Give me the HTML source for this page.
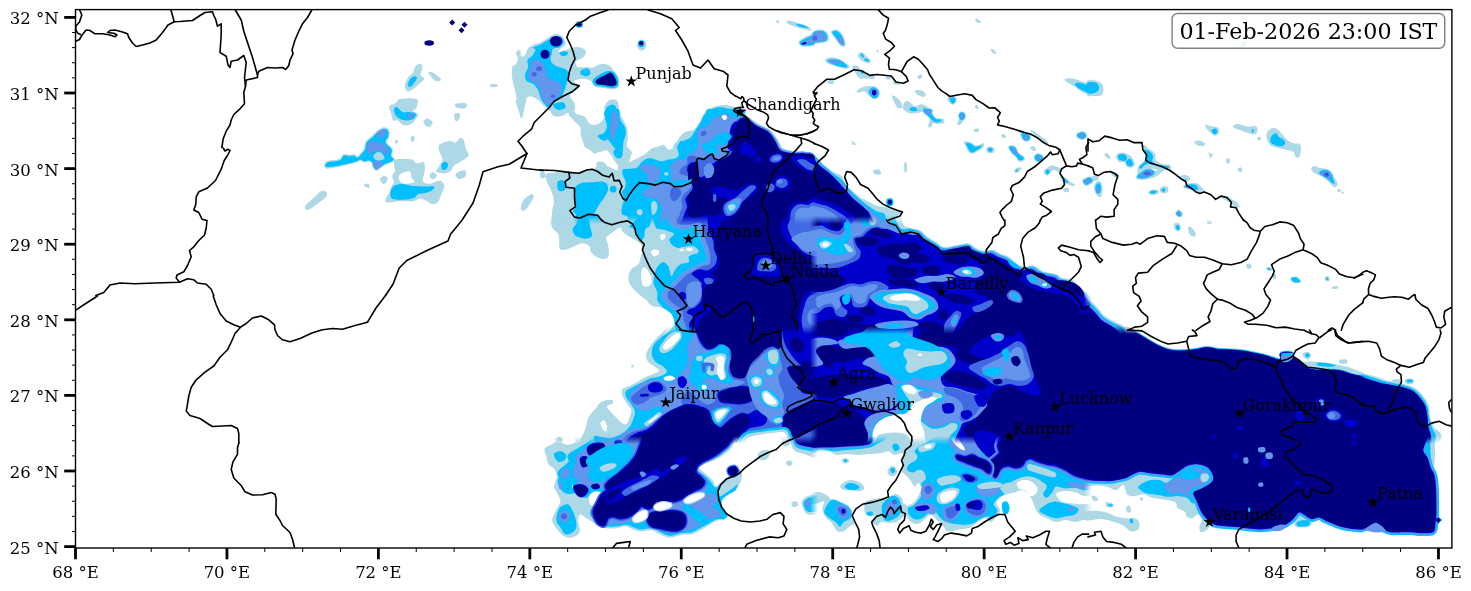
<!DOCTYPE html>
<html><head><meta charset="utf-8"><title>Rain map</title>
<style>
html,body{margin:0;padding:0;background:#fff;}
body{width:1471px;height:591px;overflow:hidden;}
svg{display:block;will-change:transform;}
text{font-family:"DejaVu Serif","Liberation Serif",serif;fill:#000;}
.tk{font-size:16.5px;}
.city{font-size:16px;}
.ts{font-size:22.2px;}
.bd{fill:none;stroke:#000;stroke-width:1.6;stroke-linejoin:round;stroke-linecap:round;}
</style></head><body>
<svg width="1471" height="591" viewBox="0 0 1471 591">
<defs><clipPath id="ax"><rect x="75.5" y="9.6" width="1376.4" height="538.4"/></clipPath><linearGradient id="gl" x1="0" y1="0" x2="1" y2="0"><stop offset="0" stop-color="#000" stop-opacity="1"/><stop offset="1" stop-color="#000" stop-opacity="0"/></linearGradient><linearGradient id="gt" x1="0" y1="0" x2="0" y2="1"><stop offset="0" stop-color="#000" stop-opacity="1"/><stop offset="1" stop-color="#000" stop-opacity="0"/></linearGradient><mask id="m0" maskUnits="userSpaceOnUse" x="539.0" y="216.0" width="279.0" height="118.0"><rect x="539.0" y="216.0" width="279.0" height="118.0" fill="#fff"/><rect x="539.0" y="216.0" width="279.0" height="8.0" fill="url(#gt)"/></mask><mask id="m1" maskUnits="userSpaceOnUse" x="810.0" y="216.0" width="282.0" height="118.0"><rect x="810.0" y="216.0" width="282.0" height="118.0" fill="#fff"/><rect x="810.0" y="216.0" width="8.0" height="118.0" fill="url(#gl)"/><rect x="810.0" y="216.0" width="282.0" height="8.0" fill="url(#gt)"/></mask><mask id="m2" maskUnits="userSpaceOnUse" x="1084.0" y="216.0" width="282.0" height="118.0"><rect x="1084.0" y="216.0" width="282.0" height="118.0" fill="#fff"/><rect x="1084.0" y="216.0" width="8.0" height="118.0" fill="url(#gl)"/><rect x="1084.0" y="216.0" width="282.0" height="8.0" fill="url(#gt)"/></mask><mask id="m3" maskUnits="userSpaceOnUse" x="539.0" y="326.0" width="279.0" height="118.0"><rect x="539.0" y="326.0" width="279.0" height="118.0" fill="#fff"/><rect x="539.0" y="326.0" width="279.0" height="8.0" fill="url(#gt)"/></mask><mask id="m4" maskUnits="userSpaceOnUse" x="810.0" y="326.0" width="282.0" height="118.0"><rect x="810.0" y="326.0" width="282.0" height="118.0" fill="#fff"/><rect x="810.0" y="326.0" width="8.0" height="118.0" fill="url(#gl)"/><rect x="810.0" y="326.0" width="282.0" height="8.0" fill="url(#gt)"/></mask><mask id="m5" maskUnits="userSpaceOnUse" x="1084.0" y="326.0" width="282.0" height="118.0"><rect x="1084.0" y="326.0" width="282.0" height="118.0" fill="#fff"/><rect x="1084.0" y="326.0" width="8.0" height="118.0" fill="url(#gl)"/><rect x="1084.0" y="326.0" width="282.0" height="8.0" fill="url(#gt)"/></mask><mask id="m6" maskUnits="userSpaceOnUse" x="1358.0" y="326.0" width="117.0" height="118.0"><rect x="1358.0" y="326.0" width="117.0" height="118.0" fill="#fff"/><rect x="1358.0" y="326.0" width="8.0" height="118.0" fill="url(#gl)"/><rect x="1358.0" y="326.0" width="117.0" height="8.0" fill="url(#gt)"/></mask><mask id="m7" maskUnits="userSpaceOnUse" x="539.0" y="436.0" width="279.0" height="118.0"><rect x="539.0" y="436.0" width="279.0" height="118.0" fill="#fff"/><rect x="539.0" y="436.0" width="279.0" height="8.0" fill="url(#gt)"/></mask><mask id="m8" maskUnits="userSpaceOnUse" x="810.0" y="436.0" width="282.0" height="118.0"><rect x="810.0" y="436.0" width="282.0" height="118.0" fill="#fff"/><rect x="810.0" y="436.0" width="8.0" height="118.0" fill="url(#gl)"/><rect x="810.0" y="436.0" width="282.0" height="8.0" fill="url(#gt)"/></mask><mask id="m9" maskUnits="userSpaceOnUse" x="1084.0" y="436.0" width="282.0" height="118.0"><rect x="1084.0" y="436.0" width="282.0" height="118.0" fill="#fff"/><rect x="1084.0" y="436.0" width="8.0" height="118.0" fill="url(#gl)"/><rect x="1084.0" y="436.0" width="282.0" height="8.0" fill="url(#gt)"/></mask><mask id="m10" maskUnits="userSpaceOnUse" x="1358.0" y="436.0" width="117.0" height="118.0"><rect x="1358.0" y="436.0" width="117.0" height="118.0" fill="#fff"/><rect x="1358.0" y="436.0" width="8.0" height="118.0" fill="url(#gl)"/><rect x="1358.0" y="436.0" width="117.0" height="8.0" fill="url(#gt)"/></mask></defs>
<rect x="0" y="0" width="1471" height="591" fill="#fff"/>
<g clip-path="url(#ax)">

<ellipse cx="641.8" cy="45.0" rx="4.5" ry="5.5" fill="#add8e6"/>
<path d="M405.0,85.0C405.2,82.7 406.7,79.6 408.0,77.5C409.3,75.4 411.8,74.4 413.0,72.5C414.2,70.6 414.2,67.7 415.5,66.2C416.8,64.8 419.3,63.5 420.5,63.8C421.7,64.0 422.5,65.6 422.5,67.5C422.5,69.4 420.2,73.1 420.5,75.0C420.8,76.9 424.7,77.1 424.2,78.8C423.8,80.4 420.1,83.1 418.0,85.0C415.9,86.9 413.6,89.0 411.8,90.0C409.9,91.0 407.9,92.1 406.8,91.2C405.6,90.4 404.8,87.3 405.0,85.0Z" fill="#add8e6"/>
<path d="M428.5,72.5C428.5,71.6 430.2,71.4 431.8,72.0C433.3,72.6 436.5,74.9 438.0,76.2C439.5,77.6 441.2,79.2 441.0,80.0C440.8,80.8 438.3,81.7 436.8,81.2C435.2,80.8 433.1,79.0 431.8,77.5C430.4,76.0 428.5,73.4 428.5,72.5Z" fill="#add8e6"/>
<path d="M490.5,84.2C491.5,83.8 495.7,83.8 496.8,84.2C497.8,84.7 497.8,86.3 496.8,86.8C495.7,87.2 491.5,87.2 490.5,86.8C489.5,86.3 489.5,84.7 490.5,84.2Z" fill="#add8e6"/>
<path d="M512.5,66.2C513.1,64.7 514.6,65.8 515.5,64.5C516.4,63.2 517.9,60.5 518.0,58.8C518.1,57.0 516.1,55.1 516.0,53.8C515.9,52.4 516.5,51.2 517.2,50.8C518.0,50.2 519.9,49.8 520.5,50.8C521.1,51.7 520.3,55.5 521.0,56.2C521.7,57.0 523.6,56.8 524.8,55.5C525.9,54.2 526.6,50.5 528.0,48.8C529.4,47.0 530.9,46.0 533.0,45.0C535.1,44.0 538.0,43.8 540.5,42.5C543.0,41.2 545.7,38.9 548.0,37.5C550.3,36.1 552.2,34.7 554.2,34.2C556.3,33.8 558.8,34.0 560.5,35.0C562.2,36.0 563.4,38.4 564.2,40.0C565.1,41.6 566.1,43.0 565.5,44.5C564.9,46.0 561.7,47.3 560.5,48.8C559.3,50.2 557.7,52.8 558.5,53.0C559.3,53.2 563.1,50.9 565.5,50.0C567.9,49.1 570.5,47.9 573.0,47.5C575.5,47.1 578.3,46.9 580.5,47.5C582.7,48.1 585.5,49.7 586.0,51.2C586.5,52.8 585.2,55.3 583.5,57.0C581.8,58.7 577.0,59.6 576.0,61.2C575.0,62.9 575.9,66.0 577.5,67.0C579.1,68.0 582.9,66.9 585.5,67.0C588.1,67.1 590.3,68.0 593.0,67.5C595.7,67.0 599.0,64.1 601.8,63.8C604.5,63.4 607.2,64.2 609.2,65.5C611.3,66.8 612.7,69.2 614.2,71.2C615.8,73.2 618.0,75.0 618.8,77.5C619.5,80.0 619.7,84.2 618.8,86.2C617.8,88.2 615.4,89.2 613.0,89.5C610.6,89.8 607.2,88.4 604.2,88.0C601.3,87.6 597.7,88.1 595.5,87.0C593.3,85.9 593.2,82.6 591.2,81.2C589.2,79.9 586.3,78.8 583.5,78.8C580.7,78.8 575.0,80.0 574.2,81.2C573.5,82.5 579.4,84.5 579.2,86.2C579.1,88.0 575.0,90.3 573.5,92.0C572.0,93.7 569.9,94.5 570.0,96.2C570.1,98.0 573.2,100.0 574.2,102.5C575.2,105.0 574.8,109.2 576.0,111.2C577.2,113.3 580.0,113.1 581.8,115.0C583.5,116.9 584.9,121.0 586.8,122.5C588.6,124.0 590.7,124.0 593.0,123.8C595.3,123.5 598.8,123.3 600.5,121.2C602.2,119.2 602.5,114.4 603.5,111.2C604.5,108.1 605.4,104.5 606.8,102.5C608.1,100.5 610.0,99.7 611.8,99.5C613.5,99.3 616.2,99.5 617.5,101.2C618.8,103.0 618.4,107.1 619.2,110.0C620.1,112.9 621.2,115.8 622.5,118.8C623.8,121.7 626.2,124.6 626.8,127.5C627.2,130.4 625.9,132.7 625.5,136.2C625.1,139.8 630.2,146.8 624.2,148.8C618.3,150.7 593.1,149.8 588.0,148.8C582.9,147.7 583.8,142.7 582.5,140.0C581.2,137.3 580.6,134.8 580.5,132.5C580.4,130.2 582.4,128.4 581.8,126.2C581.1,124.1 578.8,121.8 576.8,119.5C574.7,117.2 571.5,113.2 569.2,112.5C567.0,111.8 565.5,114.9 563.0,115.5C560.5,116.1 556.4,117.0 554.2,116.2C552.1,115.5 551.9,113.1 550.0,111.2C548.1,109.4 545.0,106.9 543.0,105.0C541.0,103.1 540.1,101.5 538.0,100.0C535.9,98.5 532.6,96.2 530.5,96.2C528.4,96.2 526.5,97.7 525.5,100.0C524.5,102.3 525.0,107.1 524.2,110.0C523.5,112.9 521.8,117.5 521.0,117.5C520.2,117.5 519.8,112.5 519.2,110.0C518.7,107.5 518.1,105.4 517.5,102.5C516.9,99.6 516.2,95.8 515.5,92.5C514.8,89.2 513.6,85.6 513.0,82.5C512.4,79.4 511.8,76.5 511.8,73.8C511.7,71.0 511.9,67.8 512.5,66.2Z" fill="#add8e6"/>
<path d="M674.2,148.8C669.5,148.0 676.3,142.7 678.0,140.0C679.7,137.3 681.8,134.2 684.2,132.5C686.8,130.8 690.7,131.2 693.0,130.0C695.3,128.8 696.5,127.1 698.0,125.0C699.5,122.9 700.5,119.8 701.8,117.5C703.0,115.2 703.6,112.9 705.5,111.2C707.4,109.6 710.1,108.5 713.0,107.5C715.9,106.5 719.9,105.2 723.0,105.0C726.1,104.8 729.5,105.6 731.8,106.2C734.0,106.9 736.4,106.0 736.8,108.8C737.1,111.5 747.2,142.1 736.8,148.8C726.3,155.4 679.0,149.5 674.2,148.8Z" fill="#add8e6"/>
<path d="M389.4,106.5C390.2,104.7 394.2,104.0 395.9,102.8C397.6,101.6 397.0,99.5 399.6,99.1C402.2,98.6 413.5,97.7 416.4,99.1C419.2,100.5 417.4,105.4 416.7,107.4C416.1,109.5 412.4,110.1 412.7,111.2C412.9,112.2 417.8,112.6 418.2,114.0C418.7,115.3 416.7,117.8 415.4,119.5C414.2,121.2 412.8,123.3 410.8,124.2C408.8,125.1 405.5,125.7 403.3,125.1C401.2,124.5 399.5,121.2 397.8,120.5C396.1,119.7 394.2,121.6 393.1,120.5C392.0,119.4 391.9,116.3 391.3,114.0C390.6,111.6 388.6,108.4 389.4,106.5Z" fill="#add8e6"/>
<path d="M423.4,122.0C423.3,120.5 426.0,118.5 427.5,118.6C429.1,118.7 432.6,121.2 432.7,122.7C432.9,124.2 430.0,127.5 428.5,127.3C426.9,127.2 423.6,123.4 423.4,122.0Z" fill="#add8e6"/>
<path d="M454.5,114.0C455.3,113.1 458.7,112.6 459.5,113.4C460.4,114.2 460.1,117.3 459.5,118.6C459.0,119.9 457.2,121.4 456.4,121.4C455.5,121.4 454.8,119.8 454.5,118.6C454.2,117.4 453.7,114.8 454.5,114.0Z" fill="#add8e6"/>
<path d="M455.8,103.7C457.4,103.0 464.0,102.7 465.7,103.2C467.4,103.6 466.9,105.6 466.6,106.5C466.3,107.4 465.5,108.2 463.8,108.4C462.1,108.5 457.7,108.2 456.4,107.4C455.0,106.7 454.3,104.4 455.8,103.7Z" fill="#add8e6"/>
<path d="M516.5,99.1C518.0,98.0 524.8,97.7 526.1,99.1C527.4,100.5 525.0,104.2 524.3,107.4C523.6,110.7 522.8,117.7 522.0,118.6C521.3,119.5 520.5,115.2 519.6,113.0C518.8,110.9 517.4,107.9 516.8,105.6C516.3,103.3 514.9,100.2 516.5,99.1Z" fill="#add8e6"/>
<path d="M439.3,144.7C441.0,142.8 447.2,141.2 449.9,140.9C452.6,140.6 453.7,143.3 455.4,142.8C457.1,142.3 458.7,138.6 460.1,138.1C461.5,137.7 462.9,138.3 463.8,140.0C464.7,141.7 464.9,145.7 465.7,148.4C466.4,151.0 469.2,153.6 468.5,155.8C467.7,158.0 463.3,159.8 461.0,161.4C458.7,162.9 456.2,163.6 454.5,165.1C452.8,166.7 452.5,169.3 450.8,170.7C449.1,172.1 446.8,173.3 444.3,173.5C441.8,173.6 436.8,172.7 435.9,171.6C435.0,170.5 437.6,169.0 438.7,167.0C439.8,165.0 442.3,162.0 442.4,159.5C442.6,157.1 440.2,154.6 439.6,152.1C439.1,149.6 437.6,146.5 439.3,144.7Z" fill="#add8e6"/>
<path d="M456.4,172.9C457.8,171.9 463.2,169.8 464.7,170.3C466.3,170.9 466.6,174.8 465.7,176.3C464.7,177.7 460.7,179.0 459.2,179.1C457.6,179.1 456.8,177.7 456.4,176.7C455.9,175.6 455.0,174.0 456.4,172.9Z" fill="#add8e6"/>
<path d="M429.8,174.4C430.2,173.5 431.9,172.0 433.1,172.2C434.3,172.3 436.7,174.2 436.8,175.3C437.0,176.5 435.1,178.7 434.0,179.1C433.0,179.5 431.0,178.5 430.3,177.8C429.6,177.0 429.3,175.3 429.8,174.4Z" fill="#add8e6"/>
<path d="M410.8,137.2C411.2,136.3 413.5,135.7 414.1,136.3C414.8,136.8 414.9,139.6 414.5,140.6C414.1,141.5 412.3,142.4 411.7,141.9C411.1,141.3 410.4,138.1 410.8,137.2Z" fill="#add8e6"/>
<path d="M395.5,140.6C395.8,140.0 397.0,139.6 397.4,140.0C397.8,140.4 398.0,142.3 397.8,142.8C397.5,143.3 396.3,143.5 395.9,143.2C395.5,142.8 395.3,141.1 395.5,140.6Z" fill="#add8e6"/>
<path d="M380.7,179.1C381.2,178.1 383.6,175.9 384.7,175.9C385.9,175.9 387.5,177.8 387.5,179.1C387.5,180.4 385.8,183.3 384.7,183.7C383.7,184.2 382.1,182.6 381.4,181.9C380.7,181.1 380.1,180.1 380.7,179.1Z" fill="#add8e6"/>
<path d="M394.0,164.2C394.2,162.3 393.5,160.2 395.9,159.5C398.3,158.9 408.8,159.0 411.7,159.5C414.7,160.1 414.4,162.8 416.4,163.3C418.4,163.7 422.4,161.1 423.8,162.3C425.2,163.6 424.9,167.6 424.7,170.7C424.6,173.8 422.1,178.8 422.9,180.9C423.7,183.1 426.9,183.7 429.4,183.7C431.9,183.7 435.6,181.2 437.8,180.9C439.9,180.6 441.3,180.9 442.4,181.9C443.5,182.8 444.4,184.5 444.3,186.5C444.1,188.5 442.6,191.3 441.5,194.0C440.4,196.6 439.3,200.6 437.8,202.3C436.2,204.0 433.9,204.3 432.2,204.2C430.5,204.0 429.6,202.3 427.5,201.4C425.5,200.5 422.6,198.6 420.1,198.6C417.6,198.6 416.4,200.9 412.7,201.4C408.9,201.9 402.1,201.2 397.8,201.4C393.4,201.6 388.5,202.8 386.6,202.3C384.7,201.9 385.2,200.2 385.7,198.6C386.1,197.1 388.5,195.0 389.4,193.0C390.3,191.0 390.5,188.4 391.3,186.5C392.0,184.7 393.9,183.6 394.0,181.9C394.2,180.2 392.0,178.1 392.2,176.3C392.3,174.4 394.7,172.7 395.0,170.7C395.3,168.7 393.9,166.0 394.0,164.2Z" fill="#add8e6"/>
<path d="M540.1,172.6C540.7,171.5 543.6,170.9 544.4,171.6C545.1,172.4 545.3,176.1 544.7,177.2C544.2,178.3 541.8,178.9 541.0,178.1C540.2,177.4 539.5,173.6 540.1,172.6Z" fill="#add8e6"/>
<path d="M545.7,174.4C546.9,173.6 551.9,171.9 553.1,173.5C554.4,175.0 553.9,182.3 553.1,183.7C552.3,185.1 549.7,182.8 548.5,181.9C547.2,180.9 546.1,179.4 545.7,178.1C545.2,176.9 544.4,175.2 545.7,174.4Z" fill="#add8e6"/>
<path d="M520.9,207.0C521.6,205.5 524.3,201.7 526.1,199.5C527.9,197.4 530.5,194.4 531.7,194.0C533.0,193.5 533.9,195.2 533.6,196.7C533.3,198.3 531.3,201.0 529.9,203.3C528.5,205.5 526.6,209.0 525.2,210.1C523.8,211.3 522.2,210.7 521.5,210.1C520.8,209.6 520.3,208.4 520.9,207.0Z" fill="#add8e6"/>
<path d="M324.3,164.2C324.7,162.9 325.8,161.7 328.2,160.8C330.7,160.0 336.9,160.1 339.4,159.0C341.9,157.9 341.9,155.0 343.5,154.3C345.1,153.6 347.3,154.7 349.1,154.7C350.9,154.7 352.9,154.0 354.3,154.3C355.7,154.6 356.5,156.4 357.4,156.4C358.3,156.3 358.6,155.2 359.7,154.0C360.7,152.7 362.9,150.9 364.0,148.7C365.0,146.6 364.4,143.5 365.8,141.3C367.2,139.1 370.4,137.3 372.5,135.3C374.6,133.4 376.5,131.1 378.5,129.8C380.4,128.4 382.6,127.1 384.4,127.2C386.2,127.2 388.4,128.6 389.3,130.1C390.1,131.7 389.7,134.7 389.3,136.7C388.8,138.6 386.5,140.3 386.7,141.9C386.8,143.4 388.9,144.6 390.0,146.0C391.1,147.3 392.6,148.3 393.0,149.9C393.3,151.4 391.7,153.8 392.0,155.4C392.4,157.1 395.4,158.2 395.2,159.5C395.0,160.8 392.5,162.3 390.7,163.3C389.0,164.2 386.4,164.5 384.8,165.3C383.2,166.1 382.5,167.1 381.1,168.1C379.6,169.1 377.5,171.3 376.0,171.1C374.6,170.8 373.1,167.9 372.3,166.6C371.6,165.3 372.0,164.1 371.4,163.3C370.8,162.4 369.8,161.7 368.6,161.6C367.4,161.5 365.3,162.6 364.0,162.5C362.6,162.4 361.5,160.8 360.2,160.8C359.0,160.8 358.4,161.9 356.5,162.5C354.7,163.1 351.6,163.8 349.1,164.4C346.6,165.0 344.1,165.7 341.6,166.2C339.1,166.8 336.8,167.3 334.2,167.7C331.6,168.1 327.6,169.1 326.0,168.5C324.4,167.9 324.0,165.5 324.3,164.2Z" fill="#add8e6"/>
<path d="M380.3,178.1C380.9,177.1 383.2,175.8 384.4,175.9C385.7,176.1 387.8,177.8 387.8,179.1C387.8,180.4 385.5,183.3 384.4,183.7C383.3,184.2 381.8,182.8 381.1,181.9C380.4,180.9 379.8,179.1 380.3,178.1Z" fill="#add8e6"/>
<path d="M364.3,184.1C364.9,183.6 367.7,183.5 368.6,184.1C369.5,184.7 370.1,186.9 369.5,187.4C369.0,187.9 366.3,187.6 365.4,187.1C364.6,186.5 363.8,184.6 364.3,184.1Z" fill="#add8e6"/>
<path d="M395.2,140.0C395.5,139.7 397.4,141.2 397.4,141.9C397.5,142.5 396.0,144.0 395.6,143.7C395.2,143.4 394.9,140.3 395.2,140.0Z" fill="#add8e6"/>
<path d="M305.3,206.0C306.3,204.4 309.2,202.0 311.9,199.5C314.5,197.1 318.8,192.4 321.2,191.2C323.5,190.0 325.5,191.2 326.4,192.1C327.2,193.0 327.6,195.0 326.4,196.7C325.2,198.4 321.7,200.5 319.3,202.3C316.9,204.2 314.0,206.7 311.9,207.9C309.7,209.1 307.4,210.1 306.3,209.8C305.2,209.5 304.4,207.7 305.3,206.0Z" fill="#add8e6"/>
<path d="M776.5,20.5C776.9,20.1 778.4,20.1 778.8,20.5C779.2,20.9 779.2,22.4 778.8,22.7C778.4,23.1 776.9,23.1 776.5,22.7C776.2,22.4 776.2,20.9 776.5,20.5Z" fill="#add8e6"/>
<path d="M786.2,21.4C786.4,20.7 789.0,20.5 791.4,20.9C793.9,21.3 797.8,22.8 800.8,23.8C803.7,24.9 807.4,25.9 809.1,27.0C810.8,28.2 811.5,30.3 811.0,30.7C810.5,31.2 808.4,30.3 806.3,29.8C804.3,29.3 801.5,28.7 798.9,27.9C796.3,27.2 792.6,26.2 790.5,25.1C788.4,24.1 786.1,22.1 786.2,21.4Z" fill="#add8e6"/>
<path d="M798.5,41.9C798.7,40.6 801.0,39.3 802.6,38.2C804.2,37.1 806.2,36.2 808.2,35.4C810.2,34.6 813.6,32.0 814.7,33.5C815.8,35.1 815.8,42.5 814.7,44.7C813.6,46.9 810.4,46.3 808.2,46.6C806.0,46.8 803.3,47.0 801.7,46.2C800.1,45.4 798.4,43.2 798.5,41.9Z" fill="#add8e6"/>
<path d="M708.6,110.8C705.8,110.2 711.4,107.9 713.2,107.1C715.1,106.3 717.6,105.8 719.7,105.8C721.9,105.8 724.5,106.3 726.3,107.1C728.0,107.9 732.6,110.3 730.0,110.8C727.4,111.4 711.4,111.4 708.6,110.8Z" fill="#add8e6"/>
<path d="M604.3,107.1C604.7,105.5 606.6,102.8 608.0,101.5C609.4,100.3 611.1,99.5 612.6,99.6C614.2,99.8 616.4,100.6 617.3,102.4C618.2,104.3 620.2,109.4 618.2,110.8C616.2,112.2 607.0,111.3 605.2,110.8C603.3,110.3 603.8,108.6 604.3,107.1Z" fill="#add8e6"/>
<path d="M813.1,31.7C814.5,29.4 819.1,29.3 821.5,29.4C823.8,29.6 825.8,31.0 827.0,32.6C828.3,34.2 829.2,37.5 828.9,39.1C828.6,40.8 827.6,41.9 825.2,42.5C822.7,43.0 815.1,44.6 813.1,42.8C811.1,41.0 811.7,33.9 813.1,31.7Z" fill="#add8e6"/>
<path d="M830.8,31.7C831.2,30.5 834.6,29.3 836.4,29.4C838.1,29.6 839.6,31.0 841.0,32.6C842.4,34.2 844.0,36.9 844.7,39.1C845.5,41.3 846.1,44.4 845.7,45.6C845.2,46.9 843.3,47.2 841.9,46.6C840.5,45.9 838.7,43.6 837.3,41.9C835.9,40.2 834.6,38.0 833.6,36.3C832.5,34.6 830.3,32.8 830.8,31.7Z" fill="#add8e6"/>
<path d="M857.8,54.9C858.1,53.9 860.1,52.0 861.5,52.2C862.9,52.3 864.6,54.5 866.2,55.9C867.7,57.3 870.3,59.3 870.8,60.5C871.3,61.8 870.2,63.2 868.9,63.3C867.7,63.5 864.9,62.2 863.4,61.5C861.8,60.7 860.6,59.8 859.6,58.7C858.7,57.6 857.5,56.0 857.8,54.9Z" fill="#add8e6"/>
<path d="M876.4,50.3C876.8,50.1 878.4,50.4 878.8,50.7C879.2,51.0 879.2,52.0 878.8,52.2C878.4,52.3 877.0,52.1 876.6,51.8C876.2,51.5 876.0,50.5 876.4,50.3Z" fill="#add8e6"/>
<path d="M825.2,59.6C825.6,58.6 827.7,57.5 829.8,57.4C832.0,57.2 835.7,57.8 838.2,58.7C840.7,59.5 842.9,61.2 844.7,62.4C846.6,63.6 849.1,65.0 849.4,66.1C849.7,67.2 848.1,68.7 846.6,68.9C845.0,69.1 842.4,68.0 840.1,67.4C837.7,66.8 834.8,65.9 832.6,65.2C830.5,64.5 828.3,64.3 827.0,63.3C825.8,62.4 824.7,60.6 825.2,59.6Z" fill="#add8e6"/>
<path d="M852.2,67.1C852.5,65.8 856.2,65.5 857.8,66.1C859.3,66.7 859.5,69.2 861.5,70.8C863.5,72.3 867.7,74.5 869.9,75.4C872.0,76.4 873.9,75.7 874.5,76.4C875.2,77.0 875.0,78.8 873.6,79.2C872.2,79.5 868.5,78.8 866.2,78.6C863.8,78.4 861.3,79.1 859.6,78.2C857.9,77.4 857.1,75.4 855.9,73.6C854.7,71.7 851.9,68.3 852.2,67.1Z" fill="#add8e6"/>
<path d="M828.0,80.5C828.8,79.8 832.6,79.6 833.6,80.1C834.5,80.6 834.4,82.8 833.6,83.4C832.7,84.1 829.5,84.3 828.5,83.8C827.6,83.3 827.1,81.1 828.0,80.5Z" fill="#add8e6"/>
<path d="M885.7,76.7C886.4,76.3 889.6,76.3 890.4,76.7C891.1,77.1 891.0,78.8 890.4,79.2C889.7,79.6 887.0,79.6 886.3,79.2C885.5,78.8 885.0,77.1 885.7,76.7Z" fill="#add8e6"/>
<path d="M893.2,81.4C894.1,81.0 898.7,81.4 899.7,82.0C900.7,82.5 900.2,84.4 899.3,84.7C898.4,85.1 895.1,84.7 894.1,84.2C893.1,83.6 892.2,81.8 893.2,81.4Z" fill="#add8e6"/>
<path d="M856.5,91.3C856.9,90.4 859.4,88.4 861.5,87.5C863.6,86.7 866.6,86.2 868.9,86.0C871.3,85.9 873.7,85.7 875.5,86.6C877.2,87.5 879.0,89.6 879.6,91.3C880.1,93.0 879.7,95.5 878.8,96.9C878.0,98.2 876.2,99.2 874.5,99.1C872.9,98.9 870.7,97.2 868.9,95.9C867.2,94.6 866.0,91.8 864.3,91.3C862.6,90.7 860.0,92.8 858.7,92.8C857.4,92.8 856.0,92.1 856.5,91.3Z" fill="#add8e6"/>
<path d="M891.9,95.9C892.1,95.0 894.5,95.9 896.0,96.9C897.4,97.8 899.5,99.8 900.6,101.5C901.7,103.2 902.9,106.0 902.5,107.1C902.0,108.2 899.1,108.8 897.8,108.0C896.5,107.3 895.5,104.5 894.5,102.4C893.5,100.4 891.6,96.9 891.9,95.9Z" fill="#add8e6"/>
<path d="M914.6,90.9C915.0,90.1 919.2,89.8 921.1,90.3C923.0,90.9 925.3,93.0 925.8,94.1C926.2,95.1 925.1,96.7 923.9,96.9C922.6,97.0 919.9,96.0 918.3,95.0C916.8,94.0 914.1,91.7 914.6,90.9Z" fill="#add8e6"/>
<path d="M917.4,76.7C917.7,75.9 920.3,73.8 921.1,73.9C921.9,74.0 922.3,76.4 922.0,77.3C921.7,78.2 920.0,79.3 919.2,79.2C918.5,79.1 917.1,77.6 917.4,76.7Z" fill="#add8e6"/>
<path d="M904.3,102.4C905.0,100.9 907.3,100.9 909.0,101.5C910.7,102.1 912.6,105.7 914.6,106.2C916.6,106.6 919.1,104.3 921.1,104.3C923.1,104.3 925.0,105.1 926.7,106.2C928.4,107.3 934.6,110.1 931.3,110.8C928.1,111.5 909.3,112.1 905.3,110.8C901.2,109.6 903.7,104.0 904.3,102.4Z" fill="#add8e6"/>
<path d="M947.2,97.8C947.5,96.5 949.5,95.1 950.9,95.0C952.3,94.8 954.6,95.8 955.6,96.9C956.5,97.9 957.0,100.2 956.5,101.5C956.0,102.8 954.0,104.5 952.8,104.7C951.5,104.8 950.0,103.6 949.0,102.4C948.1,101.3 946.9,99.0 947.2,97.8Z" fill="#add8e6"/>
<path d="M975.1,105.6C975.4,105.0 977.1,104.7 977.5,105.2C978.0,105.8 978.2,108.4 977.9,109.0C977.6,109.5 976.1,109.1 975.7,108.6C975.2,108.0 974.8,106.2 975.1,105.6Z" fill="#add8e6"/>
<path d="M975.1,19.0C975.4,18.5 977.9,18.7 978.8,19.4C979.8,20.0 981.0,22.2 980.7,22.7C980.4,23.2 977.9,23.0 977.0,22.4C976.0,21.7 974.8,19.5 975.1,19.0Z" fill="#add8e6"/>
<path d="M990.6,49.4C990.6,48.6 992.8,48.7 993.7,49.4C994.7,50.0 996.2,52.4 996.2,53.1C996.2,53.8 994.7,54.3 993.7,53.6C992.8,53.0 990.6,50.1 990.6,49.4Z" fill="#add8e6"/>
<path d="M1064.5,79.2C1065.0,78.4 1068.7,78.1 1071.0,78.2C1073.4,78.4 1075.5,79.0 1078.5,80.1C1081.4,81.2 1087.0,82.6 1088.7,84.7C1090.4,86.9 1089.8,91.9 1088.7,93.1C1087.6,94.4 1084.5,93.3 1082.2,92.2C1079.9,91.1 1077.1,88.2 1074.8,86.6C1072.4,85.1 1069.9,84.1 1068.2,82.9C1066.5,81.6 1064.0,79.9 1064.5,79.2Z" fill="#add8e6"/>
<path d="M1087.1,81.0C1088.8,78.7 1094.7,80.2 1097.3,81.0C1100.0,81.8 1102.1,83.3 1102.9,85.7C1103.7,88.0 1103.8,93.3 1102.0,95.0C1100.1,96.7 1094.1,95.9 1091.7,95.9C1089.4,95.9 1087.8,97.3 1087.1,95.0C1086.4,92.7 1085.4,83.3 1087.1,81.0Z" fill="#add8e6"/>
<path d="M1239.8,46.6C1239.6,45.6 1241.3,43.1 1242.6,41.9C1243.8,40.7 1246.6,38.5 1247.2,39.1C1247.9,39.7 1246.9,44.2 1246.3,45.6C1245.7,47.0 1244.6,47.3 1243.5,47.5C1242.4,47.7 1240.0,47.5 1239.8,46.6Z" fill="#add8e6"/>
<path d="M567.9,109.1L618.2,109.1L622.0,119.3L627.2,127.7L627.9,137.9L626.6,146.3L632.2,151.9L630.3,157.5L629.0,162.2L635.0,159.4L644.3,154.7L651.8,148.2L659.2,146.3L663.9,144.5L668.5,150.0L674.1,148.2L677.8,143.5L678.8,137.9L685.3,133.3L694.6,132.4L697.4,124.9L702.0,119.3L705.8,113.7L708.6,109.1L744.9,109.1L745.8,114.7L757.0,123.0L770.0,129.6L777.5,138.9L782.1,148.2L793.3,151.0L804.5,151.0L814.7,155.6L814.7,230.1L551.2,230.1L552.1,210.6L554.0,203.1L553.0,195.7L550.2,188.2L546.5,181.7L547.5,175.2L554.0,172.4L560.5,170.5L567.9,171.5L577.3,172.4L586.6,169.6L594.0,169.6L596.8,165.9L595.9,163.1L599.6,161.2L604.3,162.2L607.1,165.9L614.5,169.6L617.9,170.5L618.2,165.9L613.6,159.4L610.8,154.7L607.1,150.0L599.6,151.9L594.0,153.8L588.8,149.1L585.6,141.7L581.9,134.2L580.0,126.8L574.5,121.2L568.9,115.6Z" fill="#add8e6"/>
<path d="M540.9,173.7C541.4,173.1 543.5,172.8 544.1,173.3C544.7,173.8 545.1,176.1 544.7,176.7C544.2,177.3 542.1,177.5 541.5,177.1C540.9,176.6 540.5,174.3 540.9,173.7Z" fill="#add8e6"/>
<path d="M813.1,156.6C814.0,150.3 820.1,161.5 823.3,164.0C826.6,166.5 829.5,169.4 832.6,171.5C835.7,173.5 839.8,173.9 841.9,176.1C844.1,178.3 844.1,182.2 845.7,184.5C847.2,186.8 848.8,187.9 851.3,190.1C853.7,192.3 857.8,195.7 860.6,197.5C863.4,199.4 865.2,199.9 868.0,201.3C870.8,202.7 874.5,205.0 877.3,205.9C880.1,206.9 882.3,206.2 884.8,206.9C887.3,207.5 889.6,208.7 892.2,209.6C894.9,210.6 900.0,211.0 900.6,212.4C901.2,213.8 897.3,215.1 896.0,218.0C894.6,221.0 898.5,229.2 892.2,230.1C886.0,231.0 826.3,242.4 813.1,230.1C799.9,217.9 812.1,162.8 813.1,156.6Z" fill="#add8e6"/>
<path d="M906.2,110.9C906.8,110.3 911.9,109.7 914.6,109.4C917.2,109.2 921.1,109.0 922.0,109.4C923.0,109.9 921.7,111.7 920.2,112.2C918.6,112.8 913.2,113.6 910.9,113.4C908.5,113.1 905.6,111.6 906.2,110.9Z" fill="#add8e6"/>
<path d="M922.0,109.4C923.4,108.7 930.4,108.6 932.3,109.4C934.1,110.3 932.4,113.2 933.2,114.7C934.0,116.1 935.2,117.7 936.9,118.4C938.6,119.1 942.3,118.2 943.4,118.9C944.6,119.7 944.8,122.2 943.8,123.0C942.9,123.9 939.6,124.0 937.9,124.0C936.1,124.0 934.3,122.5 933.2,123.0C932.1,123.6 932.2,126.6 931.3,127.1C930.5,127.7 928.3,127.4 928.0,126.4C927.7,125.4 929.4,122.8 929.5,121.2C929.6,119.5 929.5,117.8 928.5,116.5C927.6,115.3 925.0,114.9 923.9,113.7C922.8,112.5 920.6,110.2 922.0,109.4Z" fill="#add8e6"/>
<path d="M958.3,114.7C958.7,113.4 960.1,111.8 961.1,111.5C962.2,111.2 964.1,111.8 964.9,112.8C965.6,113.8 966.1,116.1 965.8,117.5C965.5,118.8 963.9,119.9 963.0,121.2C962.1,122.4 961.2,124.4 960.2,124.9C959.2,125.4 957.3,124.9 957.0,124.0C956.8,123.0 958.7,120.9 958.9,119.3C959.1,117.8 958.0,116.0 958.3,114.7Z" fill="#add8e6"/>
<path d="M974.2,129.2C974.8,128.6 977.5,128.3 978.3,128.6C979.1,129.0 979.5,130.9 978.8,131.4C978.2,132.0 975.3,132.4 974.6,132.0C973.8,131.6 973.6,129.7 974.2,129.2Z" fill="#add8e6"/>
<path d="M1001.2,135.1C1001.4,134.5 1003.6,133.9 1004.4,134.2C1005.1,134.5 1006.1,136.3 1005.8,137.0C1005.6,137.7 1003.8,138.6 1003.0,138.3C1002.3,138.0 1001.0,135.8 1001.2,135.1Z" fill="#add8e6"/>
<path d="M963.9,141.7C964.7,140.9 968.4,141.4 970.5,142.0C972.5,142.7 973.8,145.2 976.0,145.4C978.3,145.6 982.8,142.7 983.9,143.2C985.0,143.6 983.6,146.9 982.6,148.2C981.6,149.5 979.6,150.0 977.9,151.0C976.2,151.9 973.9,153.6 972.3,153.8C970.8,153.9 969.7,153.1 968.6,151.9C967.5,150.7 966.6,148.0 965.8,146.3C965.0,144.6 963.2,142.4 963.9,141.7Z" fill="#add8e6"/>
<path d="M986.3,148.2C986.8,147.3 988.7,146.2 990.0,146.3C991.3,146.4 993.7,147.7 994.3,148.7C994.9,149.8 994.6,151.7 993.7,152.5C992.9,153.2 990.3,153.4 989.1,153.2C987.9,153.0 987.1,152.2 986.7,151.3C986.2,150.5 985.7,149.0 986.3,148.2Z" fill="#add8e6"/>
<path d="M1008.1,147.3C1008.1,145.9 1010.1,145.0 1011.4,145.0C1012.8,145.0 1014.8,145.9 1016.1,147.3C1017.3,148.6 1017.5,151.3 1018.9,152.8C1020.2,154.4 1023.2,155.3 1024.1,156.6C1025.0,157.8 1025.3,159.4 1024.5,160.3C1023.6,161.2 1020.3,162.2 1018.9,161.8C1017.5,161.3 1017.3,158.9 1016.1,157.5C1014.8,156.1 1012.8,154.9 1011.4,153.2C1010.1,151.5 1008.1,148.6 1008.1,147.3Z" fill="#add8e6"/>
<path d="M1018.9,129.6C1019.7,128.9 1023.5,130.6 1025.4,131.4C1027.3,132.2 1029.1,133.0 1030.1,134.2C1031.0,135.5 1031.5,137.6 1031.0,138.9C1030.5,140.1 1028.7,141.5 1027.3,141.7C1025.8,141.8 1023.4,140.9 1022.2,139.8C1021.1,138.7 1020.9,136.9 1020.4,135.1C1019.8,133.4 1018.0,130.2 1018.9,129.6Z" fill="#add8e6"/>
<path d="M1030.1,130.1C1030.1,129.5 1033.0,130.4 1034.7,131.4C1036.4,132.4 1038.4,134.7 1040.3,136.1C1042.2,137.5 1044.5,138.4 1045.9,139.8C1047.3,141.2 1048.8,143.7 1048.7,144.5C1048.5,145.2 1046.4,145.2 1045.0,144.5C1043.6,143.7 1042.0,141.4 1040.3,139.8C1038.6,138.2 1036.4,136.8 1034.7,135.1C1033.0,133.5 1030.1,130.7 1030.1,130.1Z" fill="#add8e6"/>
<path d="M1030.1,147.3C1030.2,146.5 1032.8,145.9 1033.8,146.3C1034.8,146.7 1036.2,148.7 1036.0,149.5C1035.9,150.3 1033.8,151.3 1032.8,151.0C1031.9,150.6 1029.9,148.0 1030.1,147.3Z" fill="#add8e6"/>
<path d="M1033.8,156.6C1034.1,155.2 1036.1,153.5 1037.5,153.2C1038.9,152.9 1041.1,153.8 1042.2,154.7C1043.2,155.6 1044.3,157.5 1044.0,158.8C1043.7,160.1 1041.7,162.1 1040.3,162.5C1038.9,162.9 1036.7,162.2 1035.6,161.2C1034.6,160.2 1033.5,157.9 1033.8,156.6Z" fill="#add8e6"/>
<path d="M1014.2,170.5C1014.6,169.6 1016.7,167.8 1017.9,167.4C1019.2,167.0 1021.5,167.4 1021.7,168.1C1021.8,168.9 1019.9,171.0 1018.9,171.8C1017.9,172.6 1016.3,173.2 1015.5,173.0C1014.8,172.7 1013.8,171.5 1014.2,170.5Z" fill="#add8e6"/>
<path d="M1044.0,170.5C1044.6,169.4 1046.5,168.6 1047.7,167.7C1049.0,166.9 1049.9,165.7 1051.5,165.5C1053.0,165.3 1055.4,166.2 1057.1,166.8C1058.7,167.4 1060.9,168.3 1061.3,169.2C1061.7,170.2 1060.7,172.3 1059.5,172.4C1058.3,172.5 1055.8,170.0 1054.3,170.0C1052.8,170.0 1051.6,171.5 1050.5,172.4C1049.5,173.3 1048.7,175.3 1047.7,175.6C1046.8,175.9 1045.2,175.1 1044.6,174.3C1044.0,173.4 1043.5,171.6 1044.0,170.5Z" fill="#add8e6"/>
<path d="M1059.5,176.7C1059.8,175.9 1062.7,176.2 1064.5,177.1C1066.3,177.9 1068.4,180.5 1070.1,181.7C1071.8,182.9 1074.3,183.7 1074.8,184.5C1075.2,185.3 1074.1,186.4 1072.9,186.4C1071.7,186.3 1069.0,184.9 1067.3,184.1C1065.6,183.4 1064.0,182.9 1062.6,181.7C1061.3,180.5 1059.2,177.5 1059.5,176.7Z" fill="#add8e6"/>
<path d="M1063.6,188.6C1064.2,188.0 1067.4,187.7 1068.2,188.2C1069.1,188.7 1069.4,191.0 1068.8,191.6C1068.2,192.2 1065.4,192.4 1064.5,192.0C1063.6,191.5 1063.0,189.2 1063.6,188.6Z" fill="#add8e6"/>
<path d="M1076.2,134.2C1076.7,133.1 1078.8,131.7 1080.3,131.4C1081.9,131.1 1084.5,131.4 1085.6,132.4C1086.6,133.3 1087.3,135.8 1086.9,137.0C1086.5,138.2 1084.7,139.6 1083.1,139.8C1081.6,140.0 1078.7,139.2 1077.6,138.3C1076.4,137.4 1075.8,135.4 1076.2,134.2Z" fill="#add8e6"/>
<path d="M1082.2,180.8C1082.2,179.5 1083.9,178.4 1085.0,178.0C1086.1,177.6 1088.1,177.5 1088.7,178.5C1089.3,179.6 1089.3,183.4 1088.7,184.5C1088.1,185.7 1086.1,186.1 1085.0,185.4C1083.9,184.8 1082.2,182.0 1082.2,180.8Z" fill="#add8e6"/>
<path d="M851.3,140.2L856.5,144.5L852.7,145.0Z" fill="#add8e6"/>
<path d="M873.2,170.5C873.8,169.8 877.0,168.9 878.3,169.2C879.6,169.5 880.9,171.5 881.1,172.4C881.2,173.3 880.3,174.6 879.2,174.8C878.1,175.0 875.5,174.4 874.5,173.7C873.5,173.0 872.6,171.3 873.2,170.5Z" fill="#add8e6"/>
<path d="M904.3,163.1C904.6,161.9 906.4,161.9 906.8,163.1C907.1,164.2 907.0,170.8 906.8,171.8C906.5,172.9 904.8,172.9 904.5,171.8C904.2,170.8 904.0,164.3 904.3,163.1Z" fill="#add8e6"/>
<path d="M1104.4,154.3C1104.6,153.8 1105.9,152.7 1107.0,153.2C1108.1,153.7 1110.5,156.6 1110.7,157.5C1111.0,158.4 1109.3,159.0 1108.5,158.8C1107.6,158.6 1106.4,157.3 1105.7,156.6C1105.0,155.8 1104.2,154.9 1104.4,154.3Z" fill="#add8e6"/>
<path d="M1115.9,156.6C1115.9,155.1 1117.3,153.8 1118.7,153.2C1120.1,152.6 1122.5,152.4 1124.3,152.8C1126.2,153.2 1128.4,154.5 1129.9,155.6C1131.5,156.8 1132.9,158.4 1133.6,159.9C1134.4,161.5 1135.0,163.6 1134.6,164.9C1134.1,166.2 1132.2,167.6 1130.8,167.7C1129.4,167.9 1127.3,166.8 1126.2,165.9C1125.1,164.9 1125.6,162.8 1124.3,162.2C1123.1,161.5 1120.1,162.7 1118.7,161.8C1117.3,160.8 1115.9,158.0 1115.9,156.6Z" fill="#add8e6"/>
<path d="M1142.9,144.5C1144.0,144.3 1147.4,147.6 1149.5,149.1C1151.5,150.7 1154.0,151.9 1155.1,153.8C1156.1,155.6 1154.7,158.6 1156.0,160.3C1157.2,162.0 1160.2,163.2 1162.5,164.0C1164.8,164.8 1168.6,164.1 1170.0,164.9C1171.3,165.8 1171.5,168.5 1170.9,169.2C1170.3,170.0 1167.8,169.1 1166.2,169.6C1164.7,170.1 1163.4,171.2 1161.6,172.4C1159.7,173.6 1157.4,175.9 1155.1,177.1C1152.7,178.2 1150.1,178.8 1147.6,179.3C1145.1,179.8 1142.1,180.0 1140.2,179.8C1138.2,179.7 1136.5,179.6 1136.1,178.5C1135.6,177.5 1137.0,175.3 1137.4,173.3C1137.7,171.4 1137.2,168.8 1138.3,166.8C1139.4,164.8 1142.6,162.9 1143.9,161.2C1145.1,159.5 1145.9,158.4 1145.7,156.6C1145.6,154.7 1143.4,152.1 1142.9,150.0C1142.5,148.0 1141.9,144.6 1142.9,144.5Z" fill="#add8e6"/>
<path d="M1148.5,192.0C1149.0,191.2 1150.7,190.0 1152.3,189.7C1153.8,189.4 1156.8,189.6 1157.8,190.1C1158.9,190.6 1159.4,192.1 1158.8,192.9C1158.2,193.7 1155.7,194.5 1154.1,194.7C1152.6,195.0 1150.4,194.7 1149.5,194.2C1148.5,193.7 1148.1,192.7 1148.5,192.0Z" fill="#add8e6"/>
<path d="M1159.7,189.2C1160.2,188.2 1162.1,186.3 1163.4,186.0C1164.8,185.7 1166.9,186.4 1167.7,187.3C1168.5,188.2 1168.6,190.6 1168.1,191.6C1167.5,192.6 1165.6,193.4 1164.4,193.4C1163.1,193.5 1161.4,192.7 1160.6,192.0C1159.9,191.2 1159.2,190.2 1159.7,189.2Z" fill="#add8e6"/>
<path d="M1087.1,177.1C1088.0,175.9 1091.6,176.6 1092.7,177.4C1093.7,178.2 1094.1,180.5 1093.6,181.7C1093.1,182.9 1090.9,184.0 1089.9,184.5C1088.8,185.0 1087.5,185.7 1087.1,184.5C1086.6,183.3 1086.1,178.2 1087.1,177.1Z" fill="#add8e6"/>
<path d="M1094.5,184.5C1095.1,182.8 1097.0,180.9 1098.2,180.8C1099.5,180.6 1101.3,182.0 1102.0,183.6C1102.7,185.1 1102.7,187.9 1102.5,190.1C1102.4,192.3 1101.9,195.7 1101.0,196.6C1100.2,197.5 1098.4,196.6 1097.3,195.7C1096.2,194.7 1095.0,192.9 1094.5,191.0C1094.1,189.2 1093.9,186.2 1094.5,184.5Z" fill="#add8e6"/>
<path d="M1091.7,176.7C1092.5,175.9 1096.2,175.6 1097.3,176.1C1098.4,176.6 1099.0,179.1 1098.2,179.8C1097.5,180.6 1093.7,181.3 1092.7,180.8C1091.6,180.2 1090.9,177.5 1091.7,176.7Z" fill="#add8e6"/>
<path d="M1110.4,171.5C1111.0,171.0 1114.5,171.7 1115.9,172.4C1117.3,173.1 1118.7,174.7 1118.7,175.6C1118.7,176.4 1117.0,177.5 1115.9,177.4C1114.9,177.4 1113.1,176.2 1112.2,175.2C1111.3,174.2 1109.7,171.9 1110.4,171.5Z" fill="#add8e6"/>
<path d="M1180.2,176.1C1181.1,175.5 1185.1,174.7 1186.7,175.2C1188.4,175.7 1190.2,178.2 1190.1,179.3C1189.9,180.4 1187.3,181.8 1185.8,181.7C1184.3,181.6 1182.1,179.8 1181.1,178.9C1180.2,178.0 1179.3,176.7 1180.2,176.1Z" fill="#add8e6"/>
<path d="M1183.0,186.4C1183.0,185.4 1186.2,184.0 1188.6,183.6C1190.9,183.1 1194.6,182.8 1197.0,183.6C1199.3,184.3 1201.1,186.9 1202.5,188.2C1203.9,189.6 1205.8,190.8 1205.3,191.6C1204.9,192.4 1201.6,193.0 1199.8,192.9C1197.9,192.8 1196.0,191.6 1194.2,191.0C1192.3,190.4 1190.4,189.9 1188.6,189.2C1186.7,188.4 1183.0,187.3 1183.0,186.4Z" fill="#add8e6"/>
<path d="M1220.6,197.2C1220.8,196.5 1224.8,195.7 1226.8,196.0C1228.7,196.4 1230.6,198.4 1232.3,199.4C1234.1,200.4 1235.8,201.0 1237.0,202.2C1238.2,203.4 1240.1,206.1 1239.8,206.9C1239.5,207.6 1236.7,207.5 1235.1,206.9C1233.6,206.2 1232.0,204.2 1230.5,203.1C1228.9,202.0 1227.5,201.3 1225.8,200.3C1224.2,199.3 1220.5,197.9 1220.6,197.2Z" fill="#add8e6"/>
<path d="M1175.2,213.4C1175.2,212.1 1177.2,209.9 1178.3,209.6C1179.5,209.4 1181.3,211.0 1182.1,212.1C1182.8,213.2 1183.2,215.3 1182.6,216.2C1182.0,217.0 1179.6,217.6 1178.3,217.1C1177.1,216.6 1175.2,214.6 1175.2,213.4Z" fill="#add8e6"/>
<path d="M1205.0,124.5C1205.3,123.9 1207.5,125.5 1209.1,125.8C1210.7,126.2 1213.0,126.3 1214.7,126.8C1216.3,127.2 1218.1,127.4 1218.8,128.6C1219.4,129.8 1219.1,132.7 1218.4,133.8C1217.7,135.0 1215.9,135.8 1214.7,135.7C1213.4,135.6 1212.2,134.3 1210.9,133.3C1209.7,132.3 1208.2,131.0 1207.2,129.6C1206.2,128.1 1204.7,125.1 1205.0,124.5Z" fill="#add8e6"/>
<path d="M1194.2,141.7C1194.5,140.9 1198.0,140.4 1199.8,140.7C1201.6,141.0 1204.3,142.7 1205.0,143.5C1205.6,144.4 1204.7,145.5 1203.5,145.8C1202.3,146.1 1199.4,146.1 1197.9,145.4C1196.3,144.7 1193.9,142.4 1194.2,141.7Z" fill="#add8e6"/>
<path d="M1208.7,152.5C1209.0,152.2 1210.1,153.5 1210.9,153.8C1211.8,154.1 1213.8,153.9 1213.9,154.3C1214.1,154.7 1212.5,155.5 1211.9,156.2C1211.2,156.9 1210.5,158.5 1210.0,158.4C1209.5,158.3 1209.3,156.6 1209.1,155.6C1208.8,154.6 1208.4,152.8 1208.7,152.5Z" fill="#add8e6"/>
<path d="M1225.8,159.4C1226.1,158.6 1228.5,158.3 1229.2,158.8C1229.9,159.3 1230.2,161.3 1229.9,162.2C1229.6,163.0 1228.0,164.1 1227.3,163.6C1226.6,163.2 1225.5,160.2 1225.8,159.4Z" fill="#add8e6"/>
<path d="M1237.9,168.1C1238.4,167.4 1240.9,167.2 1241.7,167.7C1242.4,168.3 1242.7,170.8 1242.2,171.5C1241.8,172.1 1239.6,172.4 1238.9,171.8C1238.2,171.3 1237.5,168.8 1237.9,168.1Z" fill="#add8e6"/>
<path d="M1232.9,125.8C1233.2,125.1 1235.4,124.1 1237.0,124.0C1238.6,123.8 1240.7,124.4 1242.6,124.9C1244.5,125.4 1246.2,126.6 1248.2,126.8C1250.2,126.9 1253.1,125.5 1254.7,125.8C1256.2,126.1 1257.2,127.4 1257.5,128.6C1257.8,129.9 1257.3,132.4 1256.6,133.3C1255.8,134.2 1254.5,134.4 1252.8,134.2C1251.1,134.1 1248.5,133.0 1246.3,132.4C1244.1,131.7 1241.7,130.7 1239.8,130.1C1237.9,129.5 1236.3,129.3 1235.1,128.6C1234.0,127.9 1232.6,126.6 1232.9,125.8Z" fill="#add8e6"/>
<path d="M1257.1,137.6C1257.5,137.0 1259.7,136.6 1260.3,137.0C1260.9,137.4 1261.2,139.3 1260.8,139.8C1260.4,140.3 1258.5,140.5 1257.9,140.2C1257.2,139.8 1256.7,138.1 1257.1,137.6Z" fill="#add8e6"/>
<path d="M1266.4,134.2C1266.7,132.2 1268.3,130.6 1269.6,129.6C1270.9,128.5 1272.7,127.9 1274.3,128.1C1275.8,128.2 1277.5,129.3 1278.9,130.5C1280.3,131.7 1281.1,133.4 1282.6,135.1C1284.2,136.9 1286.2,139.3 1288.2,140.7C1290.2,142.1 1292.7,142.9 1294.7,143.5C1296.8,144.1 1299.3,142.9 1300.3,144.5C1301.3,146.0 1301.0,150.7 1300.7,152.8C1300.4,155.0 1299.4,156.9 1298.5,157.5C1297.5,158.1 1295.9,157.5 1295.1,156.6C1294.3,155.6 1295.1,153.0 1293.8,151.9C1292.5,150.8 1289.6,150.7 1287.3,150.0C1285.0,149.4 1282.3,148.8 1279.8,148.2C1277.4,147.6 1274.4,147.4 1272.4,146.3C1270.4,145.2 1268.7,143.7 1267.7,141.7C1266.7,139.6 1266.1,136.2 1266.4,134.2Z" fill="#add8e6"/>
<path d="M1311.1,168.7C1311.1,167.5 1312.7,166.0 1314.3,165.9C1315.9,165.8 1318.6,167.6 1320.8,168.1C1323.0,168.7 1325.5,168.5 1327.3,169.2C1329.2,169.9 1330.8,170.9 1332.0,172.4C1333.2,173.9 1333.9,176.1 1334.8,178.0C1335.7,179.8 1337.4,182.0 1337.6,183.6C1337.7,185.1 1336.6,187.0 1335.7,187.3C1334.8,187.6 1333.4,186.5 1332.0,185.4C1330.6,184.3 1329.2,182.3 1327.3,180.8C1325.5,179.2 1323.0,177.4 1320.8,176.1C1318.6,174.8 1315.9,174.2 1314.3,173.0C1312.7,171.7 1311.1,169.8 1311.1,168.7Z" fill="#add8e6"/>
<path d="M1337.2,189.5C1337.7,189.1 1339.9,188.8 1340.6,189.2C1341.2,189.5 1341.4,191.0 1340.9,191.4C1340.4,191.8 1338.2,191.9 1337.6,191.6C1337.0,191.3 1336.7,189.9 1337.2,189.5Z" fill="#add8e6"/>
<path d="M1341.3,192.0C1341.6,191.6 1343.0,191.4 1343.4,191.6C1343.7,191.8 1343.8,192.9 1343.5,193.3C1343.3,193.6 1342.1,193.7 1341.7,193.4C1341.3,193.2 1341.0,192.3 1341.3,192.0Z" fill="#add8e6"/>
<path d="M521.0,206.8C521.2,204.9 522.5,201.3 524.2,199.2C526.0,197.2 530.3,194.5 531.8,194.2C533.2,194.0 533.6,196.1 533.0,198.0C532.4,199.9 529.7,204.7 528.0,206.8C526.3,208.8 524.2,210.5 523.0,210.5C521.8,210.5 520.8,208.6 521.0,206.8Z" fill="#add8e6"/>
<path d="M540.5,172.5C541.0,171.7 543.1,171.0 543.8,171.8C544.4,172.5 544.7,175.9 544.2,176.8C543.8,177.6 541.6,177.5 541.0,176.8C540.4,176.0 540.0,173.3 540.5,172.5Z" fill="#add8e6"/>
<path d="M721.8,116.2C722.7,116.1 725.3,117.7 725.5,118.8C725.7,119.8 723.9,122.4 723.0,122.5C722.1,122.6 720.2,120.5 720.0,119.5C719.8,118.5 720.8,116.4 721.8,116.2Z" fill="#ffffff"/>
<path d="M398.7,176.3C399.2,174.7 401.5,173.3 403.3,172.6C405.2,171.8 408.5,170.7 409.9,171.6C411.3,172.6 410.9,176.4 411.7,178.1C412.5,179.8 415.6,180.9 414.5,181.9C413.4,182.8 407.5,183.7 405.2,183.7C402.9,183.7 401.6,183.1 400.6,181.9C399.5,180.6 398.2,177.8 398.7,176.3Z" fill="#ffffff"/>
<path d="M575.4,109.1C573.0,109.4 574.8,112.5 576.3,113.7C577.9,115.0 582.6,115.0 584.7,116.5C586.8,118.1 587.1,121.6 588.8,123.0C590.5,124.4 592.8,125.1 594.9,124.9C597.1,124.7 599.8,123.1 601.5,121.5C603.2,120.0 604.4,117.7 605.2,115.6C606.0,113.5 609.3,109.8 606.1,109.1C602.9,108.4 577.7,108.7 575.4,109.1Z" fill="#ffffff"/>
<ellipse cx="579.2" cy="24.5" rx="3.8" ry="3.2" fill="#00bfff"/>
<ellipse cx="641.2" cy="43.8" rx="3.2" ry="3.5" fill="#00bfff"/>
<path d="M408.0,83.8C408.3,82.2 409.8,79.2 411.0,78.0C412.2,76.8 414.5,76.1 415.5,76.2C416.5,76.4 417.2,77.4 416.8,78.8C416.3,80.1 414.2,83.1 413.0,84.5C411.8,85.9 410.1,87.1 409.2,87.0C408.4,86.9 407.7,85.2 408.0,83.8Z" fill="#00bfff"/>
<path d="M525.0,75.0C525.2,72.7 527.6,70.0 528.0,67.5C528.4,65.0 526.9,61.9 527.5,60.0C528.1,58.1 530.4,57.9 531.8,56.2C533.1,54.6 535.3,51.5 535.5,50.0C535.7,48.5 532.2,48.4 533.0,47.5C533.8,46.6 538.0,45.8 540.5,44.5C543.0,43.2 545.7,41.4 548.0,40.0C550.3,38.6 552.0,36.7 554.2,36.2C556.5,35.8 560.2,36.5 561.8,37.5C563.3,38.5 563.9,40.8 563.5,42.5C563.1,44.2 561.0,46.5 559.2,47.5C557.5,48.5 554.2,47.7 553.0,48.8C551.8,49.8 552.2,51.9 551.8,53.8C551.3,55.6 550.1,58.1 550.5,60.0C550.9,61.9 552.6,63.8 554.2,65.0C555.9,66.2 558.4,66.7 560.5,67.5C562.6,68.3 565.5,68.8 566.8,70.0C568.0,71.2 568.0,72.9 568.0,75.0C568.0,77.1 567.2,80.4 566.8,82.5C566.3,84.6 566.3,85.2 565.5,87.5C564.7,89.8 563.0,94.4 561.8,96.2C560.5,98.1 559.2,97.9 558.0,98.8C556.8,99.6 555.7,99.8 554.2,101.2C552.8,102.7 550.9,107.1 549.2,107.5C547.6,107.9 545.7,105.4 544.2,103.8C542.8,102.1 541.5,99.8 540.5,97.5C539.5,95.2 539.2,92.3 538.0,90.0C536.8,87.7 534.9,85.2 533.0,83.8C531.1,82.3 528.1,82.7 526.8,81.2C525.4,79.8 524.8,77.3 525.0,75.0Z" fill="#00bfff"/>
<path d="M559.2,52.5C559.7,51.7 564.0,51.0 565.5,51.2C567.0,51.5 568.4,52.9 568.0,53.8C567.6,54.6 564.5,56.5 563.0,56.2C561.5,56.0 558.8,53.3 559.2,52.5Z" fill="#00bfff"/>
<path d="M581.8,70.0C583.0,69.2 586.5,68.1 588.0,68.8C589.5,69.4 590.9,72.5 590.5,73.8C590.1,75.0 587.2,76.2 585.5,76.2C583.8,76.2 581.1,74.8 580.5,73.8C579.9,72.7 580.5,70.8 581.8,70.0Z" fill="#00bfff"/>
<path d="M554.2,103.8C555.7,102.9 561.1,101.9 563.0,102.5C564.9,103.1 566.1,106.2 565.5,107.5C564.9,108.8 561.1,110.0 559.2,110.0C557.4,110.0 555.1,108.5 554.2,107.5C553.4,106.5 552.8,104.6 554.2,103.8Z" fill="#00bfff"/>
<path d="M592.5,81.2C592.7,79.7 594.4,77.9 596.8,76.2C599.1,74.6 603.8,71.9 606.8,71.2C609.7,70.6 612.4,71.0 614.2,72.5C616.1,74.0 617.5,77.7 618.0,80.0C618.5,82.3 618.5,84.9 617.5,86.2C616.5,87.6 614.2,87.9 611.8,88.0C609.3,88.1 605.7,87.2 603.0,86.8C600.3,86.3 597.2,86.4 595.5,85.5C593.8,84.6 592.3,82.8 592.5,81.2Z" fill="#00bfff"/>
<path d="M604.2,112.5C604.7,110.2 606.3,107.5 608.0,106.2C609.7,105.0 612.7,104.2 614.2,105.0C615.8,105.8 616.7,108.8 617.5,111.2C618.3,113.8 618.1,117.3 619.2,120.0C620.4,122.7 623.6,124.2 624.2,127.5C624.9,130.8 623.4,136.5 623.0,140.0C622.6,143.5 623.0,147.3 621.8,148.8C620.5,150.2 617.8,150.2 615.5,148.8C613.2,147.3 610.9,142.1 608.0,140.0C605.1,137.9 598.8,137.3 598.0,136.2C597.2,135.2 601.5,135.2 603.0,133.8C604.5,132.3 606.3,129.8 606.8,127.5C607.2,125.2 605.9,122.5 605.5,120.0C605.1,117.5 603.8,114.8 604.2,112.5Z" fill="#00bfff"/>
<path d="M678.0,148.8C674.7,148.4 678.4,144.4 680.5,142.5C682.6,140.6 688.0,139.6 690.5,137.5C693.0,135.4 693.8,132.5 695.5,130.0C697.2,127.5 699.0,125.0 700.5,122.5C702.0,120.0 702.4,117.1 704.2,115.0C706.1,112.9 708.8,111.2 711.8,110.0C714.7,108.8 718.6,107.5 721.8,107.5C724.9,107.5 728.0,109.2 730.5,110.0C733.0,110.8 736.2,109.2 736.8,112.5C737.3,115.8 746.5,142.7 736.8,148.8C727.0,154.8 681.3,149.1 678.0,148.8Z" fill="#00bfff"/>
<path d="M394.0,109.3C394.2,107.8 395.4,106.6 396.8,107.1C398.2,107.5 400.6,111.3 402.4,112.1C404.3,112.9 405.8,111.9 408.0,112.1C410.2,112.3 414.4,112.5 415.4,113.4C416.5,114.3 415.8,116.5 414.5,117.7C413.3,118.9 410.2,120.2 408.0,120.5C405.8,120.8 403.5,120.3 401.5,119.5C399.5,118.8 397.1,117.5 395.9,115.8C394.7,114.1 393.9,110.8 394.0,109.3Z" fill="#00bfff"/>
<path d="M441.5,164.2C442.0,162.9 444.1,161.8 445.2,161.8C446.3,161.8 447.8,163.0 448.0,164.2C448.2,165.4 447.4,167.9 446.5,168.8C445.6,169.8 443.3,170.5 442.4,169.8C441.6,169.0 441.0,165.5 441.5,164.2Z" fill="#00bfff"/>
<path d="M390.3,193.0C390.6,191.2 391.3,188.0 393.1,186.5C395.0,185.0 398.2,184.2 401.5,184.1C404.7,184.0 408.9,185.6 412.7,186.0C416.4,186.4 420.2,186.4 423.8,186.5C427.4,186.6 432.7,185.9 434.0,186.5C435.4,187.1 433.6,189.1 432.2,190.2C430.8,191.3 428.0,192.4 425.7,193.0C423.3,193.6 420.1,193.2 418.2,194.0C416.4,194.7 416.4,196.7 414.5,197.7C412.7,198.6 410.2,199.2 407.1,199.5C404.0,199.8 398.4,199.8 395.9,199.5C393.4,199.2 392.2,198.8 391.3,197.7C390.3,196.6 390.0,194.9 390.3,193.0Z" fill="#00bfff"/>
<path d="M325.6,164.6C325.9,163.8 326.8,162.7 328.6,162.1C330.4,161.6 337.2,161.3 339.8,160.3C342.3,159.2 342.3,156.5 343.9,155.8C345.4,155.1 347.3,156.2 349.1,156.2C350.8,156.2 352.9,155.6 354.3,155.8C355.7,156.1 356.4,157.8 357.4,157.7C358.4,157.6 359.0,156.6 360.2,155.3C361.5,153.9 363.8,151.8 364.9,149.7C366.0,147.5 365.3,144.4 366.7,142.2C368.1,140.1 371.2,138.5 373.3,136.7C375.3,134.8 377.0,132.4 378.8,131.1C380.7,129.7 382.9,128.7 384.4,128.7C386.0,128.7 387.5,129.7 388.1,131.1C388.8,132.4 388.6,134.9 388.1,136.7C387.7,138.4 385.2,140.2 385.3,141.9C385.5,143.5 388.0,145.1 389.1,146.5C390.2,147.9 391.6,148.7 391.9,150.2C392.2,151.8 390.6,154.3 390.9,155.8C391.2,157.4 393.9,158.5 393.7,159.5C393.6,160.6 391.6,161.2 390.0,162.0C388.4,162.7 386.0,163.3 384.4,164.2C382.9,165.0 382.1,166.1 380.7,167.0C379.3,167.8 377.3,169.6 376.0,169.4C374.8,169.2 373.9,167.2 373.3,166.0C372.6,164.9 373.1,163.3 372.3,162.3C371.6,161.4 370.0,160.6 368.6,160.5C367.2,160.3 365.3,161.6 364.0,161.4C362.6,161.2 361.5,159.5 360.2,159.5C359.0,159.5 358.4,160.8 356.5,161.4C354.7,162.0 351.6,162.6 349.1,163.3C346.6,163.9 344.1,164.6 341.6,165.1C339.1,165.7 336.7,166.3 334.2,166.6C331.7,166.9 328.0,167.3 326.7,167.0C325.4,166.7 325.3,165.4 325.6,164.6Z" fill="#00bfff"/>
<path d="M796.1,24.2C796.4,23.9 800.6,24.5 802.6,25.1C804.6,25.8 808.5,27.6 808.2,27.9C807.9,28.2 802.8,27.6 800.8,27.0C798.7,26.4 795.8,24.5 796.1,24.2Z" fill="#00bfff"/>
<path d="M799.8,42.5C800.4,41.5 802.0,40.3 804.5,39.1C807.0,37.9 813.0,34.6 814.7,35.4C816.4,36.2 816.1,42.1 814.7,43.8C813.3,45.5 808.7,45.5 806.3,45.6C804.0,45.8 801.8,45.2 800.8,44.7C799.7,44.2 799.2,43.4 799.8,42.5Z" fill="#00bfff"/>
<path d="M711.4,110.8C709.5,110.3 714.0,108.2 716.0,107.7C718.0,107.1 721.6,107.1 723.5,107.7C725.3,108.2 729.2,110.3 727.2,110.8C725.2,111.3 713.2,111.3 711.4,110.8Z" fill="#00bfff"/>
<path d="M609.8,107.1C610.3,106.3 612.8,105.5 613.6,106.2C614.3,106.8 615.0,110.0 614.5,110.8C614.0,111.6 611.6,111.4 610.8,110.8C610.0,110.2 609.4,107.9 609.8,107.1Z" fill="#00bfff"/>
<path d="M813.1,32.6C814.5,30.7 819.3,30.6 821.5,30.7C823.6,30.9 825.1,32.1 826.1,33.5C827.1,34.9 827.7,37.8 827.4,39.1C827.1,40.4 826.1,41.0 824.2,41.3C822.3,41.7 814.9,43.4 813.1,41.9C811.2,40.4 811.7,34.5 813.1,32.6Z" fill="#00bfff"/>
<path d="M832.3,32.0C832.6,31.1 835.0,30.7 836.4,30.9C837.7,31.2 838.9,32.1 840.1,33.5C841.3,35.0 842.7,37.6 843.4,39.5C844.1,41.3 844.4,43.8 844.2,44.7C843.9,45.6 842.9,45.7 841.9,45.1C841.0,44.5 839.5,42.4 838.2,41.0C837.0,39.5 835.5,37.8 834.5,36.3C833.5,34.8 831.9,32.9 832.3,32.0Z" fill="#00bfff"/>
<path d="M860.6,53.6C860.8,53.2 862.2,53.4 862.8,54.0C863.4,54.6 864.1,56.9 863.9,57.4C863.7,57.8 862.1,57.4 861.5,56.8C860.9,56.2 860.3,54.1 860.6,53.6Z" fill="#00bfff"/>
<path d="M864.3,58.7C864.8,58.4 867.2,58.8 868.0,59.2C868.8,59.7 869.4,61.2 868.9,61.5C868.5,61.8 866.0,61.6 865.2,61.1C864.4,60.6 863.8,59.0 864.3,58.7Z" fill="#00bfff"/>
<path d="M827.4,60.0C828.3,59.2 835.3,59.0 838.2,59.6C841.1,60.2 843.2,62.1 844.7,63.3C846.3,64.5 848.0,66.1 847.5,66.7C847.1,67.3 844.4,67.5 841.9,67.1C839.5,66.6 835.0,65.4 832.6,64.3C830.2,63.1 826.5,60.7 827.4,60.0Z" fill="#00bfff"/>
<path d="M860.6,71.7C860.7,71.4 863.0,71.9 863.4,72.3C863.7,72.7 862.9,74.2 862.4,74.1C862.0,74.0 860.4,72.0 860.6,71.7Z" fill="#00bfff"/>
<path d="M868.9,90.3C869.5,89.0 871.7,87.2 873.2,87.2C874.8,87.2 877.4,88.9 878.3,90.3C879.1,91.8 879.0,94.6 878.3,95.9C877.5,97.3 875.4,98.5 874.0,98.3C872.6,98.2 870.7,96.3 869.9,95.0C869.0,93.7 868.4,91.6 868.9,90.3Z" fill="#00bfff"/>
<path d="M909.9,108.0C910.5,107.4 913.3,106.6 914.6,107.1C915.8,107.6 918.0,110.2 917.4,110.8C916.8,111.4 912.1,111.3 910.9,110.8C909.6,110.4 909.3,108.6 909.9,108.0Z" fill="#00bfff"/>
<path d="M923.9,107.7C924.5,107.7 928.4,110.3 928.5,110.8C928.7,111.3 925.6,111.3 924.8,110.8C924.0,110.3 923.3,107.7 923.9,107.7Z" fill="#00bfff"/>
<path d="M949.6,98.3C950.0,97.4 953.7,97.3 954.6,97.8C955.6,98.3 955.6,100.6 955.2,101.5C954.8,102.4 953.1,103.9 952.2,103.4C951.3,102.8 949.2,99.3 949.6,98.3Z" fill="#00bfff"/>
<path d="M1074.8,83.8C1075.2,83.0 1078.0,82.4 1080.3,82.9C1082.7,83.3 1087.3,85.1 1088.7,86.6C1090.1,88.2 1089.8,91.6 1088.7,92.2C1087.6,92.8 1084.1,91.1 1082.2,90.3C1080.3,89.6 1078.8,88.6 1077.6,87.5C1076.3,86.5 1074.3,84.6 1074.8,83.8Z" fill="#00bfff"/>
<path d="M1087.1,82.9C1088.6,81.2 1094.4,82.1 1096.4,82.9C1098.4,83.7 1099.2,86.0 1099.2,87.5C1099.2,89.1 1098.4,91.3 1096.4,92.2C1094.4,93.1 1088.6,94.7 1087.1,93.1C1085.5,91.6 1085.5,84.6 1087.1,82.9Z" fill="#00bfff"/>
<path d="M606.1,109.1C608.0,107.7 615.9,107.4 618.2,109.1C620.6,110.8 619.0,116.4 620.1,119.3C621.2,122.3 623.8,124.3 624.7,126.8C625.7,129.2 625.9,131.7 625.7,134.2C625.5,136.7 623.9,139.0 623.4,141.7C623.0,144.3 623.1,147.6 622.9,150.0C622.6,152.5 622.7,155.1 622.0,156.6C621.2,158.0 619.5,159.0 618.2,158.8C617.0,158.6 615.3,156.9 614.5,155.6C613.7,154.3 613.3,152.4 613.6,151.0C613.9,149.6 616.7,148.8 616.4,147.3C616.1,145.7 613.1,143.2 611.7,141.7C610.3,140.1 609.1,138.1 608.0,137.9C606.9,137.8 606.3,140.4 605.2,140.7C604.1,141.0 602.7,140.6 601.5,139.8C600.2,139.0 597.7,136.9 597.7,136.1C597.7,135.2 600.1,134.6 601.5,134.6C602.9,134.6 604.9,136.4 606.1,136.1C607.4,135.7 608.6,134.2 608.9,132.4C609.2,130.5 608.3,127.4 608.0,124.9C607.7,122.4 607.4,120.1 607.1,117.5C606.7,114.8 604.3,110.5 606.1,109.1Z" fill="#00bfff"/>
<path d="M557.7,181.7C558.7,180.2 562.9,179.7 564.2,180.8C565.5,181.9 566.0,186.5 565.7,188.2C565.4,189.9 563.6,190.7 562.4,191.0C561.1,191.3 559.0,191.6 558.3,190.1C557.5,188.5 556.7,183.3 557.7,181.7Z" fill="#00bfff"/>
<path d="M575.0,188.2C575.5,186.1 576.6,185.4 578.2,184.5C579.8,183.6 582.1,183.0 584.7,182.6C587.3,182.3 590.9,182.4 594.0,182.3C597.1,182.1 601.2,181.3 603.3,181.7C605.5,182.1 606.3,183.1 607.1,184.5C607.8,185.9 608.4,187.9 608.0,190.1C607.5,192.3 605.7,195.2 604.3,197.5C602.9,199.9 601.0,201.9 599.6,204.1C598.2,206.2 596.7,208.9 595.9,210.6C595.0,212.3 594.1,213.4 594.4,214.3C594.7,215.2 597.0,214.1 597.7,215.8C598.5,217.5 605.0,227.7 601.5,230.1C597.9,232.5 580.6,232.8 576.3,230.1C572.0,227.5 576.2,216.4 575.8,214.3C575.3,212.2 572.6,212.8 572.6,211.5C572.6,210.3 575.4,209.2 575.8,206.9C576.2,204.5 575.1,200.6 575.0,197.5C574.9,194.4 574.5,190.4 575.0,188.2Z" fill="#00bfff"/>
<ellipse cx="613.2" cy="189.2" rx="3.4" ry="3.4" fill="#00bfff"/>
<path d="M622.9,169.6C624.0,168.5 627.1,169.0 629.4,168.7C631.7,168.4 635.0,168.7 636.9,167.7C638.7,166.8 639.2,164.5 640.6,163.1C642.0,161.7 643.4,160.1 645.2,159.4C647.1,158.6 649.1,158.1 651.8,158.4C654.4,158.7 658.3,161.1 661.1,161.2C663.9,161.4 666.3,159.8 668.5,159.4C670.7,159.0 672.4,159.4 674.1,158.8C675.8,158.2 678.1,157.1 678.8,155.6C679.4,154.2 677.8,152.1 677.8,150.0C677.8,148.0 678.1,145.1 678.8,143.5C679.4,142.0 680.2,140.7 681.6,140.7C683.0,140.7 685.4,142.1 687.1,143.5C688.8,144.9 690.6,148.5 691.8,149.1C693.0,149.7 694.2,148.9 694.6,147.3C695.0,145.6 694.0,141.0 694.6,137.9C695.2,134.8 696.6,131.4 698.3,128.6C700.0,125.8 703.6,123.3 704.8,121.2C706.1,119.0 705.1,117.6 705.8,115.6C706.4,113.6 705.1,109.7 708.6,109.1C712.1,108.5 741.7,108.5 744.9,109.1C748.1,109.6 743.0,113.1 744.9,115.6C746.7,118.1 752.0,121.5 756.1,124.0C760.1,126.5 765.7,127.8 769.1,130.5C772.5,133.1 774.4,136.7 776.5,139.8C778.7,142.9 779.3,147.1 782.1,149.1C784.9,151.1 789.6,151.4 793.3,151.9C797.0,152.4 800.9,151.1 804.5,151.9C808.1,152.7 814.0,151.0 814.7,156.6C815.5,162.1 845.0,217.9 814.7,230.1C784.5,242.4 640.2,230.6 633.1,230.1C626.1,229.6 629.3,219.6 627.5,217.1C625.7,214.5 622.9,216.0 622.0,214.3C621.0,212.6 621.6,209.3 622.0,206.9C622.3,204.4 623.8,201.9 623.8,199.4C623.8,196.9 621.8,193.8 622.0,192.0C622.1,190.1 624.1,189.9 624.7,188.2C625.4,186.5 626.0,183.9 625.7,181.7C625.4,179.5 623.3,177.2 622.9,175.2C622.4,173.2 621.8,170.7 622.9,169.6Z" fill="#00bfff"/>
<path d="M813.1,158.1C814.0,151.9 820.1,162.8 823.3,165.3C826.6,167.8 829.5,170.5 832.6,173.0C835.7,175.4 839.5,177.5 841.9,179.8C844.4,182.2 845.4,184.8 847.5,187.3C849.7,189.8 852.5,192.4 855.0,194.7C857.5,197.1 859.9,199.2 862.4,201.3C864.9,203.3 867.4,205.1 869.9,206.9C872.4,208.6 875.0,210.4 877.3,211.5C879.7,212.6 882.4,212.3 883.8,213.4C885.2,214.5 885.8,215.5 885.7,218.0C885.6,220.5 889.0,229.1 882.9,230.1C876.8,231.2 824.7,242.1 813.1,230.1C801.4,218.1 812.1,164.3 813.1,158.1Z" fill="#00bfff"/>
<ellipse cx="889.8" cy="202.2" rx="3.7" ry="4.1" fill="#00bfff"/>
<path d="M923.0,109.4C923.9,108.7 929.9,108.7 931.3,109.4C932.8,110.2 930.9,112.5 931.7,114.1C932.5,115.7 934.5,118.1 936.0,118.9C937.5,119.8 939.9,118.9 940.7,119.3C941.4,119.7 941.6,121.1 940.7,121.5C939.7,122.0 936.8,122.6 935.1,122.1C933.4,121.6 932.0,119.7 930.4,118.4C928.9,117.0 927.0,115.6 925.8,114.1C924.5,112.6 922.0,110.2 923.0,109.4Z" fill="#00bfff"/>
<path d="M958.9,114.7C959.2,113.6 960.6,112.4 961.5,112.2C962.4,112.1 963.9,112.9 964.5,113.7C965.1,114.6 965.3,116.4 964.9,117.5C964.5,118.5 962.9,120.1 962.1,120.2C961.2,120.4 960.2,119.3 959.7,118.4C959.1,117.5 958.6,115.7 958.9,114.7Z" fill="#00bfff"/>
<path d="M965.8,143.2C966.4,142.7 968.8,142.9 970.5,143.5C972.1,144.1 973.8,146.6 975.7,146.9C977.5,147.2 981.1,145.0 981.6,145.4C982.2,145.8 980.4,147.9 978.8,149.1C977.3,150.3 974.0,152.3 972.3,152.5C970.7,152.6 969.8,151.1 969.0,150.0C968.1,149.0 967.6,147.5 967.1,146.3C966.6,145.2 965.2,143.6 965.8,143.2Z" fill="#00bfff"/>
<path d="M988.1,148.7C988.6,148.2 990.2,147.6 990.9,147.8C991.7,148.0 992.9,149.4 992.8,150.0C992.7,150.7 991.3,151.8 990.6,151.9C989.8,152.1 988.7,151.5 988.3,151.0C987.9,150.4 987.7,149.3 988.1,148.7Z" fill="#00bfff"/>
<path d="M1009.2,147.6C1009.2,146.6 1010.7,146.2 1011.8,146.3C1012.9,146.4 1014.4,146.9 1015.5,148.2C1016.6,149.4 1017.2,152.2 1018.5,153.8C1019.8,155.3 1022.9,156.5 1023.5,157.5C1024.2,158.5 1023.4,159.5 1022.6,159.9C1021.8,160.3 1020.0,160.5 1018.9,159.9C1017.8,159.3 1017.3,157.4 1016.1,156.2C1014.9,154.9 1013.0,153.9 1011.8,152.5C1010.7,151.0 1009.2,148.6 1009.2,147.6Z" fill="#00bfff"/>
<path d="M1021.7,133.8C1022.3,133.1 1025.0,132.9 1026.3,133.3C1027.7,133.7 1029.2,135.1 1029.7,136.1C1030.1,137.1 1029.8,138.7 1029.1,139.4C1028.4,140.2 1026.5,141.0 1025.4,140.7C1024.3,140.5 1023.2,139.1 1022.6,137.9C1022.0,136.8 1021.1,134.6 1021.7,133.8Z" fill="#00bfff"/>
<path d="M1034.7,156.9C1035.0,155.9 1036.7,154.5 1037.9,154.3C1039.0,154.1 1040.8,154.9 1041.6,155.6C1042.4,156.4 1043.0,157.8 1042.7,158.8C1042.4,159.8 1040.9,161.2 1039.7,161.4C1038.6,161.7 1036.9,161.0 1036.0,160.3C1035.2,159.5 1034.4,157.9 1034.7,156.9Z" fill="#00bfff"/>
<path d="M1015.5,170.5C1015.7,170.1 1017.7,169.0 1017.9,169.2C1018.2,169.4 1017.4,171.6 1017.0,171.8C1016.6,172.1 1015.4,171.0 1015.5,170.5Z" fill="#00bfff"/>
<path d="M1045.3,171.1C1045.6,170.3 1047.6,169.0 1048.3,169.2C1049.0,169.4 1049.9,171.6 1049.6,172.4C1049.4,173.2 1047.5,174.5 1046.8,174.3C1046.1,174.0 1045.1,171.9 1045.3,171.1Z" fill="#00bfff"/>
<path d="M1062.6,178.0C1063.0,177.7 1065.4,179.0 1066.4,179.8C1067.3,180.7 1068.5,182.7 1068.2,183.0C1067.9,183.3 1065.4,182.5 1064.5,181.7C1063.6,180.9 1062.3,178.3 1062.6,178.0Z" fill="#00bfff"/>
<path d="M1077.2,134.6C1077.6,133.7 1079.4,132.6 1080.7,132.4C1082.0,132.1 1084.1,132.5 1085.0,133.3C1085.9,134.0 1086.3,135.9 1085.9,136.8C1085.6,137.8 1084.1,138.7 1082.8,138.9C1081.5,139.0 1079.0,138.3 1078.1,137.6C1077.2,136.9 1076.7,135.5 1077.2,134.6Z" fill="#00bfff"/>
<path d="M1083.1,181.1C1083.2,180.2 1084.6,179.2 1085.6,178.9C1086.5,178.6 1088.2,178.4 1088.7,179.3C1089.3,180.1 1089.3,183.1 1088.7,183.9C1088.1,184.8 1085.9,185.0 1085.0,184.5C1084.1,184.0 1083.0,182.1 1083.1,181.1Z" fill="#00bfff"/>
<path d="M1117.8,156.6C1117.7,155.6 1118.6,154.7 1119.7,154.3C1120.7,154.0 1123.1,153.8 1124.3,154.3C1125.6,154.9 1127.0,156.4 1127.1,157.5C1127.3,158.6 1126.4,160.2 1125.3,160.7C1124.1,161.1 1121.3,161.0 1120.0,160.3C1118.8,159.6 1117.9,157.6 1117.8,156.6Z" fill="#00bfff"/>
<path d="M1126.2,161.2C1126.7,160.3 1128.8,158.6 1129.9,158.8C1131.0,159.0 1132.2,161.0 1132.7,162.2C1133.2,163.3 1133.3,164.8 1132.7,165.5C1132.1,166.2 1130.3,166.4 1129.3,166.2C1128.4,166.1 1127.3,165.2 1126.7,164.4C1126.2,163.5 1125.7,162.2 1126.2,161.2Z" fill="#00bfff"/>
<path d="M1143.9,150.0C1144.5,149.0 1148.8,150.8 1150.4,151.9C1151.9,153.0 1152.9,155.0 1153.2,156.6C1153.5,158.1 1151.5,159.8 1152.3,161.2C1153.0,162.6 1155.2,164.2 1157.8,164.9C1160.5,165.7 1166.9,165.5 1168.1,165.9C1169.3,166.2 1169.8,167.7 1169.0,168.1C1168.2,168.5 1165.5,168.5 1163.4,168.1C1161.4,167.7 1159.2,166.6 1156.9,165.9C1154.6,165.2 1151.5,164.2 1149.5,164.0C1147.4,163.9 1146.2,164.2 1144.8,164.9C1143.4,165.7 1142.0,168.4 1141.1,168.7C1140.2,169.0 1138.8,167.9 1139.2,166.8C1139.7,165.7 1142.6,163.5 1143.9,162.2C1145.1,160.8 1146.7,160.4 1146.7,158.4C1146.7,156.4 1143.3,151.1 1143.9,150.0Z" fill="#00bfff"/>
<path d="M1136.8,176.7C1136.8,175.7 1139.4,173.6 1141.1,172.4C1142.7,171.2 1144.7,169.5 1146.7,169.2C1148.7,168.9 1151.9,169.7 1153.2,170.5C1154.4,171.4 1155.1,173.1 1154.1,174.3C1153.2,175.4 1149.8,176.7 1147.6,177.4C1145.4,178.1 1142.9,178.7 1141.1,178.5C1139.3,178.4 1136.8,177.7 1136.8,176.7Z" fill="#00bfff"/>
<path d="M1150.0,192.0C1150.4,191.5 1152.1,190.7 1153.2,190.6C1154.3,190.6 1156.3,191.1 1156.5,191.6C1156.8,192.0 1155.6,193.1 1154.7,193.4C1153.7,193.8 1151.7,193.7 1151.0,193.4C1150.2,193.2 1149.7,192.4 1150.0,192.0Z" fill="#00bfff"/>
<path d="M1161.6,189.2C1161.9,188.6 1163.7,187.9 1164.4,188.2C1165.0,188.5 1165.6,190.5 1165.3,191.0C1165.0,191.6 1163.1,191.9 1162.5,191.6C1161.9,191.3 1161.3,189.7 1161.6,189.2Z" fill="#00bfff"/>
<path d="M1087.1,178.0C1087.8,177.1 1090.9,177.9 1091.7,178.5C1092.6,179.2 1092.6,180.9 1092.1,181.7C1091.6,182.5 1089.8,183.3 1088.9,183.6C1088.1,183.9 1087.4,184.5 1087.1,183.6C1086.8,182.7 1086.3,178.8 1087.1,178.0Z" fill="#00bfff"/>
<path d="M1095.5,186.4C1095.9,185.0 1097.4,183.2 1098.2,183.0C1099.1,182.9 1100.3,184.1 1100.7,185.4C1101.1,186.8 1101.1,189.6 1100.7,191.0C1100.3,192.4 1099.1,193.8 1098.2,193.8C1097.4,193.8 1096.3,192.3 1095.8,191.0C1095.4,189.8 1095.0,187.7 1095.5,186.4Z" fill="#00bfff"/>
<path d="M1115.0,174.3C1115.4,174.0 1117.4,174.4 1117.8,174.8C1118.2,175.2 1117.8,176.4 1117.4,176.7C1117.0,176.9 1115.8,176.7 1115.4,176.3C1115.0,175.9 1114.6,174.5 1115.0,174.3Z" fill="#00bfff"/>
<path d="M1183.0,179.3C1183.3,179.1 1186.4,179.5 1186.7,179.8C1187.0,180.2 1185.5,181.2 1184.9,181.1C1184.2,181.1 1182.7,179.5 1183.0,179.3Z" fill="#00bfff"/>
<path d="M1183.9,186.7C1184.1,186.1 1187.5,184.8 1189.5,184.5C1191.5,184.2 1194.6,184.1 1196.0,184.9C1197.4,185.7 1198.4,188.3 1197.9,189.2C1197.4,190.0 1194.8,190.2 1193.2,190.1C1191.7,189.9 1190.1,188.8 1188.6,188.2C1187.0,187.7 1183.8,187.4 1183.9,186.7Z" fill="#00bfff"/>
<path d="M1175.9,213.4C1176.0,212.5 1177.8,211.0 1178.7,210.9C1179.6,210.9 1180.7,212.0 1181.1,212.8C1181.5,213.6 1181.6,215.2 1181.1,215.8C1180.7,216.4 1179.2,216.6 1178.3,216.2C1177.5,215.8 1175.9,214.2 1175.9,213.4Z" fill="#00bfff"/>
<path d="M1211.9,130.1C1212.4,129.4 1214.7,128.4 1215.6,128.6C1216.5,128.8 1217.5,130.5 1217.4,131.4C1217.4,132.4 1215.9,134.0 1215.0,134.2C1214.2,134.4 1212.9,133.4 1212.4,132.7C1211.9,132.0 1211.3,130.8 1211.9,130.1Z" fill="#00bfff"/>
<path d="M1251.9,129.6C1252.2,129.1 1253.1,129.1 1253.4,129.6C1253.6,130.0 1253.6,131.9 1253.4,132.4C1253.1,132.8 1252.2,132.8 1251.9,132.4C1251.7,131.9 1251.7,130.0 1251.9,129.6Z" fill="#00bfff"/>
<path d="M1270.2,139.8C1270.3,138.5 1271.4,136.2 1272.4,135.1C1273.4,134.1 1275.0,133.0 1276.1,133.3C1277.2,133.6 1277.7,135.9 1278.9,137.0C1280.2,138.1 1282.5,138.7 1283.6,139.8C1284.6,140.9 1285.4,142.4 1285.1,143.5C1284.7,144.6 1283.2,146.0 1281.7,146.3C1280.2,146.6 1277.8,145.9 1276.1,145.4C1274.4,144.9 1272.5,144.1 1271.5,143.2C1270.5,142.2 1270.0,141.1 1270.2,139.8Z" fill="#00bfff"/>
<path d="M1319.0,172.4C1319.2,171.5 1321.5,170.3 1323.1,170.0C1324.6,169.7 1326.8,169.8 1328.3,170.5C1329.7,171.2 1330.8,172.7 1331.6,174.3C1332.5,175.8 1333.0,178.3 1333.5,179.8C1334.0,181.4 1335.0,183.0 1334.8,183.6C1334.5,184.1 1333.1,183.7 1332.0,183.0C1330.8,182.3 1329.6,180.5 1327.9,179.3C1326.2,178.0 1323.2,176.7 1321.7,175.6C1320.3,174.4 1318.7,173.3 1319.0,172.4Z" fill="#00bfff"/>
<path d="M528.0,76.2C527.8,74.0 529.9,70.0 530.5,67.5C531.1,65.0 530.5,62.5 531.8,61.2C533.0,60.0 536.1,59.6 538.0,60.0C539.9,60.4 541.8,62.3 543.0,63.8C544.2,65.2 544.9,66.9 545.5,68.8C546.1,70.6 545.7,73.1 546.8,75.0C547.8,76.9 549.7,78.8 551.8,80.0C553.8,81.2 557.6,81.2 559.2,82.5C560.9,83.8 561.5,85.6 561.8,87.5C562.0,89.4 561.5,91.9 560.5,93.8C559.5,95.6 557.0,97.3 555.5,98.8C554.0,100.2 553.2,101.5 551.8,102.5C550.3,103.5 548.2,105.4 546.8,105.0C545.3,104.6 544.0,102.1 543.0,100.0C542.0,97.9 541.3,95.0 540.5,92.5C539.7,90.0 539.5,86.9 538.0,85.0C536.5,83.1 533.4,82.7 531.8,81.2C530.1,79.8 528.2,78.5 528.0,76.2Z" fill="#6495ed"/>
<path d="M611.8,113.8C612.5,111.9 614.5,110.2 615.5,111.2C616.5,112.3 617.8,117.3 618.0,120.0C618.2,122.7 617.4,125.0 616.8,127.5C616.1,130.0 615.1,132.9 614.2,135.0C613.4,137.1 612.5,140.8 611.8,140.0C611.0,139.2 610.1,132.9 610.0,130.0C609.9,127.1 610.7,125.2 611.0,122.5C611.3,119.8 611.0,115.6 611.8,113.8Z" fill="#6495ed"/>
<path d="M697.5,136.2C697.7,134.5 699.0,130.4 700.5,128.8C702.0,127.1 704.9,127.7 706.8,126.2C708.6,124.8 709.9,121.7 711.8,120.0C713.6,118.3 715.7,117.3 718.0,116.2C720.3,115.2 723.2,113.5 725.5,113.8C727.8,114.0 729.9,116.7 731.8,117.5C733.6,118.3 736.3,116.2 736.8,118.8C737.2,121.3 739.9,143.8 736.8,148.8C733.6,153.8 722.0,150.2 718.0,148.8C714.0,147.3 715.1,141.5 713.0,140.0C710.9,138.5 707.8,140.1 705.5,140.0C703.2,139.9 700.6,140.1 699.2,139.5C697.9,138.9 697.3,138.0 697.5,136.2Z" fill="#6495ed"/>
<path d="M408.0,114.0C408.9,113.2 413.0,112.8 413.6,113.4C414.2,114.0 412.7,117.0 411.7,117.7C410.8,118.4 408.6,118.3 408.0,117.7C407.4,117.1 407.1,114.7 408.0,114.0Z" fill="#6495ed"/>
<path d="M377.0,132.6C377.6,131.3 380.1,130.1 381.6,129.8C383.1,129.5 385.3,129.8 385.9,130.7C386.5,131.6 386.1,134.3 385.3,135.3C384.6,136.4 382.9,136.9 381.6,137.2C380.4,137.5 378.7,138.0 377.9,137.2C377.1,136.4 376.4,133.8 377.0,132.6Z" fill="#6495ed"/>
<path d="M367.3,144.7C368.0,143.0 369.5,141.8 371.4,141.3C373.3,140.8 376.8,141.5 378.8,141.9C380.9,142.3 382.1,142.6 383.5,143.7C384.9,144.8 386.4,146.8 387.2,148.4C388.0,149.9 388.6,152.1 388.1,153.0C387.7,154.0 385.7,154.3 384.4,154.0C383.2,153.6 382.2,151.6 380.7,151.2C379.1,150.7 376.8,150.7 375.1,151.2C373.4,151.6 371.8,154.0 370.5,154.0C369.2,154.0 367.8,152.7 367.3,151.2C366.8,149.6 366.6,146.3 367.3,144.7Z" fill="#6495ed"/>
<path d="M801.7,42.8C802.4,42.1 806.0,40.4 808.2,39.5C810.4,38.6 813.6,36.8 814.7,37.3C815.8,37.7 816.0,40.7 814.7,41.9C813.5,43.1 809.3,43.9 807.3,44.3C805.3,44.8 803.6,44.9 802.6,44.7C801.7,44.5 800.9,43.5 801.7,42.8Z" fill="#6495ed"/>
<path d="M813.1,33.5C814.3,32.0 818.5,31.7 820.5,32.0C822.5,32.3 824.4,34.1 825.2,35.4C826.0,36.7 827.2,39.1 825.2,40.0C823.2,41.0 815.1,42.1 813.1,41.0C811.1,39.9 811.8,35.0 813.1,33.5Z" fill="#6495ed"/>
<path d="M837.3,38.2C837.6,37.3 840.0,36.6 841.0,37.3C842.0,37.9 843.3,40.7 843.4,41.9C843.6,43.1 842.7,44.5 841.9,44.7C841.2,44.9 839.9,43.9 839.1,42.8C838.4,41.8 837.0,39.1 837.3,38.2Z" fill="#6495ed"/>
<path d="M828.9,60.5C830.0,60.1 836.8,60.1 838.2,60.5C839.6,60.9 840.2,62.9 839.1,63.3C838.1,63.8 833.4,63.8 831.7,63.3C830.0,62.9 827.8,61.0 828.9,60.5Z" fill="#6495ed"/>
<ellipse cx="874.2" cy="92.6" rx="3.9" ry="4.1" fill="#6495ed"/>
<path d="M1088.9,84.7C1089.4,84.4 1093.3,85.2 1093.6,85.7C1093.9,86.1 1091.6,87.7 1090.8,87.5C1090.0,87.4 1088.5,85.1 1088.9,84.7Z" fill="#6495ed"/>
<path d="M613.6,115.6C613.8,114.6 615.1,113.9 615.4,114.7C615.7,115.4 615.0,118.8 615.4,120.2C615.9,121.6 617.9,121.8 618.2,123.0C618.5,124.3 617.9,127.2 617.3,127.7C616.7,128.2 615.0,126.9 614.5,125.8C614.0,124.7 614.3,122.9 614.1,121.2C614.0,119.5 613.4,116.6 613.6,115.6Z" fill="#6495ed"/>
<path d="M612.6,136.1C612.9,135.3 614.2,134.5 614.5,135.1C614.8,135.8 614.8,139.0 614.5,139.8C614.2,140.6 612.9,140.4 612.6,139.8C612.3,139.2 612.3,136.9 612.6,136.1Z" fill="#6495ed"/>
<path d="M640.6,166.8C640.9,165.6 642.4,164.3 644.3,164.0C646.2,163.7 649.6,164.5 651.8,164.9C653.9,165.4 655.9,165.7 657.3,166.8C658.7,167.9 659.8,169.4 660.1,171.5C660.4,173.5 660.0,177.2 659.2,178.9C658.4,180.6 656.7,180.9 655.5,181.7C654.2,182.5 653.0,183.7 651.8,183.6C650.5,183.4 648.8,182.3 648.0,180.8C647.3,179.2 648.0,175.8 647.1,174.3C646.2,172.7 643.5,172.7 642.4,171.5C641.4,170.2 640.3,168.0 640.6,166.8Z" fill="#6495ed"/>
<path d="M670.4,165.9C670.8,163.7 672.7,163.2 674.1,162.2C675.5,161.1 677.2,159.7 678.8,159.4C680.3,159.0 682.0,160.9 683.4,160.3C684.8,159.7 685.9,156.9 687.1,155.6C688.4,154.4 689.5,153.8 690.9,152.8C692.3,151.9 694.3,151.6 695.5,150.0C696.8,148.5 698.0,145.9 698.3,143.5C698.6,141.2 697.4,138.2 697.4,136.1C697.4,133.9 697.4,131.9 698.3,130.5C699.2,129.1 701.3,128.0 703.0,127.7C704.7,127.4 707.0,127.7 708.6,128.6C710.1,129.6 710.9,132.8 712.3,133.3C713.7,133.7 715.7,132.7 716.9,131.4C718.2,130.2 718.2,127.2 719.7,125.8C721.3,124.4 724.2,123.2 726.3,123.0C728.3,122.9 730.4,125.4 731.8,124.9C733.2,124.4 732.5,121.8 734.6,120.2C736.8,118.7 741.3,115.0 744.9,115.6C748.4,116.2 752.0,121.5 756.1,124.0C760.1,126.5 765.7,127.8 769.1,130.5C772.5,133.1 774.4,136.7 776.5,139.8C778.7,142.9 779.3,147.1 782.1,149.1C784.9,151.1 789.6,151.4 793.3,151.9C797.0,152.4 800.9,151.1 804.5,151.9C808.1,152.7 814.0,151.0 814.7,156.6C815.5,162.1 840.3,217.9 814.7,230.1C789.1,242.4 668.9,230.9 661.1,230.1C653.2,229.3 660.6,217.2 660.7,214.3C660.8,211.4 662.2,210.6 662.0,208.7C661.7,206.9 660.3,204.8 659.2,203.1C658.1,201.4 657.2,199.4 655.5,198.5C653.8,197.5 651.0,197.9 649.0,197.5C646.9,197.1 644.4,196.7 643.4,196.0C642.3,195.4 642.0,194.9 642.4,193.8C642.9,192.7 644.6,190.4 646.2,189.2C647.7,187.9 649.6,187.1 651.8,186.4C653.9,185.6 657.0,185.1 659.2,184.5C661.4,183.9 662.9,183.5 664.8,183.0C666.7,182.5 669.3,183.0 670.4,181.7C671.5,180.4 671.3,177.8 671.3,175.2C671.3,172.6 669.9,168.0 670.4,165.9Z" fill="#6495ed"/>
<path d="M813.1,159.9C814.1,153.8 820.1,164.3 823.3,166.8C826.6,169.3 829.7,172.3 832.6,174.8C835.6,177.3 838.5,179.3 841.0,181.7C843.5,184.1 845.4,186.7 847.5,189.2C849.7,191.6 851.9,194.4 854.0,196.6C856.2,198.8 858.4,200.3 860.6,202.2C862.7,204.1 864.9,205.9 867.1,207.8C869.3,209.6 871.7,211.8 873.6,213.4C875.5,214.9 877.3,214.3 878.3,217.1C879.2,219.9 885.6,228.9 879.2,230.1C872.8,231.4 824.1,241.8 813.1,230.1C802.0,218.4 812.1,166.0 813.1,159.9Z" fill="#6495ed"/>
<path d="M924.3,110.6C924.9,110.0 929.4,110.0 930.4,110.6C931.4,111.1 931.0,113.1 930.4,113.7C929.8,114.3 927.7,114.6 926.7,114.1C925.7,113.6 923.6,111.1 924.3,110.6Z" fill="#6495ed"/>
<path d="M960.2,114.7C960.5,113.9 962.4,113.3 963.0,113.7C963.6,114.1 963.9,116.3 963.6,117.1C963.3,117.9 961.7,118.8 961.1,118.4C960.6,118.0 959.9,115.4 960.2,114.7Z" fill="#6495ed"/>
<path d="M1011.4,149.5C1011.4,148.6 1013.3,148.3 1014.2,148.7C1015.2,149.1 1016.5,150.9 1017.0,151.9C1017.5,152.9 1017.9,154.3 1017.4,154.7C1016.9,155.1 1015.2,155.2 1014.2,154.3C1013.2,153.5 1011.4,150.4 1011.4,149.5Z" fill="#6495ed"/>
<path d="M1024.1,136.1C1024.5,135.5 1026.6,135.2 1027.3,135.7C1027.9,136.2 1028.2,138.2 1027.8,138.9C1027.4,139.5 1025.5,139.9 1024.8,139.4C1024.2,139.0 1023.7,136.7 1024.1,136.1Z" fill="#6495ed"/>
<path d="M1036.6,156.9C1036.6,156.2 1038.6,155.4 1039.4,155.6C1040.1,155.8 1041.3,157.3 1041.2,158.1C1041.2,158.8 1039.8,160.5 1039.0,160.3C1038.2,160.1 1036.5,157.7 1036.6,156.9Z" fill="#6495ed"/>
<path d="M1078.5,134.2C1078.9,133.4 1082.1,132.9 1083.1,133.3C1084.1,133.7 1084.8,135.7 1084.4,136.4C1084.0,137.2 1081.7,138.3 1080.7,137.9C1079.7,137.6 1078.1,135.0 1078.5,134.2Z" fill="#6495ed"/>
<path d="M1084.4,181.1C1085.0,180.6 1088.0,179.7 1088.7,180.0C1089.4,180.4 1089.3,182.6 1088.7,183.2C1088.2,183.8 1086.3,183.9 1085.6,183.6C1084.8,183.2 1083.9,181.7 1084.4,181.1Z" fill="#6495ed"/>
<path d="M1127.5,164.0C1127.5,163.7 1129.5,163.4 1129.9,163.6C1130.3,163.9 1130.3,165.4 1129.9,165.5C1129.5,165.6 1127.5,164.3 1127.5,164.0Z" fill="#6495ed"/>
<path d="M1139.2,176.1C1139.5,175.4 1141.5,174.3 1142.9,173.3C1144.3,172.4 1146.0,170.8 1147.6,170.5C1149.2,170.2 1151.5,170.7 1152.3,171.5C1153.0,172.2 1153.2,173.9 1152.3,174.8C1151.3,175.7 1148.5,176.2 1146.7,176.7C1144.8,177.1 1142.2,177.5 1141.1,177.4C1139.9,177.3 1138.9,176.8 1139.2,176.1Z" fill="#6495ed"/>
<path d="M1087.1,178.9C1087.6,178.4 1089.8,178.7 1090.2,179.3C1090.7,179.8 1090.4,181.7 1089.9,182.3C1089.3,182.8 1087.5,183.2 1087.1,182.6C1086.6,182.1 1086.5,179.5 1087.1,178.9Z" fill="#6495ed"/>
<path d="M1095.8,189.2C1096.0,188.1 1097.7,186.1 1098.2,186.4C1098.8,186.7 1099.3,189.9 1099.2,191.0C1099.0,192.1 1097.9,193.2 1097.3,192.9C1096.8,192.6 1095.7,190.2 1095.8,189.2Z" fill="#6495ed"/>
<path d="M1184.9,186.4C1185.3,186.0 1188.6,185.7 1189.5,186.0C1190.4,186.3 1190.9,187.9 1190.4,188.2C1190.0,188.6 1187.6,188.5 1186.7,188.2C1185.8,187.9 1184.4,186.7 1184.9,186.4Z" fill="#6495ed"/>
<path d="M1177.0,213.4C1177.1,212.8 1178.4,211.9 1178.9,212.1C1179.4,212.2 1180.3,213.7 1180.2,214.3C1180.1,214.9 1178.9,215.6 1178.3,215.4C1177.8,215.3 1176.9,213.9 1177.0,213.4Z" fill="#6495ed"/>
<path d="M1320.8,173.0C1321.0,172.2 1322.9,171.3 1324.2,171.1C1325.4,170.9 1327.2,171.2 1328.3,171.8C1329.3,172.5 1330.0,174.1 1330.5,175.2C1331.0,176.3 1331.6,178.1 1331.1,178.5C1330.5,179.0 1328.7,178.5 1327.3,178.0C1326.0,177.5 1324.1,176.4 1323.1,175.6C1322.0,174.7 1320.6,173.7 1320.8,173.0Z" fill="#6495ed"/>
<ellipse cx="539.2" cy="68.8" rx="3.0" ry="2.5" fill="#4169e1"/>
<ellipse cx="534.2" cy="74.2" rx="2.5" ry="2.2" fill="#4169e1"/>
<ellipse cx="553.0" cy="96.2" rx="2.2" ry="1.8" fill="#4169e1"/>
<path d="M813.1,36.3C813.7,35.7 816.2,35.7 816.8,36.3C817.4,36.9 817.4,39.4 816.8,40.0C816.2,40.7 813.7,40.7 813.1,40.0C812.4,39.4 812.4,36.9 813.1,36.3Z" fill="#4169e1"/>
<path d="M679.7,173.3C678.8,171.9 680.3,169.3 681.6,167.7C682.8,166.2 686.2,165.6 687.1,164.0C688.1,162.5 686.5,159.8 687.1,158.4C687.8,157.0 689.3,155.9 690.9,155.6C692.4,155.3 695.2,156.1 696.5,156.6C697.7,157.0 697.1,158.0 698.3,158.4C699.5,158.9 702.2,159.8 703.9,159.4C705.6,158.9 707.2,156.6 708.6,155.6C710.0,154.7 711.4,153.3 712.3,153.8C713.2,154.2 713.4,157.3 714.1,158.4C714.9,159.5 715.7,160.3 716.9,160.3C718.2,160.3 720.0,159.2 721.6,158.4C723.2,157.7 724.9,157.0 726.3,155.6C727.7,154.2 728.9,153.0 730.0,150.0C731.1,147.1 732.2,141.5 732.8,137.9C733.4,134.4 733.2,131.4 733.7,128.6C734.2,125.8 733.7,123.2 735.6,121.2C737.4,119.2 741.5,115.9 744.9,116.5C748.3,117.1 752.1,122.4 756.1,124.9C760.0,127.4 765.5,128.8 768.7,131.4C772.0,134.1 773.5,137.6 775.6,140.7C777.7,143.8 778.3,148.0 781.2,150.0C784.1,152.1 789.4,152.4 793.3,152.8C797.2,153.3 800.9,152.1 804.5,152.8C808.1,153.6 814.0,151.9 814.7,157.5C815.5,163.1 837.4,218.0 814.7,230.1C792.1,242.2 686.6,231.1 678.8,230.1C670.9,229.2 679.1,218.2 679.7,214.3C680.3,210.4 682.2,209.3 682.5,206.9C682.8,204.4 681.2,201.6 681.6,199.4C681.9,197.2 683.1,195.4 684.3,193.8C685.6,192.3 687.8,191.6 689.0,190.1C690.2,188.5 691.3,186.4 691.8,184.5C692.3,182.6 692.6,180.3 691.8,178.9C691.0,177.5 689.2,177.1 687.1,176.1C685.1,175.2 680.6,174.7 679.7,173.3Z" fill="#4169e1"/>
<path d="M670.4,190.1C671.0,188.4 672.7,187.6 674.1,187.3C675.5,187.0 677.5,187.3 678.8,188.2C680.0,189.2 681.6,191.3 681.6,192.9C681.6,194.4 680.0,196.1 678.8,197.5C677.5,198.9 675.5,201.3 674.1,201.3C672.7,201.3 671.0,199.4 670.4,197.5C669.8,195.7 669.8,191.8 670.4,190.1Z" fill="#4169e1"/>
<path d="M701.1,132.4C701.7,131.6 703.9,130.3 704.8,130.5C705.8,130.6 706.9,132.4 706.7,133.3C706.5,134.2 704.8,135.8 703.9,136.1C703.0,136.4 701.6,135.8 701.1,135.1C700.6,134.5 700.5,133.1 701.1,132.4Z" fill="#4169e1"/>
<path d="M1143.9,172.4C1144.6,171.8 1147.3,171.2 1148.5,171.5C1149.8,171.7 1151.5,173.0 1151.3,173.7C1151.2,174.4 1148.8,175.4 1147.6,175.6C1146.4,175.7 1144.9,175.3 1144.2,174.8C1143.6,174.3 1143.2,173.0 1143.9,172.4Z" fill="#4169e1"/>
<path d="M1323.6,173.3C1324.1,172.8 1326.4,172.1 1327.3,172.4C1328.3,172.7 1329.4,174.4 1329.2,175.2C1329.0,176.0 1327.2,177.0 1326.4,177.1C1325.6,177.1 1324.6,176.2 1324.2,175.6C1323.7,174.9 1323.1,173.9 1323.6,173.3Z" fill="#4169e1"/>
<ellipse cx="556.0" cy="41.2" rx="6.2" ry="5.2" fill="#0000cd"/>
<ellipse cx="545.0" cy="54.2" rx="4.5" ry="4.5" fill="#0000cd"/>
<path d="M728.0,148.8C726.8,146.5 728.6,139.0 729.2,135.0C729.9,131.0 730.5,127.1 731.8,125.0C733.0,122.9 736.2,119.8 736.8,122.5C737.3,125.2 738.1,144.6 736.8,148.8C735.4,152.9 729.2,151.0 728.0,148.8Z" fill="#0000cd"/>
<path d="M801.7,43.2C802.2,42.7 804.6,41.8 805.4,41.9C806.2,42.0 806.8,43.3 806.3,43.8C805.9,44.2 803.4,44.8 802.6,44.7C801.8,44.6 801.2,43.7 801.7,43.2Z" fill="#0000cd"/>
<ellipse cx="874.2" cy="92.6" rx="2.2" ry="2.8" fill="#0000cd"/>
<path d="M687.1,169.6C687.1,167.7 687.8,165.3 689.0,164.0C690.2,162.8 693.2,161.8 694.6,162.2C696.0,162.5 696.8,163.7 697.4,165.9C698.0,168.0 697.5,173.3 698.3,175.2C699.1,177.1 700.8,177.4 702.0,177.1C703.3,176.7 704.8,175.2 705.8,173.3C706.7,171.5 706.5,167.4 707.6,165.9C708.7,164.3 710.9,164.8 712.3,164.0C713.7,163.2 714.5,162.0 716.0,161.2C717.6,160.4 719.7,160.1 721.6,159.4C723.5,158.6 725.5,157.8 727.2,156.6C728.9,155.3 730.8,154.7 731.8,151.9C732.9,149.1 733.2,143.7 733.7,139.8C734.2,135.9 734.2,131.6 734.6,128.6C735.1,125.7 734.8,124.0 736.5,122.1C738.2,120.2 741.6,116.9 744.9,117.5C748.1,118.0 752.1,123.0 756.1,125.5C760.0,127.9 765.2,129.3 768.3,132.0C771.5,134.6 773.2,138.2 775.2,141.3C777.3,144.4 777.6,148.4 780.6,150.4C783.7,152.4 789.3,152.9 793.3,153.4C797.3,153.9 800.9,152.6 804.5,153.4C808.1,154.2 814.0,152.5 814.7,158.1C815.5,163.6 836.6,218.1 814.7,230.1C792.8,242.1 691.3,231.1 683.4,230.1C675.5,229.2 683.7,218.2 684.3,214.3C685.0,210.4 687.0,209.3 687.1,206.9C687.3,204.4 685.0,201.6 685.3,199.4C685.6,197.2 687.8,195.7 689.0,193.8C690.2,192.0 692.3,190.1 692.7,188.2C693.2,186.4 691.8,184.3 691.8,182.6C691.8,180.9 693.2,179.2 692.7,178.0C692.3,176.7 689.9,176.6 689.0,175.2C688.1,173.8 687.1,171.5 687.1,169.6Z" fill="#0000cd"/>
<path d="M813.1,163.1C813.8,157.9 819.4,165.9 822.4,167.7C825.3,169.6 828.1,171.9 830.8,174.3C833.4,176.6 835.7,179.1 838.2,181.7C840.7,184.3 843.3,187.5 845.7,190.1C848.0,192.7 850.0,195.4 852.2,197.5C854.4,199.7 856.5,201.3 858.7,203.1C860.9,205.0 863.4,206.9 865.2,208.7C867.1,210.6 868.8,210.8 869.9,214.3C870.9,217.8 879.4,228.0 871.7,230.1C864.1,232.3 822.8,241.3 813.1,230.1C803.3,219.0 812.3,168.2 813.1,163.1Z" fill="#0000cd"/>
<path d="M449.2,22.5L452.2,19.5L455.2,22.5L452.2,25.5Z" fill="#000080"/>
<path d="M461.5,24.8L464.5,21.8L467.5,24.8L464.5,27.8Z" fill="#000080"/>
<path d="M458.5,30.2L461.5,27.2L464.5,30.2L461.5,33.2Z" fill="#000080"/>
<ellipse cx="429.2" cy="43.0" rx="4.8" ry="2.8" fill="#000080"/>
<ellipse cx="579.2" cy="24.5" rx="2.5" ry="2.2" fill="#000080"/>
<ellipse cx="641.2" cy="43.2" rx="2.2" ry="2.2" fill="#000080"/>
<ellipse cx="556.0" cy="41.2" rx="5.5" ry="4.5" fill="#000080"/>
<ellipse cx="545.0" cy="54.2" rx="3.8" ry="3.8" fill="#000080"/>
<path d="M595.5,81.2C595.7,80.2 597.6,79.0 599.2,78.0C600.9,77.0 603.6,75.9 605.5,75.0C607.4,74.1 609.0,72.3 610.5,72.5C612.0,72.7 613.2,74.4 614.2,76.2C615.3,78.1 617.2,82.1 616.8,83.8C616.3,85.4 613.8,86.0 611.8,86.2C609.7,86.5 606.5,85.3 604.2,85.0C602.0,84.7 599.5,85.1 598.0,84.5C596.5,83.9 595.3,82.3 595.5,81.2Z" fill="#000080"/>
<path d="M732.5,148.8C732.1,146.7 732.6,132.2 733.0,130.0C733.4,127.8 736.3,125.3 736.8,127.5C737.2,129.7 737.2,146.7 736.8,148.8C736.3,150.8 732.9,150.8 732.5,148.8Z" fill="#000080"/>
<ellipse cx="874.5" cy="92.6" rx="0.9" ry="1.5" fill="#000080"/>
<path d="M691.8,183.6C692.0,182.3 693.3,181.5 694.6,180.4C695.8,179.3 698.0,177.3 699.2,177.1C700.5,176.8 700.8,178.4 702.0,178.9C703.3,179.4 704.8,180.8 706.7,179.8C708.6,178.9 711.8,175.7 713.2,173.3C714.6,171.0 714.1,167.7 715.1,165.9C716.0,164.0 716.9,163.5 718.8,162.2C720.7,160.8 724.1,158.9 726.3,157.5C728.4,156.1 730.4,155.5 731.8,153.8C733.2,152.1 734.3,149.9 734.6,147.3C734.9,144.6 733.5,141.0 733.7,137.9C733.9,134.8 734.9,131.1 735.6,128.6C736.2,126.1 735.9,124.7 737.4,123.0C739.0,121.3 741.8,117.9 744.9,118.4C748.0,118.8 752.2,123.5 756.1,125.8C759.9,128.2 765.0,129.7 768.2,132.4C771.3,135.0 773.0,138.6 775.1,141.7C777.1,144.7 777.2,148.6 780.3,150.6C783.3,152.6 789.3,153.2 793.3,153.8C797.3,154.3 800.9,153.0 804.5,153.8C808.1,154.5 814.0,152.8 814.7,158.4C815.5,164.0 828.2,218.2 814.7,230.1C801.2,242.1 740.0,231.0 733.7,230.1C727.4,229.2 731.5,220.2 730.0,218.0C728.4,215.9 726.3,217.7 724.4,217.1C722.5,216.5 720.7,214.3 718.8,214.3C716.9,214.3 715.1,217.1 713.2,217.1C711.4,217.1 709.5,214.5 707.6,214.3C705.8,214.1 703.6,215.6 702.0,216.2C700.5,216.7 699.9,217.3 698.3,217.7C696.8,218.0 694.4,218.8 692.7,218.4C691.0,218.0 689.0,216.5 688.1,215.2C687.1,213.9 687.0,212.6 687.1,210.6C687.3,208.6 689.0,205.3 689.0,203.1C689.0,201.0 686.8,199.4 687.1,197.5C687.5,195.7 689.8,193.5 690.9,192.0C692.0,190.4 693.5,189.6 693.7,188.2C693.8,186.8 691.6,184.9 691.8,183.6Z" fill="#000080"/>
<path d="M689.0,182.6C687.9,181.0 687.9,176.1 688.1,173.3C688.2,170.5 688.8,167.7 689.9,165.9C691.0,164.0 693.3,162.6 694.6,162.2C695.9,161.7 697.6,161.4 697.9,163.1C698.3,164.8 698.3,177.6 697.9,179.8C697.6,182.1 696.1,182.5 694.6,183.0C693.1,183.5 690.1,184.3 689.0,182.6Z" fill="#000080"/>
<path d="M813.1,164.9C813.7,160.4 818.8,167.1 821.5,168.7C824.1,170.2 826.4,172.1 828.9,174.3C831.4,176.4 833.9,179.1 836.4,181.7C838.8,184.3 841.5,187.5 843.8,190.1C846.1,192.7 848.0,195.3 850.3,197.5C852.6,199.8 855.5,201.7 857.8,203.7C860.0,205.6 862.2,207.5 863.9,209.3C865.6,211.0 867.2,211.2 868.0,214.3C868.9,217.4 877.1,227.9 869.5,230.1C861.9,232.3 822.5,241.0 813.1,230.1C803.7,219.3 812.4,169.5 813.1,164.9Z" fill="#000080"/>
<ellipse cx="889.8" cy="202.2" rx="2.2" ry="2.6" fill="#000080"/>
<ellipse cx="1327.0" cy="174.3" rx="0.7" ry="0.7" fill="#000080"/>
<path d="M740.2,147.3C740.7,145.1 742.6,142.3 743.9,141.7C745.3,141.0 746.9,142.3 748.6,143.5C750.3,144.8 753.0,147.3 754.2,149.1C755.4,151.0 756.7,153.5 756.1,154.7C755.4,155.9 752.3,156.7 750.5,156.6C748.6,156.4 746.4,154.1 744.9,153.8C743.3,153.5 741.9,155.8 741.2,154.7C740.4,153.6 739.8,149.4 740.2,147.3Z" fill="#0000cd"/>
<path d="M754.2,157.5C754.5,156.5 757.6,156.1 758.8,156.6C760.1,157.0 762.0,159.3 761.6,160.3C761.3,161.3 758.2,163.0 757.0,162.5C755.7,162.1 753.9,158.5 754.2,157.5Z" fill="#0000cd"/>
<path d="M711.4,190.1C712.1,188.7 714.5,186.7 716.9,186.4C719.4,186.1 722.8,187.6 726.3,188.2C729.7,188.8 734.3,190.6 737.4,190.1C740.5,189.6 742.4,186.5 744.9,185.4C747.4,184.3 750.2,183.4 752.3,183.6C754.5,183.7 757.3,185.0 757.9,186.4C758.5,187.8 757.6,190.1 756.1,192.0C754.5,193.8 750.8,195.7 748.6,197.5C746.4,199.4 744.4,201.3 743.0,203.1C741.6,205.0 741.5,206.9 740.2,208.7C739.0,210.6 737.6,212.8 735.6,214.3C733.5,215.9 730.1,217.7 728.1,218.0C726.1,218.3 724.5,217.4 723.5,216.2C722.4,214.9 721.6,212.4 721.6,210.6C721.6,208.7 722.4,206.9 723.5,205.0C724.5,203.1 728.3,200.6 728.1,199.4C728.0,198.2 724.5,197.9 722.5,197.5C720.5,197.2 717.7,198.0 716.0,197.5C714.3,197.1 713.1,196.0 712.3,194.7C711.5,193.5 710.6,191.5 711.4,190.1Z" fill="#0000cd"/>
<path d="M768.2,160.3C767.5,158.7 769.2,156.0 771.0,154.7C772.7,153.4 776.2,152.3 778.4,152.5C780.6,152.6 783.4,154.2 784.0,155.6C784.6,157.1 783.7,159.8 782.1,161.2C780.6,162.6 777.0,164.2 774.7,164.0C772.4,163.9 768.8,161.8 768.2,160.3Z" fill="#0000cd"/>
<path d="M791.4,156.6C792.4,155.3 798.0,155.5 800.8,155.6C803.6,155.8 805.9,156.7 808.2,157.5C810.5,158.3 813.6,157.7 814.7,160.3C815.8,162.9 815.8,171.3 814.7,173.3C813.6,175.3 810.5,173.3 808.2,172.4C805.9,171.5 802.9,169.3 800.8,167.7C798.6,166.2 796.7,164.9 795.2,163.1C793.6,161.2 790.5,157.8 791.4,156.6Z" fill="#0000cd"/>
<path d="M771.9,184.5C772.2,182.6 773.9,179.4 775.6,178.0C777.3,176.6 779.8,176.0 782.1,176.1C784.5,176.3 788.2,177.2 789.6,178.9C791.0,180.6 791.1,184.5 790.5,186.4C789.9,188.2 787.9,189.6 785.9,190.1C783.8,190.6 780.4,189.3 778.4,189.2C776.4,189.0 774.8,189.9 773.7,189.2C772.7,188.4 771.6,186.4 771.9,184.5Z" fill="#0000cd"/>
<path d="M787.7,214.3C788.2,210.1 789.6,207.2 791.4,205.0C793.3,202.8 796.4,201.7 798.9,201.3C801.4,200.8 803.7,202.5 806.3,202.2C809.0,201.9 813.5,195.2 814.7,199.4C816.0,203.6 819.1,225.0 814.7,230.1C810.4,235.3 793.2,232.8 788.6,230.1C784.1,227.5 787.3,218.5 787.7,214.3Z" fill="#0000cd"/>
<path d="M809.3,199.4C812.0,194.6 820.7,200.3 825.2,201.3C829.7,202.2 832.9,203.4 836.4,205.0C839.8,206.5 842.7,208.6 845.7,210.6C848.6,212.6 852.0,213.8 854.0,217.1C856.1,220.4 864.3,228.2 857.8,230.1C851.3,232.0 817.4,235.3 809.3,230.1C801.3,225.0 806.7,204.2 809.3,199.4Z" fill="#0000cd"/>
<path d="M374.2,162.3C374.8,161.5 378.1,161.2 378.8,161.8C379.6,162.3 379.5,164.7 378.8,165.5C378.2,166.3 375.9,167.1 375.1,166.6C374.3,166.1 373.6,163.1 374.2,162.3Z" fill="#4169e1"/>
<path d="M723.5,205.9C724.1,203.9 726.1,202.7 728.1,201.3C730.1,199.9 732.9,199.4 735.6,197.5C738.2,195.7 741.5,192.1 743.9,190.1C746.4,188.1 748.4,185.9 750.5,185.4C752.5,185.0 756.4,185.6 756.1,187.3C755.7,189.0 750.9,193.2 748.6,195.7C746.3,198.2 743.6,200.2 742.1,202.2C740.5,204.2 740.5,205.9 739.3,207.8C738.1,209.6 736.5,212.0 734.6,213.4C732.8,214.8 729.8,216.2 728.1,216.2C726.4,216.2 725.2,215.1 724.4,213.4C723.6,211.7 722.8,207.9 723.5,205.9Z" fill="#4169e1"/>
<path d="M713.2,194.7C713.7,193.7 715.5,193.7 716.0,194.7C716.5,195.8 716.5,200.2 716.0,201.3C715.5,202.3 713.7,202.0 713.2,200.9C712.8,199.8 712.8,195.8 713.2,194.7Z" fill="#4169e1"/>
<path d="M770.0,159.9C769.9,158.8 771.3,156.6 772.8,155.6C774.4,154.7 777.8,154.0 779.3,154.3C780.9,154.6 782.1,156.3 782.1,157.5C782.1,158.6 780.7,160.4 779.3,161.2C777.9,162.1 775.3,162.7 773.7,162.5C772.2,162.3 770.2,161.1 770.0,159.9Z" fill="#4169e1"/>
<path d="M797.0,160.3C797.3,159.2 802.3,158.9 804.5,159.4C806.7,159.8 808.4,162.0 810.1,163.1C811.8,164.2 813.9,164.6 814.7,165.9C815.5,167.1 815.8,169.9 814.7,170.5C813.6,171.2 810.2,170.4 808.2,169.6C806.2,168.8 804.5,167.4 802.6,165.9C800.8,164.3 796.7,161.4 797.0,160.3Z" fill="#4169e1"/>
<path d="M775.6,183.6C775.9,182.3 777.6,179.6 779.3,178.9C781.0,178.2 784.5,178.4 785.9,179.3C787.3,180.2 788.2,183.1 787.7,184.5C787.3,185.9 784.8,187.5 783.1,187.9C781.4,188.2 778.7,187.5 777.5,186.7C776.2,186.0 775.3,184.9 775.6,183.6Z" fill="#4169e1"/>
<path d="M790.5,214.3C791.0,210.4 792.5,208.6 794.2,206.9C795.9,205.1 798.4,204.4 800.8,204.1C803.1,203.7 805.9,205.1 808.2,205.0C810.5,204.8 813.9,199.8 814.7,203.1C815.6,206.4 818.6,225.6 814.7,230.1C810.8,234.6 795.5,232.8 791.4,230.1C787.4,227.5 790.0,218.2 790.5,214.3Z" fill="#4169e1"/>
<path d="M766.3,186.4C766.8,185.0 769.6,183.6 771.0,183.6C772.4,183.6 774.4,185.1 774.7,186.4C775.0,187.6 773.9,190.1 772.8,191.0C771.7,192.0 769.2,192.7 768.2,192.0C767.1,191.2 765.8,187.8 766.3,186.4Z" fill="#4169e1"/>
<path d="M809.3,205.0C811.7,200.8 819.4,204.4 823.3,205.0C827.2,205.6 829.5,207.2 832.6,208.7C835.7,210.3 839.3,212.4 841.9,214.3C844.6,216.2 846.9,217.3 848.5,219.9C850.0,222.5 856.4,228.8 851.3,230.1C846.1,231.5 816.3,234.3 809.3,230.1C802.4,225.9 807.0,209.2 809.3,205.0Z" fill="#4169e1"/>
<path d="M373.3,162.3C373.9,160.9 377.2,160.3 378.8,160.5C380.4,160.6 382.9,162.0 382.9,163.3C382.9,164.5 380.1,167.0 378.8,167.9C377.5,168.8 376.0,169.8 375.1,168.8C374.2,167.9 372.6,163.7 373.3,162.3Z" fill="#6495ed"/>
<path d="M704.8,165.9C705.8,164.2 708.1,163.1 709.5,163.1C710.9,163.1 712.4,164.5 713.2,165.9C714.0,167.3 714.5,169.6 714.1,171.5C713.8,173.3 712.6,176.0 711.4,177.1C710.1,178.1 707.9,178.6 706.7,178.0C705.5,177.4 704.2,175.3 703.9,173.3C703.6,171.3 703.9,167.6 704.8,165.9Z" fill="#6495ed"/>
<path d="M725.3,206.9C725.6,204.8 728.1,203.6 730.0,202.2C731.8,200.8 734.6,198.9 736.5,198.5C738.4,198.0 740.8,198.0 741.2,199.4C741.5,200.8 739.6,204.7 738.4,206.9C737.1,209.0 735.4,210.8 733.7,212.1C732.0,213.3 729.5,215.2 728.1,214.3C726.7,213.4 725.0,208.9 725.3,206.9Z" fill="#6495ed"/>
<path d="M772.8,159.4C772.4,158.7 774.4,157.0 775.6,156.6C776.9,156.2 779.8,156.3 780.3,156.9C780.7,157.6 779.6,159.9 778.4,160.3C777.2,160.7 773.3,160.0 772.8,159.4Z" fill="#6495ed"/>
<path d="M776.5,180.8C777.0,180.1 780.3,179.0 781.2,179.3C782.1,179.6 782.6,181.9 782.1,182.6C781.7,183.4 779.3,183.9 778.4,183.6C777.5,183.3 776.1,181.5 776.5,180.8Z" fill="#6495ed"/>
<path d="M795.2,214.3C795.5,211.0 797.2,209.8 798.9,208.7C800.6,207.6 803.2,207.6 805.4,207.8C807.6,207.9 810.5,209.5 811.9,209.6C813.4,209.8 814.5,207.3 814.7,208.7C814.9,210.2 817.7,226.6 814.7,230.1C811.8,233.7 800.3,232.8 797.0,230.1C793.8,227.5 794.9,217.6 795.2,214.3Z" fill="#6495ed"/>
<path d="M809.3,207.8C811.4,204.1 818.0,207.2 821.5,207.8C824.9,208.4 827.2,210.0 829.8,211.5C832.5,213.1 835.3,214.0 837.3,217.1C839.3,220.2 846.6,228.0 841.9,230.1C837.3,232.3 814.8,233.9 809.3,230.1C803.9,226.4 807.3,211.5 809.3,207.8Z" fill="#6495ed"/>
<path d="M712.3,139.8C714.3,138.4 716.5,135.5 718.8,134.2C721.1,133.0 724.1,132.0 726.3,132.4C728.4,132.7 731.5,134.5 731.8,136.1C732.2,137.6 729.5,140.1 728.1,141.7C726.7,143.2 725.0,144.9 723.5,145.4C721.9,145.9 720.2,144.1 718.8,144.5C717.4,144.8 715.1,146.3 715.1,147.3C715.1,148.2 718.8,148.8 718.8,150.0C718.8,151.3 716.8,154.1 715.1,154.7C713.4,155.3 710.4,154.5 708.6,153.8C706.7,153.0 705.0,151.4 703.9,150.0C702.8,148.6 701.6,146.6 702.0,145.4C702.5,144.1 705.0,143.5 706.7,142.6C708.4,141.7 710.3,141.2 712.3,139.8Z" fill="#00bfff"/>
<path d="M673.2,181.7C673.9,180.6 676.4,180.0 678.8,179.8C681.1,179.7 685.0,180.9 687.1,180.8C689.3,180.6 691.5,178.3 691.8,178.9C692.1,179.5 690.7,183.2 689.0,184.5C687.3,185.8 684.0,186.4 681.6,186.7C679.1,187.0 675.5,187.2 674.1,186.4C672.7,185.5 672.4,182.8 673.2,181.7Z" fill="#00bfff"/>
<path d="M727.2,206.9C727.8,205.4 730.1,203.9 731.8,203.1C733.5,202.4 736.7,201.4 737.4,202.2C738.2,203.0 737.4,206.2 736.5,207.8C735.6,209.3 733.2,210.8 731.8,211.5C730.4,212.2 728.9,212.8 728.1,212.1C727.3,211.3 726.6,208.3 727.2,206.9Z" fill="#00bfff"/>
<path d="M373.3,155.8C373.7,154.6 376.4,152.4 377.9,152.1C379.5,151.8 381.5,152.9 382.6,154.0C383.6,155.0 384.9,157.5 384.4,158.6C384.0,159.7 381.3,160.3 379.8,160.5C378.2,160.6 376.2,160.3 375.1,159.5C374.0,158.8 372.8,157.1 373.3,155.8Z" fill="#add8e6"/>
<path d="M636.9,210.6C637.4,209.8 639.6,209.0 640.6,209.3C641.6,209.6 642.8,211.4 642.8,212.4C642.8,213.4 641.5,215.0 640.6,215.2C639.6,215.5 637.8,214.7 637.2,213.9C636.6,213.2 636.3,211.4 636.9,210.6Z" fill="#add8e6"/>
<path d="M651.4,203.1C651.9,201.7 653.6,200.6 654.5,200.9C655.5,201.2 657.0,203.2 657.3,205.0C657.7,206.8 657.2,209.8 656.4,211.5C655.6,213.2 653.5,215.5 652.7,215.2C651.8,214.9 651.6,211.7 651.4,209.6C651.2,207.6 650.9,204.6 651.4,203.1Z" fill="#add8e6"/>
<path d="M664.4,172.8C664.9,172.3 667.1,172.0 667.8,172.4C668.4,172.8 668.6,174.7 668.1,175.2C667.6,175.7 665.4,175.6 664.8,175.2C664.2,174.8 663.9,173.2 664.4,172.8Z" fill="#add8e6"/>
<path d="M728.1,205.9C728.6,204.8 731.5,204.1 732.8,204.1C734.0,204.1 735.4,205.0 735.6,205.9C735.7,206.9 734.6,208.9 733.7,209.6C732.8,210.4 730.9,211.2 730.0,210.6C729.0,210.0 727.7,207.0 728.1,205.9Z" fill="#add8e6"/>
<path d="M721.6,117.1C721.6,116.1 723.5,114.6 724.4,114.7C725.3,114.7 727.2,116.5 727.2,117.5C727.2,118.4 725.3,120.3 724.4,120.2C723.5,120.2 721.6,118.0 721.6,117.1Z" fill="#ffffff"/>
<path d="M1152.3,168.7C1152.7,168.5 1155.1,168.8 1156.0,169.2C1156.8,169.6 1157.8,171.0 1157.3,171.1C1156.8,171.2 1153.9,170.3 1153.2,170.0C1152.5,169.6 1151.8,168.8 1152.3,168.7Z" fill="#ffffff"/>
<g mask="url(#m0)">
<rect x="535.0" y="215.0" width="284.0" height="120.0" fill="#fff"/>
<path d="M550.2,215.3C550.2,215.3 550.7,224.2 552.1,227.5C553.5,230.7 557.4,231.5 558.6,234.9C559.9,238.3 558.5,245.5 559.6,247.9C560.6,250.4 562.2,250.3 565.1,249.8C568.1,249.3 574.9,246.1 577.3,245.1C579.6,244.2 579.9,243.1 581.9,243.3C583.9,243.4 587.8,244.5 589.4,246.1C590.9,247.6 589.5,250.6 591.2,252.6C592.9,254.6 597.0,257.3 599.6,258.2C602.2,259.1 605.5,259.0 607.1,258.2C608.6,257.4 608.8,255.9 608.9,253.5C609.1,251.2 608.4,246.9 608.0,244.2C607.5,241.6 605.5,239.6 606.1,237.7C606.7,235.8 609.4,234.7 611.7,233.0C614.0,231.3 618.2,227.6 620.1,227.5C622.0,227.3 621.3,230.6 622.9,232.1C624.4,233.7 627.2,235.4 629.4,236.8C631.6,238.2 633.9,239.1 635.9,240.5C637.9,241.9 640.4,243.6 641.5,245.1C642.6,246.7 642.6,247.8 642.4,249.8C642.3,251.8 641.2,254.9 640.6,257.3C640.0,259.6 640.3,261.8 638.7,263.8C637.2,265.8 633.0,267.3 631.3,269.4C629.6,271.4 628.8,273.5 628.5,275.9C628.2,278.2 628.3,280.8 629.4,283.3C630.5,285.8 633.0,288.6 635.0,290.8C637.0,292.9 639.6,294.8 641.5,296.4C643.4,297.9 644.5,298.5 646.2,300.1C647.9,301.6 649.3,304.4 651.8,305.7C654.2,306.9 658.0,306.5 661.1,307.5C664.2,308.6 667.9,310.3 670.4,312.2C672.9,314.1 675.3,316.7 676.0,318.7C676.6,320.7 675.5,321.7 674.1,324.3C672.7,326.9 666.7,335.5 666.7,335.5C666.7,335.5 819.4,335.5 819.4,335.5C819.4,335.5 819.4,215.3 819.4,215.3C819.4,215.3 550.2,215.3 550.2,215.3Z" fill="#add8e6"/>
<path d="M650.8,251.7C651.0,250.5 653.1,249.6 654.5,249.4C655.9,249.3 658.6,249.9 659.2,250.7C659.8,251.6 659.2,253.5 658.3,254.5C657.3,255.4 654.9,256.8 653.6,256.3C652.4,255.9 650.7,252.8 650.8,251.7Z" fill="#ffffff"/>
<path d="M641.5,270.3C642.1,268.3 643.8,266.9 645.2,267.5C646.6,268.1 648.8,271.7 649.9,274.0C651.0,276.3 651.9,279.4 651.8,281.5C651.6,283.5 650.4,285.3 649.0,286.1C647.6,286.9 644.6,287.2 643.4,286.1C642.1,285.0 641.8,282.2 641.5,279.6C641.2,277.0 640.9,272.3 641.5,270.3Z" fill="#ffffff"/>
<path d="M660.1,235.8C660.4,234.8 662.9,233.8 663.9,234.0C664.8,234.1 666.0,235.7 665.7,236.8C665.4,237.8 662.9,240.3 662.0,240.1C661.1,240.0 659.8,236.9 660.1,235.8Z" fill="#ffffff"/>
<path d="M679.7,249.8C680.3,249.4 682.8,248.7 683.4,248.9C684.0,249.0 684.0,250.3 683.4,250.7C682.8,251.1 680.3,251.4 679.7,251.3C679.1,251.1 679.1,250.2 679.7,249.8Z" fill="#ffffff"/>
<path d="M686.2,248.3C687.0,247.8 690.9,247.5 691.8,247.9C692.7,248.3 692.6,250.3 691.8,250.7C691.0,251.2 688.1,251.1 687.1,250.7C686.2,250.3 685.4,248.8 686.2,248.3Z" fill="#ffffff"/>
<path d="M632.2,253.5C632.7,253.0 634.8,252.3 635.4,252.6C635.9,252.9 635.8,254.9 635.4,255.4C634.9,255.9 633.1,256.1 632.6,255.8C632.0,255.5 631.7,254.1 632.2,253.5Z" fill="#ffffff"/>
<path d="M572.6,229.3C572.7,227.3 575.1,226.1 576.3,223.7C577.6,221.4 580.0,215.3 580.0,215.3C580.0,215.3 588.4,215.3 588.4,215.3C588.4,215.3 589.7,224.0 590.3,227.5C590.9,230.9 592.8,234.0 592.2,235.8C591.5,237.7 588.4,238.3 586.6,238.6C584.7,238.9 582.8,238.2 581.0,237.7C579.1,237.2 576.8,237.2 575.4,235.8C574.0,234.4 572.4,231.3 572.6,229.3Z" fill="#00bfff"/>
<path d="M629.4,226.5C629.2,225.4 631.3,224.7 633.1,222.8C635.0,220.9 640.6,215.3 640.6,215.3C640.6,215.3 651.8,215.3 651.8,215.3C651.8,215.3 651.0,223.3 649.9,225.6C648.8,227.9 646.2,227.5 645.2,229.3C644.3,231.2 645.1,234.9 644.3,236.8C643.5,238.6 641.8,240.8 640.6,240.5C639.3,240.2 637.9,236.8 636.9,234.9C635.8,233.0 635.3,230.7 634.1,229.3C632.8,227.9 629.6,227.6 629.4,226.5Z" fill="#00bfff"/>
<path d="M651.8,215.3C651.8,215.3 668.5,215.3 668.5,215.3C668.5,215.3 668.7,222.5 670.4,224.7C672.1,226.8 675.7,227.7 678.8,228.4C681.9,229.1 686.2,229.4 689.0,228.9C691.8,228.5 694.0,225.2 695.5,225.6C697.1,226.0 697.4,228.7 698.3,231.2C699.2,233.7 700.2,237.7 701.1,240.5C702.0,243.3 703.0,245.3 703.9,247.9C704.8,250.6 706.4,254.0 706.7,256.3C707.0,258.6 707.2,260.5 705.8,261.9C704.4,263.3 701.1,263.6 698.3,264.7C695.5,265.8 691.8,267.2 689.0,268.8C686.2,270.4 683.9,272.1 681.6,274.0C679.2,276.0 676.9,278.5 675.0,280.5C673.2,282.6 672.2,284.4 670.4,286.1C668.5,287.8 665.3,288.9 663.9,290.8C662.5,292.6 661.5,295.1 662.0,297.3C662.5,299.5 664.8,301.9 666.7,303.8C668.5,305.8 671.3,307.5 673.2,309.0C675.0,310.6 676.9,311.4 677.8,313.1C678.8,314.9 678.3,317.8 678.8,319.6C679.2,321.5 679.9,321.9 680.6,324.3C681.3,326.7 683.4,335.5 683.4,335.5C683.4,335.5 676.0,335.5 676.0,335.5C676.0,335.5 675.0,324.3 674.1,320.6C673.2,316.9 672.2,315.3 670.4,313.1C668.5,311.0 665.1,309.7 662.9,307.5C660.8,305.4 658.3,302.6 657.3,300.1C656.4,297.6 658.0,295.4 657.3,292.6C656.7,289.8 654.1,286.1 653.6,283.3C653.1,280.5 654.1,278.4 654.5,275.9C655.0,273.4 655.0,270.8 656.4,268.4C657.8,266.1 660.9,262.2 662.9,261.9C664.9,261.6 667.1,264.2 668.5,266.6C669.9,268.9 670.1,275.6 671.3,275.9C672.6,276.2 674.3,270.4 676.0,268.4C677.7,266.4 679.4,264.9 681.6,263.8C683.7,262.7 687.8,263.1 689.0,261.9C690.2,260.7 687.5,257.9 689.0,256.3C690.6,254.8 697.1,254.0 698.3,252.6C699.6,251.2 697.7,249.0 696.5,247.9C695.2,246.9 693.0,246.2 690.9,246.1C688.7,245.9 685.6,246.7 683.4,247.0C681.2,247.3 679.7,248.2 677.8,247.9C676.0,247.6 673.6,246.5 672.2,245.1C670.8,243.7 669.1,241.4 669.4,239.6C669.8,237.7 674.3,235.4 674.1,234.0C673.9,232.6 670.7,232.0 668.5,231.2C666.3,230.4 663.1,229.8 661.1,229.3C659.0,228.8 657.5,229.3 656.4,228.4C655.3,227.5 655.3,225.9 654.5,223.7C653.8,221.6 651.8,215.3 651.8,215.3Z" fill="#00bfff"/>
<path d="M668.5,215.3C668.5,215.3 668.7,222.5 670.4,224.7C672.1,226.8 675.7,227.7 678.8,228.4C681.9,229.1 686.2,229.4 689.0,228.9C691.8,228.5 694.0,225.2 695.5,225.6C697.1,226.0 697.4,228.7 698.3,231.2C699.2,233.7 700.2,237.7 701.1,240.5C702.0,243.3 703.0,245.3 703.9,247.9C704.8,250.6 706.4,254.0 706.7,256.3C707.0,258.6 707.2,260.5 705.8,261.9C704.4,263.3 701.1,263.6 698.3,264.7C695.5,265.8 691.8,267.2 689.0,268.8C686.2,270.4 683.9,272.1 681.6,274.0C679.2,276.0 676.9,278.5 675.0,280.5C673.2,282.6 672.2,284.4 670.4,286.1C668.5,287.8 665.3,288.9 663.9,290.8C662.5,292.6 661.5,295.1 662.0,297.3C662.5,299.5 664.8,301.9 666.7,303.8C668.5,305.8 671.3,307.5 673.2,309.0C675.0,310.6 676.9,311.4 677.8,313.1C678.8,314.9 678.3,317.8 678.8,319.6C679.2,321.5 679.9,321.9 680.6,324.3C681.3,326.7 683.4,335.5 683.4,335.5C683.4,335.5 819.4,335.5 819.4,335.5C819.4,335.5 819.4,215.3 819.4,215.3C819.4,215.3 668.5,215.3 668.5,215.3Z" fill="#6495ed"/>
<path d="M676.0,215.3C676.0,215.3 675.7,222.2 677.8,223.7C680.0,225.3 685.3,224.8 689.0,224.7C692.7,224.5 697.7,221.7 700.2,222.8C702.7,223.9 703.0,228.2 703.9,231.2C704.8,234.1 705.0,237.7 705.8,240.5C706.5,243.3 707.8,245.3 708.6,247.9C709.3,250.6 710.3,253.7 710.4,256.3C710.6,259.0 710.9,262.1 709.5,263.8C708.1,265.5 704.8,265.3 702.0,266.6C699.2,267.8 695.5,269.7 692.7,271.2C689.9,272.8 687.6,274.0 685.3,275.9C683.0,277.7 680.8,280.4 678.8,282.4C676.7,284.4 674.9,286.4 673.2,288.0C671.5,289.5 669.4,290.3 668.5,291.7C667.6,293.1 667.1,294.7 667.6,296.4C668.0,298.1 669.6,300.2 671.3,302.0C673.0,303.7 676.0,305.1 677.8,306.6C679.7,308.2 681.6,309.1 682.5,311.3C683.4,313.4 683.0,317.5 683.4,319.6C683.9,321.8 684.7,321.9 685.3,324.3C685.9,326.7 687.1,335.5 687.1,335.5C687.1,335.5 819.4,335.5 819.4,335.5C819.4,335.5 819.4,215.3 819.4,215.3C819.4,215.3 676.0,215.3 676.0,215.3Z" fill="#4169e1"/>
<path d="M707.6,215.3C707.6,215.3 707.6,227.0 708.6,231.2C709.5,235.4 712.3,237.4 713.2,240.5C714.1,243.6 713.5,247.0 714.1,249.8C714.8,252.6 716.8,254.8 716.9,257.3C717.1,259.7 716.6,262.5 715.1,264.7C713.5,266.9 710.4,269.5 707.6,270.3C704.8,271.1 701.0,268.7 698.3,269.4C695.7,270.0 691.8,272.3 691.8,274.0C691.8,275.7 696.6,277.9 698.3,279.6C700.0,281.3 702.0,282.7 702.0,284.3C702.0,285.8 698.3,287.2 698.3,288.9C698.3,290.6 701.7,292.3 702.0,294.5C702.4,296.7 701.4,299.8 700.2,302.0C698.9,304.1 696.5,306.3 694.6,307.5C692.7,308.8 690.2,308.5 689.0,309.4C687.8,310.3 686.5,311.9 687.1,313.1C687.8,314.4 692.4,315.0 692.7,316.9C693.0,318.7 689.3,321.2 689.0,324.3C688.7,327.4 690.9,335.5 690.9,335.5C690.9,335.5 819.4,335.5 819.4,335.5C819.4,335.5 819.4,215.3 819.4,215.3C819.4,215.3 707.6,215.3 707.6,215.3Z" fill="#0000cd"/>
<path d="M678.8,294.5C678.9,293.1 681.2,291.7 682.5,291.7C683.7,291.7 685.7,293.3 686.2,294.5C686.7,295.7 686.1,298.2 685.3,299.2C684.5,300.1 682.6,300.9 681.6,300.1C680.5,299.3 678.6,295.9 678.8,294.5Z" fill="#0000cd"/>
<path d="M724.4,215.3C724.4,215.3 720.4,223.6 718.8,227.5C717.3,231.3 715.5,234.6 715.1,238.6C714.6,242.7 715.2,247.9 716.0,251.7C716.8,255.4 719.6,258.2 719.7,261.0C719.9,263.8 718.2,266.4 716.9,268.4C715.7,270.4 712.6,271.2 712.3,273.1C712.0,274.9 715.9,277.7 715.1,279.6C714.3,281.5 709.6,282.2 707.6,284.3C705.6,286.3 703.9,289.1 703.0,291.7C702.0,294.3 701.9,297.9 702.0,300.1C702.2,302.3 702.4,303.5 703.9,304.7C705.5,306.0 710.7,306.1 711.4,307.5C712.0,308.9 709.2,311.6 707.6,313.1C706.1,314.7 703.6,315.0 702.0,316.9C700.5,318.7 699.2,321.2 698.3,324.3C697.4,327.4 696.5,335.5 696.5,335.5C696.5,335.5 819.4,335.5 819.4,335.5C819.4,335.5 819.4,215.3 819.4,215.3C819.4,215.3 724.4,215.3 724.4,215.3Z" fill="#000080"/>
<path d="M750.5,270.3C750.5,267.7 752.5,261.8 754.2,259.1C755.9,256.5 757.9,255.1 760.7,254.5C763.5,253.8 768.2,254.5 771.0,255.4C773.7,256.3 775.8,258.0 777.5,260.0C779.2,262.1 780.4,265.2 781.2,267.5C782.0,269.8 783.2,272.5 782.1,274.0C781.0,275.6 777.2,276.5 774.7,276.8C772.2,277.1 769.7,276.0 767.2,275.9C764.7,275.7 762.0,276.0 759.8,275.9C757.6,275.7 755.7,275.9 754.2,274.9C752.6,274.0 750.5,272.9 750.5,270.3Z" fill="#0000cd"/>
<path d="M780.3,227.5C780.6,223.9 785.9,215.3 785.9,215.3C785.9,215.3 819.4,215.3 819.4,215.3C819.4,215.3 819.4,262.8 819.4,262.8C819.4,262.8 811.3,260.4 808.2,259.1C805.1,257.9 802.6,256.9 800.8,255.4C798.9,253.8 798.9,251.7 797.0,249.8C795.2,247.9 791.8,246.4 789.6,244.2C787.4,242.0 785.5,239.6 784.0,236.8C782.4,234.0 780.0,231.0 780.3,227.5Z" fill="#0000cd"/>
<path d="M800.8,303.8C801.8,300.7 803.2,295.1 806.3,292.6C809.4,290.2 819.4,288.9 819.4,288.9C819.4,288.9 819.4,335.5 819.4,335.5C819.4,335.5 800.8,335.5 800.8,335.5C800.8,335.5 798.1,324.6 798.0,320.6C797.8,316.5 799.4,314.1 799.8,311.3C800.3,308.5 799.7,306.9 800.8,303.8Z" fill="#0000cd"/>
<path d="M703.9,279.2C704.2,278.1 707.0,277.7 708.6,277.7C710.1,277.8 712.6,278.7 713.2,279.6C713.8,280.5 713.4,282.6 712.3,283.3C711.2,284.1 708.1,284.9 706.7,284.3C705.3,283.6 703.6,280.3 703.9,279.2Z" fill="#4169e1"/>
<path d="M757.0,268.1C757.0,266.5 757.8,263.0 758.8,261.3C759.9,259.7 761.4,258.5 763.1,258.0C764.9,257.5 767.6,257.6 769.5,258.4C771.3,259.1 773.2,260.9 774.3,262.5C775.4,264.0 776.6,266.2 776.2,267.7C775.8,269.1 773.8,270.6 771.9,271.2C769.9,271.8 766.6,271.3 764.4,271.2C762.3,271.1 760.1,271.2 758.8,270.7C757.6,270.1 757.0,269.6 757.0,268.1Z" fill="#4169e1"/>
<path d="M787.7,225.6C788.2,222.3 793.3,215.3 793.3,215.3C793.3,215.3 819.4,215.3 819.4,215.3C819.4,215.3 819.4,257.3 819.4,257.3C819.4,257.3 811.3,255.7 808.2,254.5C805.1,253.2 802.9,251.8 800.8,249.8C798.6,247.8 796.9,244.8 795.2,242.4C793.5,239.9 791.8,237.7 790.5,234.9C789.3,232.1 787.3,228.8 787.7,225.6Z" fill="#4169e1"/>
<path d="M804.5,305.7C805.7,301.6 806.7,298.4 809.1,296.4C811.6,294.3 819.4,293.6 819.4,293.6C819.4,293.6 819.4,335.5 819.4,335.5C819.4,335.5 804.5,335.5 804.5,335.5C804.5,335.5 801.7,325.5 801.7,320.6C801.7,315.6 803.2,309.7 804.5,305.7Z" fill="#4169e1"/>
<path d="M687.1,285.2C689.0,281.8 695.8,280.5 698.3,281.5C700.8,282.4 702.0,287.4 702.0,290.8C702.0,294.2 700.2,299.2 698.3,302.0C696.5,304.7 692.7,307.5 690.9,307.5C689.0,307.5 687.7,305.3 687.1,302.0C686.6,298.6 685.3,288.6 687.1,285.2Z" fill="#6495ed"/>
<path d="M760.7,264.7C760.4,263.6 761.6,261.8 762.6,261.0C763.5,260.1 764.9,259.4 766.3,259.5C767.7,259.5 769.9,260.3 771.0,261.3C772.0,262.4 773.1,264.5 772.8,265.6C772.6,266.7 770.9,267.7 769.5,268.1C768.1,268.4 765.9,268.1 764.4,267.5C763.0,266.9 761.0,265.8 760.7,264.7Z" fill="#6495ed"/>
<path d="M791.4,238.6C791.8,236.5 797.7,234.3 800.8,233.0C803.9,231.8 807.0,231.8 810.1,231.2C813.2,230.6 819.4,229.3 819.4,229.3C819.4,229.3 819.4,249.8 819.4,249.8C819.4,249.8 809.8,252.3 806.3,251.7C802.9,251.0 801.4,248.2 798.9,246.1C796.4,243.9 791.1,240.8 791.4,238.6Z" fill="#6495ed"/>
<path d="M807.3,316.9C807.4,314.4 809.0,311.0 811.0,309.4C813.0,307.9 819.4,307.5 819.4,307.5C819.4,307.5 819.4,324.3 819.4,324.3C819.4,324.3 812.1,325.5 810.1,324.3C808.1,323.1 807.1,319.3 807.3,316.9Z" fill="#6495ed"/>
<path d="M752.3,317.2C752.6,316.4 753.9,316.1 754.2,316.9C754.5,317.6 754.5,320.7 754.2,321.5C753.9,322.3 752.8,322.2 752.5,321.5C752.2,320.8 752.1,318.0 752.3,317.2Z" fill="#00bfff"/>
</g>
<g mask="url(#m1)">
<rect x="809.0" y="215.0" width="284.0" height="120.0" fill="#fff"/>
<path d="M901.5,215.3C901.5,215.3 901.9,223.4 903.4,225.6C905.0,227.8 908.1,227.6 910.9,228.4C913.6,229.2 917.4,228.8 920.2,230.2C923.0,231.6 924.8,234.7 927.6,236.8C930.4,238.8 934.1,240.6 936.9,242.4C939.7,244.1 941.0,246.5 944.4,247.0C947.8,247.5 953.4,245.8 957.4,245.1C961.5,244.5 965.5,242.8 968.6,243.3C971.7,243.7 973.6,246.7 976.0,247.9C978.5,249.2 980.7,250.4 983.5,250.7C986.3,251.0 990.0,249.3 992.8,249.8C995.6,250.3 997.5,252.3 1000.3,253.5C1003.0,254.8 1006.8,255.5 1009.6,257.3C1012.4,259.0 1014.5,262.2 1017.0,263.8C1019.5,265.3 1021.7,266.3 1024.5,266.6C1027.3,266.9 1030.7,264.9 1033.8,265.6C1036.9,266.4 1039.4,269.8 1043.1,271.2C1046.8,272.6 1053.0,272.9 1056.1,274.0C1059.2,275.1 1059.2,276.8 1061.7,277.7C1064.2,278.7 1068.2,278.4 1071.0,279.6C1073.8,280.8 1076.3,283.3 1078.5,285.2C1080.7,287.1 1081.6,288.6 1084.1,290.8C1086.6,292.9 1093.4,298.2 1093.4,298.2C1093.4,298.2 1093.4,335.5 1093.4,335.5C1093.4,335.5 809.3,335.5 809.3,335.5C809.3,335.5 809.3,215.3 809.3,215.3C809.3,215.3 901.5,215.3 901.5,215.3Z" fill="#add8e6"/>
<path d="M900.8,216.5C900.8,216.5 901.1,224.5 902.6,226.7C904.2,228.9 907.3,228.7 910.1,229.5C912.9,230.3 916.6,230.0 919.4,231.4C922.2,232.8 924.0,235.9 926.8,237.9C929.6,239.9 933.4,241.8 936.1,243.5C938.9,245.2 940.2,247.7 943.6,248.1C947.0,248.6 952.6,246.9 956.6,246.3C960.7,245.6 964.7,243.9 967.8,244.4C970.9,244.9 972.8,247.8 975.3,249.1C977.7,250.3 979.9,251.5 982.7,251.8C985.5,252.2 989.2,250.5 992.0,250.9C994.8,251.4 996.7,253.4 999.5,254.6C1002.3,255.9 1006.0,256.7 1008.8,258.4C1011.6,260.1 1013.8,263.3 1016.2,264.9C1018.7,266.4 1020.9,267.4 1023.7,267.7C1026.5,268.0 1029.9,266.0 1033.0,266.7C1036.1,267.5 1038.6,270.9 1042.3,272.3C1046.0,273.7 1052.2,274.0 1055.3,275.1C1058.5,276.2 1058.5,277.9 1060.9,278.9C1063.4,279.8 1067.5,279.5 1070.2,280.7C1073.0,282.0 1075.5,284.4 1077.7,286.3C1079.9,288.2 1080.8,289.7 1083.3,291.9C1085.8,294.1 1092.6,299.3 1092.6,299.3C1092.6,299.3 1093.4,335.5 1093.4,335.5C1093.4,335.5 809.3,335.5 809.3,335.5C809.3,335.5 809.3,215.3 809.3,215.3C809.3,215.3 900.8,216.5 900.8,216.5Z" fill="#00bfff"/>
<path d="M900.1,217.4C900.1,217.4 900.4,225.5 902.0,227.6C903.5,229.8 906.6,229.7 909.4,230.4C912.2,231.2 915.9,230.9 918.7,232.3C921.5,233.7 923.4,236.8 926.2,238.8C929.0,240.8 932.7,242.7 935.5,244.4C938.3,246.1 939.5,248.6 942.9,249.1C946.4,249.5 951.9,247.8 956.0,247.2C960.0,246.6 964.1,244.9 967.2,245.3C970.3,245.8 972.1,248.7 974.6,250.0C977.1,251.2 979.3,252.5 982.1,252.8C984.9,253.1 988.6,251.4 991.4,251.8C994.2,252.3 996.0,254.3 998.8,255.6C1001.6,256.8 1005.3,257.6 1008.1,259.3C1010.9,261.0 1013.1,264.3 1015.6,265.8C1018.1,267.4 1020.2,268.3 1023.0,268.6C1025.8,268.9 1029.2,266.9 1032.3,267.7C1035.5,268.5 1037.9,271.9 1041.7,273.3C1045.4,274.7 1051.6,275.0 1054.7,276.1C1057.8,277.1 1057.8,278.9 1060.3,279.8C1062.8,280.7 1066.8,280.4 1069.6,281.7C1072.4,282.9 1074.9,285.4 1077.0,287.2C1079.2,289.1 1080.2,290.7 1082.6,292.8C1085.1,295.0 1091.9,300.3 1091.9,300.3C1091.9,300.3 1093.4,335.5 1093.4,335.5C1093.4,335.5 809.3,335.5 809.3,335.5C809.3,335.5 809.3,215.3 809.3,215.3C809.3,215.3 900.1,217.4 900.1,217.4Z" fill="#6495ed"/>
<path d="M899.6,218.1C899.6,218.1 899.9,226.2 901.4,228.4C903.0,230.6 906.1,230.4 908.9,231.2C911.7,232.0 915.4,231.6 918.2,233.0C921.0,234.4 922.9,237.5 925.7,239.6C928.5,241.6 932.2,243.4 935.0,245.1C937.8,246.9 939.0,249.3 942.4,249.8C945.8,250.3 951.4,248.6 955.5,247.9C959.5,247.3 963.5,245.6 966.6,246.1C969.7,246.5 971.6,249.5 974.1,250.7C976.6,252.0 978.7,253.2 981.5,253.5C984.3,253.8 988.1,252.1 990.8,252.6C993.6,253.1 995.5,255.1 998.3,256.3C1001.1,257.6 1004.8,258.3 1007.6,260.0C1010.4,261.8 1012.6,265.0 1015.1,266.6C1017.5,268.1 1019.7,269.0 1022.5,269.4C1025.3,269.7 1028.7,267.7 1031.8,268.4C1034.9,269.2 1037.4,272.6 1041.1,274.0C1044.9,275.4 1051.1,275.7 1054.2,276.8C1057.3,277.9 1057.3,279.6 1059.8,280.5C1062.2,281.5 1066.3,281.2 1069.1,282.4C1071.9,283.6 1074.4,286.1 1076.5,288.0C1078.7,289.8 1079.6,291.4 1082.1,293.6C1084.6,295.7 1091.4,301.0 1091.4,301.0C1091.4,301.0 1093.4,335.5 1093.4,335.5C1093.4,335.5 809.3,335.5 809.3,335.5C809.3,335.5 809.3,215.3 809.3,215.3C809.3,215.3 899.6,218.1 899.6,218.1Z" fill="#4169e1"/>
<path d="M899.1,218.9C899.1,218.9 899.4,227.0 900.9,229.1C902.5,231.3 905.6,231.1 908.4,231.9C911.2,232.7 914.9,232.4 917.7,233.8C920.5,235.2 922.3,238.3 925.1,240.3C927.9,242.3 931.7,244.2 934.5,245.9C937.2,247.6 938.5,250.1 941.9,250.5C945.3,251.0 950.9,249.3 954.9,248.7C959.0,248.1 963.0,246.4 966.1,246.8C969.2,247.3 971.1,250.2 973.6,251.5C976.0,252.7 978.2,254.0 981.0,254.3C983.8,254.6 987.5,252.9 990.3,253.3C993.1,253.8 995.0,255.8 997.8,257.1C1000.6,258.3 1004.3,259.1 1007.1,260.8C1009.9,262.5 1012.1,265.8 1014.5,267.3C1017.0,268.9 1019.2,269.8 1022.0,270.1C1024.8,270.4 1028.2,268.4 1031.3,269.2C1034.4,269.9 1036.9,273.4 1040.6,274.8C1044.3,276.2 1050.5,276.5 1053.7,277.6C1056.8,278.6 1056.8,280.3 1059.2,281.3C1061.7,282.2 1065.8,281.9 1068.6,283.1C1071.3,284.4 1073.8,286.9 1076.0,288.7C1078.2,290.6 1079.1,292.1 1081.6,294.3C1084.1,296.5 1090.9,301.8 1090.9,301.8C1090.9,301.8 1093.4,335.5 1093.4,335.5C1093.4,335.5 809.3,335.5 809.3,335.5C809.3,335.5 809.3,215.3 809.3,215.3C809.3,215.3 899.1,218.9 899.1,218.9Z" fill="#0000cd"/>
<path d="M981.6,266.6C983.2,264.4 989.7,262.5 992.8,262.8C995.9,263.1 997.8,266.6 1000.3,268.4C1002.7,270.3 1005.2,272.5 1007.7,274.0C1010.2,275.6 1012.4,276.2 1015.2,277.7C1017.9,279.3 1021.4,281.5 1024.5,283.3C1027.6,285.2 1030.7,287.7 1033.8,288.9C1036.9,290.2 1039.7,290.0 1043.1,290.8C1046.5,291.6 1050.9,292.9 1054.3,293.6C1057.7,294.2 1060.2,293.1 1063.6,294.5C1067.0,295.9 1071.7,298.8 1074.8,302.0C1077.9,305.1 1079.1,311.3 1082.2,313.1C1085.3,315.0 1093.4,313.1 1093.4,313.1C1093.4,313.1 1093.4,335.5 1093.4,335.5C1093.4,335.5 955.6,335.5 955.6,335.5C955.6,335.5 960.8,327.4 963.0,324.3C965.2,321.2 966.4,318.7 968.6,316.9C970.8,315.0 973.6,314.7 976.0,313.1C978.5,311.6 981.3,309.4 983.5,307.5C985.7,305.7 988.8,303.8 989.1,302.0C989.4,300.1 987.2,297.6 985.4,296.4C983.5,295.1 979.8,295.7 977.9,294.5C976.0,293.3 974.2,291.1 974.2,288.9C974.2,286.7 976.4,283.6 977.9,281.5C979.5,279.3 982.9,278.4 983.5,275.9C984.1,273.4 980.1,268.7 981.6,266.6Z" fill="#000080"/>
<path d="M828.9,215.3C828.9,215.3 840.1,215.3 840.1,215.3C840.1,215.3 842.6,223.3 841.9,225.6C841.3,227.9 838.2,229.0 836.4,229.3C834.5,229.6 832.0,229.8 830.8,227.5C829.5,225.1 828.9,215.3 828.9,215.3Z" fill="#000080"/>
<path d="M809.3,215.3C809.3,215.3 821.5,215.3 821.5,215.3C821.5,215.3 821.6,223.6 819.6,225.6C817.6,227.6 809.3,227.5 809.3,227.5C809.3,227.5 809.3,215.3 809.3,215.3Z" fill="#000080"/>
<path d="M855.9,238.6C856.5,237.4 859.5,236.9 862.4,236.8C865.4,236.6 870.8,237.1 873.6,237.7C876.4,238.3 878.9,239.2 879.2,240.5C879.5,241.7 877.6,244.2 875.5,245.1C873.3,246.1 868.9,246.2 866.2,246.1C863.4,245.9 860.4,245.5 858.7,244.2C857.0,243.0 855.3,239.9 855.9,238.6Z" fill="#000080"/>
<path d="M870.8,230.2C871.7,229.2 874.7,228.2 877.3,228.4C880.0,228.5 884.2,229.9 886.6,231.2C889.1,232.4 891.9,234.6 892.2,235.8C892.5,237.1 890.7,238.5 888.5,238.6C886.3,238.8 882.0,237.4 879.2,236.8C876.4,236.1 873.1,236.0 871.7,234.9C870.3,233.8 869.9,231.3 870.8,230.2Z" fill="#000080"/>
<path d="M877.3,247.9C878.3,246.4 882.0,245.9 884.8,245.1C887.6,244.4 891.0,243.4 894.1,243.3C897.2,243.1 900.0,244.4 903.4,244.2C906.8,244.1 911.5,241.7 914.6,242.4C917.7,243.0 921.4,246.2 922.0,247.9C922.6,249.6 917.7,251.4 918.3,252.6C918.9,253.8 923.9,254.1 925.8,255.4C927.6,256.6 930.1,258.6 929.5,260.0C928.9,261.4 924.5,263.5 922.0,263.8C919.5,264.1 917.1,261.8 914.6,261.9C912.1,262.1 909.6,264.4 907.1,264.7C904.6,265.0 901.9,264.7 899.7,263.8C897.5,262.8 896.3,260.2 894.1,259.1C891.9,258.0 889.1,258.0 886.6,257.3C884.2,256.5 880.7,256.0 879.2,254.5C877.6,252.9 876.4,249.5 877.3,247.9Z" fill="#000080"/>
<path d="M886.6,266.6C887.6,264.7 892.5,264.5 896.0,264.7C899.4,264.9 903.4,266.7 907.1,267.5C910.9,268.3 917.1,268.0 918.3,269.4C919.5,270.8 916.4,274.5 914.6,275.9C912.7,277.3 909.9,277.1 907.1,277.7C904.3,278.4 900.6,279.9 897.8,279.6C895.0,279.3 892.2,278.0 890.4,275.9C888.5,273.7 885.7,268.4 886.6,266.6Z" fill="#000080"/>
<path d="M923.0,266.6C924.5,265.5 930.3,265.2 933.2,265.6C936.2,266.1 939.9,268.0 940.7,269.4C941.4,270.8 939.7,273.1 937.9,274.0C936.0,274.9 931.8,275.3 929.5,274.9C927.1,274.6 925.0,273.5 923.9,272.2C922.8,270.8 921.4,267.7 923.0,266.6Z" fill="#000080"/>
<path d="M942.5,257.3C943.4,256.0 948.7,255.4 951.8,255.4C954.9,255.4 958.3,256.5 961.1,257.3C963.9,258.0 968.3,258.8 968.6,260.0C968.9,261.3 965.5,264.1 963.0,264.7C960.5,265.3 956.5,264.1 953.7,263.8C950.9,263.5 948.1,263.9 946.2,262.8C944.4,261.8 941.6,258.5 942.5,257.3Z" fill="#000080"/>
<path d="M888.5,279.6C889.4,278.8 894.7,280.5 897.8,280.5C900.9,280.5 903.7,279.1 907.1,279.6C910.5,280.1 917.1,282.1 918.3,283.3C919.5,284.6 917.1,286.6 914.6,287.1C912.1,287.5 907.1,286.4 903.4,286.1C899.7,285.8 894.7,286.3 892.2,285.2C889.7,284.1 887.6,280.4 888.5,279.6Z" fill="#000080"/>
<path d="M929.5,283.3C930.6,282.2 934.4,281.3 936.9,281.5C939.4,281.6 943.4,282.9 944.4,284.3C945.3,285.7 944.1,288.8 942.5,289.8C941.0,290.9 937.1,291.1 935.1,290.8C933.0,290.5 931.3,289.2 930.4,288.0C929.5,286.7 928.4,284.4 929.5,283.3Z" fill="#000080"/>
<path d="M946.2,294.5C947.6,293.6 952.1,293.3 955.6,293.6C959.0,293.9 963.6,295.3 966.7,296.4C969.8,297.5 973.6,298.7 974.2,300.1C974.8,301.5 972.6,304.1 970.5,304.7C968.3,305.4 964.2,304.3 961.1,303.8C958.0,303.3 954.2,302.7 951.8,302.0C949.5,301.2 948.1,300.4 947.2,299.2C946.2,297.9 944.8,295.4 946.2,294.5Z" fill="#000080"/>
<path d="M809.3,274.0C809.3,274.0 820.4,272.2 825.2,272.2C830.0,272.2 834.8,272.8 838.2,274.0C841.6,275.3 845.0,277.7 845.7,279.6C846.3,281.5 844.1,283.6 841.9,285.2C839.8,286.7 835.7,288.0 832.6,288.9C829.5,289.8 827.2,290.3 823.3,290.8C819.4,291.2 809.3,291.7 809.3,291.7C809.3,291.7 809.3,274.0 809.3,274.0Z" fill="#000080"/>
<path d="M825.2,298.2C826.1,296.8 830.5,296.1 832.6,296.4C834.8,296.7 837.9,298.5 838.2,300.1C838.5,301.6 836.4,304.9 834.5,305.7C832.6,306.5 828.6,306.0 827.0,304.7C825.5,303.5 824.2,299.6 825.2,298.2Z" fill="#000080"/>
<path d="M854.0,294.5C855.0,292.6 859.0,292.6 860.6,293.6C862.1,294.5 863.4,298.1 863.4,300.1C863.4,302.1 862.0,304.9 860.6,305.7C859.2,306.5 856.1,306.6 855.0,304.7C853.9,302.9 853.1,296.4 854.0,294.5Z" fill="#000080"/>
<path d="M860.6,307.5C861.8,306.3 867.4,306.0 869.9,306.6C872.4,307.2 875.5,309.7 875.5,311.3C875.5,312.8 872.0,315.5 869.9,315.9C867.7,316.4 864.0,315.5 862.4,314.1C860.9,312.7 859.3,308.8 860.6,307.5Z" fill="#000080"/>
<path d="M845.7,316.9C846.6,315.6 851.9,314.8 855.0,315.0C858.1,315.1 863.4,316.5 864.3,317.8C865.2,319.0 863.0,321.7 860.6,322.4C858.1,323.2 851.9,323.4 849.4,322.4C846.9,321.5 844.7,318.1 845.7,316.9Z" fill="#000080"/>
<path d="M809.3,324.3C809.3,324.3 820.4,321.5 825.2,320.6C830.0,319.6 833.9,318.2 838.2,318.7C842.6,319.2 846.6,322.4 851.3,323.4C855.9,324.3 861.2,323.7 866.2,324.3C871.1,324.9 876.7,325.2 881.1,327.1C885.4,329.0 892.2,335.5 892.2,335.5C892.2,335.5 809.3,335.5 809.3,335.5C809.3,335.5 809.3,324.3 809.3,324.3Z" fill="#000080"/>
<path d="M918.3,324.3C920.2,322.0 925.8,321.5 929.5,321.5C933.2,321.5 938.2,322.0 940.7,324.3C943.1,326.6 944.4,335.5 944.4,335.5C944.4,335.5 918.3,335.5 918.3,335.5C918.3,335.5 916.4,326.6 918.3,324.3Z" fill="#000080"/>
<path d="M938.8,311.3C939.6,309.9 942.8,308.8 944.4,309.4C945.9,310.0 948.1,313.1 948.1,315.0C948.1,316.9 945.8,320.1 944.4,320.6C943.0,321.0 940.7,319.3 939.7,317.8C938.8,316.2 938.0,312.7 938.8,311.3Z" fill="#000080"/>
<path d="M944.4,254.5C943.1,253.4 945.6,250.9 948.1,249.8C950.6,248.7 955.9,248.6 959.3,247.9C962.7,247.3 966.4,245.8 968.6,246.1C970.8,246.4 970.1,248.6 972.3,249.8C974.5,251.0 978.8,252.3 981.6,253.5C984.4,254.8 986.3,256.2 989.1,257.3C991.9,258.3 995.3,258.6 998.4,260.0C1001.5,261.4 1004.8,263.8 1007.7,265.6C1010.7,267.5 1013.9,269.5 1016.1,271.2C1018.3,272.9 1020.3,274.5 1020.7,275.9C1021.2,277.3 1020.7,279.6 1018.9,279.6C1017.0,279.6 1012.7,277.4 1009.6,275.9C1006.5,274.3 1003.0,272.2 1000.3,270.3C997.5,268.4 995.9,265.8 992.8,264.7C989.7,263.6 984.7,264.5 981.6,263.8C978.5,263.0 976.7,261.1 974.2,260.0C971.7,259.0 969.8,257.9 966.7,257.3C963.6,256.6 959.3,256.8 955.6,256.3C951.8,255.9 945.6,255.5 944.4,254.5Z" fill="#000080"/>
<path d="M1033.8,273.1C1034.9,272.6 1039.1,272.5 1041.2,273.1C1043.4,273.7 1047.0,276.0 1046.8,276.8C1046.7,277.6 1042.3,278.3 1040.3,278.1C1038.3,278.0 1035.8,276.7 1034.7,275.9C1033.6,275.0 1032.7,273.5 1033.8,273.1Z" fill="#000080"/>
<path d="M1054.3,281.5C1055.5,280.4 1060.2,280.2 1063.6,280.5C1067.0,280.8 1071.7,281.8 1074.8,283.3C1077.9,284.9 1080.7,287.7 1082.2,289.8C1083.8,292.0 1085.3,295.6 1084.1,296.4C1082.8,297.1 1078.2,295.6 1074.8,294.5C1071.3,293.4 1066.7,291.1 1063.6,289.8C1060.5,288.6 1057.7,288.4 1056.1,287.1C1054.6,285.7 1053.0,282.6 1054.3,281.5Z" fill="#000080"/>
<path d="M809.3,227.5C809.3,227.5 818.2,225.3 821.5,225.6C824.7,225.9 826.1,228.4 828.9,229.3C831.7,230.2 835.7,231.8 838.2,231.2C840.7,230.6 842.2,228.2 843.8,225.6C845.4,222.9 847.5,215.3 847.5,215.3C847.5,215.3 886.6,215.3 886.6,215.3C886.6,215.3 888.8,223.3 888.5,225.6C888.2,227.9 886.9,229.0 884.8,229.3C882.6,229.6 878.3,227.1 875.5,227.5C872.7,227.8 870.2,229.6 868.0,231.2C865.8,232.7 864.6,235.5 862.4,236.8C860.3,238.0 855.9,237.1 855.0,238.6C854.0,240.2 855.9,243.9 856.8,246.1C857.8,248.2 860.3,249.5 860.6,251.7C860.9,253.8 860.3,257.3 858.7,259.1C857.1,261.0 854.0,261.6 851.3,262.8C848.5,264.1 845.0,265.6 841.9,266.6C838.8,267.5 836.0,268.3 832.6,268.4C829.2,268.6 825.3,267.5 821.5,267.5C817.6,267.5 809.3,268.4 809.3,268.4C809.3,268.4 809.3,227.5 809.3,227.5Z" fill="#4169e1"/>
<path d="M809.3,292.6C809.3,292.6 819.4,292.2 823.3,291.7C827.2,291.2 829.5,290.8 832.6,289.8C835.7,288.9 838.8,287.2 841.9,286.1C845.0,285.0 848.1,283.6 851.3,283.3C854.4,283.0 857.5,284.6 860.6,284.3C863.7,283.9 866.8,281.9 869.9,281.5C873.0,281.0 876.1,280.5 879.2,281.5C882.3,282.4 887.6,285.5 888.5,287.1C889.4,288.6 886.9,289.8 884.8,290.8C882.6,291.7 877.9,291.4 875.5,292.6C873.0,293.9 871.4,296.1 869.9,298.2C868.3,300.4 868.0,304.1 866.2,305.7C864.3,307.2 860.9,307.5 858.7,307.5C856.5,307.5 854.4,307.2 853.1,305.7C851.9,304.1 852.5,300.1 851.3,298.2C850.0,296.4 847.5,294.5 845.7,294.5C843.8,294.5 840.7,296.4 840.1,298.2C839.5,300.1 840.7,303.5 841.9,305.7C843.2,307.9 847.2,309.4 847.5,311.3C847.8,313.1 845.7,316.2 843.8,316.9C841.9,317.5 838.2,316.5 836.4,315.0C834.5,313.4 834.5,308.8 832.6,307.5C830.8,306.3 827.7,306.6 825.2,307.5C822.7,308.5 820.4,312.2 817.7,313.1C815.1,314.1 809.3,313.1 809.3,313.1C809.3,313.1 809.3,292.6 809.3,292.6Z" fill="#4169e1"/>
<path d="M1006.8,294.5C1007.2,292.9 1009.6,290.3 1011.4,289.8C1013.3,289.4 1016.1,290.3 1017.9,291.7C1019.8,293.1 1022.1,296.4 1022.6,298.2C1023.1,300.1 1022.1,302.3 1020.7,302.9C1019.3,303.5 1016.2,302.6 1014.2,302.0C1012.2,301.3 1009.9,300.4 1008.6,299.2C1007.4,297.9 1006.3,296.1 1006.8,294.5Z" fill="#4169e1"/>
<path d="M944.4,324.3C945.3,321.2 948.1,319.0 950.0,316.9C951.8,314.7 953.7,311.9 955.6,311.3C957.4,310.6 960.5,311.6 961.1,313.1C961.8,314.7 960.2,318.1 959.3,320.6C958.3,323.1 956.8,325.5 955.6,328.0C954.3,330.5 951.8,335.5 951.8,335.5C951.8,335.5 944.4,335.5 944.4,335.5C944.4,335.5 943.4,327.4 944.4,324.3Z" fill="#4169e1"/>
<path d="M972.3,307.5C973.2,306.1 978.5,305.1 981.6,303.8C984.7,302.6 989.1,300.1 990.9,300.1C992.8,300.1 993.7,302.3 992.8,303.8C991.9,305.4 988.1,308.0 985.4,309.4C982.6,310.8 978.2,312.5 976.0,312.2C973.9,311.9 971.4,308.9 972.3,307.5Z" fill="#4169e1"/>
<path d="M809.3,231.2C809.3,231.2 817.9,229.0 821.5,229.3C825.0,229.6 827.7,232.1 830.8,233.0C833.9,234.0 837.6,235.5 840.1,234.9C842.6,234.3 843.8,231.2 845.7,229.3C847.5,227.5 848.8,226.1 851.3,223.7C853.7,221.4 860.6,215.3 860.6,215.3C860.6,215.3 875.5,215.3 875.5,215.3C875.5,215.3 878.6,223.4 877.3,225.6C876.1,227.8 870.8,226.8 868.0,228.4C865.2,229.9 863.0,233.3 860.6,234.9C858.1,236.5 854.2,235.8 853.1,237.7C852.0,239.6 853.6,243.4 854.0,246.1C854.5,248.7 856.7,251.4 855.9,253.5C855.1,255.7 852.0,257.7 849.4,259.1C846.7,260.5 843.5,261.1 840.1,261.9C836.7,262.7 834.0,263.3 828.9,263.8C823.8,264.2 809.3,264.7 809.3,264.7C809.3,264.7 809.3,231.2 809.3,231.2Z" fill="#6495ed"/>
<path d="M815.9,298.2C816.8,296.1 820.2,295.4 823.3,294.5C826.4,293.6 831.1,293.6 834.5,292.6C837.9,291.7 840.7,290.0 843.8,288.9C846.9,287.8 850.0,286.4 853.1,286.1C856.2,285.8 859.6,287.4 862.4,287.1C865.2,286.7 867.4,284.6 869.9,284.3C872.4,283.9 876.4,284.3 877.3,285.2C878.3,286.1 877.0,288.3 875.5,289.8C873.9,291.4 869.7,292.5 868.0,294.5C866.3,296.5 866.8,300.4 865.2,302.0C863.7,303.5 860.6,304.1 858.7,303.8C856.8,303.5 855.3,301.6 854.0,300.1C852.8,298.5 853.0,295.4 851.3,294.5C849.5,293.6 845.8,293.9 843.8,294.5C841.8,295.1 839.6,296.5 839.1,298.2C838.7,299.9 841.5,302.9 841.0,304.7C840.5,306.6 837.9,309.6 836.4,309.4C834.8,309.2 833.7,304.6 831.7,303.8C829.7,303.0 826.6,304.1 824.2,304.7C821.9,305.4 819.1,308.6 817.7,307.5C816.3,306.5 814.9,300.4 815.9,298.2Z" fill="#6495ed"/>
<path d="M869.9,296.4C870.3,294.1 875.5,291.6 879.2,290.4C882.9,289.2 887.9,289.6 892.2,289.3C896.6,289.0 901.2,288.4 905.3,288.5C909.3,288.7 913.0,289.5 916.4,290.4C919.9,291.3 922.6,292.7 925.8,294.1C928.9,295.6 933.0,296.9 935.1,299.2C937.2,301.4 938.7,305.2 938.4,307.5C938.1,309.9 935.3,311.7 933.2,313.1C931.1,314.5 928.1,314.8 925.8,315.9C923.4,317.0 921.9,319.3 919.2,319.6C916.6,320.0 912.6,319.0 909.9,317.8C907.3,316.5 906.0,313.5 903.4,312.2C900.8,310.9 897.2,310.5 894.1,309.8C891.0,309.1 887.7,308.8 884.8,307.9C881.8,307.0 878.9,306.1 876.4,304.2C873.9,302.3 869.4,298.7 869.9,296.4Z" fill="#6495ed"/>
<path d="M953.7,272.2C954.0,270.8 958.0,268.4 961.1,267.5C964.2,266.6 968.9,266.3 972.3,266.6C975.7,266.9 979.8,268.1 981.6,269.4C983.5,270.6 984.4,272.6 983.5,274.0C982.6,275.4 978.8,277.3 976.0,277.7C973.2,278.2 969.5,277.1 966.7,276.8C963.9,276.5 961.5,276.7 959.3,275.9C957.1,275.1 953.4,273.5 953.7,272.2Z" fill="#6495ed"/>
<path d="M898.7,255.4C898.9,254.4 901.7,252.7 903.4,252.6C905.1,252.4 908.2,253.5 909.0,254.5C909.8,255.4 909.1,257.5 908.1,258.2C907.0,258.9 904.0,259.2 902.5,258.7C900.9,258.3 898.6,256.4 898.7,255.4Z" fill="#6495ed"/>
<path d="M1026.3,275.9C1026.6,274.5 1029.7,273.7 1031.9,274.0C1034.1,274.3 1036.6,276.3 1039.4,277.7C1042.2,279.1 1046.7,280.8 1048.7,282.4C1050.7,283.9 1052.1,286.0 1051.5,287.1C1050.9,288.1 1047.3,288.9 1045.0,288.5C1042.6,288.2 1040.0,286.2 1037.5,285.2C1035.0,284.2 1031.9,283.9 1030.1,282.4C1028.2,280.8 1026.0,277.3 1026.3,275.9Z" fill="#6495ed"/>
<path d="M1008.6,294.5C1008.9,293.4 1010.3,291.6 1011.8,291.3C1013.3,291.1 1015.8,291.9 1017.4,293.0C1018.9,294.2 1020.7,296.8 1021.1,298.2C1021.5,299.7 1020.7,301.2 1019.6,301.6C1018.5,302.0 1016.0,301.0 1014.4,300.5C1012.8,299.9 1010.9,299.2 1009.9,298.2C1009.0,297.2 1008.3,295.7 1008.6,294.5Z" fill="#6495ed"/>
<path d="M950.9,321.5C951.2,319.5 953.4,315.9 954.6,315.0C955.9,314.1 958.0,314.5 958.3,315.9C958.7,317.3 957.4,321.5 956.5,323.4C955.6,325.2 953.7,327.4 952.8,327.1C951.8,326.8 950.6,323.5 950.9,321.5Z" fill="#6495ed"/>
<path d="M875.5,324.3C877.0,323.2 884.2,322.1 888.5,321.5C892.8,320.9 897.2,320.6 901.5,320.6C905.9,320.6 912.0,320.8 914.6,321.5C917.1,322.2 919.5,324.1 918.3,325.2C917.1,326.3 911.5,327.4 907.1,328.0C902.8,328.6 896.9,329.0 892.2,329.0C887.6,329.0 881.7,328.7 879.2,328.0C876.7,327.3 873.9,325.4 875.5,324.3Z" fill="#6495ed"/>
<path d="M914.6,279.6C915.2,278.4 922.0,276.5 925.8,275.9C929.5,275.3 933.2,276.2 936.9,275.9C940.7,275.6 945.0,273.7 948.1,274.0C951.2,274.3 956.2,276.5 955.6,277.7C954.9,279.0 948.1,280.8 944.4,281.5C940.7,282.1 936.9,281.2 933.2,281.5C929.5,281.8 925.1,283.6 922.0,283.3C918.9,283.0 914.0,280.8 914.6,279.6Z" fill="#6495ed"/>
<path d="M869.9,215.3C869.9,215.3 901.5,215.3 901.5,215.3C901.5,215.3 901.6,223.4 903.0,225.6C904.4,227.8 907.4,227.5 909.9,228.4C912.5,229.3 917.4,230.1 918.3,231.2C919.2,232.3 917.4,234.4 915.5,234.9C913.6,235.4 910.1,234.3 907.1,234.0C904.2,233.7 900.9,233.8 897.8,233.0C894.7,232.3 891.9,230.6 888.5,229.3C885.1,228.1 880.4,227.9 877.3,225.6C874.2,223.3 869.9,215.3 869.9,215.3Z" fill="#6495ed"/>
<path d="M817.7,238.6C819.0,237.1 822.4,236.8 825.2,236.8C828.0,236.8 831.7,238.6 834.5,238.6C837.3,238.6 839.8,238.0 841.9,236.8C844.1,235.5 846.0,231.5 847.5,231.2C849.1,230.9 851.3,233.0 851.3,234.9C851.3,236.8 847.5,240.2 847.5,242.4C847.5,244.5 851.6,246.1 851.3,247.9C850.9,249.8 847.8,252.3 845.7,253.5C843.5,254.8 840.7,255.4 838.2,255.4C835.7,255.4 833.2,254.5 830.8,253.5C828.3,252.6 825.5,251.0 823.3,249.8C821.1,248.6 818.7,247.9 817.7,246.1C816.8,244.2 816.5,240.2 817.7,238.6Z" fill="#00bfff"/>
<path d="M860.6,215.3C860.6,215.3 869.9,215.3 869.9,215.3C869.9,215.3 875.5,220.2 875.5,221.9C875.5,223.6 872.0,225.1 869.9,225.6C867.7,226.1 864.0,226.4 862.4,224.7C860.9,222.9 860.6,215.3 860.6,215.3Z" fill="#00bfff"/>
<path d="M843.8,223.7C844.3,221.9 848.3,220.6 849.4,221.9C850.5,223.1 850.8,229.3 850.3,231.2C849.9,233.0 847.7,234.3 846.6,233.0C845.5,231.8 843.3,225.6 843.8,223.7Z" fill="#00bfff"/>
<path d="M841.9,298.2C842.2,296.4 845.2,294.2 846.6,293.6C848.0,292.9 849.9,293.1 850.3,294.5C850.8,295.9 850.3,300.2 849.4,302.0C848.5,303.7 846.0,305.4 844.7,304.7C843.5,304.1 841.6,300.1 841.9,298.2Z" fill="#00bfff"/>
<path d="M873.6,296.4C873.9,294.8 877.9,293.4 881.1,292.6C884.2,291.9 888.5,292.0 892.2,291.7C896.0,291.4 899.7,290.6 903.4,290.8C907.1,290.9 911.2,291.7 914.6,292.6C918.0,293.6 920.8,294.8 923.9,296.4C927.0,297.9 931.3,300.1 933.2,302.0C935.1,303.8 935.7,306.0 935.1,307.5C934.4,309.1 931.3,310.3 929.5,311.3C927.6,312.2 925.8,312.2 923.9,313.1C922.0,314.1 920.5,316.5 918.3,316.9C916.1,317.2 913.0,316.2 910.9,315.0C908.7,313.7 907.7,310.6 905.3,309.4C902.8,308.2 899.1,308.2 896.0,307.5C892.8,306.9 889.4,306.6 886.6,305.7C883.8,304.7 881.4,303.5 879.2,302.0C877.0,300.4 873.3,297.9 873.6,296.4Z" fill="#00bfff"/>
<path d="M960.2,271.2C960.2,270.1 962.8,268.8 964.9,268.4C966.9,268.0 970.5,268.2 972.3,268.8C974.2,269.4 976.0,271.0 976.0,272.2C976.0,273.3 974.2,275.0 972.3,275.5C970.5,276.0 966.9,275.7 964.9,274.9C962.8,274.2 960.2,272.3 960.2,271.2Z" fill="#00bfff"/>
<path d="M1028.2,277.7C1028.7,277.0 1031.3,276.3 1032.8,276.8C1034.4,277.3 1037.2,279.6 1037.5,280.5C1037.8,281.5 1036.0,282.3 1034.7,282.4C1033.5,282.5 1031.1,281.9 1030.1,281.1C1029.0,280.3 1027.7,278.5 1028.2,277.7Z" fill="#00bfff"/>
<path d="M1040.3,284.3C1040.5,283.4 1044.4,282.2 1045.9,282.4C1047.3,282.6 1049.2,284.4 1049.1,285.2C1048.9,286.0 1046.4,287.6 1045.0,287.4C1043.5,287.3 1040.1,285.1 1040.3,284.3Z" fill="#00bfff"/>
<path d="M1007.7,260.0C1008.2,259.4 1011.4,260.8 1013.3,261.9C1015.2,263.0 1018.4,265.4 1018.9,266.6C1019.3,267.7 1017.5,269.0 1016.1,268.8C1014.7,268.6 1011.9,267.1 1010.5,265.6C1009.1,264.2 1007.2,260.7 1007.7,260.0Z" fill="#00bfff"/>
<path d="M1011.4,293.6C1011.6,292.5 1014.8,292.8 1016.1,293.6C1017.3,294.3 1019.0,297.1 1018.9,298.2C1018.7,299.3 1016.4,300.9 1015.2,300.1C1013.9,299.3 1011.3,294.7 1011.4,293.6Z" fill="#00bfff"/>
<path d="M952.8,320.6C952.9,319.6 954.6,317.8 955.2,317.8C955.8,317.8 956.7,319.6 956.5,320.6C956.3,321.6 954.7,323.9 954.1,323.9C953.4,323.9 952.6,321.6 952.8,320.6Z" fill="#00bfff"/>
<path d="M884.8,325.2C885.7,324.5 891.0,323.5 894.1,323.4C897.2,323.2 902.8,323.7 903.4,324.3C904.0,324.9 900.3,326.5 897.8,327.1C895.3,327.7 890.7,328.0 888.5,327.7C886.3,327.3 883.8,325.9 884.8,325.2Z" fill="#00bfff"/>
<path d="M884.8,215.3C884.8,215.3 901.5,215.3 901.5,215.3C901.5,215.3 901.6,223.4 903.0,225.6C904.4,227.8 907.7,227.6 909.9,228.4C912.2,229.2 915.7,229.5 916.4,230.2C917.2,231.0 916.1,232.5 914.6,232.7C913.1,232.9 909.8,232.0 907.1,231.5C904.5,231.1 901.2,230.7 898.7,229.7C896.3,228.7 894.6,228.0 892.2,225.6C889.9,223.2 884.8,215.3 884.8,215.3Z" fill="#00bfff"/>
<path d="M819.6,243.3C820.2,242.0 823.2,240.5 825.2,240.5C827.2,240.5 831.4,242.0 831.7,243.3C832.0,244.5 828.7,247.2 827.0,247.9C825.3,248.7 822.7,248.7 821.5,247.9C820.2,247.2 819.0,244.5 819.6,243.3Z" fill="#add8e6"/>
<path d="M843.8,244.2C843.8,243.1 846.9,244.1 848.5,245.1C850.0,246.2 853.1,249.6 853.1,250.7C853.1,251.8 850.0,252.7 848.5,251.7C846.9,250.6 843.8,245.3 843.8,244.2Z" fill="#add8e6"/>
<path d="M868.9,215.3C868.9,215.3 876.4,215.3 876.4,215.3C876.4,215.3 876.6,222.3 875.5,223.7C874.4,225.2 871.0,225.5 869.9,224.1C868.8,222.7 868.9,215.3 868.9,215.3Z" fill="#add8e6"/>
<path d="M882.9,298.2C882.9,296.8 886.0,295.3 888.5,294.5C891.0,293.7 894.1,293.7 897.8,293.6C901.5,293.4 907.1,292.9 910.9,293.6C914.6,294.2 917.4,295.7 920.2,297.3C923.0,298.8 926.4,301.0 927.6,302.9C928.9,304.7 928.5,307.1 927.6,308.5C926.7,309.9 923.9,310.3 922.0,311.3C920.2,312.2 918.1,313.9 916.4,314.1C914.7,314.2 913.3,313.4 911.8,312.2C910.2,311.0 909.5,307.9 907.1,306.6C904.8,305.4 900.9,305.4 897.8,304.7C894.7,304.1 891.0,304.0 888.5,302.9C886.0,301.8 882.9,299.6 882.9,298.2Z" fill="#add8e6"/>
<path d="M962.1,271.2C962.1,270.4 964.4,269.5 965.8,269.4C967.2,269.3 969.5,269.9 970.5,270.7C971.4,271.4 972.2,273.4 971.4,274.0C970.6,274.6 967.3,274.9 965.8,274.4C964.2,273.9 962.1,272.1 962.1,271.2Z" fill="#add8e6"/>
<path d="M894.1,215.3C894.1,215.3 901.5,215.3 901.5,215.3C901.5,215.3 901.8,223.5 903.0,225.6C904.3,227.7 908.3,227.2 909.0,227.8C909.7,228.4 908.3,229.4 907.1,229.3C905.9,229.3 901.9,229.8 899.7,227.5C897.5,225.1 894.1,215.3 894.1,215.3Z" fill="#add8e6"/>
<path d="M822.4,243.8C822.8,243.1 826.0,242.1 827.0,242.4C828.1,242.6 829.4,244.4 828.9,245.1C828.4,245.9 825.3,247.2 824.2,247.0C823.2,246.8 821.9,244.6 822.4,243.8Z" fill="#ffffff"/>
<path d="M890.4,297.3C891.3,296.4 895.0,295.1 897.8,294.5C900.6,293.9 904.2,293.4 907.1,293.6C910.1,293.7 913.3,294.5 915.5,295.4C917.7,296.4 920.3,298.2 920.2,299.2C920.0,300.1 917.1,300.9 914.6,301.0C912.1,301.2 908.1,300.1 905.3,300.1C902.5,300.1 900.0,301.0 897.8,301.0C895.6,301.0 893.5,300.7 892.2,300.1C891.0,299.5 889.4,298.2 890.4,297.3Z" fill="#ffffff"/>
<path d="M963.0,271.0C963.6,270.6 966.3,270.4 967.1,270.7C967.9,271.0 968.2,272.5 967.7,272.9C967.1,273.3 964.5,273.4 963.7,273.1C963.0,272.8 962.4,271.4 963.0,271.0Z" fill="#ffffff"/>
<path d="M1042.2,284.3C1042.6,283.8 1045.1,283.1 1045.9,283.3C1046.7,283.5 1047.2,285.1 1046.8,285.6C1046.4,286.0 1044.2,286.3 1043.5,286.1C1042.7,285.9 1041.8,284.7 1042.2,284.3Z" fill="#ffffff"/>
</g>
<g mask="url(#m2)">
<rect x="1083.0" y="215.0" width="284.0" height="120.0" fill="#fff"/>
<path d="M1083.3,299.2C1083.3,299.2 1089.1,300.2 1091.7,302.0C1094.4,303.7 1097.0,307.1 1099.2,309.4C1101.3,311.7 1102.3,313.9 1104.8,315.9C1107.2,317.9 1111.0,319.8 1114.1,321.5C1117.2,323.2 1121.1,323.8 1123.4,326.2C1125.7,328.5 1128.0,335.5 1128.0,335.5C1128.0,335.5 1083.3,335.5 1083.3,335.5C1083.3,335.5 1083.3,299.2 1083.3,299.2Z" fill="#add8e6"/>
<path d="M1174.0,223.7C1174.7,222.6 1177.2,222.2 1178.3,222.8C1179.5,223.4 1180.8,226.0 1180.8,227.5C1180.8,228.9 1179.4,231.2 1178.3,231.5C1177.3,231.9 1175.3,230.6 1174.6,229.3C1173.9,228.0 1173.4,224.8 1174.0,223.7Z" fill="#add8e6"/>
<path d="M1188.2,227.5C1188.4,226.3 1189.8,226.3 1190.8,227.1C1191.9,227.9 1195.1,231.4 1195.7,233.0C1196.2,234.7 1195.2,236.6 1194.2,236.8C1193.1,236.9 1190.5,235.5 1189.5,234.0C1188.5,232.4 1188.0,228.6 1188.2,227.5Z" fill="#add8e6"/>
<path d="M1207.2,220.9C1207.8,220.5 1210.6,220.5 1211.3,220.9C1212.0,221.4 1211.9,223.3 1211.3,223.7C1210.7,224.2 1208.3,224.2 1207.6,223.7C1206.9,223.3 1206.6,221.4 1207.2,220.9Z" fill="#add8e6"/>
<path d="M1246.3,264.7C1246.7,263.9 1249.2,263.3 1250.0,263.8C1250.9,264.2 1251.9,266.7 1251.5,267.5C1251.2,268.3 1248.7,269.3 1247.8,268.8C1246.9,268.3 1245.9,265.5 1246.3,264.7Z" fill="#add8e6"/>
<path d="M1266.4,267.5C1267.1,267.0 1270.5,267.0 1271.5,267.5C1272.5,268.0 1273.0,270.1 1272.4,270.7C1271.8,271.2 1268.7,271.2 1267.7,270.7C1266.7,270.1 1265.8,268.0 1266.4,267.5Z" fill="#add8e6"/>
<path d="M1272.4,274.0C1272.9,273.3 1275.2,273.2 1275.7,274.0C1276.3,274.8 1276.2,278.0 1275.7,278.7C1275.2,279.4 1273.3,278.9 1272.8,278.1C1272.2,277.3 1271.9,274.7 1272.4,274.0Z" fill="#add8e6"/>
<path d="M1290.6,277.7C1291.5,276.9 1294.8,276.0 1296.6,276.6C1298.4,277.2 1301.3,280.3 1301.3,281.5C1301.2,282.6 1297.8,283.3 1296.2,283.3C1294.6,283.4 1292.7,282.8 1291.8,281.8C1290.8,280.9 1289.8,278.6 1290.6,277.7Z" fill="#add8e6"/>
<path d="M1324.9,276.8C1325.3,276.0 1327.5,275.6 1328.3,276.2C1329.1,276.9 1330.1,279.7 1329.8,280.5C1329.4,281.3 1326.8,281.7 1326.0,281.1C1325.2,280.5 1324.5,277.6 1324.9,276.8Z" fill="#add8e6"/>
<path d="M1332.4,286.7C1333.1,286.2 1336.3,285.8 1337.2,286.1C1338.1,286.4 1338.3,288.1 1337.6,288.5C1336.9,289.0 1333.8,289.2 1332.9,288.9C1332.1,288.6 1331.7,287.1 1332.4,286.7Z" fill="#add8e6"/>
<path d="M1083.3,301.0C1083.3,301.0 1088.3,301.8 1090.8,303.4C1093.3,305.1 1096.1,308.6 1098.2,310.9C1100.4,313.2 1101.3,315.2 1103.8,317.2C1106.3,319.2 1110.0,321.1 1113.1,322.8C1116.2,324.6 1120.3,325.5 1122.5,327.7C1124.6,329.8 1126.2,335.5 1126.2,335.5C1126.2,335.5 1083.3,335.5 1083.3,335.5C1083.3,335.5 1083.3,301.0 1083.3,301.0Z" fill="#00bfff"/>
<path d="M1175.9,226.0C1176.2,225.2 1178.3,224.7 1178.9,225.2C1179.5,225.7 1179.9,228.2 1179.6,228.9C1179.3,229.7 1177.7,230.2 1177.0,229.7C1176.4,229.2 1175.6,226.7 1175.9,226.0Z" fill="#00bfff"/>
<path d="M1267.7,268.1C1268.1,267.8 1269.8,267.8 1270.2,268.1C1270.6,268.3 1270.5,269.3 1270.2,269.5C1269.8,269.8 1268.3,269.8 1267.9,269.5C1267.5,269.3 1267.4,268.3 1267.7,268.1Z" fill="#00bfff"/>
<path d="M1291.4,278.1C1292.0,277.5 1294.7,276.8 1296.2,277.4C1297.7,277.9 1300.4,280.6 1300.3,281.5C1300.2,282.3 1297.0,282.5 1295.7,282.4C1294.4,282.3 1293.2,281.8 1292.5,281.1C1291.8,280.4 1290.8,278.7 1291.4,278.1Z" fill="#00bfff"/>
<path d="M1326.0,278.1C1326.3,277.7 1327.5,277.5 1327.9,277.7C1328.3,278.0 1328.5,279.2 1328.3,279.6C1328.0,280.0 1326.8,280.2 1326.4,280.0C1326.0,279.7 1325.8,278.5 1326.0,278.1Z" fill="#00bfff"/>
<path d="M1083.3,302.9C1083.3,302.9 1087.5,303.8 1089.9,305.3C1092.2,306.9 1095.1,310.0 1097.3,312.2C1099.5,314.4 1100.4,316.7 1102.9,318.7C1105.4,320.7 1109.3,322.4 1112.2,324.3C1115.2,326.2 1118.9,328.0 1120.6,329.9C1122.3,331.8 1122.5,335.5 1122.5,335.5C1122.5,335.5 1083.3,335.5 1083.3,335.5C1083.3,335.5 1083.3,302.9 1083.3,302.9Z" fill="#6495ed"/>
<path d="M1083.3,304.7C1083.3,304.7 1087.3,305.7 1089.5,307.2C1091.7,308.7 1094.3,311.5 1096.4,313.7C1098.5,315.9 1099.5,318.2 1102.0,320.2C1104.5,322.2 1108.5,323.9 1111.3,325.8C1114.1,327.7 1118.7,331.8 1118.7,331.8C1118.7,331.8 1119.7,335.5 1119.7,335.5C1119.7,335.5 1083.3,335.5 1083.3,335.5C1083.3,335.5 1083.3,304.7 1083.3,304.7Z" fill="#0000cd"/>
<path d="M1083.3,306.0C1083.3,306.0 1086.9,307.0 1088.9,308.5C1090.9,310.0 1093.4,312.8 1095.5,315.0C1097.5,317.2 1098.6,319.5 1101.0,321.5C1103.5,323.5 1107.7,325.2 1110.4,327.1C1113.0,329.0 1116.9,332.7 1116.9,332.7C1116.9,332.7 1117.8,335.5 1117.8,335.5C1117.8,335.5 1083.3,335.5 1083.3,335.5C1083.3,335.5 1083.3,306.0 1083.3,306.0Z" fill="#000080"/>
</g>
<g mask="url(#m3)">
<rect x="535.0" y="325.0" width="284.0" height="120.0" fill="#fff"/>
<path d="M668.5,325.3C668.5,325.3 663.2,331.4 661.1,333.7C658.9,336.1 657.3,337.1 655.5,339.3C653.6,341.5 651.4,344.3 649.9,346.8C648.3,349.2 646.5,351.7 646.2,354.2C645.9,356.7 646.5,359.5 648.0,361.7C649.6,363.8 653.6,365.7 655.5,367.3C657.3,368.8 659.8,369.7 659.2,371.0C658.6,372.2 654.2,373.6 651.8,374.7C649.3,375.8 646.8,376.3 644.3,377.5C641.8,378.7 639.3,380.8 636.9,382.2C634.4,383.5 631.9,384.6 629.4,385.9C626.9,387.1 623.0,387.7 622.0,389.6C620.9,391.5 622.0,394.6 622.9,397.1C623.8,399.5 626.1,402.3 627.5,404.5C628.9,406.7 631.0,407.9 631.3,410.1C631.6,412.3 630.2,415.2 629.4,417.5C628.6,419.9 627.9,423.1 626.6,424.1C625.4,425.0 623.7,424.2 622.0,423.1C620.2,422.0 618.2,419.4 616.4,417.5C614.5,415.7 612.3,413.8 610.8,412.0C609.2,410.1 606.7,407.8 607.1,406.4C607.4,405.0 611.9,404.7 612.6,403.6C613.4,402.5 613.6,400.2 611.7,399.8C609.8,399.5 604.1,400.3 601.5,401.7C598.8,403.1 598.0,405.6 595.9,408.2C593.7,410.9 590.3,413.8 588.4,417.5C586.6,421.3 586.6,425.9 584.7,430.6C582.8,435.2 577.3,445.5 577.3,445.5C577.3,445.5 819.4,445.5 819.4,445.5C819.4,445.5 819.4,325.3 819.4,325.3C819.4,325.3 668.5,325.3 668.5,325.3Z" fill="#add8e6"/>
<path d="M554.9,440.3C554.0,439.5 556.5,437.5 557.7,437.1C558.9,436.7 561.4,437.3 562.4,438.0C563.3,438.8 563.3,441.8 563.3,441.8C563.3,441.8 555.8,441.0 554.9,440.3Z" fill="#add8e6"/>
<path d="M631.3,365.4C631.6,365.0 633.1,364.7 633.5,365.0C633.9,365.3 634.0,366.8 633.7,367.3C633.3,367.7 631.9,367.7 631.5,367.4C631.0,367.1 630.9,365.8 631.3,365.4Z" fill="#add8e6"/>
<path d="M600.5,423.1C600.8,421.7 603.2,419.7 604.3,420.3C605.3,421.0 606.7,425.0 607.1,426.9C607.4,428.7 606.9,431.2 606.1,431.5C605.3,431.8 603.3,430.1 602.4,428.7C601.5,427.3 600.2,424.5 600.5,423.1Z" fill="#ffffff"/>
<path d="M674.1,325.3C674.1,325.3 670.7,329.8 668.5,331.9C666.3,333.9 663.5,335.3 661.1,337.5C658.6,339.6 655.2,342.1 653.6,344.9C652.1,347.7 651.4,351.4 651.8,354.2C652.1,357.0 653.6,359.6 655.5,361.7C657.3,363.7 661.1,364.6 662.9,366.3C664.8,368.0 667.3,370.2 666.7,371.9C666.0,373.6 662.0,375.5 659.2,376.6C656.4,377.7 653.0,377.3 649.9,378.4C646.8,379.5 643.7,381.5 640.6,383.1C637.5,384.6 633.7,386.3 631.3,387.7C628.8,389.1 626.5,389.8 625.7,391.5C624.9,393.2 625.7,395.8 626.6,398.0C627.5,400.2 629.9,402.2 631.3,404.5C632.7,406.8 634.7,409.5 635.0,412.0C635.3,414.4 634.1,416.9 633.1,419.4C632.2,421.9 631.3,424.5 629.4,426.9C627.5,429.2 625.1,431.5 622.0,433.4C618.8,435.2 614.2,437.4 610.8,438.0C607.4,438.6 604.3,437.4 601.5,437.1C598.7,436.8 594.9,434.8 594.0,436.2C593.1,437.6 595.9,445.5 595.9,445.5C595.9,445.5 819.4,445.5 819.4,445.5C819.4,445.5 819.4,325.3 819.4,325.3C819.4,325.3 674.1,325.3 674.1,325.3Z" fill="#00bfff"/>
<path d="M696.5,325.3C696.5,325.3 693.3,333.9 691.8,337.5C690.2,341.0 687.8,343.3 687.1,346.8C686.5,350.2 688.2,354.7 688.1,357.9C687.9,361.2 687.3,364.0 686.2,366.3C685.1,368.6 683.1,370.0 681.6,371.9C680.0,373.8 678.8,375.8 676.9,377.5C675.0,379.2 673.0,381.7 670.4,382.2C667.7,382.6 664.2,380.8 661.1,380.3C658.0,379.8 654.9,378.9 651.8,379.4C648.6,379.8 645.2,381.5 642.4,383.1C639.6,384.6 637.2,386.7 635.0,388.7C632.8,390.7 630.0,392.9 629.4,395.2C628.8,397.5 630.0,400.5 631.3,402.6C632.5,404.8 634.4,406.8 636.9,408.2C639.3,409.6 643.1,411.2 646.2,411.0C649.3,410.9 652.7,407.8 655.5,407.3C658.3,406.8 662.3,406.8 662.9,408.2C663.5,409.6 661.1,413.5 659.2,415.7C657.3,417.9 654.2,419.4 651.8,421.3C649.3,423.1 647.1,425.6 644.3,426.9C641.5,428.1 637.8,428.1 635.0,428.7C632.2,429.3 630.0,429.3 627.5,430.6C625.1,431.8 622.3,434.3 620.1,436.2C617.9,438.0 614.5,441.8 614.5,441.8C614.5,441.8 614.5,445.5 614.5,445.5C614.5,445.5 819.4,445.5 819.4,445.5C819.4,445.5 819.4,325.3 819.4,325.3C819.4,325.3 696.5,325.3 696.5,325.3Z" fill="#6495ed"/>
<path d="M631.3,397.1C632.4,395.2 635.9,392.7 638.7,390.5C641.5,388.4 644.9,385.6 648.0,384.0C651.1,382.5 654.9,381.2 657.3,381.2C659.8,381.2 661.4,382.6 662.9,384.0C664.5,385.4 667.0,387.9 666.7,389.6C666.3,391.3 663.5,393.0 661.1,394.3C658.6,395.5 654.5,395.7 651.8,397.1C649.0,398.4 646.8,401.4 644.3,402.6C641.8,403.9 638.9,404.7 636.9,404.5C634.8,404.3 633.1,402.9 632.2,401.7C631.3,400.5 630.2,398.9 631.3,397.1Z" fill="#4169e1"/>
<path d="M620.1,445.5C620.1,445.5 622.0,440.2 623.8,438.0C625.7,435.9 628.5,433.8 631.3,432.4C634.1,431.0 637.5,430.7 640.6,429.6C643.7,428.6 647.1,427.6 649.9,425.9C652.7,424.2 654.9,421.4 657.3,419.4C659.8,417.4 662.3,415.5 664.8,413.8C667.3,412.1 669.4,410.4 672.2,409.2C675.0,407.9 680.0,408.1 681.6,406.4C683.1,404.7 680.6,401.4 681.6,398.9C682.5,396.4 685.3,392.4 687.1,391.5C689.0,390.5 690.9,392.1 692.7,393.3C694.6,394.6 695.8,397.1 698.3,398.9C700.8,400.8 704.8,404.2 707.6,404.5C710.4,404.8 713.5,402.9 715.1,400.8C716.6,398.6 715.1,393.6 716.9,391.5C718.8,389.3 722.8,388.7 726.3,387.7C729.7,386.8 734.3,386.8 737.4,385.9C740.5,384.9 744.6,383.1 744.9,382.2C745.2,381.2 741.5,380.9 739.3,380.3C737.1,379.7 733.7,380.0 731.8,378.4C730.0,376.9 728.4,374.4 728.1,371.0C727.8,367.6 730.3,361.4 730.0,357.9C729.7,354.5 728.1,352.4 726.3,350.5C724.4,348.6 721.3,346.8 718.8,346.8C716.3,346.8 713.8,350.2 711.4,350.5C708.9,350.8 706.1,350.2 703.9,348.6C701.7,347.1 699.9,345.1 698.3,341.2C696.8,337.3 694.6,325.3 694.6,325.3C694.6,325.3 819.4,325.3 819.4,325.3C819.4,325.3 819.4,445.5 819.4,445.5C819.4,445.5 620.1,445.5 620.1,445.5Z" fill="#4169e1"/>
<path d="M648.0,385.9C648.6,384.3 651.4,382.5 653.6,382.2C655.8,381.8 659.5,382.8 661.1,384.0C662.6,385.3 663.5,388.2 662.9,389.6C662.3,391.0 659.5,392.1 657.3,392.4C655.2,392.7 651.4,392.6 649.9,391.5C648.3,390.4 647.4,387.4 648.0,385.9Z" fill="#0000cd"/>
<path d="M640.6,394.3C641.6,393.9 646.9,393.6 648.0,393.9C649.2,394.2 649.2,395.9 648.0,396.3C646.9,396.7 642.0,396.8 640.9,396.5C639.9,396.2 639.5,394.6 640.6,394.3Z" fill="#0000cd"/>
<path d="M677.8,378.4C678.6,376.9 681.9,375.9 683.4,376.6C685.0,377.2 687.1,380.3 687.1,382.2C687.1,384.0 684.8,387.1 683.4,387.7C682.0,388.4 679.7,387.4 678.8,385.9C677.8,384.3 677.1,380.0 677.8,378.4Z" fill="#0000cd"/>
<path d="M623.8,445.5C623.8,445.5 625.7,441.0 627.5,439.0C629.4,436.9 632.2,434.8 635.0,433.4C637.8,432.0 641.5,431.8 644.3,430.6C647.1,429.3 649.4,427.8 651.8,425.9C654.1,424.1 655.9,421.5 658.3,419.4C660.6,417.3 663.2,415.1 665.7,413.4C668.2,411.7 670.5,410.5 673.2,409.2C675.8,407.8 678.9,406.3 681.6,405.4C684.2,404.6 686.2,404.1 689.0,404.1C691.8,404.1 695.2,404.6 698.3,405.4C701.4,406.3 705.3,407.3 707.6,409.2C710.0,411.0 710.9,414.1 712.3,416.6C713.7,419.1 714.6,422.3 716.0,424.1C717.4,425.8 719.0,427.5 720.7,427.2C722.4,426.9 724.1,424.0 726.3,422.2C728.4,420.4 731.2,418.2 733.7,416.6C736.2,415.1 738.7,413.3 741.2,412.9C743.6,412.4 746.1,414.3 748.6,413.8C751.1,413.3 753.6,410.2 756.1,410.1C758.5,409.9 761.6,411.3 763.5,412.9C765.4,414.4 767.2,417.4 767.2,419.4C767.2,421.4 765.4,423.7 763.5,425.0C761.6,426.2 758.5,426.2 756.1,426.9C753.6,427.5 750.8,427.3 748.6,428.7C746.4,430.1 744.9,432.4 743.0,435.2C741.2,438.0 737.4,445.5 737.4,445.5C737.4,445.5 623.8,445.5 623.8,445.5Z" fill="#0000cd"/>
<path d="M693.7,325.3C693.7,325.3 696.1,332.6 697.4,335.6C698.6,338.6 699.5,341.1 701.1,343.4C702.8,345.7 704.9,348.8 707.3,349.6C709.6,350.3 713.0,348.6 715.1,347.7C717.2,346.8 718.1,344.2 719.7,344.0C721.3,343.8 722.9,345.6 724.8,346.4C726.6,347.2 729.4,347.0 730.7,348.6C732.1,350.2 732.7,353.0 732.8,356.1C732.8,359.2 730.6,364.0 730.9,367.3C731.2,370.5 732.4,374.1 734.4,375.8C736.5,377.5 741.1,378.1 743.0,377.5C744.9,376.9 744.9,374.9 746.0,372.5C747.1,370.1 747.9,366.0 749.7,363.2C751.6,360.3 754.6,358.1 757.2,355.5C759.7,353.0 762.4,349.6 765.0,347.9C767.6,346.1 770.1,345.1 772.8,344.9C775.5,344.7 779.6,350.0 781.2,346.8C782.8,343.5 782.1,325.3 782.1,325.3C782.1,325.3 693.7,325.3 693.7,325.3Z" fill="#0000cd"/>
<path d="M717.9,393.3C718.9,391.2 723.3,389.9 726.3,388.9C729.2,387.8 732.5,387.3 735.6,386.8C738.7,386.3 742.0,385.5 744.9,385.9C747.8,386.2 751.3,387.0 753.1,388.9C754.8,390.7 755.9,394.8 755.3,397.1C754.7,399.3 752.0,401.4 749.3,402.6C746.7,403.9 742.8,404.3 739.3,404.5C735.8,404.7 731.3,404.0 728.1,403.6C724.9,403.1 721.6,403.4 719.9,401.7C718.2,400.0 716.8,395.5 717.9,393.3Z" fill="#0000cd"/>
<path d="M782.1,325.3C782.1,325.3 782.8,336.7 784.0,341.2C785.2,345.7 787.4,348.9 789.6,352.4C791.8,355.8 794.5,358.9 797.0,361.7C799.5,364.5 802.6,366.3 804.5,369.1C806.3,371.9 808.2,375.6 808.2,378.4C808.2,381.2 805.7,383.7 804.5,385.9C803.2,388.0 800.1,390.1 800.8,391.5C801.4,392.9 805.1,393.9 808.2,394.3C811.3,394.6 819.4,393.3 819.4,393.3C819.4,393.3 819.4,325.3 819.4,325.3C819.4,325.3 782.1,325.3 782.1,325.3Z" fill="#0000cd"/>
<path d="M782.1,418.5C783.2,415.8 785.7,413.2 788.6,411.0C791.6,408.8 796.3,407.0 799.8,405.4C803.4,403.9 806.8,402.6 810.1,401.7C813.3,400.8 819.4,399.8 819.4,399.8C819.4,399.8 819.4,427.8 819.4,427.8C819.4,427.8 808.2,432.6 804.5,434.3C800.8,436.0 799.7,437.9 797.0,438.0C794.4,438.2 791.1,437.1 788.6,435.2C786.2,433.4 783.6,429.6 782.5,426.9C781.4,424.1 781.1,421.1 782.1,418.5Z" fill="#0000cd"/>
<path d="M627.5,445.5C627.5,445.5 627.9,441.6 629.4,439.9C631.0,438.2 633.7,436.6 636.9,435.2C640.0,433.8 644.9,433.1 648.0,431.5C651.1,430.0 653.5,427.9 655.5,425.9C657.5,423.9 658.1,421.4 660.1,419.4C662.2,417.4 665.1,415.4 667.6,413.8C670.1,412.2 672.6,411.0 675.0,409.7C677.5,408.5 680.2,407.1 682.5,406.4C684.8,405.6 686.4,405.0 689.0,405.1C691.6,405.1 695.0,405.8 697.9,406.7C700.9,407.6 704.7,408.7 706.9,410.5C709.1,412.3 709.7,415.1 711.0,417.5C712.3,420.0 713.1,423.1 714.7,425.0C716.3,426.9 718.6,429.0 720.7,428.7C722.7,428.5 724.6,425.3 726.8,423.5C729.0,421.7 731.7,419.5 734.1,417.9C736.5,416.4 739.0,414.6 741.2,414.2C743.3,413.8 745.2,414.5 746.7,415.7C748.3,416.9 750.8,419.1 750.5,421.3C750.2,423.4 746.4,426.5 744.9,428.7C743.3,430.9 742.7,431.5 741.2,434.3C739.6,437.1 735.6,445.5 735.6,445.5C735.6,445.5 627.5,445.5 627.5,445.5Z" fill="#000080"/>
<path d="M695.5,325.3C695.5,325.3 698.1,332.7 699.2,335.6C700.4,338.5 701.1,340.6 702.6,342.7C704.1,344.8 705.9,347.6 708.0,348.3C710.1,348.9 713.1,347.3 715.1,346.4C717.0,345.5 718.2,342.9 719.7,342.7C721.3,342.5 722.7,344.4 724.4,345.3C726.0,346.1 728.4,346.1 729.6,347.9C730.8,349.7 731.5,352.8 731.5,356.1C731.5,359.3 729.3,363.8 729.6,367.3C729.9,370.7 731.1,374.7 733.3,376.6C735.6,378.4 740.7,379.0 743.0,378.4C745.3,377.9 745.8,375.6 747.1,373.2C748.4,370.8 749.0,366.7 750.8,363.9C752.7,361.1 755.8,358.9 758.3,356.4C760.8,354.0 763.3,350.7 765.7,349.0C768.2,347.3 770.5,346.5 772.8,346.4C775.2,346.2 778.6,351.4 779.9,348.1C781.2,344.7 781.2,325.3 781.2,325.3C781.2,325.3 695.5,325.3 695.5,325.3Z" fill="#000080"/>
<path d="M719.2,393.7C720.0,391.9 723.5,390.9 726.3,390.0C729.0,389.0 732.5,388.5 735.6,388.1C738.7,387.7 742.1,387.1 744.9,387.4C747.6,387.7 750.5,388.4 752.0,390.0C753.4,391.6 754.4,395.2 753.8,397.1C753.3,398.9 751.0,400.3 748.6,401.3C746.2,402.4 742.7,403.0 739.3,403.2C735.9,403.4 731.2,402.7 728.1,402.3C725.1,401.9 722.5,402.2 721.0,400.8C719.5,399.3 718.3,395.5 719.2,393.7Z" fill="#000080"/>
<path d="M789.6,341.2C790.2,339.0 794.5,336.8 797.0,337.5C799.5,338.1 803.9,342.4 804.5,344.9C805.1,347.4 802.6,351.4 800.8,352.4C798.9,353.3 795.2,352.4 793.3,350.5C791.4,348.6 789.0,343.3 789.6,341.2Z" fill="#000080"/>
<path d="M800.8,363.5C801.1,361.0 805.1,361.0 808.2,361.7C811.3,362.3 819.4,367.3 819.4,367.3C819.4,367.3 819.4,378.4 819.4,378.4C819.4,378.4 809.4,379.0 806.3,376.6C803.2,374.1 800.4,366.0 800.8,363.5Z" fill="#000080"/>
<path d="M787.7,367.3C789.0,365.7 793.6,365.5 797.0,365.4C800.4,365.2 804.5,366.3 808.2,366.3C811.9,366.3 819.4,365.4 819.4,365.4C819.4,365.4 819.4,391.5 819.4,391.5C819.4,391.5 812.9,392.7 810.1,392.4C807.3,392.1 805.1,391.3 802.6,389.6C800.1,387.9 797.3,384.6 795.2,382.2C793.0,379.7 790.8,377.2 789.6,374.7C788.3,372.2 786.5,368.8 787.7,367.3Z" fill="#000080"/>
<path d="M784.0,417.5C784.9,415.1 786.8,413.8 789.6,412.0C792.4,410.1 797.3,407.9 800.8,406.4C804.2,404.8 807.0,403.6 810.1,402.6C813.2,401.7 819.4,400.8 819.4,400.8C819.4,400.8 819.4,426.9 819.4,426.9C819.4,426.9 808.2,431.7 804.5,433.4C800.8,435.1 799.5,436.9 797.0,437.1C794.5,437.3 791.8,436.0 789.6,434.3C787.4,432.6 784.9,429.6 784.0,426.9C783.1,424.1 783.1,420.0 784.0,417.5Z" fill="#000080"/>
<path d="M746.7,376.6C747.1,373.5 748.6,370.0 750.5,367.3C752.3,364.5 755.4,362.3 757.9,359.8C760.4,357.3 762.9,354.2 765.4,352.4C767.9,350.5 770.6,348.9 772.8,348.6C775.0,348.3 777.2,348.6 778.4,350.5C779.6,352.4 779.6,356.7 780.3,359.8C780.9,362.9 782.4,366.3 782.1,369.1C781.8,371.9 778.7,373.8 778.4,376.6C778.1,379.4 779.3,382.8 780.3,385.9C781.2,389.0 783.7,392.1 784.0,395.2C784.3,398.3 782.1,401.7 782.1,404.5C782.1,407.3 784.3,409.5 784.0,412.0C783.7,414.4 782.1,417.5 780.3,419.4C778.4,421.3 775.0,423.4 772.8,423.1C770.6,422.8 769.4,419.4 767.2,417.5C765.1,415.7 762.0,414.1 759.8,412.0C757.6,409.8 755.7,407.3 754.2,404.5C752.6,401.7 751.4,398.3 750.5,395.2C749.5,392.1 749.2,389.0 748.6,385.9C748.0,382.8 746.4,379.7 746.7,376.6Z" fill="#6495ed"/>
<path d="M691.8,361.7C693.0,358.9 695.7,355.8 698.3,354.2C701.0,352.7 704.5,353.6 707.6,352.4C710.7,351.1 714.3,348.1 716.9,346.8C719.6,345.5 721.4,344.1 723.5,344.5C725.5,345.0 728.3,347.0 729.0,349.6C729.8,352.1 728.6,356.5 728.1,359.8C727.7,363.1 725.8,366.2 726.3,369.1C726.7,372.1 729.7,375.5 730.9,377.5C732.1,379.5 734.2,380.1 733.7,381.2C733.2,382.3 730.6,384.0 728.1,384.0C725.6,384.0 721.9,382.3 718.8,381.2C715.7,380.1 712.0,377.7 709.5,377.5C707.0,377.3 705.5,378.9 703.9,380.3C702.4,381.7 700.2,384.3 700.2,385.9C700.2,387.4 703.9,388.7 703.9,389.6C703.9,390.5 701.7,392.1 700.2,391.5C698.6,390.8 696.5,388.0 694.6,385.9C692.7,383.7 689.6,380.9 689.0,378.4C688.4,375.9 690.4,373.8 690.9,371.0C691.3,368.2 690.6,364.5 691.8,361.7Z" fill="#00bfff"/>
<path d="M766.3,353.3C767.5,351.6 771.7,349.9 773.7,349.6C775.8,349.2 777.4,349.7 778.4,351.4C779.4,353.1 780.1,357.3 779.9,359.8C779.7,362.3 779.1,365.4 777.5,366.3C775.8,367.3 771.9,366.5 770.0,365.4C768.2,364.3 766.9,361.8 766.3,359.8C765.7,357.8 765.1,355.0 766.3,353.3Z" fill="#00bfff"/>
<path d="M749.5,378.4C750.0,376.4 752.0,375.0 754.2,374.7C756.4,374.4 761.0,375.0 762.6,376.6C764.1,378.1 764.3,382.0 763.5,384.0C762.7,386.0 759.9,388.2 757.9,388.7C755.9,389.1 752.8,388.5 751.4,386.8C750.0,385.1 749.1,380.4 749.5,378.4Z" fill="#00bfff"/>
<path d="M764.4,368.2C765.2,366.6 770.2,366.2 771.9,367.3C773.5,368.3 775.1,373.1 774.3,374.7C773.5,376.3 768.9,377.7 767.2,376.6C765.6,375.5 763.7,369.7 764.4,368.2Z" fill="#00bfff"/>
<path d="M759.8,392.4C760.4,390.1 763.8,388.5 766.3,388.7C768.8,388.8 772.3,391.2 774.7,393.3C777.1,395.5 780.0,399.2 780.6,401.7C781.3,404.2 780.3,407.3 778.4,408.2C776.5,409.2 771.7,408.2 769.1,407.3C766.5,406.4 764.1,405.1 762.6,402.6C761.0,400.2 759.2,394.7 759.8,392.4Z" fill="#00bfff"/>
<path d="M771.9,419.0C772.6,417.6 778.4,415.6 780.3,416.0C782.1,416.5 783.7,420.2 783.1,421.6C782.4,423.1 778.0,425.1 776.2,424.6C774.3,424.2 771.2,420.5 771.9,419.0Z" fill="#00bfff"/>
<path d="M711.4,412.0C712.0,409.8 714.5,409.2 716.9,408.2C719.4,407.3 723.8,406.4 726.3,406.4C728.7,406.4 731.5,407.0 731.8,408.2C732.2,409.5 729.4,412.0 728.1,413.8C726.9,415.7 725.9,417.5 724.4,419.4C722.8,421.3 720.7,424.7 718.8,425.0C716.9,425.3 714.5,423.4 713.2,421.3C712.0,419.1 710.7,414.1 711.4,412.0Z" fill="#00bfff"/>
<path d="M700.2,384.0C701.0,382.9 704.4,382.5 705.8,383.1C707.2,383.7 708.7,386.3 708.6,387.7C708.4,389.1 706.2,391.2 704.8,391.5C703.5,391.8 701.3,390.8 700.6,389.6C699.8,388.4 699.3,385.1 700.2,384.0Z" fill="#00bfff"/>
<path d="M735.6,445.5C735.6,445.5 739.0,436.0 743.0,433.4C747.1,430.7 754.5,430.6 759.8,429.6C765.1,428.7 769.9,427.9 774.7,427.8C779.5,427.6 785.4,425.8 788.6,428.7C791.9,431.7 794.2,445.5 794.2,445.5C794.2,445.5 735.6,445.5 735.6,445.5Z" fill="#00bfff"/>
<path d="M659.2,348.6C659.5,346.3 662.9,341.8 664.8,339.3C666.7,336.8 667.9,335.1 670.4,333.7C672.9,332.3 677.8,330.3 679.7,330.9C681.6,331.6 682.2,335.1 681.6,337.5C680.9,339.8 677.8,342.7 676.0,344.9C674.1,347.1 672.6,349.1 670.4,350.5C668.2,351.9 664.8,353.6 662.9,353.3C661.1,353.0 658.9,351.0 659.2,348.6Z" fill="#add8e6"/>
<path d="M644.3,423.1C645.1,421.7 649.3,419.4 651.8,417.5C654.2,415.7 657.7,412.4 659.2,412.0C660.8,411.5 661.9,413.3 661.1,414.7C660.2,416.2 655.9,419.4 653.6,421.3C651.3,423.1 648.6,425.6 647.1,425.9C645.5,426.2 643.5,424.5 644.3,423.1Z" fill="#add8e6"/>
<path d="M705.8,357.9C707.3,356.7 710.7,355.9 713.2,355.1C715.7,354.4 718.5,353.1 720.7,353.3C722.8,353.4 725.6,353.7 726.3,356.1C726.9,358.4 724.4,363.8 724.4,367.3C724.4,370.7 726.7,374.4 726.3,376.6C725.8,378.7 723.2,380.6 721.6,380.3C720.0,380.0 718.6,375.5 716.9,374.7C715.2,373.9 713.1,375.9 711.4,375.6C709.6,375.3 707.2,374.5 706.7,372.8C706.2,371.1 709.0,367.1 708.6,365.4C708.1,363.7 704.4,363.8 703.9,362.6C703.4,361.4 704.2,359.2 705.8,357.9Z" fill="#add8e6"/>
<path d="M696.5,356.4C697.2,355.7 700.7,355.4 701.7,356.1C702.6,356.7 702.8,359.6 702.0,360.4C701.3,361.1 697.9,361.4 697.0,360.7C696.1,360.1 695.7,357.2 696.5,356.4Z" fill="#add8e6"/>
<path d="M768.2,352.4C769.2,350.3 774.8,349.6 776.5,350.5C778.3,351.4 778.4,355.8 778.4,357.9C778.4,360.1 777.9,362.7 776.5,363.5C775.1,364.3 771.4,364.5 770.0,362.6C768.6,360.7 767.1,354.4 768.2,352.4Z" fill="#add8e6"/>
<path d="M766.3,370.0C766.8,369.1 769.9,368.5 771.0,369.1C772.0,369.7 773.3,372.8 772.8,373.8C772.4,374.7 769.2,375.3 768.2,374.7C767.1,374.1 765.8,371.0 766.3,370.0Z" fill="#add8e6"/>
<path d="M751.4,379.4C752.1,378.1 754.3,376.6 756.1,376.6C757.8,376.6 760.9,378.0 761.6,379.4C762.4,380.8 761.8,383.7 760.7,384.9C759.6,386.2 756.6,387.0 755.1,386.8C753.7,386.7 752.6,385.3 752.0,384.0C751.3,382.8 750.7,380.6 751.4,379.4Z" fill="#add8e6"/>
<path d="M761.6,393.3C762.1,391.6 764.4,390.2 766.3,390.5C768.2,390.8 770.8,393.3 772.8,395.2C774.8,397.1 777.8,399.8 778.4,401.7C779.0,403.6 778.1,405.7 776.5,406.4C775.0,407.0 771.3,406.4 769.1,405.4C766.9,404.5 764.7,402.8 763.5,400.8C762.3,398.8 761.2,395.0 761.6,393.3Z" fill="#add8e6"/>
<path d="M773.7,419.4C774.4,418.5 778.9,417.2 780.3,417.5C781.7,417.9 782.8,420.3 782.1,421.3C781.5,422.2 777.9,423.4 776.5,423.1C775.1,422.8 773.1,420.3 773.7,419.4Z" fill="#add8e6"/>
<path d="M714.1,412.9C714.8,411.2 716.8,409.9 718.8,409.2C720.8,408.4 724.6,408.1 726.3,408.2C727.9,408.4 729.4,408.7 729.0,410.1C728.7,411.5 726.1,414.6 724.4,416.6C722.7,418.6 720.4,421.7 718.8,422.2C717.3,422.7 715.9,421.0 715.1,419.4C714.3,417.9 713.5,414.6 714.1,412.9Z" fill="#add8e6"/>
<path d="M739.3,445.5C739.3,445.5 742.4,437.5 745.8,435.2C749.2,433.0 755.0,432.9 759.8,432.1C764.6,431.2 770.2,430.5 774.7,430.2C779.2,430.0 784.0,428.0 786.8,430.6C789.6,433.1 791.4,445.5 791.4,445.5C791.4,445.5 739.3,445.5 739.3,445.5Z" fill="#add8e6"/>
<path d="M662.9,346.8C663.2,345.4 664.8,343.2 666.7,341.2C668.5,339.2 672.1,336.1 674.1,334.7C676.1,333.3 677.8,332.3 678.8,332.8C679.7,333.3 680.5,335.6 679.7,337.5C678.9,339.3 676.0,342.1 674.1,344.0C672.2,345.8 670.1,347.7 668.5,348.6C667.0,349.6 665.7,349.9 664.8,349.6C663.9,349.2 662.6,348.2 662.9,346.8Z" fill="#ffffff"/>
<path d="M663.9,377.5C664.8,376.7 668.5,375.5 670.4,375.6C672.2,375.8 675.0,377.6 675.0,378.4C675.0,379.3 672.1,380.4 670.4,380.7C668.7,381.0 665.9,380.8 664.8,380.3C663.7,379.8 662.9,378.3 663.9,377.5Z" fill="#ffffff"/>
<path d="M648.0,422.2C648.5,421.5 652.1,419.2 653.6,417.9C655.2,416.7 656.9,414.8 657.3,414.7C657.8,414.7 657.4,416.4 656.4,417.5C655.4,418.6 652.0,421.5 650.8,422.2C649.6,422.9 647.6,422.9 648.0,422.2Z" fill="#ffffff"/>
<path d="M716.0,357.9C716.6,356.7 720.2,355.8 721.6,356.1C723.0,356.4 724.1,357.6 724.4,359.8C724.7,362.0 723.5,366.2 723.5,369.1C723.5,372.1 724.9,375.8 724.4,377.5C723.9,379.2 721.9,380.3 720.7,379.4C719.4,378.4 717.4,374.5 716.9,371.9C716.5,369.3 718.0,365.9 717.9,363.5C717.7,361.2 715.4,359.2 716.0,357.9Z" fill="#ffffff"/>
<path d="M754.2,380.3C754.6,379.6 756.1,378.6 757.0,378.8C757.9,379.0 759.4,380.4 759.4,381.2C759.4,382.1 757.8,383.7 757.0,384.0C756.2,384.3 755.0,383.7 754.6,383.1C754.1,382.5 753.8,381.0 754.2,380.3Z" fill="#ffffff"/>
<path d="M763.5,395.2C763.5,393.5 764.9,392.1 766.3,392.4C767.7,392.7 770.2,395.3 771.9,397.1C773.6,398.8 776.4,401.4 776.5,402.6C776.7,403.9 774.5,404.5 772.8,404.5C771.1,404.5 767.9,404.2 766.3,402.6C764.7,401.1 763.5,396.9 763.5,395.2Z" fill="#ffffff"/>
<path d="M716.0,413.8C716.5,412.6 718.0,411.1 719.7,410.5C721.4,409.8 725.6,409.0 726.3,409.7C726.9,410.4 724.7,413.2 723.5,414.7C722.2,416.3 720.0,418.6 718.8,419.0C717.7,419.5 717.0,418.4 716.6,417.5C716.1,416.7 715.5,415.0 716.0,413.8Z" fill="#ffffff"/>
<path d="M701.7,385.5C702.1,384.7 704.6,384.5 705.4,384.9C706.2,385.4 707.1,387.3 706.7,388.1C706.3,388.9 703.8,390.0 703.0,389.6C702.1,389.2 701.3,386.3 701.7,385.5Z" fill="#ffffff"/>
<path d="M743.0,445.5C743.0,445.5 745.8,439.5 748.6,437.7C751.4,435.9 755.4,435.5 759.8,434.7C764.1,433.9 770.5,433.1 774.7,432.8C778.9,432.5 782.6,430.7 784.9,432.8C787.3,434.9 788.6,445.5 788.6,445.5C788.6,445.5 743.0,445.5 743.0,445.5Z" fill="#ffffff"/>
<path d="M759.8,363.5C760.1,361.4 764.0,357.6 765.4,357.9C766.8,358.2 768.5,363.2 768.2,365.4C767.9,367.6 764.9,371.3 763.5,371.0C762.1,370.7 759.5,365.7 759.8,363.5Z" fill="#6495ed"/>
<path d="M771.0,378.4C771.7,376.7 776.2,376.3 777.5,377.5C778.7,378.7 779.2,384.2 778.4,385.9C777.6,387.6 774.1,389.0 772.8,387.7C771.6,386.5 770.2,380.1 771.0,378.4Z" fill="#6495ed"/>
<path d="M702.0,363.5C702.9,362.1 705.6,362.4 707.6,362.6C709.6,362.7 713.2,363.1 714.1,364.5C715.1,365.9 713.8,370.0 713.2,371.0C712.6,371.9 710.9,370.8 710.4,370.0C710.0,369.3 711.2,366.9 710.4,366.3C709.6,365.7 706.6,365.4 705.8,366.3C704.9,367.3 706.0,371.1 705.4,371.9C704.8,372.7 703.0,372.4 702.4,371.0C701.9,369.6 701.2,364.9 702.0,363.5Z" fill="#4169e1"/>
</g>
<g mask="url(#m4)">
<rect x="809.0" y="325.0" width="284.0" height="120.0" fill="#fff"/>
<path d="M809.3,325.3L1093.4,325.3L1093.4,445.5L809.3,445.5Z" fill="#0000cd"/>
<path d="M1017.0,325.3C1017.0,325.3 1022.6,334.8 1024.5,339.3C1026.3,343.8 1027.0,347.7 1028.2,352.4C1029.4,357.0 1030.7,362.9 1031.9,367.3C1033.2,371.6 1034.1,374.1 1035.6,378.4C1037.2,382.8 1041.5,390.5 1041.2,393.3C1040.9,396.1 1036.9,395.5 1033.8,395.2C1030.7,394.9 1026.3,393.0 1022.6,391.5C1018.9,389.9 1015.2,386.5 1011.4,385.9C1007.7,385.3 1003.4,386.5 1000.3,387.7C997.2,389.0 994.7,391.2 992.8,393.3C990.9,395.5 990.3,398.3 989.1,400.8C987.8,403.3 987.2,406.1 985.4,408.2C983.5,410.4 979.8,411.6 977.9,413.8C976.0,416.0 976.0,419.4 974.2,421.3C972.3,423.1 968.6,423.4 966.7,425.0C964.9,426.5 963.0,428.7 963.0,430.6C963.0,432.4 965.2,433.7 966.7,436.2C968.3,438.6 972.3,445.5 972.3,445.5C972.3,445.5 1093.4,445.5 1093.4,445.5C1093.4,445.5 1093.4,325.3 1093.4,325.3C1093.4,325.3 1017.0,325.3 1017.0,325.3Z" fill="#000080"/>
<path d="M914.6,341.2C914.9,339.2 917.7,336.4 920.2,333.7C922.6,331.1 929.5,325.3 929.5,325.3C929.5,325.3 1018.9,325.3 1018.9,325.3C1018.9,325.3 1018.3,332.8 1016.1,334.7C1013.9,336.5 1009.7,336.4 1005.8,336.5C1002.0,336.7 996.8,335.1 992.8,335.6C988.8,336.1 985.0,337.5 981.6,339.3C978.2,341.2 974.8,344.6 972.3,346.8C969.8,348.9 968.9,351.7 966.7,352.4C964.6,353.0 961.8,351.4 959.3,350.5C956.8,349.6 954.3,347.7 951.8,346.8C949.3,345.8 947.2,344.9 944.4,344.9C941.6,344.9 938.2,346.3 935.1,346.8C932.0,347.2 928.5,347.8 925.8,347.7C923.0,347.5 920.2,346.9 918.3,345.8C916.4,344.7 914.3,343.2 914.6,341.2Z" fill="#000080"/>
<path d="M955.6,352.4C956.5,351.1 960.2,350.2 963.0,350.5C965.8,350.8 969.2,353.0 972.3,354.2C975.4,355.5 978.8,356.4 981.6,357.9C984.4,359.5 989.1,362.3 989.1,363.5C989.1,364.8 984.4,365.4 981.6,365.4C978.8,365.4 975.4,364.1 972.3,363.5C969.2,362.9 965.5,362.6 963.0,361.7C960.5,360.7 958.7,359.5 957.4,357.9C956.2,356.4 954.6,353.6 955.6,352.4Z" fill="#000080"/>
<path d="M944.4,374.7C945.6,373.1 950.6,371.4 953.7,371.0C956.8,370.5 959.9,371.3 963.0,371.9C966.1,372.5 969.2,373.3 972.3,374.7C975.4,376.1 979.1,378.4 981.6,380.3C984.1,382.2 987.2,384.3 987.2,385.9C987.2,387.4 984.1,389.3 981.6,389.6C979.1,389.9 975.4,388.4 972.3,387.7C969.2,387.1 966.1,386.5 963.0,385.9C959.9,385.3 956.5,384.9 953.7,384.0C950.9,383.1 947.8,381.8 946.2,380.3C944.7,378.7 943.1,376.3 944.4,374.7Z" fill="#000080"/>
<path d="M815.9,348.6C816.2,346.5 818.7,345.4 821.5,344.9C824.2,344.4 828.9,345.2 832.6,345.8C836.4,346.5 840.1,348.3 843.8,348.6C847.5,348.9 850.9,348.0 855.0,347.7C859.0,347.4 864.3,346.3 868.0,346.8C871.7,347.2 876.1,348.9 877.3,350.5C878.6,352.0 877.3,354.8 875.5,356.1C873.6,357.3 869.6,357.3 866.2,357.9C862.7,358.6 858.7,359.0 855.0,359.8C851.3,360.6 847.2,362.3 843.8,362.6C840.4,362.9 836.7,360.9 834.5,361.7C832.3,362.4 832.3,366.6 830.8,367.3C829.2,367.9 827.0,366.9 825.2,365.4C823.3,363.8 821.1,360.7 819.6,357.9C818.0,355.1 815.6,350.8 815.9,348.6Z" fill="#000080"/>
<path d="M809.3,380.3C809.3,380.3 817.6,377.5 821.5,376.6C825.3,375.6 828.9,375.2 832.6,374.7C836.4,374.2 840.1,373.8 843.8,373.8C847.5,373.8 850.6,374.2 855.0,374.7C859.3,375.2 864.9,375.9 869.9,376.6C874.8,377.2 882.3,377.7 884.8,378.4C887.3,379.2 889.7,380.9 888.5,382.2C887.3,383.4 881.1,384.9 877.3,385.9C873.6,386.8 869.9,386.8 866.2,387.7C862.4,388.7 858.7,390.2 855.0,391.5C851.3,392.7 847.5,394.1 843.8,395.2C840.1,396.3 836.4,397.7 832.6,398.0C828.9,398.3 825.3,397.5 821.5,397.1C817.6,396.6 809.3,395.2 809.3,395.2C809.3,395.2 809.3,380.3 809.3,380.3Z" fill="#000080"/>
<path d="M809.3,404.5C809.3,404.5 820.4,402.8 825.2,402.6C830.0,402.5 834.5,402.6 838.2,403.6C841.9,404.5 844.4,406.8 847.5,408.2C850.6,409.6 854.0,410.4 856.8,412.0C859.6,413.5 862.7,415.1 864.3,417.5C865.8,420.0 865.2,424.1 866.2,426.9C867.1,429.6 868.9,431.2 869.9,434.3C870.8,437.4 871.7,445.5 871.7,445.5C871.7,445.5 809.3,445.5 809.3,445.5C809.3,445.5 809.3,404.5 809.3,404.5Z" fill="#000080"/>
<path d="M942.5,406.4C943.3,405.1 946.2,403.6 948.1,403.6C950.0,403.6 952.9,405.0 953.7,406.4C954.5,407.8 953.8,410.7 952.8,412.0C951.7,413.2 948.7,414.0 947.2,413.8C945.6,413.7 944.2,412.3 943.4,411.0C942.7,409.8 941.7,407.6 942.5,406.4Z" fill="#000080"/>
<path d="M976.0,397.1C977.0,395.5 981.3,394.6 983.5,395.2C985.7,395.8 988.8,398.9 989.1,400.8C989.4,402.6 987.2,405.7 985.4,406.4C983.5,407.0 979.5,406.1 977.9,404.5C976.4,402.9 975.1,398.6 976.0,397.1Z" fill="#000080"/>
<path d="M809.3,325.3C809.3,325.3 836.4,325.3 836.4,325.3C836.4,325.3 846.3,328.3 847.5,330.0C848.8,331.7 846.3,334.3 843.8,335.6C841.3,336.8 836.4,337.5 832.6,337.5C828.9,337.5 825.3,335.6 821.5,335.6C817.6,335.6 809.3,337.5 809.3,337.5C809.3,337.5 809.3,325.3 809.3,325.3Z" fill="#000080"/>
<path d="M974.2,434.3C975.1,431.8 978.8,430.9 981.6,430.6C984.4,430.3 987.8,431.5 990.9,432.4C994.0,433.4 998.1,434.0 1000.3,436.2C1002.4,438.3 1004.0,445.5 1004.0,445.5C1004.0,445.5 976.0,445.5 976.0,445.5C976.0,445.5 973.2,436.8 974.2,434.3Z" fill="#0000cd"/>
<path d="M968.6,367.3C968.6,365.1 974.5,363.2 977.9,361.7C981.3,360.1 985.4,359.5 989.1,357.9C992.8,356.4 997.2,354.2 1000.3,352.4C1003.4,350.5 1004.9,348.6 1007.7,346.8C1010.5,344.9 1014.2,341.5 1017.0,341.2C1019.8,340.9 1022.6,342.7 1024.5,344.9C1026.3,347.1 1027.1,350.8 1028.2,354.2C1029.3,357.6 1030.1,361.7 1031.0,365.4C1031.9,369.1 1034.2,373.5 1033.8,376.6C1033.3,379.7 1030.7,382.5 1028.2,384.0C1025.7,385.6 1022.0,385.9 1018.9,385.9C1015.8,385.9 1012.7,384.0 1009.6,384.0C1006.5,384.0 1003.0,385.9 1000.3,385.9C997.5,385.9 995.3,385.3 992.8,384.0C990.3,382.8 987.8,380.0 985.4,378.4C982.9,376.9 980.7,376.6 977.9,374.7C975.1,372.8 968.6,369.4 968.6,367.3Z" fill="#4169e1"/>
<path d="M838.2,341.2C839.5,339.3 847.2,339.0 851.3,337.5C855.3,335.9 859.3,333.9 862.4,331.9C865.5,329.8 869.9,325.3 869.9,325.3C869.9,325.3 914.6,325.3 914.6,325.3C914.6,325.3 912.7,332.3 912.7,335.6C912.7,338.8 912.4,342.7 914.6,344.9C916.8,347.1 921.4,348.3 925.8,348.6C930.1,348.9 936.6,346.5 940.7,346.8C944.7,347.1 947.5,348.3 950.0,350.5C952.4,352.7 955.2,357.0 955.6,359.8C955.9,362.6 953.7,365.1 951.8,367.3C950.0,369.4 946.2,371.0 944.4,372.8C942.5,374.7 940.7,376.3 940.7,378.4C940.7,380.6 941.9,384.3 944.4,385.9C946.9,387.4 951.8,386.8 955.6,387.7C959.3,388.7 963.3,390.2 966.7,391.5C970.1,392.7 973.6,393.0 976.0,395.2C978.5,397.4 981.3,401.7 981.6,404.5C981.9,407.3 979.5,409.5 977.9,412.0C976.4,414.4 974.8,417.5 972.3,419.4C969.8,421.3 965.2,421.3 963.0,423.1C960.8,425.0 960.5,428.1 959.3,430.6C958.0,433.1 956.5,435.5 955.6,438.0C954.6,440.5 953.7,445.5 953.7,445.5C953.7,445.5 866.2,445.5 866.2,445.5C866.2,445.5 868.3,438.0 868.0,434.3C867.7,430.6 864.0,426.2 864.3,423.1C864.6,420.0 867.1,417.5 869.9,415.7C872.7,413.8 877.3,412.9 881.1,412.0C884.8,411.0 889.4,411.3 892.2,410.1C895.0,408.8 897.5,406.7 897.8,404.5C898.1,402.3 894.4,399.5 894.1,397.1C893.8,394.6 896.3,391.8 896.0,389.6C895.6,387.4 893.5,386.2 892.2,384.0C891.0,381.8 890.7,378.4 888.5,376.6C886.3,374.7 882.3,374.4 879.2,372.8C876.1,371.3 872.7,368.8 869.9,367.3C867.1,365.7 862.7,365.1 862.4,363.5C862.1,362.0 865.8,359.2 868.0,357.9C870.2,356.7 873.6,357.3 875.5,356.1C877.3,354.8 880.1,352.0 879.2,350.5C878.3,348.9 873.9,347.2 869.9,346.8C865.8,346.3 859.3,347.4 855.0,347.7C850.6,348.0 846.6,349.7 843.8,348.6C841.0,347.5 837.0,343.0 838.2,341.2Z" fill="#6495ed"/>
<path d="M981.6,369.1C981.6,366.9 986.0,365.4 989.1,363.5C992.2,361.7 996.8,359.8 1000.3,357.9C1003.7,356.1 1006.8,354.2 1009.6,352.4C1012.4,350.5 1014.8,347.1 1017.0,346.8C1019.2,346.5 1021.4,348.3 1022.6,350.5C1023.8,352.7 1023.5,356.7 1024.5,359.8C1025.4,362.9 1027.3,366.3 1028.2,369.1C1029.1,371.9 1030.7,374.7 1030.1,376.6C1029.4,378.4 1027.0,379.7 1024.5,380.3C1022.0,380.9 1018.3,380.6 1015.2,380.3C1012.1,380.0 1008.9,378.6 1005.8,378.4C1002.7,378.3 999.3,379.7 996.5,379.4C993.7,379.0 991.6,378.3 989.1,376.6C986.6,374.9 981.6,371.3 981.6,369.1Z" fill="#6495ed"/>
<path d="M990.9,335.6C991.4,334.2 996.2,332.8 998.4,332.8C1000.6,332.8 1003.4,334.3 1004.0,335.6C1004.6,336.8 1003.5,339.3 1002.1,340.2C1000.7,341.2 997.5,342.0 995.6,341.2C993.7,340.4 990.5,337.0 990.9,335.6Z" fill="#6495ed"/>
<path d="M957.4,400.8C958.3,398.6 960.5,396.4 963.0,395.2C965.5,393.9 969.2,393.0 972.3,393.3C975.4,393.6 979.1,395.2 981.6,397.1C984.1,398.9 987.2,402.0 987.2,404.5C987.2,407.0 983.5,409.8 981.6,412.0C979.8,414.1 978.2,416.3 976.0,417.5C973.9,418.8 971.1,419.7 968.6,419.4C966.1,419.1 963.0,417.5 961.1,415.7C959.3,413.8 958.0,410.7 957.4,408.2C956.8,405.7 956.5,402.9 957.4,400.8Z" fill="#6495ed"/>
<path d="M809.3,339.3C809.3,339.3 817.6,337.5 821.5,337.5C825.3,337.5 829.8,338.4 832.6,339.3C835.4,340.2 838.5,342.1 838.2,343.0C837.9,344.0 833.6,344.4 830.8,344.9C828.0,345.4 823.9,344.9 821.5,345.8C819.0,346.8 816.2,348.5 815.9,350.5C815.6,352.5 818.3,355.8 819.6,357.9C820.8,360.1 823.6,362.1 823.3,363.5C823.0,364.9 820.1,365.7 817.7,366.3C815.4,366.9 809.3,367.3 809.3,367.3C809.3,367.3 809.3,339.3 809.3,339.3Z" fill="#6495ed"/>
<path d="M843.8,397.1C844.4,395.7 851.3,394.6 855.0,393.3C858.7,392.1 862.4,390.7 866.2,389.6C869.9,388.5 873.6,387.7 877.3,386.8C881.1,385.9 885.4,383.9 888.5,384.0C891.6,384.2 894.6,385.9 896.0,387.7C897.3,389.6 896.6,392.7 896.9,395.2C897.2,397.7 898.6,400.5 897.8,402.6C897.0,404.8 894.4,407.0 892.2,408.2C890.1,409.5 887.9,409.8 884.8,410.1C881.7,410.4 877.0,410.6 873.6,410.1C870.2,409.6 867.4,408.1 864.3,407.3C861.2,406.5 857.1,406.4 855.0,405.4C852.8,404.5 853.1,403.1 851.3,401.7C849.4,400.3 843.2,398.4 843.8,397.1Z" fill="#6495ed"/>
<path d="M844.9,337.5C847.7,335.5 858.4,333.3 865.0,331.3C871.7,329.3 885.0,325.3 885.0,325.3C885.0,325.3 910.9,325.3 910.9,325.3C910.9,325.3 906.4,331.7 907.1,333.7C907.8,335.7 910.9,335.8 914.9,337.5C919.0,339.1 929.6,342.2 935.1,344.9C940.5,347.6 945.1,350.3 947.5,353.7C950.0,357.0 950.8,361.4 950.0,365.0C949.1,368.6 945.8,372.6 942.5,375.1C939.2,377.6 934.6,379.5 930.0,379.9C925.4,380.3 919.1,377.1 914.9,377.5C910.8,377.9 908.2,382.5 904.9,382.5C901.6,382.5 898.3,379.6 895.0,377.5C891.7,375.4 887.9,373.0 885.0,370.0C882.0,367.1 880.0,363.3 877.5,360.0C875.0,356.6 873.0,352.4 870.1,349.9C867.1,347.4 863.8,345.9 860.0,344.9C856.2,343.9 850.0,345.0 847.5,343.8C845.0,342.5 842.1,339.4 844.9,337.5Z" fill="#00bfff"/>
<path d="M896.0,385.9C897.0,384.3 900.3,384.0 903.4,384.0C906.5,384.0 910.9,385.3 914.6,385.9C918.3,386.5 922.0,386.8 925.8,387.7C929.5,388.7 933.8,390.2 936.9,391.5C940.0,392.7 943.4,393.6 944.4,395.2C945.3,396.7 944.1,399.5 942.5,400.8C941.0,402.0 937.9,401.4 935.1,402.6C932.3,403.9 927.9,406.1 925.8,408.2C923.6,410.4 922.0,413.2 922.0,415.7C922.0,418.2 923.9,421.3 925.8,423.1C927.6,425.0 930.1,426.5 933.2,426.9C936.3,427.2 940.7,425.9 944.4,425.0C948.1,424.1 952.8,421.3 955.6,421.3C958.3,421.3 960.8,423.1 961.1,425.0C961.5,426.9 959.0,429.0 957.4,432.4C955.9,435.9 951.8,445.5 951.8,445.5C951.8,445.5 869.9,445.5 869.9,445.5C869.9,445.5 870.5,434.6 871.7,430.6C873.0,426.5 874.8,423.7 877.3,421.3C879.8,418.8 883.5,416.9 886.6,415.7C889.7,414.4 893.5,415.1 896.0,413.8C898.4,412.6 901.2,410.4 901.5,408.2C901.9,406.1 898.6,403.3 897.8,400.8C897.0,398.3 897.2,395.8 896.9,393.3C896.6,390.8 894.9,387.4 896.0,385.9Z" fill="#00bfff"/>
<path d="M982.6,371.9C982.9,370.7 984.9,369.0 987.2,368.2C989.5,367.4 994.0,366.9 996.5,367.3C999.0,367.6 1001.8,368.8 1002.1,370.0C1002.4,371.3 1000.3,373.6 998.4,374.7C996.5,375.8 993.1,376.4 990.9,376.6C988.8,376.7 986.8,376.4 985.4,375.6C984.0,374.9 982.2,373.1 982.6,371.9Z" fill="#00bfff"/>
<path d="M1002.1,350.5C1002.9,349.2 1006.5,347.4 1007.7,348.6C1008.9,349.9 1009.9,355.8 1009.6,357.9C1009.3,360.1 1006.9,362.0 1005.8,361.7C1004.8,361.4 1003.7,357.9 1003.0,356.1C1002.4,354.2 1001.3,351.7 1002.1,350.5Z" fill="#00bfff"/>
<path d="M995.6,336.5C996.1,335.9 999.3,335.3 1000.3,335.6C1001.2,335.9 1001.7,337.8 1001.2,338.4C1000.7,339.0 998.4,339.6 997.5,339.3C996.5,339.0 995.1,337.1 995.6,336.5Z" fill="#00bfff"/>
<path d="M903.4,354.2C903.4,352.0 904.6,349.2 907.1,348.6C909.6,348.0 914.6,350.0 918.3,350.5C922.0,351.0 925.4,351.3 929.5,351.4C933.5,351.6 939.6,350.3 942.5,351.4C945.5,352.5 947.2,355.9 947.2,357.9C947.2,360.0 944.8,362.3 942.5,363.5C940.2,364.8 936.3,364.8 933.2,365.4C930.1,366.0 926.7,366.3 923.9,367.3C921.1,368.2 918.9,370.0 916.4,371.0C914.0,371.9 910.9,373.5 909.0,372.8C907.1,372.2 905.6,369.1 905.3,367.3C905.0,365.4 907.4,363.8 907.1,361.7C906.8,359.5 903.4,356.4 903.4,354.2Z" fill="#add8e6"/>
<path d="M888.5,344.9C888.8,343.8 893.9,341.2 896.0,341.2C898.0,341.2 900.9,343.8 900.6,344.9C900.3,346.0 896.1,347.7 894.1,347.7C892.1,347.7 888.2,346.0 888.5,344.9Z" fill="#add8e6"/>
<path d="M901.5,385.9C902.8,384.8 908.1,384.3 910.9,384.9C913.6,385.6 915.5,388.5 918.3,389.6C921.1,390.7 924.2,390.8 927.6,391.5C931.0,392.1 936.3,392.4 938.8,393.3C941.3,394.3 943.1,396.0 942.5,397.1C941.9,398.1 937.5,398.6 935.1,399.8C932.6,401.1 929.9,402.5 927.6,404.5C925.3,406.5 922.3,409.5 921.1,412.0C919.9,414.4 919.4,417.2 920.2,419.4C920.9,421.6 923.6,423.4 925.8,425.0C927.9,426.5 930.1,428.4 933.2,428.7C936.3,429.0 941.3,427.8 944.4,426.9C947.5,425.9 949.7,423.4 951.8,423.1C954.0,422.8 956.8,423.7 957.4,425.0C958.0,426.2 956.8,428.7 955.6,430.6C954.3,432.4 951.2,433.7 950.0,436.2C948.7,438.6 948.1,445.5 948.1,445.5C948.1,445.5 875.5,445.5 875.5,445.5C875.5,445.5 873.9,436.2 874.5,432.4C875.2,428.7 876.9,425.5 879.2,423.1C881.5,420.8 885.4,419.6 888.5,418.5C891.6,417.4 894.7,417.7 897.8,416.6C900.9,415.5 905.0,414.0 907.1,412.0C909.3,409.9 910.9,407.0 910.9,404.5C910.9,402.0 908.4,399.2 907.1,397.1C905.9,394.9 904.3,393.3 903.4,391.5C902.5,389.6 900.3,387.0 901.5,385.9Z" fill="#add8e6"/>
<path d="M902.5,385.9C903.4,384.9 907.6,384.3 909.9,384.9C912.2,385.6 915.7,388.4 916.4,390.0C917.2,391.5 915.8,393.7 914.6,394.3C913.3,394.8 910.7,393.9 909.0,393.3C907.3,392.7 905.4,391.8 904.3,390.5C903.2,389.3 901.5,386.8 902.5,385.9Z" fill="#ffffff"/>
<path d="M912.7,404.5C914.3,402.9 917.4,402.0 920.2,400.8C923.0,399.5 926.7,397.5 929.5,397.1C932.3,396.6 936.3,397.2 936.9,398.0C937.5,398.8 935.1,400.3 933.2,401.7C931.3,403.1 927.6,404.3 925.8,406.4C923.9,408.4 922.8,411.0 922.0,413.8C921.3,416.6 920.8,420.3 921.1,423.1C921.4,425.9 923.1,426.9 923.9,430.6C924.7,434.3 925.8,445.5 925.8,445.5C925.8,445.5 873.2,445.5 873.2,445.5C873.2,445.5 872.0,436.2 872.7,432.4C873.4,428.7 875.2,425.6 877.3,423.1C879.5,420.6 882.6,418.9 885.7,417.5C888.8,416.1 892.7,415.4 896.0,414.7C899.2,414.1 902.8,414.6 905.3,413.8C907.7,413.0 909.6,411.6 910.9,410.1C912.1,408.5 911.2,406.1 912.7,404.5Z" fill="#ffffff"/>
<path d="M918.3,354.2C918.7,353.8 920.5,353.4 921.1,353.7C921.7,353.9 922.1,355.1 921.7,355.5C921.3,355.9 919.2,356.1 918.7,355.9C918.1,355.7 917.9,354.6 918.3,354.2Z" fill="#ffffff"/>
<path d="M877.3,436.2C878.7,434.1 881.7,434.0 884.8,433.4C887.9,432.8 892.5,432.3 896.0,432.4C899.4,432.6 902.9,433.1 905.3,434.3C907.6,435.5 909.1,438.0 909.9,439.9C910.7,441.8 909.9,445.5 909.9,445.5C909.9,445.5 876.4,445.5 876.4,445.5C876.4,445.5 875.9,438.2 877.3,436.2Z" fill="#add8e6"/>
<path d="M918.3,392.4C918.9,391.2 923.3,390.4 925.8,390.5C928.2,390.7 932.6,392.2 933.2,393.3C933.8,394.5 931.3,396.6 929.5,397.4C927.6,398.2 923.9,398.8 922.0,398.0C920.2,397.1 917.7,393.6 918.3,392.4Z" fill="#6495ed"/>
<path d="M944.4,387.7C945.9,386.8 951.8,387.9 955.6,388.7C959.3,389.4 963.3,391.2 966.7,392.4C970.1,393.6 973.7,394.1 976.0,396.1C978.4,398.1 980.5,401.9 980.7,404.5C980.9,407.1 978.5,409.6 977.0,412.0C975.4,414.3 973.7,416.9 971.4,418.5C969.1,420.0 965.0,421.4 963.0,421.3C961.0,421.1 959.3,419.4 959.3,417.5C959.3,415.7 962.7,412.6 963.0,410.1C963.3,407.6 962.7,404.8 961.1,402.6C959.6,400.5 956.2,398.4 953.7,397.1C951.2,395.7 947.8,395.8 946.2,394.3C944.7,392.7 942.8,388.7 944.4,387.7Z" fill="#4169e1"/>
<path d="M974.2,396.1C974.8,394.4 979.5,394.4 981.6,395.2C983.8,396.0 986.8,398.9 987.2,400.8C987.7,402.6 986.0,405.6 984.4,406.4C982.9,407.1 979.6,407.1 977.9,405.4C976.2,403.7 973.6,397.8 974.2,396.1Z" fill="#0000cd"/>
<path d="M942.5,404.5C943.9,402.9 950.9,402.3 952.8,403.6C954.6,404.8 955.1,410.4 953.7,412.0C952.3,413.5 946.2,414.1 944.4,412.9C942.5,411.6 941.1,406.1 942.5,404.5Z" fill="#0000cd"/>
<path d="M961.1,412.0C962.2,410.7 966.7,409.6 968.6,410.1C970.5,410.6 972.6,413.2 972.3,414.7C972.0,416.3 968.4,418.9 966.7,419.4C965.0,419.9 963.0,418.8 962.1,417.5C961.1,416.3 960.1,413.2 961.1,412.0Z" fill="#0000cd"/>
<path d="M1011.4,357.9C1012.2,356.7 1015.5,355.5 1017.0,356.1C1018.6,356.7 1020.7,360.0 1020.7,361.7C1020.7,363.4 1018.4,366.0 1017.0,366.3C1015.6,366.6 1013.3,364.9 1012.4,363.5C1011.4,362.1 1010.7,359.2 1011.4,357.9Z" fill="#000080"/>
<path d="M992.8,380.3C993.6,379.4 998.7,378.3 1000.3,378.8C1001.8,379.3 1002.9,382.2 1002.1,383.1C1001.3,384.0 997.2,384.9 995.6,384.4C994.0,383.9 992.0,381.2 992.8,380.3Z" fill="#000080"/>
</g>
<g mask="url(#m5)">
<rect x="1083.0" y="325.0" width="284.0" height="120.0" fill="#fff"/>
<path d="M1083.3,325.3C1083.3,325.3 1125.3,323.5 1125.3,323.5C1125.3,323.5 1131.5,328.0 1134.6,330.0C1137.7,332.0 1140.8,333.7 1143.9,335.6C1147.0,337.5 1150.1,339.5 1153.2,341.2C1156.3,342.9 1159.4,344.6 1162.5,345.8C1165.6,347.1 1168.1,348.1 1171.8,348.6C1175.5,349.2 1180.8,349.2 1184.9,349.0C1188.9,348.8 1192.3,348.2 1196.0,347.7C1199.8,347.2 1203.5,345.8 1207.2,345.8C1210.9,345.8 1214.7,347.3 1218.4,347.7C1222.1,348.1 1225.8,348.0 1229.6,348.3C1233.3,348.5 1237.0,348.6 1240.7,349.0C1244.5,349.4 1248.2,350.1 1251.9,350.9C1255.6,351.6 1259.7,352.4 1263.1,353.3C1266.5,354.2 1269.6,355.3 1272.4,356.1C1275.2,356.9 1278.6,358.6 1279.8,357.9C1281.1,357.3 1278.9,353.6 1279.8,352.4C1280.8,351.1 1283.3,350.6 1285.4,350.5C1287.6,350.3 1291.5,350.5 1292.9,351.4C1294.3,352.4 1292.6,354.7 1293.8,356.1C1295.1,357.5 1298.3,358.2 1300.3,359.8C1302.3,361.4 1303.4,364.0 1305.9,365.4C1308.4,366.8 1311.2,367.7 1315.2,368.2C1319.3,368.6 1325.8,368.0 1330.1,368.2C1334.5,368.3 1337.6,368.3 1341.3,369.1C1345.0,369.9 1348.9,371.9 1352.5,372.8C1356.1,373.8 1362.7,374.7 1362.7,374.7C1362.7,374.7 1367.4,375.6 1367.4,375.6C1367.4,375.6 1367.4,445.5 1367.4,445.5C1367.4,445.5 1083.3,445.5 1083.3,445.5C1083.3,445.5 1083.3,325.3 1083.3,325.3Z" fill="#add8e6"/>
<path d="M1302.2,362.6C1304.1,361.5 1312.4,361.5 1317.1,361.7C1321.7,361.8 1325.5,362.7 1330.1,363.5C1334.8,364.3 1340.7,365.2 1345.0,366.3C1349.4,367.4 1352.5,368.8 1356.2,370.0C1359.9,371.3 1367.4,373.8 1367.4,373.8C1367.4,373.8 1367.4,378.4 1367.4,378.4C1367.4,378.4 1340.4,372.7 1330.1,371.0C1319.9,369.3 1309.1,369.1 1305.9,368.2C1302.7,367.2 1300.3,363.7 1302.2,362.6Z" fill="#add8e6"/>
<path d="M1303.1,353.3C1304.0,352.4 1307.4,351.5 1308.7,352.0C1310.0,352.4 1311.3,354.8 1311.1,356.1C1311.0,357.3 1309.0,359.3 1307.8,359.4C1306.5,359.6 1304.5,358.0 1303.7,357.0C1302.9,356.0 1302.3,354.1 1303.1,353.3Z" fill="#add8e6"/>
<path d="M1339.4,360.2C1340.5,359.5 1345.3,358.9 1346.5,359.4C1347.8,359.9 1347.9,362.5 1346.9,363.2C1345.9,363.8 1341.6,364.0 1340.4,363.5C1339.1,363.0 1338.4,360.9 1339.4,360.2Z" fill="#add8e6"/>
<path d="M1083.3,325.3C1083.3,325.3 1125.3,324.0 1125.3,324.0C1125.3,324.0 1131.5,328.5 1134.6,330.6C1137.7,332.6 1140.8,334.3 1143.9,336.1C1147.0,338.0 1150.1,340.0 1153.2,341.7C1156.3,343.4 1159.4,345.1 1162.5,346.4C1165.6,347.6 1168.1,348.7 1171.8,349.2C1175.5,349.7 1180.8,349.7 1184.9,349.6C1188.9,349.4 1192.3,348.8 1196.0,348.3C1199.8,347.7 1203.5,346.4 1207.2,346.4C1210.9,346.4 1214.7,347.8 1218.4,348.3C1222.1,348.7 1225.8,348.6 1229.6,348.8C1233.3,349.0 1237.0,349.1 1240.7,349.6C1244.5,350.0 1248.2,350.7 1251.9,351.4C1255.6,352.1 1259.7,353.0 1263.1,353.8C1266.5,354.7 1269.6,355.9 1272.4,356.6C1275.2,357.4 1278.6,359.1 1279.8,358.5C1281.1,357.9 1278.9,354.2 1279.8,352.9C1280.8,351.7 1283.3,351.2 1285.4,351.0C1287.6,350.9 1291.5,351.0 1292.9,352.0C1294.3,352.9 1292.6,355.2 1293.8,356.6C1295.1,358.0 1298.3,358.8 1300.3,360.4C1302.3,361.9 1303.4,364.6 1305.9,365.9C1308.4,367.3 1311.2,368.3 1315.2,368.7C1319.3,369.2 1325.8,368.6 1330.1,368.7C1334.5,368.9 1337.6,368.9 1341.3,369.7C1345.0,370.4 1348.9,372.5 1352.5,373.4C1356.1,374.3 1362.7,375.3 1362.7,375.3C1362.7,375.3 1367.4,376.2 1367.4,376.2C1367.4,376.2 1367.4,445.5 1367.4,445.5C1367.4,445.5 1083.3,445.5 1083.3,445.5C1083.3,445.5 1083.3,325.3 1083.3,325.3Z" fill="#00bfff"/>
<path d="M1317.1,363.2C1318.6,362.7 1325.2,362.7 1328.3,363.2C1331.4,363.6 1335.7,365.1 1335.7,365.8C1335.7,366.4 1331.1,366.9 1328.3,366.9C1325.5,366.9 1320.5,366.3 1319.0,365.8C1317.4,365.3 1315.6,363.6 1317.1,363.2Z" fill="#00bfff"/>
<path d="M1305.5,354.2C1305.9,353.6 1308.1,353.1 1308.7,353.5C1309.3,353.8 1309.7,355.8 1309.3,356.4C1308.9,357.1 1306.9,357.6 1306.3,357.2C1305.7,356.8 1305.1,354.8 1305.5,354.2Z" fill="#00bfff"/>
<path d="M1083.3,325.3C1083.3,325.3 1125.3,324.8 1125.3,324.8C1125.3,324.8 1131.5,329.3 1134.6,331.3C1137.7,333.3 1140.8,335.0 1143.9,336.9C1147.0,338.8 1150.1,340.8 1153.2,342.5C1156.3,344.2 1159.4,345.9 1162.5,347.1C1165.6,348.4 1168.1,349.4 1171.8,349.9C1175.5,350.5 1180.8,350.5 1184.9,350.3C1188.9,350.1 1192.3,349.5 1196.0,349.0C1199.8,348.5 1203.5,347.1 1207.2,347.1C1210.9,347.1 1214.7,348.6 1218.4,349.0C1222.1,349.4 1225.8,349.3 1229.6,349.6C1233.3,349.8 1237.0,349.9 1240.7,350.3C1244.5,350.7 1248.2,351.5 1251.9,352.2C1255.6,352.9 1259.7,353.7 1263.1,354.6C1266.5,355.5 1269.6,356.6 1272.4,357.4C1275.2,358.2 1278.6,359.9 1279.8,359.2C1281.1,358.6 1278.9,354.9 1279.8,353.7C1280.8,352.4 1283.3,351.9 1285.4,351.8C1287.6,351.6 1291.5,351.8 1292.9,352.7C1294.3,353.7 1292.6,356.0 1293.8,357.4C1295.1,358.8 1298.3,359.6 1300.3,361.1C1302.3,362.7 1303.4,365.3 1305.9,366.7C1308.4,368.1 1311.2,369.0 1315.2,369.5C1319.3,370.0 1325.8,369.3 1330.1,369.5C1334.5,369.6 1337.6,369.6 1341.3,370.4C1345.0,371.2 1348.9,373.2 1352.5,374.1C1356.1,375.1 1362.7,376.0 1362.7,376.0C1362.7,376.0 1367.4,376.9 1367.4,376.9C1367.4,376.9 1367.4,445.5 1367.4,445.5C1367.4,445.5 1083.3,445.5 1083.3,445.5C1083.3,445.5 1083.3,325.3 1083.3,325.3Z" fill="#0000cd"/>
<path d="M1083.3,325.3C1083.3,325.3 1125.3,325.3 1125.3,325.3C1125.3,325.3 1131.5,329.8 1134.6,331.9C1137.7,333.9 1140.8,335.6 1143.9,337.5C1147.0,339.3 1150.1,341.3 1153.2,343.0C1156.3,344.7 1159.4,346.5 1162.5,347.7C1165.6,348.9 1168.1,350.0 1171.8,350.5C1175.5,351.0 1180.8,351.0 1184.9,350.9C1188.9,350.7 1192.3,350.1 1196.0,349.6C1199.8,349.0 1203.5,347.7 1207.2,347.7C1210.9,347.7 1214.7,349.2 1218.4,349.6C1222.1,350.0 1225.8,349.9 1229.6,350.1C1233.3,350.3 1237.0,350.4 1240.7,350.9C1244.5,351.3 1248.2,352.0 1251.9,352.7C1255.6,353.4 1259.7,354.3 1263.1,355.1C1266.5,356.0 1269.6,357.2 1272.4,357.9C1275.2,358.7 1278.6,360.4 1279.8,359.8C1281.1,359.2 1278.9,355.5 1279.8,354.2C1280.8,353.0 1283.3,352.5 1285.4,352.4C1287.6,352.2 1291.5,352.4 1292.9,353.3C1294.3,354.2 1292.6,356.5 1293.8,357.9C1295.1,359.3 1298.3,360.1 1300.3,361.7C1302.3,363.2 1303.4,365.9 1305.9,367.3C1308.4,368.6 1311.2,369.6 1315.2,370.0C1319.3,370.5 1325.8,369.9 1330.1,370.0C1334.5,370.2 1337.6,370.2 1341.3,371.0C1345.0,371.8 1348.9,373.8 1352.5,374.7C1356.1,375.6 1362.7,376.6 1362.7,376.6C1362.7,376.6 1367.4,377.5 1367.4,377.5C1367.4,377.5 1367.4,445.5 1367.4,445.5C1367.4,445.5 1083.3,445.5 1083.3,445.5C1083.3,445.5 1083.3,325.3 1083.3,325.3Z" fill="#000080"/>
<path d="M1316.2,398.9C1317.1,398.0 1321.0,397.4 1322.7,398.0C1324.4,398.6 1325.9,400.8 1326.4,402.6C1326.9,404.5 1326.6,408.4 1325.5,409.2C1324.4,409.9 1321.3,408.2 1319.9,407.3C1318.5,406.4 1317.7,405.0 1317.1,403.6C1316.5,402.2 1315.2,399.8 1316.2,398.9Z" fill="#0000cd"/>
<path d="M1324.5,413.8C1325.3,412.3 1327.8,409.8 1330.1,409.2C1332.5,408.5 1336.3,409.0 1338.5,410.1C1340.7,411.2 1343.0,413.8 1343.2,415.7C1343.3,417.5 1341.6,420.3 1339.4,421.3C1337.3,422.2 1332.5,421.7 1330.1,421.3C1327.8,420.8 1326.4,419.7 1325.5,418.5C1324.5,417.2 1323.8,415.4 1324.5,413.8Z" fill="#0000cd"/>
<path d="M1295.7,412.0C1296.7,410.6 1300.8,409.5 1302.2,410.5C1303.6,411.4 1304.4,415.7 1304.1,417.5C1303.7,419.3 1301.6,421.1 1300.3,421.3C1299.0,421.4 1297.0,420.0 1296.2,418.5C1295.5,416.9 1294.7,413.3 1295.7,412.0Z" fill="#0000cd"/>
<path d="M1237.0,427.2C1237.6,426.6 1240.7,426.4 1241.7,426.9C1242.6,427.3 1243.2,429.6 1242.6,430.2C1242.0,430.8 1238.9,431.1 1237.9,430.6C1237.0,430.1 1236.4,427.8 1237.0,427.2Z" fill="#0000cd"/>
<path d="M1211.9,435.8C1212.3,435.2 1214.6,434.8 1215.2,435.2C1215.8,435.7 1216.0,438.0 1215.6,438.6C1215.1,439.2 1213.0,439.4 1212.4,439.0C1211.8,438.5 1211.4,436.4 1211.9,435.8Z" fill="#0000cd"/>
<path d="M1344.1,421.3C1345.0,420.2 1350.2,419.2 1352.5,419.4C1354.8,419.6 1357.8,421.0 1358.1,422.2C1358.4,423.4 1356.2,426.2 1354.3,426.9C1352.5,427.5 1348.6,426.9 1346.9,425.9C1345.2,425.0 1343.2,422.4 1344.1,421.3Z" fill="#0000cd"/>
<path d="M1352.5,433.9C1352.9,433.2 1355.2,432.8 1355.8,433.4C1356.5,434.0 1356.7,436.9 1356.2,437.7C1355.7,438.4 1353.7,438.6 1353.0,438.0C1352.4,437.4 1352.0,434.7 1352.5,433.9Z" fill="#0000cd"/>
<path d="M1326.4,414.7C1326.6,413.3 1329.2,411.5 1331.1,411.0C1332.9,410.6 1335.9,411.1 1337.6,412.0C1339.2,412.8 1340.9,414.8 1340.9,416.0C1340.9,417.3 1339.4,418.8 1337.6,419.4C1335.8,420.0 1332.0,420.6 1330.1,419.8C1328.3,419.0 1326.3,416.2 1326.4,414.7Z" fill="#4169e1"/>
<path d="M1280.8,356.1C1281.2,354.8 1283.4,354.2 1285.4,353.8C1287.4,353.5 1291.6,353.5 1292.9,354.2C1294.1,354.9 1293.7,356.7 1292.9,357.9C1292.1,359.2 1289.9,361.0 1288.2,361.7C1286.5,362.3 1283.9,362.6 1282.6,361.7C1281.4,360.7 1280.3,357.4 1280.8,356.1Z" fill="#6495ed"/>
<path d="M1319.0,400.4C1319.4,399.5 1322.2,399.2 1323.1,399.8C1323.9,400.5 1324.6,403.6 1324.2,404.5C1323.7,405.4 1321.3,406.1 1320.4,405.4C1319.6,404.8 1318.5,401.3 1319.0,400.4Z" fill="#6495ed"/>
<path d="M1327.3,415.3C1327.7,414.3 1330.3,412.4 1331.6,412.3C1333.0,412.2 1335.0,413.8 1335.3,414.7C1335.7,415.7 1334.9,417.3 1333.9,417.9C1332.8,418.5 1330.3,418.9 1329.2,418.5C1328.1,418.0 1326.9,416.3 1327.3,415.3Z" fill="#6495ed"/>
<path d="M1281.7,353.3C1283.0,352.9 1291.6,352.5 1292.9,352.7C1294.2,352.9 1295.1,354.8 1293.8,355.1C1292.6,355.5 1283.9,355.9 1282.6,355.7C1281.4,355.5 1280.5,353.6 1281.7,353.3Z" fill="#00bfff"/>
</g>
<g mask="url(#m6)">
<rect x="1357.0" y="325.0" width="119.0" height="120.0" fill="#fff"/>
<path d="M1338.6,365.6C1338.6,365.6 1359.0,371.9 1359.0,371.9C1359.0,371.9 1367.7,374.3 1372.1,375.6C1376.4,377.0 1381.1,378.8 1385.1,379.9C1389.2,381.0 1392.9,381.4 1396.3,382.2C1399.7,382.9 1402.5,383.4 1405.6,384.4C1408.7,385.4 1412.0,386.2 1414.9,388.1C1417.9,390.1 1421.0,393.1 1423.3,396.1C1425.6,399.2 1427.7,402.8 1428.9,406.4C1430.0,409.9 1429.3,414.0 1430.2,417.5C1431.1,421.1 1432.8,425.3 1434.5,427.8C1436.1,430.3 1438.9,430.7 1440.1,432.4C1441.2,434.1 1441.8,435.9 1441.4,438.0C1440.9,440.2 1437.3,445.5 1437.3,445.5C1437.3,445.5 1359.0,445.5 1359.0,445.5C1359.0,445.5 1338.6,445.5 1338.6,445.5C1338.6,445.5 1338.6,365.6 1338.6,365.6Z" fill="#add8e6"/>
<path d="M1392.2,379.9C1393.4,379.1 1398.3,378.7 1399.6,379.4C1400.9,380.0 1401.2,382.9 1400.0,383.6C1398.8,384.4 1393.9,384.6 1392.6,384.0C1391.3,383.4 1391.0,380.7 1392.2,379.9Z" fill="#add8e6"/>
<path d="M1405.6,379.2C1406.7,378.3 1411.4,378.1 1412.7,378.8C1413.9,379.5 1414.1,382.8 1413.1,383.6C1412.0,384.5 1407.4,384.8 1406.2,384.0C1404.9,383.3 1404.5,380.0 1405.6,379.2Z" fill="#add8e6"/>
<path d="M1338.6,366.9C1338.6,366.9 1359.0,373.2 1359.0,373.2C1359.0,373.2 1367.0,375.6 1371.1,376.9C1375.3,378.3 1380.2,380.1 1384.2,381.2C1388.2,382.3 1391.9,382.7 1395.4,383.5C1398.8,384.2 1401.5,384.5 1404.7,385.5C1407.8,386.5 1411.2,387.2 1414.2,389.2C1417.1,391.2 1420.1,394.5 1422.4,397.4C1424.6,400.3 1426.5,403.5 1427.6,406.7C1428.7,409.9 1428.3,413.1 1429.1,416.6C1429.8,420.1 1431.0,424.8 1432.1,427.8C1433.1,430.7 1434.7,431.4 1435.4,434.3C1436.1,437.3 1436.3,445.5 1436.3,445.5C1436.3,445.5 1359.0,445.5 1359.0,445.5C1359.0,445.5 1338.6,445.5 1338.6,445.5C1338.6,445.5 1338.6,366.9 1338.6,366.9Z" fill="#00bfff"/>
<path d="M1407.1,379.9C1407.9,379.5 1411.3,379.5 1412.1,379.9C1413.0,380.3 1412.9,381.8 1412.1,382.2C1411.3,382.5 1408.3,382.5 1407.5,382.2C1406.6,381.8 1406.3,380.3 1407.1,379.9Z" fill="#00bfff"/>
<path d="M1338.6,369.1C1338.6,369.1 1359.0,375.4 1359.0,375.4C1359.0,375.4 1366.5,377.9 1370.6,379.2C1374.7,380.4 1379.6,381.9 1383.6,382.9C1387.7,383.9 1391.4,384.3 1394.8,384.9C1398.2,385.6 1401.0,385.8 1404.1,386.8C1407.2,387.8 1410.6,388.8 1413.4,390.7C1416.3,392.7 1419.0,395.9 1421.1,398.5C1423.1,401.2 1424.8,403.6 1425.9,406.6C1427.0,409.5 1427.2,412.7 1427.8,416.0C1428.4,419.4 1428.7,423.8 1429.4,426.9C1430.2,429.9 1431.4,431.2 1432.1,434.3C1432.7,437.4 1433.5,445.5 1433.5,445.5C1433.5,445.5 1359.0,445.5 1359.0,445.5C1359.0,445.5 1338.6,445.5 1338.6,445.5C1338.6,445.5 1338.6,369.1 1338.6,369.1Z" fill="#6495ed"/>
<path d="M1338.6,369.7C1338.6,369.7 1359.0,376.0 1359.0,376.0C1359.0,376.0 1366.3,378.5 1370.4,379.7C1374.5,381.0 1379.4,382.5 1383.4,383.5C1387.5,384.4 1391.2,384.9 1394.6,385.5C1398.0,386.2 1400.8,386.4 1403.9,387.4C1407.0,388.3 1410.4,389.2 1413.2,391.1C1416.0,393.0 1418.6,396.2 1420.7,398.7C1422.7,401.3 1424.4,403.5 1425.5,406.4C1426.7,409.2 1426.9,412.4 1427.4,415.9C1427.9,419.3 1428.0,423.8 1428.5,426.9C1429.1,429.9 1430.2,431.2 1430.7,434.3C1431.3,437.4 1432.1,445.5 1432.1,445.5C1432.1,445.5 1359.0,445.5 1359.0,445.5C1359.0,445.5 1338.6,445.5 1338.6,445.5C1338.6,445.5 1338.6,369.7 1338.6,369.7Z" fill="#0000cd"/>
<path d="M1338.6,370.2C1338.6,370.2 1359.0,376.6 1359.0,376.6C1359.0,376.6 1366.2,379.0 1370.2,380.3C1374.3,381.5 1379.2,383.1 1383.3,384.0C1387.3,384.9 1391.0,385.3 1394.4,385.9C1397.8,386.5 1400.6,386.8 1403.7,387.7C1406.8,388.7 1410.3,389.6 1413.1,391.5C1415.8,393.3 1418.5,396.4 1420.5,398.9C1422.5,401.4 1424.1,403.6 1425.2,406.4C1426.2,409.2 1426.6,412.3 1427.0,415.7C1427.5,419.1 1427.5,423.7 1428.0,426.9C1428.4,430.0 1429.4,431.2 1429.8,434.3C1430.3,437.4 1430.7,445.5 1430.7,445.5C1430.7,445.5 1359.0,445.5 1359.0,445.5C1359.0,445.5 1338.6,445.5 1338.6,445.5C1338.6,445.5 1338.6,370.2 1338.6,370.2Z" fill="#000080"/>
</g>
<g mask="url(#m7)">
<rect x="535.0" y="435.0" width="284.0" height="120.0" fill="#fff"/>
<path d="M560.5,435.3C560.5,435.3 555.7,441.6 553.0,443.7C550.4,445.9 545.7,446.2 544.7,448.4C543.6,450.6 545.9,454.1 546.5,456.8C547.1,459.4 547.0,462.0 548.4,464.2C549.8,466.4 553.5,467.6 554.9,469.8C556.3,472.0 556.9,474.5 556.8,477.3C556.6,480.0 553.8,483.8 554.0,486.6C554.1,489.4 556.6,491.5 557.7,494.0C558.8,496.5 560.6,499.0 560.5,501.5C560.3,503.9 558.2,505.8 556.8,508.9C555.4,512.0 552.3,517.0 552.1,520.1C552.0,523.2 554.1,525.1 555.8,527.5C557.5,530.0 560.0,533.3 562.4,535.0C564.7,536.7 567.3,537.8 569.8,537.8C572.3,537.8 575.5,536.4 577.3,535.0C579.0,533.6 579.9,531.6 580.0,529.4C580.2,527.2 578.2,524.4 578.2,522.0C578.2,519.5 578.6,515.1 580.0,514.5C581.4,513.9 584.2,516.8 586.6,518.2C588.9,519.6 591.5,521.3 594.0,522.9C596.5,524.4 598.0,526.6 601.5,527.5C604.9,528.5 610.5,528.6 614.5,528.5C618.5,528.3 622.6,526.5 625.7,526.6C628.8,526.8 630.6,528.6 633.1,529.4C635.6,530.2 637.5,531.1 640.6,531.3C643.7,531.4 648.3,529.7 651.8,530.3C655.2,531.0 658.0,533.7 661.1,535.0C664.2,536.2 667.0,537.8 670.4,537.8C673.8,537.8 677.8,535.6 681.6,535.0C685.3,534.4 689.3,535.0 692.7,534.1C696.1,533.1 698.9,531.1 702.0,529.4C705.1,527.7 708.6,525.4 711.4,523.8C714.1,522.3 716.3,521.0 718.8,520.1C721.3,519.2 724.7,519.2 726.3,518.2C727.8,517.3 728.9,516.4 728.1,514.5C727.3,512.6 722.8,509.5 721.6,507.1C720.4,504.6 719.9,501.8 720.7,499.6C721.4,497.4 723.8,495.9 726.3,494.0C728.7,492.2 733.2,490.3 735.6,488.4C737.9,486.6 739.1,485.3 740.2,482.8C741.3,480.4 742.6,476.0 742.1,473.5C741.6,471.0 739.4,469.2 737.4,467.9C735.4,466.7 731.8,465.6 730.0,466.1C728.1,466.5 726.6,469.0 726.3,470.7C725.9,472.4 729.0,474.5 728.1,476.3C727.2,478.2 722.7,480.2 720.7,481.9C718.6,483.6 717.3,486.7 716.0,486.6C714.8,486.4 714.6,482.8 713.2,481.0C711.8,479.1 709.5,477.1 707.6,475.4C705.8,473.7 703.6,472.0 702.0,470.7C700.5,469.5 698.0,469.0 698.3,467.9C698.6,466.9 701.4,465.5 703.9,464.2C706.4,463.0 710.1,461.9 713.2,460.5C716.3,459.1 719.4,458.0 722.5,455.8C725.6,453.7 729.4,450.9 731.8,447.5C734.3,444.0 737.4,435.3 737.4,435.3C737.4,435.3 560.5,435.3 560.5,435.3Z" fill="#add8e6"/>
<path d="M757.9,454.0C758.5,452.6 760.6,450.7 762.6,450.2C764.6,449.8 769.1,449.9 770.0,451.2C771.0,452.4 769.4,456.1 768.2,457.7C766.9,459.2 764.1,460.3 762.6,460.5C761.0,460.6 759.6,459.7 758.8,458.6C758.1,457.5 757.3,455.4 757.9,454.0Z" fill="#add8e6"/>
<path d="M781.2,435.3C781.2,435.3 790.5,435.3 790.5,435.3C790.5,435.3 790.8,442.9 789.6,444.7C788.3,446.4 784.5,447.1 783.1,445.6C781.7,444.0 781.2,435.3 781.2,435.3Z" fill="#add8e6"/>
<path d="M789.6,435.3C789.6,435.3 790.5,442.9 791.4,445.6C792.4,448.2 793.0,449.8 795.2,451.2C797.3,452.6 801.3,452.9 804.5,454.0C807.6,455.1 811.5,456.9 814.0,457.7C816.5,458.5 819.4,458.6 819.4,458.6C819.4,458.6 819.4,435.3 819.4,435.3C819.4,435.3 789.6,435.3 789.6,435.3Z" fill="#add8e6"/>
<path d="M785.9,462.0C786.2,461.0 789.4,460.2 790.5,460.5C791.6,460.8 792.7,462.9 792.4,463.8C792.1,464.8 789.7,466.4 788.6,466.1C787.6,465.8 785.5,462.9 785.9,462.0Z" fill="#add8e6"/>
<path d="M791.4,503.0C792.0,502.0 795.6,501.0 796.7,501.5C797.7,501.9 798.5,504.6 798.0,505.6C797.4,506.5 794.4,507.5 793.3,507.1C792.2,506.6 790.9,503.9 791.4,503.0Z" fill="#add8e6"/>
<path d="M801.7,501.5C802.2,499.3 804.2,498.0 806.3,496.8C808.5,495.6 814.7,494.0 814.7,494.0C814.7,494.0 819.4,494.0 819.4,494.0C819.4,494.0 819.4,514.5 819.4,514.5C819.4,514.5 810.8,515.3 808.2,514.5C805.6,513.7 804.6,512.0 803.6,509.8C802.5,507.7 801.2,503.6 801.7,501.5Z" fill="#add8e6"/>
<path d="M590.3,494.0C591.4,492.0 593.7,491.4 595.9,491.2C598.0,491.1 601.8,492.0 603.3,493.1C604.9,494.2 605.8,496.0 605.2,497.7C604.6,499.4 601.5,501.9 599.6,503.3C597.7,504.7 595.7,506.1 594.0,506.1C592.3,506.1 590.0,505.3 589.4,503.3C588.7,501.3 589.2,496.0 590.3,494.0Z" fill="#ffffff"/>
<path d="M567.9,478.2C568.5,477.3 570.6,476.6 571.7,476.9C572.7,477.2 574.5,479.0 574.5,480.0C574.5,481.1 572.7,482.9 571.7,483.2C570.6,483.5 568.9,482.7 568.3,481.9C567.7,481.1 567.4,479.0 567.9,478.2Z" fill="#ffffff"/>
<path d="M562.4,435.3C562.4,435.3 573.5,435.3 573.5,435.3C573.5,435.3 576.3,440.3 575.4,441.9C574.5,443.4 570.1,444.5 567.9,444.7C565.8,444.8 563.3,444.3 562.4,442.8C561.4,441.2 562.4,435.3 562.4,435.3Z" fill="#ffffff"/>
<path d="M793.3,435.3C793.3,435.3 793.3,442.5 794.2,444.7C795.2,446.8 796.9,447.5 798.9,448.4C800.9,449.3 802.9,449.5 806.3,450.2C809.8,451.0 819.4,453.0 819.4,453.0C819.4,453.0 819.4,435.3 819.4,435.3C819.4,435.3 793.3,435.3 793.3,435.3Z" fill="#00bfff"/>
<path d="M803.6,502.4C804.1,500.7 806.3,499.2 808.2,498.1C810.1,497.0 814.7,495.9 814.7,495.9C814.7,495.9 819.4,495.9 819.4,495.9C819.4,495.9 819.4,511.7 819.4,511.7C819.4,511.7 810.6,512.3 808.2,511.7C805.8,511.1 805.6,509.5 804.9,508.0C804.1,506.4 803.0,504.0 803.6,502.4Z" fill="#00bfff"/>
<path d="M554.0,454.0C554.4,452.3 558.5,451.0 560.5,451.2C562.5,451.3 565.5,453.3 566.1,454.9C566.7,456.5 565.6,459.4 564.2,460.5C562.8,461.6 559.4,462.5 557.7,461.4C556.0,460.3 553.5,455.7 554.0,454.0Z" fill="#00bfff"/>
<path d="M557.7,471.7C558.9,469.5 563.4,466.4 566.1,464.2C568.7,462.0 571.7,458.6 573.5,458.6C575.4,458.6 577.3,462.0 577.3,464.2C577.3,466.4 573.8,469.2 573.5,471.7C573.2,474.1 575.7,476.6 575.4,479.1C575.1,481.6 571.7,484.4 571.7,486.6C571.7,488.7 576.0,490.9 575.4,492.2C574.8,493.4 570.3,494.3 567.9,494.0C565.6,493.7 563.1,492.2 561.4,490.3C559.7,488.4 558.2,485.0 557.7,482.8C557.2,480.7 558.6,479.1 558.6,477.3C558.6,475.4 556.5,473.8 557.7,471.7Z" fill="#00bfff"/>
<path d="M556.8,514.5C557.4,512.0 558.6,508.8 560.5,507.1C562.4,505.3 565.9,503.6 567.9,504.3C570.0,504.9 571.4,508.4 572.6,510.8C573.8,513.1 574.8,515.4 575.4,518.2C576.0,521.0 576.9,525.1 576.3,527.5C575.7,530.0 573.5,532.0 571.7,533.1C569.8,534.2 567.0,535.0 565.1,534.1C563.3,533.1 561.9,529.6 560.5,527.5C559.1,525.5 557.4,524.1 556.8,522.0C556.1,519.8 556.1,517.0 556.8,514.5Z" fill="#00bfff"/>
<path d="M567.9,454.9C569.3,452.7 574.1,450.4 577.3,448.4C580.4,446.4 583.5,445.0 586.6,442.8C589.7,440.6 595.9,435.3 595.9,435.3C595.9,435.3 735.6,435.3 735.6,435.3C735.6,435.3 732.5,443.3 730.0,446.5C727.5,449.8 723.8,452.7 720.7,454.9C717.6,457.1 714.5,458.2 711.4,459.6C708.2,461.0 704.5,461.9 702.0,463.3C699.6,464.7 696.8,466.4 696.5,467.9C696.1,469.5 698.5,471.0 700.2,472.6C701.9,474.1 704.8,475.5 706.7,477.3C708.6,479.0 710.0,481.1 711.4,482.8C712.8,484.5 713.7,487.2 715.1,487.5C716.5,487.8 717.9,486.1 719.7,484.7C721.6,483.3 723.9,480.5 726.3,479.1C728.6,477.7 731.5,477.6 733.7,476.3C735.9,475.1 739.0,473.1 739.3,471.7C739.6,470.3 737.0,468.6 735.6,467.9C734.2,467.3 732.2,467.3 730.9,467.9C729.7,468.6 728.4,470.1 728.1,471.7C727.8,473.2 730.0,475.5 729.0,477.3C728.1,479.0 724.2,480.0 722.5,481.9C720.8,483.8 719.3,486.1 718.8,488.4C718.3,490.8 718.8,494.9 719.7,495.9C720.7,496.8 722.2,495.3 724.4,494.0C726.5,492.7 731.8,488.8 733.7,487.5C735.6,486.1 737.1,484.2 737.4,484.7C737.7,485.2 737.4,488.4 735.6,490.3C733.7,492.2 728.6,494.0 726.3,495.9C723.9,497.7 722.1,499.3 721.6,501.5C721.1,503.6 722.5,506.7 723.5,508.9C724.4,511.1 727.0,512.8 727.2,514.5C727.3,516.2 726.1,518.4 724.4,519.2C722.7,519.9 719.4,518.5 716.9,519.2C714.5,519.8 712.1,521.5 709.5,522.9C706.9,524.3 704.1,526.0 701.1,527.5C698.2,529.1 695.1,531.3 691.8,532.2C688.5,533.1 685.1,532.5 681.6,533.1C678.0,533.7 673.6,535.9 670.4,535.9C667.1,535.9 664.9,534.4 662.0,533.1C659.0,531.9 656.1,529.1 652.7,528.5C649.3,527.9 644.6,529.6 641.5,529.4C638.4,529.2 636.5,528.3 634.1,527.5C631.6,526.8 629.9,524.9 626.6,524.7C623.3,524.6 618.5,526.5 614.5,526.6C610.5,526.8 605.7,526.6 602.4,525.7C599.1,524.7 597.0,522.9 594.9,521.0C592.9,519.2 590.9,516.5 590.3,514.5C589.7,512.5 590.3,510.5 591.2,508.9C592.2,507.4 594.2,506.3 595.9,505.2C597.6,504.1 599.9,503.6 601.5,502.4C603.0,501.2 604.9,499.3 605.2,497.7C605.5,496.2 604.9,494.2 603.3,493.1C601.8,492.0 598.0,491.1 595.9,491.2C593.7,491.4 591.8,492.9 590.3,494.0C588.7,495.1 588.3,497.4 586.6,497.7C584.9,498.0 582.1,497.3 580.0,495.9C578.0,494.5 575.7,491.5 574.5,489.4C573.2,487.2 572.6,485.2 572.6,482.8C572.6,480.5 574.6,477.9 574.5,475.4C574.3,472.9 572.6,470.3 571.7,467.9C570.7,465.6 569.5,463.6 568.9,461.4C568.2,459.2 566.5,457.1 567.9,454.9Z" fill="#00bfff"/>
<path d="M794.2,435.3C794.2,435.3 793.9,440.9 794.8,442.8C795.7,444.7 797.6,445.6 799.8,446.5C802.1,447.5 804.9,447.8 808.2,448.4C811.5,449.0 819.4,450.2 819.4,450.2C819.4,450.2 819.4,435.3 819.4,435.3C819.4,435.3 794.2,435.3 794.2,435.3Z" fill="#6495ed"/>
<path d="M805.4,501.5C805.8,500.2 808.4,499.0 809.1,499.6C809.9,500.2 810.5,503.9 810.1,505.2C809.7,506.4 807.5,507.7 806.7,507.1C805.9,506.4 805.0,502.7 805.4,501.5Z" fill="#6495ed"/>
<path d="M558.6,515.4C558.9,513.7 560.8,511.4 562.4,510.8C563.9,510.2 566.7,510.6 567.9,511.7C569.2,512.8 570.1,515.6 569.8,517.3C569.5,519.0 567.6,521.3 566.1,522.0C564.5,522.6 561.7,522.1 560.5,521.0C559.2,519.9 558.3,517.1 558.6,515.4Z" fill="#6495ed"/>
<path d="M560.5,473.5C561.1,471.8 564.5,468.2 566.1,467.9C567.6,467.6 569.5,470.1 569.8,471.7C570.1,473.2 569.2,476.2 567.9,477.3C566.7,478.3 563.6,478.8 562.4,478.2C561.1,477.6 559.9,475.2 560.5,473.5Z" fill="#6495ed"/>
<path d="M558.6,482.8C559.0,481.8 560.9,481.0 561.4,481.9C562.0,482.8 562.4,487.3 562.0,488.4C561.6,489.5 559.7,489.4 559.2,488.4C558.6,487.5 558.3,483.9 558.6,482.8Z" fill="#6495ed"/>
<path d="M575.4,456.8C576.5,454.7 580.0,452.4 582.8,450.2C585.6,448.1 589.4,446.2 592.2,443.7C594.9,441.2 599.6,435.3 599.6,435.3C599.6,435.3 733.7,435.3 733.7,435.3C733.7,435.3 730.6,442.6 728.1,445.6C725.6,448.5 721.9,451.0 718.8,453.0C715.7,455.1 712.4,456.3 709.5,457.7C706.5,459.1 703.4,460.0 701.1,461.4C698.8,462.8 696.6,464.4 695.5,466.1C694.4,467.8 694.1,469.8 694.6,471.7C695.1,473.5 696.8,475.5 698.3,477.3C699.9,479.0 702.4,480.0 703.9,481.9C705.5,483.8 707.6,486.4 707.6,488.4C707.6,490.4 703.3,493.2 703.9,494.0C704.5,494.8 709.3,492.8 711.4,493.1C713.4,493.4 715.1,494.5 716.0,495.9C716.9,497.3 717.4,499.6 716.9,501.5C716.5,503.3 712.9,505.5 713.2,507.1C713.5,508.6 717.6,509.2 718.8,510.8C720.0,512.3 721.3,515.3 720.7,516.4C720.0,517.5 717.3,516.7 715.1,517.3C712.9,517.9 710.1,518.7 707.6,520.1C705.1,521.5 703.0,524.1 700.2,525.7C697.4,527.2 694.0,528.5 690.9,529.4C687.8,530.3 685.0,530.6 681.6,531.3C678.1,531.9 673.6,533.1 670.4,533.1C667.1,533.1 664.8,532.4 662.0,531.3C659.2,530.2 655.9,528.5 653.6,526.6C651.3,524.7 648.6,522.1 648.0,520.1C647.4,518.1 650.5,516.1 649.9,514.5C649.3,512.9 646.5,510.8 644.3,510.8C642.1,510.8 639.3,512.6 636.9,514.5C634.4,516.4 632.5,520.4 629.4,522.0C626.3,523.5 622.3,523.5 618.2,523.8C614.2,524.1 608.6,524.4 605.2,523.8C601.8,523.2 599.8,521.8 597.7,520.1C595.7,518.4 593.7,515.4 593.1,513.6C592.5,511.7 592.9,510.5 594.0,508.9C595.1,507.4 597.7,505.8 599.6,504.3C601.5,502.7 602.7,501.3 605.2,499.6C607.7,497.9 611.7,495.6 614.5,494.0C617.3,492.5 621.3,491.5 622.0,490.3C622.6,489.0 620.1,487.2 618.2,486.6C616.4,485.9 613.3,486.3 610.8,486.6C608.3,486.9 605.8,488.4 603.3,488.4C600.8,488.4 598.4,486.6 595.9,486.6C593.4,486.6 590.9,487.2 588.4,488.4C585.9,489.7 582.8,493.7 581.0,494.0C579.1,494.3 578.2,491.8 577.3,490.3C576.3,488.7 575.2,486.4 575.4,484.7C575.5,483.0 578.5,481.6 578.2,480.0C577.9,478.5 574.3,477.4 573.5,475.4C572.7,473.4 573.1,470.1 573.5,467.9C574.0,465.8 576.0,464.2 576.3,462.4C576.6,460.5 574.3,458.8 575.4,456.8Z" fill="#6495ed"/>
<path d="M560.9,515.4C561.2,514.5 564.1,513.3 565.1,513.6C566.2,513.9 567.3,516.4 567.0,517.3C566.7,518.2 564.3,519.5 563.3,519.2C562.3,518.8 560.6,516.4 560.9,515.4Z" fill="#4169e1"/>
<path d="M794.8,435.3C794.8,435.3 794.5,440.2 795.5,441.9C796.5,443.5 798.5,444.3 800.8,445.2C803.0,446.1 806.0,446.5 809.1,447.1C812.2,447.7 819.4,448.9 819.4,448.9C819.4,448.9 819.4,435.3 819.4,435.3C819.4,435.3 794.8,435.3 794.8,435.3Z" fill="#0000cd"/>
<path d="M614.5,440.9C615.3,440.0 619.8,439.4 621.0,440.0C622.3,440.6 622.7,443.7 622.0,444.7C621.2,445.6 617.6,446.2 616.4,445.6C615.1,445.0 613.7,441.9 614.5,440.9Z" fill="#0000cd"/>
<path d="M795.5,435.3C795.5,435.3 795.3,439.5 796.3,440.9C797.3,442.4 799.4,443.3 801.7,444.1C804.0,444.9 807.1,445.3 810.1,446.0C813.0,446.6 819.4,447.8 819.4,447.8C819.4,447.8 819.4,435.3 819.4,435.3C819.4,435.3 795.5,435.3 795.5,435.3Z" fill="#000080"/>
<path d="M644.3,435.3C644.3,435.3 641.8,442.3 640.6,445.6C639.3,448.8 638.4,452.1 636.9,454.9C635.3,457.7 633.4,459.9 631.3,462.4C629.1,464.8 626.0,467.8 623.8,469.8C621.6,471.8 620.4,472.7 618.2,474.5C616.1,476.2 612.8,478.2 610.8,480.0C608.8,481.9 606.7,483.9 606.1,485.6C605.5,487.3 607.8,488.6 607.1,490.3C606.3,492.0 603.0,493.7 601.5,495.9C599.9,498.0 599.0,500.8 597.7,503.3C596.5,505.8 594.5,508.6 594.0,510.8C593.5,512.9 594.2,514.3 594.9,516.4C595.7,518.4 597.1,521.5 598.7,522.9C600.2,524.3 602.9,525.5 604.3,524.7C605.7,524.0 605.7,519.7 607.1,518.2C608.4,516.8 610.5,516.1 612.6,516.0C614.8,515.9 617.6,517.7 620.1,517.9C622.6,518.0 625.1,517.7 627.5,516.7C630.0,515.8 632.7,514.1 635.0,512.3C637.3,510.4 639.3,506.2 641.5,505.6C643.7,504.9 645.7,508.7 648.0,508.5C650.4,508.4 653.0,506.0 655.5,504.8C658.0,503.6 660.1,502.1 662.9,501.5C665.7,500.8 669.4,501.5 672.2,501.1C675.0,500.7 677.2,500.4 679.7,499.2C682.2,498.0 684.7,495.6 687.1,494.0C689.6,492.5 692.3,491.1 694.6,489.9C696.9,488.7 699.6,488.3 701.1,486.9C702.7,485.6 704.1,483.5 703.9,481.9C703.7,480.3 701.6,478.8 700.2,477.3C698.8,475.7 696.1,474.5 695.5,472.6C694.9,470.7 695.4,467.9 696.5,466.1C697.5,464.2 699.6,463.0 702.0,461.4C704.5,459.9 708.4,458.5 711.4,456.8C714.3,455.1 716.9,453.3 719.7,451.2C722.5,449.0 725.9,446.4 728.1,443.7C730.3,441.1 732.8,435.3 732.8,435.3C732.8,435.3 644.3,435.3 644.3,435.3Z" fill="none" stroke="#4169e1" stroke-width="6.0" stroke-linejoin="round"/>
<path d="M644.3,435.3C644.3,435.3 641.8,442.3 640.6,445.6C639.3,448.8 638.4,452.1 636.9,454.9C635.3,457.7 633.4,459.9 631.3,462.4C629.1,464.8 626.0,467.8 623.8,469.8C621.6,471.8 620.4,472.7 618.2,474.5C616.1,476.2 612.8,478.2 610.8,480.0C608.8,481.9 606.7,483.9 606.1,485.6C605.5,487.3 607.8,488.6 607.1,490.3C606.3,492.0 603.0,493.7 601.5,495.9C599.9,498.0 599.0,500.8 597.7,503.3C596.5,505.8 594.5,508.6 594.0,510.8C593.5,512.9 594.2,514.3 594.9,516.4C595.7,518.4 597.1,521.5 598.7,522.9C600.2,524.3 602.9,525.5 604.3,524.7C605.7,524.0 605.7,519.7 607.1,518.2C608.4,516.8 610.5,516.1 612.6,516.0C614.8,515.9 617.6,517.7 620.1,517.9C622.6,518.0 625.1,517.7 627.5,516.7C630.0,515.8 632.7,514.1 635.0,512.3C637.3,510.4 639.3,506.2 641.5,505.6C643.7,504.9 645.7,508.7 648.0,508.5C650.4,508.4 653.0,506.0 655.5,504.8C658.0,503.6 660.1,502.1 662.9,501.5C665.7,500.8 669.4,501.5 672.2,501.1C675.0,500.7 677.2,500.4 679.7,499.2C682.2,498.0 684.7,495.6 687.1,494.0C689.6,492.5 692.3,491.1 694.6,489.9C696.9,488.7 699.6,488.3 701.1,486.9C702.7,485.6 704.1,483.5 703.9,481.9C703.7,480.3 701.6,478.8 700.2,477.3C698.8,475.7 696.1,474.5 695.5,472.6C694.9,470.7 695.4,467.9 696.5,466.1C697.5,464.2 699.6,463.0 702.0,461.4C704.5,459.9 708.4,458.5 711.4,456.8C714.3,455.1 716.9,453.3 719.7,451.2C722.5,449.0 725.9,446.4 728.1,443.7C730.3,441.1 732.8,435.3 732.8,435.3C732.8,435.3 644.3,435.3 644.3,435.3Z" fill="#000080" stroke="#0000cd" stroke-width="3.0" stroke-linejoin="round" paint-order="stroke"/>
<path d="M649.9,514.5C651.1,513.3 652.7,513.1 655.5,512.6C658.3,512.2 663.2,511.9 666.7,511.7C670.1,511.6 673.2,511.2 676.0,511.7C678.8,512.2 681.9,513.1 683.4,514.5C685.0,515.9 685.3,518.1 685.3,520.1C685.3,522.1 685.0,524.9 683.4,526.6C681.9,528.3 678.8,529.9 676.0,530.3C673.2,530.8 669.4,529.9 666.7,529.4C663.9,528.9 661.7,528.2 659.2,527.5C656.7,526.9 653.6,526.9 651.8,525.7C649.9,524.4 648.3,522.0 648.0,520.1C647.7,518.2 648.6,515.7 649.9,514.5Z" fill="none" stroke="#4169e1" stroke-width="5.4" stroke-linejoin="round"/>
<path d="M649.9,514.5C651.1,513.3 652.7,513.1 655.5,512.6C658.3,512.2 663.2,511.9 666.7,511.7C670.1,511.6 673.2,511.2 676.0,511.7C678.8,512.2 681.9,513.1 683.4,514.5C685.0,515.9 685.3,518.1 685.3,520.1C685.3,522.1 685.0,524.9 683.4,526.6C681.9,528.3 678.8,529.9 676.0,530.3C673.2,530.8 669.4,529.9 666.7,529.4C663.9,528.9 661.7,528.2 659.2,527.5C656.7,526.9 653.6,526.9 651.8,525.7C649.9,524.4 648.3,522.0 648.0,520.1C647.7,518.2 648.6,515.7 649.9,514.5Z" fill="#000080" stroke="#0000cd" stroke-width="3.0" stroke-linejoin="round" paint-order="stroke"/>
<path d="M588.4,447.5C589.5,445.7 593.4,444.2 595.9,443.7C598.4,443.3 602.1,443.6 603.3,444.7C604.6,445.7 604.6,448.5 603.3,450.2C602.1,452.0 598.2,454.3 595.9,454.9C593.5,455.5 590.6,455.2 589.4,454.0C588.1,452.7 587.3,449.2 588.4,447.5Z" fill="#000080" stroke="#0000cd" stroke-width="2.4" stroke-linejoin="round" paint-order="stroke"/>
<path d="M581.0,458.6C581.6,457.2 585.5,456.8 586.6,457.7C587.7,458.6 588.1,462.8 587.5,464.2C586.9,465.6 583.9,467.0 582.8,466.1C581.8,465.1 580.4,460.0 581.0,458.6Z" fill="#000080" stroke="#0000cd" stroke-width="2.4" stroke-linejoin="round" paint-order="stroke"/>
<path d="M574.5,486.6C575.4,485.2 580.7,485.0 582.8,485.6C585.0,486.3 587.5,488.6 587.5,490.3C587.5,492.0 584.5,495.3 582.8,495.9C581.1,496.5 578.6,495.6 577.3,494.0C575.9,492.5 573.5,488.0 574.5,486.6Z" fill="#000080" stroke="#0000cd" stroke-width="2.4" stroke-linejoin="round" paint-order="stroke"/>
<path d="M592.2,485.6C592.8,485.0 596.7,484.4 597.7,484.7C598.8,485.0 599.3,486.9 598.7,487.5C598.0,488.1 595.1,488.7 594.0,488.4C592.9,488.1 591.5,486.3 592.2,485.6Z" fill="#000080" stroke="#0000cd" stroke-width="2.0" stroke-linejoin="round" paint-order="stroke"/>
<path d="M729.0,468.9C729.9,467.8 733.2,466.5 734.6,467.0C736.0,467.5 737.6,470.3 737.4,471.7C737.3,473.1 735.0,475.1 733.7,475.4C732.4,475.7 730.4,474.6 729.6,473.5C728.8,472.4 728.2,470.0 729.0,468.9Z" fill="none" stroke="#6495ed" stroke-width="4.8" stroke-linejoin="round"/>
<path d="M729.0,468.9C729.9,467.8 733.2,466.5 734.6,467.0C736.0,467.5 737.6,470.3 737.4,471.7C737.3,473.1 735.0,475.1 733.7,475.4C732.4,475.7 730.4,474.6 729.6,473.5C728.8,472.4 728.2,470.0 729.0,468.9Z" fill="#000080" stroke="#0000cd" stroke-width="2.4" stroke-linejoin="round" paint-order="stroke"/>
<path d="M608.0,490.3C609.5,488.9 611.9,488.0 614.5,486.6C617.1,485.2 620.7,483.1 623.8,481.9C626.9,480.7 630.2,480.2 633.1,479.1C636.1,478.0 638.9,476.6 641.5,475.4C644.1,474.1 646.5,472.7 649.0,471.7C651.4,470.6 653.9,470.0 656.4,468.9C658.9,467.8 661.4,466.4 663.9,465.1C666.3,463.9 668.8,462.7 671.3,461.4C673.8,460.2 676.4,458.5 678.8,457.7C681.1,456.9 684.0,456.3 685.3,456.8C686.5,457.2 687.1,459.1 686.2,460.5C685.3,461.9 682.0,463.6 679.7,465.1C677.4,466.7 674.7,468.1 672.2,469.8C669.8,471.5 667.3,473.7 664.8,475.4C662.3,477.1 659.8,478.5 657.3,480.0C654.9,481.6 652.4,483.2 649.9,484.7C647.4,486.2 644.9,487.6 642.4,488.8C640.0,490.0 637.5,491.1 635.0,492.2C632.5,493.2 629.7,493.9 627.5,494.9C625.4,496.0 624.1,497.4 622.0,498.7C619.8,499.9 616.7,501.6 614.5,502.4C612.3,503.2 610.5,503.8 608.9,503.3C607.4,502.9 605.8,501.0 605.2,499.6C604.6,498.2 604.7,496.5 605.2,494.9C605.7,493.4 606.4,491.7 608.0,490.3Z" fill="#0000cd"/>
<path d="M622.0,492.2C622.6,490.6 626.9,488.1 629.4,486.6C631.9,485.0 634.4,484.1 636.9,482.8C639.3,481.6 641.8,480.4 644.3,479.1C646.8,477.9 649.3,475.7 651.8,475.4C654.2,475.1 658.9,476.2 659.2,477.3C659.5,478.3 655.8,480.4 653.6,481.9C651.4,483.4 648.6,484.9 646.2,486.2C643.7,487.4 641.2,488.2 638.7,489.4C636.2,490.5 633.4,492.0 631.3,493.1C629.1,494.2 627.2,496.0 625.7,495.9C624.1,495.7 621.3,493.7 622.0,492.2Z" fill="#4169e1"/>
<path d="M631.3,487.5C632.0,486.4 636.2,484.9 638.7,483.8C641.2,482.7 644.0,481.6 646.2,481.0C648.3,480.4 651.4,479.4 651.8,480.0C652.1,480.7 649.9,483.5 648.0,484.7C646.2,485.9 642.9,486.6 640.6,487.5C638.2,488.4 635.6,490.3 634.1,490.3C632.5,490.3 630.5,488.6 631.3,487.5Z" fill="#6495ed"/>
<path d="M639.6,472.6C639.8,471.7 642.3,471.4 643.4,471.7C644.5,472.0 646.3,473.5 646.2,474.5C646.0,475.4 643.5,477.6 642.4,477.3C641.4,476.9 639.5,473.5 639.6,472.6Z" fill="#6495ed"/>
<path d="M670.4,467.0C670.8,466.1 674.6,464.4 676.0,464.2C677.4,464.1 679.2,465.1 678.8,466.1C678.3,467.0 674.6,469.6 673.2,469.8C671.8,470.0 669.9,467.9 670.4,467.0Z" fill="#6495ed"/>
<path d="M586.6,458.6C587.8,456.8 591.2,454.9 594.0,453.0C596.8,451.2 600.2,448.8 603.3,447.5C606.4,446.1 609.5,445.4 612.6,444.7C615.7,443.9 618.8,442.6 622.0,442.8C625.1,442.9 629.4,443.9 631.3,445.6C633.1,447.3 633.4,450.6 633.1,453.0C632.8,455.5 631.0,458.3 629.4,460.5C627.9,462.7 625.7,464.2 623.8,466.1C622.0,467.9 620.4,469.8 618.2,471.7C616.1,473.5 613.3,475.7 610.8,477.3C608.3,478.8 605.8,480.2 603.3,481.0C600.8,481.8 598.0,482.1 595.9,481.9C593.7,481.8 591.7,481.4 590.3,480.0C588.9,478.6 587.5,475.5 587.5,473.5C587.5,471.5 590.4,469.5 590.3,467.9C590.1,466.4 587.2,465.8 586.6,464.2C585.9,462.7 585.3,460.5 586.6,458.6Z" fill="#00bfff"/>
<path d="M685.3,503.3C687.3,503.5 691.5,507.1 694.6,508.9C697.7,510.8 701.7,512.6 703.9,514.5C706.1,516.4 708.2,518.5 707.6,520.1C707.0,521.6 702.7,524.1 700.2,523.8C697.7,523.5 694.9,520.1 692.7,518.2C690.6,516.4 688.8,514.3 687.1,512.6C685.4,510.9 682.8,509.5 682.5,508.0C682.2,506.4 683.3,503.2 685.3,503.3Z" fill="#00bfff"/>
<path d="M599.6,467.9C599.9,466.7 602.7,465.0 605.2,464.2C607.7,463.4 612.8,463.0 614.5,463.3C616.2,463.6 617.0,465.0 616.4,466.1C615.7,467.2 612.9,468.9 610.8,469.8C608.6,470.7 605.2,472.0 603.3,471.7C601.5,471.4 599.3,469.2 599.6,467.9Z" fill="#add8e6"/>
<path d="M654.5,506.1C655.3,504.9 658.4,502.9 661.1,502.4C663.7,501.9 668.8,502.6 670.4,503.3C671.9,504.1 671.6,506.0 670.4,507.1C669.1,508.1 665.3,509.4 662.9,509.8C660.6,510.3 657.8,510.5 656.4,509.8C655.0,509.2 653.8,507.4 654.5,506.1Z" fill="#ffffff" stroke="#add8e6" stroke-width="2.4" stroke-linejoin="round" paint-order="stroke"/>
<path d="M684.3,500.5C685.1,499.1 689.8,496.2 692.7,494.9C695.7,493.7 700.4,492.9 702.0,493.1C703.7,493.2 704.8,494.6 703.9,495.9C703.0,497.1 699.1,499.3 696.5,500.5C693.8,501.8 690.1,503.3 688.1,503.3C686.1,503.3 683.6,501.9 684.3,500.5Z" fill="#ffffff" stroke="#add8e6" stroke-width="2.4" stroke-linejoin="round" paint-order="stroke"/>
<path d="M700.2,467.9C700.5,466.7 704.8,466.2 707.6,465.1C710.4,464.1 713.8,462.8 716.9,461.4C720.0,460.0 724.4,456.9 726.3,456.8C728.1,456.6 728.4,458.6 728.1,460.5C727.8,462.4 725.5,465.5 724.4,467.9C723.3,470.4 722.8,473.4 721.6,475.4C720.4,477.4 718.6,479.9 716.9,480.0C715.2,480.2 713.2,477.6 711.4,476.3C709.5,475.1 707.6,474.0 705.8,472.6C703.9,471.2 699.9,469.2 700.2,467.9Z" fill="#ffffff"/>
<path d="M633.1,518.2C634.1,516.5 638.4,512.9 640.6,511.7C642.8,510.5 645.1,510.0 646.2,510.8C647.3,511.6 647.9,514.7 647.1,516.4C646.3,518.1 643.5,520.1 641.5,521.0C639.5,522.0 636.4,522.4 635.0,522.0C633.6,521.5 632.2,519.9 633.1,518.2Z" fill="#ffffff" stroke="#add8e6" stroke-width="2.4" stroke-linejoin="round" paint-order="stroke"/>
<path d="M608.0,493.1C609.1,491.5 612.2,490.6 614.5,489.9C616.8,489.2 621.3,488.1 622.0,488.8C622.6,489.5 619.8,492.3 618.2,494.0C616.7,495.8 614.3,498.3 612.6,499.2C610.9,500.2 608.8,500.6 608.0,499.6C607.2,498.6 606.9,494.7 608.0,493.1Z" fill="#000080"/>
<path d="M659.2,467.9C660.0,466.6 664.2,465.4 666.7,464.2C669.1,463.0 672.8,461.0 674.1,460.9C675.4,460.7 675.8,462.3 675.0,463.3C674.2,464.3 670.7,466.5 668.5,467.9C666.3,469.4 663.5,472.0 662.0,472.0C660.4,472.0 658.4,469.2 659.2,467.9Z" fill="#000080"/>
</g>
<g mask="url(#m8)">
<rect x="809.0" y="435.0" width="284.0" height="120.0" fill="#fff"/>
<path d="M809.3,435.3C809.3,435.3 911.8,435.3 911.8,435.3C911.8,435.3 911.9,443.1 910.9,445.6C909.8,448.1 906.4,448.7 905.3,450.2C904.2,451.8 905.0,454.4 904.3,454.9C903.7,455.4 903.2,453.0 901.5,453.0C899.9,453.0 896.3,455.2 894.1,454.9C891.9,454.6 890.7,451.5 888.5,451.2C886.3,450.9 884.2,452.6 881.1,453.0C877.9,453.5 873.6,453.7 869.9,454.0C866.2,454.3 862.4,454.9 858.7,454.9C855.0,454.9 851.3,454.0 847.5,454.0C843.8,454.0 839.5,455.4 836.4,454.9C833.2,454.4 832.0,451.8 828.9,451.2C825.8,450.6 821.0,450.4 817.7,451.2C814.5,452.0 809.3,455.8 809.3,455.8C809.3,455.8 809.3,435.3 809.3,435.3Z" fill="#add8e6"/>
<path d="M841.9,459.6C842.4,458.8 844.4,458.1 845.7,458.3C846.9,458.4 849.2,459.6 849.4,460.5C849.5,461.3 847.7,462.9 846.6,463.3C845.5,463.7 843.6,463.3 842.9,462.7C842.1,462.1 841.5,460.3 841.9,459.6Z" fill="#add8e6"/>
<path d="M887.6,470.7C888.0,469.3 889.9,466.5 891.3,466.1C892.7,465.6 895.0,466.7 896.0,467.9C896.9,469.2 897.5,472.1 896.9,473.5C896.3,474.9 893.6,476.2 892.2,476.3C890.8,476.5 889.3,475.4 888.5,474.5C887.7,473.5 887.1,472.1 887.6,470.7Z" fill="#add8e6"/>
<path d="M840.1,486.6C840.1,485.2 842.9,483.0 844.7,481.9C846.6,480.8 848.6,479.9 851.3,480.0C853.9,480.2 858.4,481.4 860.6,482.8C862.7,484.2 864.6,487.0 864.3,488.4C864.0,489.8 860.9,490.9 858.7,491.2C856.5,491.5 853.6,490.4 851.3,490.3C848.9,490.1 846.6,490.9 844.7,490.3C842.9,489.7 840.1,488.0 840.1,486.6Z" fill="#add8e6"/>
<path d="M809.3,493.1C809.3,493.1 816.5,491.7 819.6,492.2C822.7,492.6 826.0,494.6 828.0,495.9C830.0,497.1 829.7,498.7 831.7,499.6C833.7,500.5 837.4,500.5 840.1,501.5C842.7,502.4 845.5,503.5 847.5,505.2C849.5,506.9 851.4,509.5 852.2,511.7C853.0,513.9 851.9,516.2 852.2,518.2C852.5,520.2 854.5,522.4 854.0,523.8C853.6,525.2 851.1,525.4 849.4,526.6C847.7,527.9 845.8,530.5 843.8,531.3C841.8,532.0 839.3,532.7 837.3,531.3C835.3,529.9 833.7,525.4 831.7,522.9C829.7,520.4 826.7,518.7 825.2,516.4C823.6,514.0 822.5,511.4 822.4,508.9C822.2,506.4 825.0,502.4 824.2,501.5C823.5,500.5 820.2,502.7 817.7,503.3C815.2,503.9 809.3,505.2 809.3,505.2C809.3,505.2 809.3,493.1 809.3,493.1Z" fill="#add8e6"/>
<path d="M866.2,501.5C868.0,500.1 872.4,499.3 875.5,498.7C878.6,498.0 882.9,498.0 884.8,497.7C886.7,497.5 886.7,497.4 888.5,496.8C890.3,496.2 893.8,493.9 896.0,494.0C898.1,494.2 900.3,496.2 901.5,497.7C902.8,499.3 902.5,501.9 903.4,503.3C904.3,504.7 906.7,504.4 907.1,506.1C907.6,507.8 907.1,511.6 906.2,513.6C905.3,515.6 903.2,516.8 901.5,518.2C899.8,519.6 898.1,521.2 896.0,522.0C893.8,522.7 891.0,522.9 888.5,522.9C886.0,522.9 882.9,521.5 881.1,522.0C879.2,522.4 878.7,525.7 877.3,525.7C875.9,525.7 873.0,523.5 872.7,522.0C872.4,520.4 875.9,517.3 875.5,516.4C875.0,515.4 871.6,516.8 869.9,516.4C868.2,515.9 866.2,515.1 865.2,513.6C864.3,512.0 864.1,509.1 864.3,507.1C864.4,505.0 864.3,502.9 866.2,501.5Z" fill="#add8e6"/>
<path d="M911.8,435.3C911.8,435.3 911.9,443.1 910.9,445.6C909.8,448.1 906.4,448.7 905.3,450.2C904.2,451.8 905.0,453.2 904.3,454.9C903.7,456.6 901.7,458.8 901.5,460.5C901.4,462.2 903.4,463.6 903.4,465.1C903.4,466.7 901.5,468.4 901.5,469.8C901.5,471.2 902.5,472.4 903.4,473.5C904.3,474.6 905.9,475.1 907.1,476.3C908.4,477.6 909.6,479.3 910.9,481.0C912.1,482.7 913.3,486.3 914.6,486.6C915.8,486.9 917.2,482.5 918.3,482.8C919.4,483.1 921.1,486.3 921.1,488.4C921.1,490.6 919.7,493.4 918.3,495.9C916.9,498.4 914.6,501.6 912.7,503.3C910.9,505.0 908.2,504.3 907.1,506.1C906.0,508.0 905.6,511.9 906.2,514.5C906.8,517.1 908.8,520.4 910.9,522.0C912.9,523.5 915.8,524.4 918.3,523.8C920.8,523.2 923.6,519.8 925.8,518.2C927.9,516.7 929.5,514.2 931.3,514.5C933.2,514.8 935.1,518.2 936.9,520.1C938.8,522.0 940.7,523.8 942.5,525.7C944.4,527.5 945.3,530.6 948.1,531.3C950.9,531.9 955.6,530.0 959.3,529.4C963.0,528.8 967.3,528.8 970.5,527.5C973.6,526.3 975.4,523.5 977.9,522.0C980.4,520.4 983.2,518.2 985.4,518.2C987.5,518.2 989.1,522.3 990.9,522.0C992.8,521.6 995.0,518.2 996.5,516.4C998.1,514.5 1000.3,512.9 1000.3,510.8C1000.3,508.6 996.5,505.5 996.5,503.3C996.5,501.2 998.4,499.3 1000.3,497.7C1002.1,496.2 1005.2,494.9 1007.7,494.0C1010.2,493.1 1012.7,492.8 1015.2,492.2C1017.6,491.5 1020.4,490.0 1022.6,490.3C1024.8,490.6 1026.6,492.5 1028.2,494.0C1029.7,495.6 1030.7,497.1 1031.9,499.6C1033.2,502.1 1034.4,506.4 1035.6,508.9C1036.9,511.4 1037.5,512.9 1039.4,514.5C1041.2,516.1 1044.0,517.0 1046.8,518.2C1049.6,519.5 1053.0,521.6 1056.1,522.0C1059.2,522.3 1062.3,520.1 1065.4,520.1C1068.5,520.1 1071.7,522.0 1074.8,522.0C1077.9,522.0 1081.0,520.4 1084.1,520.1C1087.2,519.8 1093.4,520.1 1093.4,520.1C1093.4,520.1 1093.4,435.3 1093.4,435.3C1093.4,435.3 911.8,435.3 911.8,435.3Z" fill="#add8e6"/>
<path d="M1017.0,482.8C1017.9,481.4 1022.0,480.2 1024.5,480.0C1027.0,479.9 1029.7,480.5 1031.9,481.9C1034.1,483.3 1036.9,486.4 1037.5,488.4C1038.1,490.4 1036.9,492.8 1035.6,494.0C1034.4,495.3 1031.9,496.5 1030.1,495.9C1028.2,495.3 1026.3,491.5 1024.5,490.3C1022.6,489.0 1020.1,489.7 1018.9,488.4C1017.6,487.2 1016.1,484.2 1017.0,482.8Z" fill="#ffffff"/>
<path d="M1056.1,494.0C1056.4,492.3 1060.5,491.5 1063.6,491.2C1066.7,490.9 1071.3,491.4 1074.8,492.2C1078.2,492.9 1081.0,495.3 1084.1,495.9C1087.2,496.5 1093.4,495.9 1093.4,495.9C1093.4,495.9 1093.4,503.3 1093.4,503.3C1093.4,503.3 1085.9,504.3 1082.2,504.3C1078.5,504.3 1074.4,503.8 1071.0,503.3C1067.6,502.9 1064.2,503.0 1061.7,501.5C1059.2,499.9 1055.8,495.7 1056.1,494.0Z" fill="#ffffff"/>
<path d="M1046.8,505.2C1046.8,504.4 1052.1,503.3 1054.3,503.3C1056.4,503.3 1059.9,504.4 1059.9,505.2C1059.9,506.0 1056.4,508.0 1054.3,508.0C1052.1,508.0 1046.8,506.0 1046.8,505.2Z" fill="#ffffff"/>
<path d="M910.9,495.9C911.3,494.5 913.3,492.5 914.6,492.2C915.8,491.8 918.1,492.8 918.3,494.0C918.5,495.3 916.6,498.5 915.5,499.6C914.4,500.7 912.6,501.2 911.8,500.5C911.0,499.9 910.4,497.3 910.9,495.9Z" fill="#ffffff"/>
<path d="M809.3,435.3C809.3,435.3 888.5,435.3 888.5,435.3C888.5,435.3 886.6,438.6 884.8,440.0C882.9,441.4 879.8,442.5 877.3,443.7C874.8,445.0 873.3,446.5 869.9,447.5C866.5,448.4 861.2,448.8 856.8,449.3C852.5,449.8 847.8,449.9 843.8,450.2C839.8,450.6 836.4,451.3 832.6,451.2C828.9,451.0 825.3,449.5 821.5,449.3C817.6,449.2 809.3,450.2 809.3,450.2C809.3,450.2 809.3,435.3 809.3,435.3Z" fill="#00bfff"/>
<path d="M892.2,445.6C892.5,444.3 895.6,443.3 896.9,443.7C898.1,444.2 900.0,447.1 899.7,448.4C899.4,449.6 896.3,451.6 895.0,451.2C893.8,450.7 891.9,446.8 892.2,445.6Z" fill="#00bfff"/>
<path d="M843.8,460.1C843.9,459.7 845.4,459.2 846.0,459.4C846.7,459.5 847.6,460.4 847.5,460.9C847.4,461.3 845.9,462.1 845.3,462.0C844.7,461.9 843.7,460.6 843.8,460.1Z" fill="#00bfff"/>
<path d="M890.4,468.9C890.7,468.0 893.3,467.5 894.1,467.9C894.9,468.4 895.4,470.8 895.0,471.7C894.6,472.5 892.6,473.6 891.9,473.2C891.1,472.7 890.0,469.7 890.4,468.9Z" fill="#00bfff"/>
<path d="M844.7,486.6C844.7,485.5 846.7,483.7 848.5,483.2C850.2,482.7 853.1,483.1 855.0,483.8C856.8,484.5 859.6,486.5 859.6,487.5C859.6,488.5 856.8,489.6 855.0,489.9C853.1,490.2 850.2,489.9 848.5,489.4C846.7,488.8 844.7,487.6 844.7,486.6Z" fill="#00bfff"/>
<path d="M824.2,512.6C823.8,510.5 825.6,507.4 827.0,505.2C828.4,503.0 830.5,500.1 832.6,499.6C834.8,499.1 837.6,501.3 840.1,502.4C842.6,503.5 845.7,504.6 847.5,506.1C849.4,507.7 850.8,509.7 851.3,511.7C851.7,513.7 851.6,516.5 850.3,518.2C849.1,519.9 845.5,520.6 843.8,522.0C842.1,523.3 841.5,526.6 840.1,526.6C838.7,526.6 837.1,523.3 835.4,522.0C833.7,520.6 831.7,519.8 829.8,518.2C828.0,516.7 824.7,514.8 824.2,512.6Z" fill="#00bfff"/>
<path d="M882.0,505.2C882.8,503.2 884.9,501.2 886.6,499.6C888.3,498.0 890.4,496.2 892.2,495.9C894.1,495.6 896.4,496.5 897.8,497.7C899.2,499.0 900.0,501.3 900.6,503.3C901.2,505.3 901.9,507.8 901.5,509.8C901.2,511.9 900.1,513.9 898.7,515.4C897.3,517.0 895.2,518.2 893.2,519.2C891.1,520.1 888.3,521.3 886.6,521.0C884.9,520.7 883.7,518.8 882.9,517.3C882.1,515.7 882.1,513.7 882.0,511.7C881.8,509.7 881.2,507.2 882.0,505.2Z" fill="#00bfff"/>
<path d="M867.1,512.3C867.8,511.6 871.2,511.3 872.1,511.7C873.0,512.1 873.4,514.3 872.7,514.9C871.9,515.5 868.6,515.9 867.6,515.4C866.7,515.0 866.3,512.9 867.1,512.3Z" fill="#00bfff"/>
<path d="M914.6,451.2C915.0,449.5 918.0,447.1 920.2,445.6C922.3,444.0 924.8,443.6 927.6,441.9C930.4,440.2 936.9,435.3 936.9,435.3C936.9,435.3 1093.4,435.3 1093.4,435.3C1093.4,435.3 1093.4,488.4 1093.4,488.4C1093.4,488.4 1087.2,490.4 1084.1,490.3C1081.0,490.1 1077.9,487.8 1074.8,487.5C1071.7,487.2 1068.5,488.6 1065.4,488.4C1062.3,488.3 1058.3,485.9 1056.1,486.6C1054.0,487.2 1054.0,490.3 1052.4,492.2C1050.9,494.0 1048.4,497.4 1046.8,497.7C1045.3,498.0 1043.1,495.9 1043.1,494.0C1043.1,492.2 1047.1,488.7 1046.8,486.6C1046.5,484.4 1043.4,482.5 1041.2,481.0C1039.1,479.4 1036.3,478.0 1033.8,477.3C1031.3,476.5 1028.8,476.2 1026.3,476.3C1023.8,476.5 1021.4,477.3 1018.9,478.2C1016.4,479.1 1013.9,481.0 1011.4,481.9C1008.9,482.8 1005.8,482.7 1004.0,483.8C1002.1,484.9 1000.3,486.7 1000.3,488.4C1000.3,490.1 1004.3,492.5 1004.0,494.0C1003.7,495.6 1000.1,496.0 998.4,497.7C996.7,499.4 993.9,502.1 993.7,504.3C993.6,506.4 997.6,508.4 997.5,510.8C997.3,513.1 994.5,517.3 992.8,518.2C991.1,519.2 989.4,516.2 987.2,516.4C985.0,516.5 982.2,517.9 979.8,519.2C977.3,520.4 975.1,522.9 972.3,523.8C969.5,524.7 966.1,524.7 963.0,524.7C959.9,524.7 956.5,524.3 953.7,523.8C950.9,523.3 948.4,522.9 946.2,522.0C944.1,521.0 942.5,519.9 940.7,518.2C938.8,516.5 936.9,512.6 935.1,511.7C933.2,510.8 931.7,511.6 929.5,512.6C927.3,513.7 924.5,517.1 922.0,518.2C919.5,519.3 916.8,519.8 914.6,519.2C912.4,518.5 910.1,516.4 909.0,514.5C907.9,512.6 907.3,509.5 908.1,508.0C908.8,506.4 911.6,506.9 913.6,505.2C915.7,503.5 918.5,500.2 920.2,497.7C921.9,495.3 923.7,492.6 923.9,490.3C924.0,488.0 920.8,485.6 921.1,483.8C921.4,481.9 925.3,481.1 925.8,479.1C926.2,477.1 925.1,473.2 923.9,471.7C922.6,470.1 920.2,469.6 918.3,469.8C916.4,470.0 914.6,472.6 912.7,472.6C910.9,472.6 907.7,471.2 907.1,469.8C906.5,468.4 907.6,465.8 909.0,464.2C910.4,462.7 914.1,461.9 915.5,460.5C916.9,459.1 917.5,457.4 917.4,455.8C917.2,454.3 914.1,452.9 914.6,451.2Z" fill="#00bfff"/>
<path d="M1039.4,510.8C1039.1,509.1 1042.5,506.7 1045.0,505.2C1047.4,503.6 1051.2,501.8 1054.3,501.5C1057.4,501.2 1060.8,502.7 1063.6,503.3C1066.4,503.9 1068.5,504.3 1071.0,505.2C1073.5,506.1 1077.9,507.4 1078.5,508.9C1079.1,510.5 1076.9,513.3 1074.8,514.5C1072.6,515.7 1068.5,515.7 1065.4,516.4C1062.3,517.0 1059.2,518.4 1056.1,518.2C1053.0,518.1 1049.6,516.7 1046.8,515.4C1044.0,514.2 1039.7,512.5 1039.4,510.8Z" fill="#00bfff"/>
<path d="M1002.1,503.3C1002.7,501.5 1005.5,500.8 1006.8,501.5C1008.0,502.1 1009.4,505.0 1009.6,507.1C1009.7,509.1 1008.8,512.6 1007.7,513.6C1006.6,514.5 1004.0,514.3 1003.0,512.6C1002.1,510.9 1001.5,505.2 1002.1,503.3Z" fill="#00bfff"/>
<path d="M835.4,507.1C835.7,505.3 838.2,504.3 840.1,504.3C841.9,504.3 845.0,505.8 846.6,507.1C848.1,508.3 849.4,510.0 849.4,511.7C849.4,513.4 847.8,516.1 846.6,517.3C845.4,518.5 843.3,519.6 841.9,519.2C840.5,518.7 839.3,516.5 838.2,514.5C837.1,512.5 835.1,508.8 835.4,507.1Z" fill="#6495ed"/>
<path d="M885.7,506.1C886.3,503.9 888.8,502.4 890.4,501.5C891.9,500.5 893.8,499.9 895.0,500.5C896.3,501.2 897.7,503.3 897.8,505.2C898.0,507.1 897.0,509.8 896.0,511.7C894.9,513.6 892.8,515.9 891.3,516.4C889.7,516.8 887.6,516.2 886.6,514.5C885.7,512.8 885.1,508.3 885.7,506.1Z" fill="#6495ed"/>
<path d="M1068.2,508.0C1068.8,507.2 1072.0,506.6 1072.9,507.1C1073.8,507.5 1074.4,510.0 1073.8,510.8C1073.3,511.6 1070.5,512.2 1069.5,511.7C1068.6,511.2 1067.7,508.8 1068.2,508.0Z" fill="#6495ed"/>
<path d="M944.4,435.3C944.4,435.3 972.3,435.3 972.3,435.3C972.3,435.3 974.5,441.1 976.0,443.7C977.6,446.4 981.6,449.3 981.6,451.2C981.6,453.0 978.2,454.6 976.0,454.9C973.9,455.2 971.1,453.2 968.6,453.0C966.1,452.9 963.3,454.3 961.1,454.0C959.0,453.7 957.4,452.6 955.6,451.2C953.7,449.8 951.8,448.2 950.0,445.6C948.1,442.9 944.4,435.3 944.4,435.3Z" fill="#6495ed"/>
<path d="M922.0,486.6C923.1,484.4 925.8,483.0 927.6,482.8C929.5,482.7 932.0,484.1 933.2,485.6C934.4,487.2 935.4,490.1 935.1,492.2C934.8,494.2 932.9,496.5 931.3,497.7C929.8,499.0 927.5,499.9 925.8,499.6C924.0,499.3 921.7,498.0 921.1,495.9C920.5,493.7 920.9,488.7 922.0,486.6Z" fill="#6495ed"/>
<path d="M914.6,505.2C915.2,503.6 918.9,502.6 922.0,502.4C925.1,502.2 930.7,503.2 933.2,504.3C935.7,505.3 936.9,507.2 936.9,508.9C936.9,510.6 935.1,513.9 933.2,514.5C931.3,515.1 928.2,513.1 925.8,512.6C923.3,512.2 920.2,512.9 918.3,511.7C916.4,510.5 914.0,506.7 914.6,505.2Z" fill="#6495ed"/>
<path d="M942.5,508.9C943.3,507.1 945.6,506.1 948.1,505.2C950.6,504.3 955.2,503.0 957.4,503.3C959.6,503.6 960.8,505.2 961.1,507.1C961.5,508.9 960.5,512.3 959.3,514.5C958.0,516.7 955.7,518.8 953.7,520.1C951.7,521.3 948.9,522.6 947.2,522.0C945.5,521.3 944.2,518.5 943.4,516.4C942.7,514.2 941.7,510.8 942.5,508.9Z" fill="#6495ed"/>
<path d="M964.9,503.3C966.0,501.2 969.5,499.6 972.3,498.7C975.1,497.7 979.1,497.0 981.6,497.7C984.1,498.5 986.4,500.8 987.2,503.3C988.0,505.8 987.5,510.3 986.3,512.6C985.0,515.0 982.2,516.7 979.8,517.3C977.3,517.9 973.7,517.3 971.4,516.4C969.1,515.4 966.9,513.9 965.8,511.7C964.7,509.5 963.8,505.5 964.9,503.3Z" fill="#6495ed"/>
<path d="M976.0,486.6C977.3,485.3 981.9,485.6 985.4,485.6C988.8,485.6 994.0,485.6 996.5,486.6C999.0,487.5 1000.9,489.7 1000.3,491.2C999.6,492.8 995.6,494.9 992.8,495.9C990.0,496.8 986.0,497.3 983.5,496.8C981.0,496.3 979.1,494.8 977.9,493.1C976.7,491.4 974.8,487.8 976.0,486.6Z" fill="#6495ed"/>
<path d="M1067.3,482.8C1067.6,481.9 1072.0,481.8 1074.8,481.9C1077.6,482.1 1081.0,483.3 1084.1,483.8C1087.2,484.2 1093.4,484.7 1093.4,484.7C1093.4,484.7 1093.4,489.4 1093.4,489.4C1093.4,489.4 1085.6,489.1 1082.2,488.8C1078.8,488.5 1075.4,488.5 1072.9,487.5C1070.4,486.5 1067.0,483.8 1067.3,482.8Z" fill="#6495ed"/>
<path d="M838.2,508.0C838.8,507.1 841.5,506.7 842.9,507.1C844.3,507.4 846.1,508.6 846.6,509.8C847.1,511.1 846.4,513.6 845.7,514.5C844.9,515.4 843.0,515.7 841.9,515.4C840.9,515.1 839.8,513.9 839.1,512.6C838.5,511.4 837.6,508.9 838.2,508.0Z" fill="#4169e1"/>
<path d="M892.2,500.5C892.7,499.8 895.2,499.5 896.0,500.0C896.7,500.4 897.3,502.6 896.9,503.3C896.4,504.0 893.9,504.7 893.2,504.3C892.4,503.8 891.8,501.2 892.2,500.5Z" fill="#4169e1"/>
<path d="M924.8,487.5C925.5,486.4 928.2,485.2 929.5,485.6C930.7,486.1 932.4,488.9 932.3,490.3C932.1,491.7 929.7,493.7 928.5,494.0C927.4,494.3 926.0,493.2 925.4,492.2C924.8,491.1 924.1,488.6 924.8,487.5Z" fill="#4169e1"/>
<path d="M945.3,509.8C945.6,508.0 948.1,507.7 950.0,507.1C951.8,506.4 955.1,505.3 956.5,506.1C957.9,506.9 958.8,509.8 958.3,511.7C957.9,513.6 955.4,516.2 953.7,517.3C952.0,518.4 949.5,519.5 948.1,518.2C946.7,517.0 945.0,511.7 945.3,509.8Z" fill="#4169e1"/>
<path d="M965.8,504.3C966.7,502.5 969.8,500.8 972.3,500.0C974.8,499.1 978.5,498.5 980.7,499.2C982.9,499.9 984.7,502.2 985.4,504.3C986.0,506.3 985.5,509.8 984.4,511.7C983.3,513.6 980.9,515.0 978.8,515.4C976.8,515.9 974.3,515.3 972.3,514.5C970.4,513.7 968.2,512.5 967.1,510.8C966.0,509.1 964.9,506.1 965.8,504.3Z" fill="#4169e1"/>
<path d="M961.1,474.5C962.1,473.4 965.8,473.1 968.6,473.5C971.4,474.0 976.7,475.9 977.9,477.3C979.1,478.6 977.6,481.0 976.0,481.9C974.5,482.8 970.8,483.1 968.6,482.8C966.4,482.5 964.2,481.4 963.0,480.0C961.8,478.6 960.2,475.5 961.1,474.5Z" fill="#4169e1"/>
<path d="M841.6,509.8C842.0,509.2 844.1,508.8 844.7,509.3C845.4,509.8 845.7,512.0 845.3,512.6C844.9,513.3 842.9,513.7 842.3,513.2C841.7,512.7 841.2,510.5 841.6,509.8Z" fill="#0000cd"/>
<path d="M915.5,507.1C916.9,506.2 923.4,505.0 925.8,505.2C928.1,505.3 929.8,507.1 929.5,508.0C929.2,508.9 925.9,510.4 923.9,510.8C921.9,511.2 918.8,511.0 917.4,510.4C916.0,509.8 914.1,507.9 915.5,507.1Z" fill="#0000cd"/>
<path d="M955.6,504.3C956.0,503.2 958.5,503.3 959.3,504.3C960.1,505.2 960.7,508.8 960.2,509.8C959.7,510.9 957.3,511.3 956.5,510.4C955.7,509.5 955.1,505.3 955.6,504.3Z" fill="#0000cd"/>
<path d="M966.7,504.3C967.5,503.1 970.1,501.7 972.3,501.1C974.5,500.5 978.1,499.8 979.8,500.5C981.5,501.2 982.6,503.6 982.6,505.2C982.6,506.7 981.5,509.2 979.8,509.8C978.1,510.5 974.3,509.2 972.3,508.9C970.3,508.6 968.6,508.8 967.7,508.0C966.7,507.2 966.0,505.4 966.7,504.3Z" fill="#0000cd"/>
<path d="M963.0,475.4C963.2,474.3 966.6,474.4 968.6,474.8C970.6,475.3 974.3,477.1 975.1,478.2C975.9,479.3 974.5,480.8 973.2,481.3C972.0,481.9 969.4,482.3 967.7,481.3C966.0,480.4 962.8,476.5 963.0,475.4Z" fill="#0000cd"/>
<path d="M972.3,435.3C972.3,435.3 974.5,441.1 976.0,443.7C977.6,446.4 979.8,449.0 981.6,451.2C983.5,453.3 985.4,455.5 987.2,456.8C989.1,458.0 990.9,459.6 992.8,458.6C994.7,457.7 997.6,453.7 998.4,451.2C999.2,448.7 997.2,446.4 997.5,443.7C997.8,441.1 1000.3,435.3 1000.3,435.3C1000.3,435.3 972.3,435.3 972.3,435.3Z" fill="#0000cd"/>
<path d="M809.3,435.3C809.3,435.3 873.6,435.3 873.6,435.3C873.6,435.3 872.0,441.2 869.9,442.8C867.7,444.3 864.3,444.2 860.6,444.7C856.8,445.1 852.2,445.3 847.5,445.6C842.9,445.9 837.0,446.4 832.6,446.5C828.3,446.7 825.3,446.4 821.5,446.5C817.6,446.7 809.3,447.5 809.3,447.5C809.3,447.5 809.3,435.3 809.3,435.3Z" fill="none" stroke="#6495ed" stroke-width="4.6" stroke-linejoin="round"/>
<path d="M809.3,435.3C809.3,435.3 873.6,435.3 873.6,435.3C873.6,435.3 872.0,441.2 869.9,442.8C867.7,444.3 864.3,444.2 860.6,444.7C856.8,445.1 852.2,445.3 847.5,445.6C842.9,445.9 837.0,446.4 832.6,446.5C828.3,446.7 825.3,446.4 821.5,446.5C817.6,446.7 809.3,447.5 809.3,447.5C809.3,447.5 809.3,435.3 809.3,435.3Z" fill="#000080" stroke="#0000cd" stroke-width="2.0" stroke-linejoin="round" paint-order="stroke"/>
<path d="M967.7,504.3C968.3,503.5 971.2,502.2 972.3,502.4C973.5,502.6 974.7,504.4 974.6,505.2C974.4,506.0 972.4,507.2 971.4,507.4C970.3,507.7 968.8,507.2 968.2,506.7C967.6,506.2 967.0,505.0 967.7,504.3Z" fill="#000080"/>
<path d="M966.7,476.9C967.4,476.4 971.3,476.7 972.3,477.3C973.3,477.8 973.4,479.6 972.7,480.0C972.0,480.5 969.2,480.6 968.2,480.0C967.2,479.5 966.0,477.3 966.7,476.9Z" fill="#000080"/>
<path d="M1002.1,435.3C1002.1,435.3 998.7,442.6 998.4,445.6C998.1,448.5 1000.9,450.9 1000.3,453.0C999.6,455.2 996.5,456.8 994.7,458.6C992.8,460.5 989.4,462.0 989.1,464.2C988.8,466.4 991.7,469.6 992.8,471.7C993.9,473.7 994.4,476.9 995.6,476.3C996.8,475.7 998.2,469.8 1000.3,467.9C1002.3,466.1 1005.1,465.3 1007.7,465.1C1010.3,465.0 1013.8,467.0 1016.1,467.0C1018.4,467.0 1020.1,466.4 1021.7,465.1C1023.2,463.9 1023.8,460.8 1025.4,459.6C1027.0,458.3 1029.0,457.5 1031.0,457.7C1033.0,457.8 1034.9,459.6 1037.5,460.5C1040.1,461.4 1043.7,462.5 1046.8,463.3C1049.9,464.1 1053.0,464.2 1056.1,465.1C1059.2,466.1 1062.3,467.3 1065.4,468.9C1068.5,470.4 1072.0,473.1 1074.8,474.5C1077.6,475.8 1079.1,476.1 1082.2,476.9C1085.3,477.7 1093.4,479.1 1093.4,479.1C1093.4,479.1 1093.4,435.3 1093.4,435.3C1093.4,435.3 1002.1,435.3 1002.1,435.3Z" fill="none" stroke="#6495ed" stroke-width="8.4" stroke-linejoin="round"/>
<path d="M1002.1,435.3C1002.1,435.3 998.7,442.6 998.4,445.6C998.1,448.5 1000.9,450.9 1000.3,453.0C999.6,455.2 996.5,456.8 994.7,458.6C992.8,460.5 989.4,462.0 989.1,464.2C988.8,466.4 991.7,469.6 992.8,471.7C993.9,473.7 994.4,476.9 995.6,476.3C996.8,475.7 998.2,469.8 1000.3,467.9C1002.3,466.1 1005.1,465.3 1007.7,465.1C1010.3,465.0 1013.8,467.0 1016.1,467.0C1018.4,467.0 1020.1,466.4 1021.7,465.1C1023.2,463.9 1023.8,460.8 1025.4,459.6C1027.0,458.3 1029.0,457.5 1031.0,457.7C1033.0,457.8 1034.9,459.6 1037.5,460.5C1040.1,461.4 1043.7,462.5 1046.8,463.3C1049.9,464.1 1053.0,464.2 1056.1,465.1C1059.2,466.1 1062.3,467.3 1065.4,468.9C1068.5,470.4 1072.0,473.1 1074.8,474.5C1077.6,475.8 1079.1,476.1 1082.2,476.9C1085.3,477.7 1093.4,479.1 1093.4,479.1C1093.4,479.1 1093.4,435.3 1093.4,435.3C1093.4,435.3 1002.1,435.3 1002.1,435.3Z" fill="none" stroke="#4169e1" stroke-width="5.4" stroke-linejoin="round"/>
<path d="M1002.1,435.3C1002.1,435.3 998.7,442.6 998.4,445.6C998.1,448.5 1000.9,450.9 1000.3,453.0C999.6,455.2 996.5,456.8 994.7,458.6C992.8,460.5 989.4,462.0 989.1,464.2C988.8,466.4 991.7,469.6 992.8,471.7C993.9,473.7 994.4,476.9 995.6,476.3C996.8,475.7 998.2,469.8 1000.3,467.9C1002.3,466.1 1005.1,465.3 1007.7,465.1C1010.3,465.0 1013.8,467.0 1016.1,467.0C1018.4,467.0 1020.1,466.4 1021.7,465.1C1023.2,463.9 1023.8,460.8 1025.4,459.6C1027.0,458.3 1029.0,457.5 1031.0,457.7C1033.0,457.8 1034.9,459.6 1037.5,460.5C1040.1,461.4 1043.7,462.5 1046.8,463.3C1049.9,464.1 1053.0,464.2 1056.1,465.1C1059.2,466.1 1062.3,467.3 1065.4,468.9C1068.5,470.4 1072.0,473.1 1074.8,474.5C1077.6,475.8 1079.1,476.1 1082.2,476.9C1085.3,477.7 1093.4,479.1 1093.4,479.1C1093.4,479.1 1093.4,435.3 1093.4,435.3C1093.4,435.3 1002.1,435.3 1002.1,435.3Z" fill="#000080" stroke="#0000cd" stroke-width="3.0" stroke-linejoin="round" paint-order="stroke"/>
<path d="M957.4,455.8C958.5,455.7 962.4,457.7 964.9,457.7C967.3,457.7 970.1,455.7 972.3,455.8C974.5,456.0 975.7,457.7 977.9,458.6C980.1,459.6 983.3,460.2 985.4,461.4C987.4,462.7 989.4,464.2 990.0,466.1C990.6,467.9 990.3,472.3 989.1,472.6C987.8,472.9 985.0,469.2 982.6,467.9C980.1,466.7 977.1,466.2 974.2,465.1C971.2,464.1 967.5,462.5 964.9,461.4C962.2,460.3 959.5,459.5 958.3,458.6C957.2,457.7 956.3,456.0 957.4,455.8Z" fill="none" stroke="#6495ed" stroke-width="8.4" stroke-linejoin="round"/>
<path d="M957.4,455.8C958.5,455.7 962.4,457.7 964.9,457.7C967.3,457.7 970.1,455.7 972.3,455.8C974.5,456.0 975.7,457.7 977.9,458.6C980.1,459.6 983.3,460.2 985.4,461.4C987.4,462.7 989.4,464.2 990.0,466.1C990.6,467.9 990.3,472.3 989.1,472.6C987.8,472.9 985.0,469.2 982.6,467.9C980.1,466.7 977.1,466.2 974.2,465.1C971.2,464.1 967.5,462.5 964.9,461.4C962.2,460.3 959.5,459.5 958.3,458.6C957.2,457.7 956.3,456.0 957.4,455.8Z" fill="none" stroke="#4169e1" stroke-width="5.4" stroke-linejoin="round"/>
<path d="M957.4,455.8C958.5,455.7 962.4,457.7 964.9,457.7C967.3,457.7 970.1,455.7 972.3,455.8C974.5,456.0 975.7,457.7 977.9,458.6C980.1,459.6 983.3,460.2 985.4,461.4C987.4,462.7 989.4,464.2 990.0,466.1C990.6,467.9 990.3,472.3 989.1,472.6C987.8,472.9 985.0,469.2 982.6,467.9C980.1,466.7 977.1,466.2 974.2,465.1C971.2,464.1 967.5,462.5 964.9,461.4C962.2,460.3 959.5,459.5 958.3,458.6C957.2,457.7 956.3,456.0 957.4,455.8Z" fill="#000080" stroke="#0000cd" stroke-width="3.0" stroke-linejoin="round" paint-order="stroke"/>
<path d="M918.3,447.5C919.2,446.1 923.0,444.5 925.8,443.7C928.5,442.9 933.8,442.0 935.1,442.8C936.3,443.6 934.8,447.0 933.2,448.4C931.7,449.8 927.9,450.6 925.8,451.2C923.6,451.8 921.4,452.7 920.2,452.1C918.9,451.5 917.4,448.8 918.3,447.5Z" fill="#add8e6"/>
<path d="M936.9,480.0C937.5,478.5 941.3,477.1 944.4,476.3C947.5,475.5 952.8,474.9 955.6,475.4C958.3,475.9 961.1,477.9 961.1,479.1C961.1,480.4 958.0,481.9 955.6,482.8C953.1,483.8 948.7,484.2 946.2,484.7C943.8,485.2 942.2,486.4 940.7,485.6C939.1,484.9 936.3,481.6 936.9,480.0Z" fill="#add8e6"/>
<path d="M936.9,495.9C937.7,493.9 940.0,491.7 942.5,490.3C945.0,488.9 949.0,487.7 951.8,487.5C954.6,487.3 958.3,488.0 959.3,489.4C960.2,490.8 958.7,493.9 957.4,495.9C956.2,497.9 954.0,500.1 951.8,501.5C949.7,502.9 946.7,504.1 944.4,504.3C942.0,504.4 939.1,503.8 937.9,502.4C936.6,501.0 936.2,497.9 936.9,495.9Z" fill="#add8e6"/>
<path d="M977.9,484.7C979.5,483.6 985.4,482.2 989.1,481.9C992.8,481.6 998.3,482.1 1000.3,482.8C1002.2,483.5 1003.7,485.6 1002.1,486.6C1000.6,487.5 994.7,488.1 990.9,488.4C987.2,488.8 981.9,489.4 979.8,488.8C977.6,488.2 976.4,485.8 977.9,484.7Z" fill="#add8e6"/>
<path d="M1028.2,464.2C1029.7,463.6 1034.1,465.1 1037.5,466.1C1040.9,467.0 1045.6,468.6 1048.7,469.8C1051.8,471.0 1055.2,472.3 1056.1,473.5C1057.1,474.8 1056.1,476.9 1054.3,477.3C1052.4,477.6 1048.1,476.2 1045.0,475.4C1041.9,474.6 1038.4,473.5 1035.6,472.6C1032.8,471.7 1029.4,471.2 1028.2,469.8C1027.0,468.4 1026.6,464.8 1028.2,464.2Z" fill="#add8e6"/>
<path d="M924.8,445.6C925.6,445.0 929.3,444.3 930.4,444.7C931.5,445.0 932.1,446.8 931.3,447.5C930.6,448.1 926.8,448.7 925.8,448.4C924.7,448.1 924.0,446.2 924.8,445.6Z" fill="#ffffff"/>
<path d="M939.7,495.9C940.0,494.2 942.2,493.1 944.4,492.2C946.6,491.2 950.7,490.3 952.8,490.3C954.8,490.3 956.3,490.9 956.5,492.2C956.6,493.4 955.1,496.2 953.7,497.7C952.3,499.3 950.0,500.7 948.1,501.5C946.2,502.2 943.9,503.3 942.5,502.4C941.1,501.5 939.4,497.6 939.7,495.9Z" fill="#ffffff"/>
<path d="M949.0,435.3C949.0,435.3 955.6,435.3 955.6,435.3C955.6,435.3 961.7,443.5 963.0,445.6C964.3,447.7 965.2,449.6 964.9,450.2C964.6,450.9 962.8,450.3 961.1,449.3C959.5,448.3 956.6,446.1 954.6,443.7C952.6,441.4 949.0,435.3 949.0,435.3Z" fill="#ffffff"/>
</g>
<g mask="url(#m9)">
<rect x="1083.0" y="435.0" width="284.0" height="120.0" fill="#fff"/>
<path d="M1083.3,480.0C1083.3,480.0 1105.6,481.3 1112.2,481.0C1118.9,480.7 1121.8,479.3 1125.3,478.2C1128.7,477.1 1130.2,475.5 1132.7,474.5C1135.2,473.4 1136.2,471.7 1140.2,471.7C1144.1,471.7 1156.0,474.6 1162.5,474.5C1169.0,474.3 1173.7,472.4 1179.3,470.7C1184.9,469.0 1191.4,464.8 1196.0,464.2C1200.7,463.6 1204.3,465.5 1207.2,467.0C1210.1,468.5 1212.0,470.8 1213.2,473.2C1214.3,475.5 1214.9,479.1 1213.9,481.3C1212.9,483.6 1210.3,484.9 1207.2,486.9C1204.1,489.0 1196.6,491.2 1195.1,493.6C1193.6,496.1 1197.1,498.6 1198.3,501.5C1199.4,504.3 1200.4,507.9 1202.0,510.8C1203.5,513.6 1206.1,516.4 1207.6,518.6C1209.1,520.8 1211.0,522.0 1210.9,523.8C1210.9,525.6 1208.9,528.0 1207.2,529.4C1205.5,530.8 1202.0,532.7 1200.7,532.2C1199.4,531.7 1199.2,528.6 1199.4,526.6C1199.5,524.6 1201.9,522.1 1201.6,520.1C1201.4,518.1 1199.4,514.8 1197.9,514.5C1196.3,514.2 1194.2,517.9 1192.3,518.2C1190.4,518.5 1188.0,517.5 1186.7,516.4C1185.5,515.3 1186.4,513.1 1184.9,511.7C1183.3,510.3 1179.0,509.5 1177.4,508.0C1175.9,506.4 1177.4,503.7 1175.5,502.4C1173.7,501.1 1170.0,500.7 1166.2,500.0C1162.5,499.3 1156.9,499.0 1153.2,498.1C1149.5,497.2 1147.0,494.7 1143.9,494.4C1140.8,494.1 1137.4,496.2 1134.6,496.2C1131.8,496.2 1129.0,496.2 1127.1,494.4C1125.3,492.5 1125.3,485.8 1123.4,485.1C1121.5,484.4 1118.7,490.0 1115.9,490.3C1113.1,490.5 1109.7,487.3 1106.6,486.6C1103.5,485.8 1101.2,485.6 1097.3,485.6C1093.4,485.6 1083.3,486.6 1083.3,486.6C1083.3,486.6 1083.3,480.0 1083.3,480.0Z" fill="#add8e6"/>
<path d="M1083.3,511.7C1083.3,511.7 1091.6,510.6 1095.5,510.8C1099.3,510.9 1103.2,511.7 1106.6,512.6C1110.0,513.6 1112.8,515.4 1115.9,516.4C1119.0,517.3 1122.1,517.9 1125.3,518.2C1128.4,518.5 1132.2,517.6 1134.6,518.2C1136.9,518.8 1138.6,520.1 1139.2,522.0C1139.8,523.8 1139.7,527.9 1138.3,529.4C1136.9,531.0 1133.3,531.9 1130.8,531.3C1128.4,530.6 1126.2,527.2 1123.4,525.7C1120.6,524.1 1117.5,523.0 1114.1,522.0C1110.7,520.9 1106.6,519.5 1102.9,519.2C1099.2,518.8 1095.0,519.5 1091.7,520.1C1088.5,520.7 1083.3,522.9 1083.3,522.9C1083.3,522.9 1083.3,511.7 1083.3,511.7Z" fill="#add8e6"/>
<path d="M1091.7,495.9C1092.2,495.3 1095.3,496.0 1096.4,496.8C1097.5,497.6 1098.7,499.9 1098.2,500.5C1097.8,501.2 1094.7,501.3 1093.6,500.5C1092.5,499.8 1091.3,496.5 1091.7,495.9Z" fill="#add8e6"/>
<path d="M1105.7,502.4C1106.6,501.8 1111.0,502.6 1112.2,503.3C1113.5,504.1 1114.1,506.5 1113.1,507.1C1112.2,507.6 1107.9,507.5 1106.6,506.7C1105.4,505.9 1104.8,503.0 1105.7,502.4Z" fill="#add8e6"/>
<path d="M1126.2,507.1C1126.6,506.0 1129.1,505.3 1129.9,506.1C1130.7,506.9 1131.3,510.7 1130.8,511.7C1130.4,512.7 1127.9,513.0 1127.1,512.3C1126.3,511.5 1125.7,508.1 1126.2,507.1Z" fill="#add8e6"/>
<path d="M1140.2,498.1C1140.5,497.6 1142.3,497.3 1142.8,497.7C1143.2,498.1 1143.3,500.1 1142.9,500.5C1142.6,501.0 1141.0,500.9 1140.5,500.5C1140.1,500.1 1139.8,498.6 1140.2,498.1Z" fill="#add8e6"/>
<path d="M1293.8,522.0C1294.0,519.9 1295.5,516.4 1296.6,514.5C1297.7,512.6 1298.8,510.9 1300.3,510.8C1301.9,510.6 1304.1,512.2 1305.9,513.6C1307.8,515.0 1310.7,517.1 1311.5,519.2C1312.3,521.2 1312.1,524.3 1310.6,525.7C1309.0,527.1 1304.7,527.4 1302.2,527.5C1299.7,527.7 1297.1,527.5 1295.7,526.6C1294.3,525.7 1293.7,524.0 1293.8,522.0Z" fill="#add8e6"/>
<path d="M1138.3,486.6C1139.2,484.9 1144.2,482.1 1147.6,481.0C1151.0,479.9 1155.7,479.7 1158.8,480.0C1161.9,480.4 1164.1,483.0 1166.2,482.8C1168.4,482.7 1169.6,480.7 1171.8,479.1C1174.0,477.6 1176.5,475.4 1179.3,473.5C1182.1,471.7 1185.5,469.2 1188.6,467.9C1191.7,466.7 1194.8,465.9 1197.9,466.1C1201.0,466.2 1204.9,467.5 1207.2,468.9C1209.5,470.3 1211.1,472.4 1211.9,474.5C1212.6,476.5 1212.9,479.1 1211.9,481.0C1210.8,482.8 1208.0,484.2 1205.3,485.6C1202.7,487.0 1198.2,488.0 1196.0,489.4C1193.9,490.8 1192.5,492.0 1192.3,494.0C1192.1,496.0 1195.1,499.9 1195.1,501.5C1195.1,503.0 1193.7,503.9 1192.3,503.3C1190.9,502.7 1189.2,499.0 1186.7,497.7C1184.2,496.5 1180.5,496.0 1177.4,495.9C1174.3,495.7 1171.2,497.0 1168.1,496.8C1165.0,496.7 1161.9,495.4 1158.8,494.9C1155.7,494.5 1152.3,494.6 1149.5,494.0C1146.7,493.4 1143.9,492.5 1142.0,491.2C1140.2,490.0 1137.4,488.3 1138.3,486.6Z" fill="#00bfff"/>
<path d="M1129.9,519.5C1130.3,518.9 1132.2,518.6 1132.7,519.2C1133.2,519.7 1133.1,522.3 1132.7,522.9C1132.3,523.5 1130.7,523.4 1130.3,522.9C1129.8,522.3 1129.5,520.2 1129.9,519.5Z" fill="#00bfff"/>
<path d="M1108.1,504.4C1108.7,504.2 1111.5,504.2 1112.2,504.4C1112.9,504.7 1112.8,505.8 1112.2,506.1C1111.6,506.4 1109.2,506.4 1108.5,506.1C1107.8,505.8 1107.5,504.7 1108.1,504.4Z" fill="#00bfff"/>
<path d="M1296.6,522.9C1297.2,522.0 1299.2,520.8 1301.3,520.5C1303.3,520.2 1307.4,520.2 1308.7,521.0C1310.0,521.8 1310.4,524.4 1309.3,525.3C1308.2,526.2 1304.1,526.5 1302.2,526.6C1300.2,526.7 1298.5,526.7 1297.5,526.0C1296.6,525.4 1296.0,523.8 1296.6,522.9Z" fill="#00bfff"/>
<path d="M1164.4,484.7C1165.3,483.1 1169.3,482.5 1171.8,481.0C1174.3,479.4 1176.8,477.1 1179.3,475.4C1181.7,473.7 1183.9,472.0 1186.7,470.7C1189.5,469.5 1193.2,468.1 1196.0,467.9C1198.8,467.8 1201.3,468.6 1203.5,469.8C1205.7,471.0 1208.3,473.4 1209.1,475.4C1209.8,477.4 1209.4,480.2 1208.1,481.9C1206.9,483.6 1203.9,484.7 1201.6,485.6C1199.3,486.6 1196.2,486.4 1194.2,487.5C1192.1,488.6 1190.0,490.4 1189.5,492.2C1189.0,493.9 1191.8,497.1 1191.4,497.7C1190.9,498.4 1188.7,496.7 1186.7,495.9C1184.7,495.1 1181.7,493.4 1179.3,493.1C1176.8,492.8 1174.0,494.5 1171.8,494.0C1169.6,493.5 1167.5,491.8 1166.2,490.3C1165.0,488.7 1163.4,486.3 1164.4,484.7Z" fill="#6495ed"/>
<path d="M1083.3,479.1C1083.3,479.1 1094.4,479.9 1099.2,480.0C1104.0,480.2 1107.9,480.5 1112.2,480.0C1116.6,479.6 1121.8,478.3 1125.3,477.3C1128.7,476.2 1130.2,474.6 1132.7,473.5C1135.2,472.4 1137.0,470.9 1140.2,470.7C1143.3,470.6 1147.6,472.1 1151.3,472.6C1155.1,473.1 1159.1,473.2 1162.5,473.5C1165.9,473.8 1169.0,475.1 1171.8,474.5C1174.6,473.8 1176.8,471.4 1179.3,469.8C1181.7,468.2 1183.9,466.2 1186.7,465.1C1189.5,464.1 1192.6,463.1 1196.0,463.3C1199.4,463.4 1204.4,464.5 1207.2,466.1C1210.0,467.6 1211.7,470.1 1212.8,472.6C1213.9,475.1 1214.7,478.6 1213.7,481.0C1212.8,483.3 1209.5,485.0 1207.2,486.6C1204.9,488.1 1201.9,489.2 1199.8,490.3C1197.6,491.4 1194.5,491.2 1194.2,493.1C1193.9,494.9 1196.6,498.5 1197.9,501.5C1199.1,504.4 1200.1,508.0 1201.6,510.8C1203.2,513.6 1205.0,516.1 1207.2,518.2C1209.4,520.4 1211.5,522.6 1214.7,523.8C1217.8,525.0 1222.1,524.9 1225.8,525.3C1229.6,525.7 1233.3,525.7 1237.0,526.0C1240.7,526.4 1244.5,527.1 1248.2,527.5C1251.9,527.9 1255.6,528.5 1259.4,528.5C1263.1,528.5 1266.8,528.0 1270.5,527.5C1274.3,527.1 1278.3,526.9 1281.7,525.7C1285.1,524.4 1288.2,522.4 1291.0,520.1C1293.8,517.8 1296.3,512.8 1298.5,511.7C1300.6,510.6 1301.9,512.5 1304.1,513.6C1306.2,514.7 1309.0,517.8 1311.5,518.2C1314.0,518.7 1316.5,516.1 1319.0,516.4C1321.4,516.7 1323.3,518.7 1326.4,520.1C1329.5,521.5 1333.9,523.5 1337.6,524.7C1341.3,526.0 1345.3,526.9 1348.8,527.5C1352.2,528.2 1355.0,528.2 1358.1,528.5C1361.2,528.8 1367.4,529.4 1367.4,529.4C1367.4,529.4 1367.4,435.3 1367.4,435.3C1367.4,435.3 1083.3,435.3 1083.3,435.3C1083.3,435.3 1083.3,479.1 1083.3,479.1Z" fill="none" stroke="#00bfff" stroke-width="7.4" stroke-linejoin="round"/>
<path d="M1083.3,479.1C1083.3,479.1 1094.4,479.9 1099.2,480.0C1104.0,480.2 1107.9,480.5 1112.2,480.0C1116.6,479.6 1121.8,478.3 1125.3,477.3C1128.7,476.2 1130.2,474.6 1132.7,473.5C1135.2,472.4 1137.0,470.9 1140.2,470.7C1143.3,470.6 1147.6,472.1 1151.3,472.6C1155.1,473.1 1159.1,473.2 1162.5,473.5C1165.9,473.8 1169.0,475.1 1171.8,474.5C1174.6,473.8 1176.8,471.4 1179.3,469.8C1181.7,468.2 1183.9,466.2 1186.7,465.1C1189.5,464.1 1192.6,463.1 1196.0,463.3C1199.4,463.4 1204.4,464.5 1207.2,466.1C1210.0,467.6 1211.7,470.1 1212.8,472.6C1213.9,475.1 1214.7,478.6 1213.7,481.0C1212.8,483.3 1209.5,485.0 1207.2,486.6C1204.9,488.1 1201.9,489.2 1199.8,490.3C1197.6,491.4 1194.5,491.2 1194.2,493.1C1193.9,494.9 1196.6,498.5 1197.9,501.5C1199.1,504.4 1200.1,508.0 1201.6,510.8C1203.2,513.6 1205.0,516.1 1207.2,518.2C1209.4,520.4 1211.5,522.6 1214.7,523.8C1217.8,525.0 1222.1,524.9 1225.8,525.3C1229.6,525.7 1233.3,525.7 1237.0,526.0C1240.7,526.4 1244.5,527.1 1248.2,527.5C1251.9,527.9 1255.6,528.5 1259.4,528.5C1263.1,528.5 1266.8,528.0 1270.5,527.5C1274.3,527.1 1278.3,526.9 1281.7,525.7C1285.1,524.4 1288.2,522.4 1291.0,520.1C1293.8,517.8 1296.3,512.8 1298.5,511.7C1300.6,510.6 1301.9,512.5 1304.1,513.6C1306.2,514.7 1309.0,517.8 1311.5,518.2C1314.0,518.7 1316.5,516.1 1319.0,516.4C1321.4,516.7 1323.3,518.7 1326.4,520.1C1329.5,521.5 1333.9,523.5 1337.6,524.7C1341.3,526.0 1345.3,526.9 1348.8,527.5C1352.2,528.2 1355.0,528.2 1358.1,528.5C1361.2,528.8 1367.4,529.4 1367.4,529.4C1367.4,529.4 1367.4,435.3 1367.4,435.3C1367.4,435.3 1083.3,435.3 1083.3,435.3C1083.3,435.3 1083.3,479.1 1083.3,479.1Z" fill="none" stroke="#6495ed" stroke-width="4.4" stroke-linejoin="round"/>
<path d="M1083.3,479.1C1083.3,479.1 1094.4,479.9 1099.2,480.0C1104.0,480.2 1107.9,480.5 1112.2,480.0C1116.6,479.6 1121.8,478.3 1125.3,477.3C1128.7,476.2 1130.2,474.6 1132.7,473.5C1135.2,472.4 1137.0,470.9 1140.2,470.7C1143.3,470.6 1147.6,472.1 1151.3,472.6C1155.1,473.1 1159.1,473.2 1162.5,473.5C1165.9,473.8 1169.0,475.1 1171.8,474.5C1174.6,473.8 1176.8,471.4 1179.3,469.8C1181.7,468.2 1183.9,466.2 1186.7,465.1C1189.5,464.1 1192.6,463.1 1196.0,463.3C1199.4,463.4 1204.4,464.5 1207.2,466.1C1210.0,467.6 1211.7,470.1 1212.8,472.6C1213.9,475.1 1214.7,478.6 1213.7,481.0C1212.8,483.3 1209.5,485.0 1207.2,486.6C1204.9,488.1 1201.9,489.2 1199.8,490.3C1197.6,491.4 1194.5,491.2 1194.2,493.1C1193.9,494.9 1196.6,498.5 1197.9,501.5C1199.1,504.4 1200.1,508.0 1201.6,510.8C1203.2,513.6 1205.0,516.1 1207.2,518.2C1209.4,520.4 1211.5,522.6 1214.7,523.8C1217.8,525.0 1222.1,524.9 1225.8,525.3C1229.6,525.7 1233.3,525.7 1237.0,526.0C1240.7,526.4 1244.5,527.1 1248.2,527.5C1251.9,527.9 1255.6,528.5 1259.4,528.5C1263.1,528.5 1266.8,528.0 1270.5,527.5C1274.3,527.1 1278.3,526.9 1281.7,525.7C1285.1,524.4 1288.2,522.4 1291.0,520.1C1293.8,517.8 1296.3,512.8 1298.5,511.7C1300.6,510.6 1301.9,512.5 1304.1,513.6C1306.2,514.7 1309.0,517.8 1311.5,518.2C1314.0,518.7 1316.5,516.1 1319.0,516.4C1321.4,516.7 1323.3,518.7 1326.4,520.1C1329.5,521.5 1333.9,523.5 1337.6,524.7C1341.3,526.0 1345.3,526.9 1348.8,527.5C1352.2,528.2 1355.0,528.2 1358.1,528.5C1361.2,528.8 1367.4,529.4 1367.4,529.4C1367.4,529.4 1367.4,435.3 1367.4,435.3C1367.4,435.3 1083.3,435.3 1083.3,435.3C1083.3,435.3 1083.3,479.1 1083.3,479.1Z" fill="#000080" stroke="#0000cd" stroke-width="2.0" stroke-linejoin="round" paint-order="stroke"/>
<path d="M1233.3,453.4C1233.9,452.6 1236.8,452.4 1237.6,453.0C1238.3,453.7 1238.6,456.5 1237.9,457.3C1237.3,458.1 1234.4,458.3 1233.7,457.7C1232.9,457.0 1232.6,454.2 1233.3,453.4Z" fill="#0000cd"/>
<path d="M1261.2,459.0C1262.1,457.8 1266.3,457.5 1267.4,458.6C1268.4,459.7 1268.7,464.5 1267.7,465.7C1266.8,466.9 1262.9,467.2 1261.8,466.1C1260.7,465.0 1260.3,460.2 1261.2,459.0Z" fill="#0000cd"/>
<path d="M1351.6,441.3C1352.2,440.7 1355.1,440.4 1355.8,440.9C1356.6,441.4 1356.8,443.7 1356.2,444.3C1355.6,444.9 1352.9,445.2 1352.1,444.7C1351.3,444.2 1350.9,441.9 1351.6,441.3Z" fill="#0000cd"/>
<path d="M1294.7,481.3C1295.5,480.7 1299.0,480.5 1300.0,481.0C1300.9,481.5 1301.1,483.7 1300.3,484.3C1299.5,484.9 1296.0,485.2 1295.1,484.7C1294.2,484.2 1293.9,482.0 1294.7,481.3Z" fill="#0000cd"/>
<path d="M1272.4,527.5C1273.3,526.5 1277.7,525.1 1279.8,524.7C1282.0,524.4 1285.1,524.7 1285.4,525.7C1285.7,526.6 1283.6,529.5 1281.7,530.3C1279.8,531.2 1275.8,531.4 1274.3,530.9C1272.7,530.4 1271.5,528.6 1272.4,527.5Z" fill="#6495ed"/>
<path d="M1258.4,447.8C1259.4,447.0 1263.5,446.8 1264.6,447.5C1265.7,448.1 1265.9,451.0 1264.9,451.7C1264.0,452.5 1260.1,452.8 1259.0,452.1C1257.9,451.5 1257.5,448.6 1258.4,447.8Z" fill="#6495ed"/>
<path d="M1265.9,453.4C1266.8,452.5 1270.9,452.2 1272.0,453.0C1273.1,453.8 1273.3,457.3 1272.4,458.3C1271.5,459.2 1267.5,459.4 1266.4,458.6C1265.3,457.8 1264.9,454.3 1265.9,453.4Z" fill="#6495ed"/>
<path d="M1243.5,458.1C1244.1,457.1 1247.0,456.9 1247.8,457.7C1248.6,458.5 1248.8,462.0 1248.2,462.9C1247.6,463.8 1244.9,464.1 1244.1,463.3C1243.3,462.5 1242.9,459.0 1243.5,458.1Z" fill="#6495ed"/>
<path d="M1258.4,483.2C1259.0,482.6 1261.9,482.3 1262.7,482.8C1263.5,483.3 1263.7,485.6 1263.1,486.2C1262.5,486.8 1259.8,487.1 1259.0,486.6C1258.2,486.1 1257.8,483.8 1258.4,483.2Z" fill="#6495ed"/>
<path d="M1181.1,473.5C1182.2,472.3 1185.8,471.2 1188.6,470.7C1191.4,470.3 1196.0,470.0 1197.9,470.7C1199.8,471.5 1200.4,474.0 1199.8,475.4C1199.1,476.8 1196.3,478.3 1194.2,479.1C1192.0,479.9 1188.7,480.2 1186.7,480.0C1184.7,479.9 1183.0,479.3 1182.1,478.2C1181.1,477.1 1180.0,474.8 1181.1,473.5Z" fill="#00bfff"/>
<path d="M1248.2,508.0C1248.5,507.4 1249.7,507.4 1250.0,508.0C1250.4,508.6 1250.3,511.1 1250.0,511.7C1249.8,512.3 1248.7,512.3 1248.4,511.7C1248.1,511.1 1247.9,508.6 1248.2,508.0Z" fill="#00bfff"/>
<path d="M1200.7,475.4C1201.2,473.9 1203.9,473.0 1205.3,473.2C1206.7,473.3 1208.8,475.0 1209.1,476.3C1209.4,477.6 1208.4,480.0 1207.2,481.0C1206.0,481.9 1203.1,482.8 1202.0,481.9C1200.9,481.0 1200.1,476.8 1200.7,475.4Z" fill="#add8e6"/>
</g>
<g mask="url(#m10)">
<rect x="1357.0" y="435.0" width="119.0" height="120.0" fill="#fff"/>
<path d="M1425.2,435.3C1425.2,435.3 1434.5,435.3 1434.5,435.3C1434.5,435.3 1435.0,446.4 1435.0,451.2C1435.0,456.0 1434.9,460.3 1434.5,464.2C1434.1,468.1 1433.4,473.8 1432.6,474.5C1431.8,475.1 1430.7,470.6 1429.8,467.9C1428.9,465.3 1428.1,461.4 1427.0,458.6C1425.9,455.8 1423.6,453.7 1423.3,451.2C1423.0,448.7 1424.9,446.4 1425.2,443.7C1425.5,441.1 1425.2,435.3 1425.2,435.3Z" fill="#add8e6"/>
<path d="M1425.7,443.7C1426.6,442.2 1429.0,440.0 1429.8,441.9C1430.7,443.7 1430.4,450.6 1430.7,454.9C1431.1,459.2 1432.1,466.7 1432.1,467.9C1432.0,469.1 1430.4,468.1 1429.8,467.0C1429.3,465.9 1427.9,460.9 1427.0,458.3C1426.2,455.6 1424.8,453.6 1424.6,451.2C1424.4,448.8 1424.9,445.3 1425.7,443.7Z" fill="#00bfff"/>
<path d="M1434.3,520.1L1438.2,516.2L1442.1,520.1L1438.2,524.0Z" fill="#00bfff"/>
<path d="M1428.0,435.3C1428.0,435.3 1425.2,441.1 1424.2,443.7C1423.3,446.4 1421.9,448.7 1422.4,451.2C1422.8,453.7 1425.8,455.8 1427.0,458.6C1428.3,461.4 1428.7,465.1 1429.8,467.9C1430.9,470.7 1432.7,472.3 1433.5,475.4C1434.4,478.5 1434.7,482.5 1435.0,486.6C1435.3,490.6 1435.3,494.9 1435.4,499.6C1435.5,504.3 1435.6,510.5 1435.4,514.5C1435.3,518.5 1434.9,521.0 1434.5,523.8C1434.0,526.6 1434.9,529.9 1432.6,531.3C1430.3,532.7 1424.1,532.2 1420.5,532.2C1416.9,532.2 1414.3,531.4 1411.2,531.3C1408.1,531.1 1405.3,531.3 1401.9,531.3C1398.5,531.3 1393.8,531.7 1390.7,531.3C1387.6,530.8 1385.7,529.7 1383.3,528.5C1380.8,527.2 1378.3,524.1 1375.8,523.8C1373.3,523.5 1371.1,525.7 1368.4,526.6C1365.6,527.5 1359.0,529.0 1359.0,529.0C1359.0,529.0 1346.0,530.3 1346.0,530.3C1346.0,530.3 1318.1,531.3 1318.1,531.3C1318.1,531.3 1318.1,435.3 1318.1,435.3C1318.1,435.3 1428.0,435.3 1428.0,435.3Z" fill="none" stroke="#00bfff" stroke-width="7.4" stroke-linejoin="round"/>
<path d="M1428.0,435.3C1428.0,435.3 1425.2,441.1 1424.2,443.7C1423.3,446.4 1421.9,448.7 1422.4,451.2C1422.8,453.7 1425.8,455.8 1427.0,458.6C1428.3,461.4 1428.7,465.1 1429.8,467.9C1430.9,470.7 1432.7,472.3 1433.5,475.4C1434.4,478.5 1434.7,482.5 1435.0,486.6C1435.3,490.6 1435.3,494.9 1435.4,499.6C1435.5,504.3 1435.6,510.5 1435.4,514.5C1435.3,518.5 1434.9,521.0 1434.5,523.8C1434.0,526.6 1434.9,529.9 1432.6,531.3C1430.3,532.7 1424.1,532.2 1420.5,532.2C1416.9,532.2 1414.3,531.4 1411.2,531.3C1408.1,531.1 1405.3,531.3 1401.9,531.3C1398.5,531.3 1393.8,531.7 1390.7,531.3C1387.6,530.8 1385.7,529.7 1383.3,528.5C1380.8,527.2 1378.3,524.1 1375.8,523.8C1373.3,523.5 1371.1,525.7 1368.4,526.6C1365.6,527.5 1359.0,529.0 1359.0,529.0C1359.0,529.0 1346.0,530.3 1346.0,530.3C1346.0,530.3 1318.1,531.3 1318.1,531.3C1318.1,531.3 1318.1,435.3 1318.1,435.3C1318.1,435.3 1428.0,435.3 1428.0,435.3Z" fill="none" stroke="#6495ed" stroke-width="4.4" stroke-linejoin="round"/>
<path d="M1428.0,435.3C1428.0,435.3 1425.2,441.1 1424.2,443.7C1423.3,446.4 1421.9,448.7 1422.4,451.2C1422.8,453.7 1425.8,455.8 1427.0,458.6C1428.3,461.4 1428.7,465.1 1429.8,467.9C1430.9,470.7 1432.7,472.3 1433.5,475.4C1434.4,478.5 1434.7,482.5 1435.0,486.6C1435.3,490.6 1435.3,494.9 1435.4,499.6C1435.5,504.3 1435.6,510.5 1435.4,514.5C1435.3,518.5 1434.9,521.0 1434.5,523.8C1434.0,526.6 1434.9,529.9 1432.6,531.3C1430.3,532.7 1424.1,532.2 1420.5,532.2C1416.9,532.2 1414.3,531.4 1411.2,531.3C1408.1,531.1 1405.3,531.3 1401.9,531.3C1398.5,531.3 1393.8,531.7 1390.7,531.3C1387.6,530.8 1385.7,529.7 1383.3,528.5C1380.8,527.2 1378.3,524.1 1375.8,523.8C1373.3,523.5 1371.1,525.7 1368.4,526.6C1365.6,527.5 1359.0,529.0 1359.0,529.0C1359.0,529.0 1346.0,530.3 1346.0,530.3C1346.0,530.3 1318.1,531.3 1318.1,531.3C1318.1,531.3 1318.1,435.3 1318.1,435.3C1318.1,435.3 1428.0,435.3 1428.0,435.3Z" fill="#000080" stroke="#0000cd" stroke-width="2.0" stroke-linejoin="round" paint-order="stroke"/>
<path d="M1435.4,520.1L1438.2,517.3L1441.0,520.1L1438.2,522.9Z" fill="#000080"/>
<path d="M1352.5,441.3C1352.5,441.3 1355.9,440.9 1355.9,440.9C1355.9,440.9 1356.2,444.3 1356.2,444.3C1356.2,444.3 1353.1,444.7 1353.1,444.7C1353.1,444.7 1352.5,441.3 1352.5,441.3Z" fill="#0000cd"/>
<path d="M1365.6,529.4C1365.1,528.2 1369.3,525.8 1371.1,524.7C1373.0,523.7 1374.7,522.4 1376.7,522.9C1378.8,523.3 1381.9,526.1 1383.3,527.5C1384.7,529.0 1386.7,530.9 1385.1,531.6C1383.6,532.4 1377.2,532.6 1373.9,532.2C1370.7,531.8 1366.0,530.6 1365.6,529.4Z" fill="#6495ed"/>
</g>
<g class="bd">
<path d="M79.5,9.5L81.8,15.0L79.5,22.0L75.8,26.2L75.8,30.0L77.5,33.0L80.5,34.5"/>
<path d="M75.8,41.2L79.5,39.5L82.0,35.0L86.2,30.0L90.0,30.5L95.0,33.8L102.5,33.8L110.0,35.0L115.0,36.8L117.0,35.0L113.8,33.2L107.5,32.5L110.0,30.5L115.0,30.0L122.5,32.0L127.5,33.8L128.8,37.5L132.5,43.0L136.2,46.5L142.5,45.0L150.0,43.0L156.2,40.0L162.5,32.5L168.0,25.0L174.2,21.8L180.0,21.5L192.5,20.5L200.0,15.5L205.0,12.5L212.5,11.8L213.8,15.5L215.5,18.8L217.5,26.2L221.2,23.8L221.2,35.0L220.0,52.5L226.2,56.2L228.0,65.0L230.0,67.5L231.2,61.2L237.5,60.0L243.8,55.5L246.2,62.5L244.5,77.5L245.5,86.2L243.8,92.5L244.5,103.8L240.0,108.8L233.8,114.5L231.2,120.0L230.0,125.0L226.2,131.2L223.2,138.8L221.8,147.5"/>
<path d="M170.8,9.5L172.5,15.5L174.2,21.8"/>
<path d="M235.0,9.5L241.2,20.0L243.8,31.2L247.5,42.5L252.5,57.5L257.5,75.0L257.5,77.5L246.2,80.0L245.5,86.2"/>
<path d="M257.5,75.0L258.8,71.2L267.5,67.5L275.0,68.0L282.5,67.5L285.8,69.5L288.8,65.5L290.0,60.0L293.0,53.8L292.0,50.0L295.0,40.0L298.8,31.2L302.5,23.8L307.5,17.5L311.8,10.0"/>
<path d="M223.2,148.0L225.0,151.0L228.0,149.2L230.0,150.5L227.5,155.5L224.2,160.5L221.2,169.2L215.5,180.5L207.5,188.0L198.8,191.8L196.2,196.8L195.8,204.2L193.8,210.0L198.8,212.5L202.0,219.2L207.0,220.5L206.2,228.0L204.5,235.0L198.8,240.5L193.8,246.8L189.5,250.5L191.2,256.8L187.5,265.5L183.8,271.8L177.0,275.0L176.2,278.0L179.5,282.2"/>
<path d="M95.8,295.5L103.8,292.5L110.0,285.0L120.0,283.0L135.0,283.8L155.0,283.0L179.5,282.2L187.5,278.8L193.8,279.8L197.5,283.0L206.2,284.2L211.2,289.2L213.8,295.5"/>
<path d="M75.8,310.2L85.0,304.0L97.5,296.0"/>
<path d="M213.2,296.0L216.2,304.8L220.0,313.5L226.2,321.0L233.8,324.8L240.5,327.2"/>
<path d="M367.5,322.2L355.0,325.5L342.5,329.2L332.5,328.5L322.5,329.8L312.5,332.8L300.0,338.5L290.0,341.8L282.5,339.8L277.5,335.5L275.0,329.8L274.5,324.8L268.8,319.8L261.2,316.0L252.5,318.0L246.2,323.5L240.5,327.2L235.0,333.5L231.2,342.2L227.5,349.8L220.0,357.2L213.8,366.0L205.0,372.2L196.2,379.8L191.2,387.2L188.8,396.0L187.0,407.2L186.2,411.0L190.0,415.5L200.0,418.5L207.5,423.5L212.5,426.5L222.5,426.0L231.2,425.5L237.5,428.5L238.8,433.5L238.8,443.5"/>
<path d="M238.8,443.0L237.5,448.0L237.5,454.2L233.0,461.8L231.2,469.2L233.8,478.0L241.2,485.5L245.0,491.8L252.5,495.0L262.5,494.8L271.2,492.5L275.0,494.2L276.2,499.2L275.8,514.2L280.0,520.5L282.5,525.5L290.0,532.5L292.5,539.2L294.5,547.5"/>
<path d="M608.0,10.0L600.5,12.5L590.5,16.2L585.5,20.0L575.5,25.0L569.2,31.2L566.8,37.5L570.0,43.8L573.0,51.2L575.0,58.8L571.8,65.0L569.2,72.5L568.0,80.0L571.8,83.8L579.2,85.8L573.0,91.2L563.0,96.2L554.2,101.2L549.2,107.5L540.5,116.2L534.2,122.5L531.8,128.8L523.0,136.2L518.0,141.2L523.0,147.5"/>
<path d="M648.0,10.0L660.5,13.8L671.8,18.8L679.2,27.5L675.5,30.5L681.8,40.0L688.0,51.2L693.0,65.0L700.5,68.0L708.0,60.0L714.2,68.8L723.0,71.2L728.0,75.0L726.8,86.2L730.5,92.5L735.5,96.2"/>
<path d="M878.3,9.7L882.9,14.9L888.5,18.3L887.6,23.3L885.7,29.8L883.3,33.5L885.7,39.1L891.3,42.5L894.5,46.2L890.4,50.3L884.8,54.4L889.4,58.1L888.5,64.3L889.4,69.3L896.0,69.8L901.5,71.7L907.1,61.5L913.6,56.8L918.3,59.2L923.0,64.3L927.6,69.8L929.5,74.5L933.2,80.1L937.9,87.5L941.6,90.9L945.3,93.1L950.0,96.5L957.4,95.0L964.9,93.7L972.3,95.4L976.0,99.6L982.6,103.4L989.1,108.0L994.7,107.7L997.5,110.3"/>
<path d="M814.0,91.3L817.7,86.6L827.0,79.2L834.5,79.2L844.7,74.5L854.0,69.8L861.5,70.8L869.9,75.4L877.3,74.5L891.3,76.0L896.0,82.0L903.4,83.3L908.1,81.0L906.2,76.4L901.5,71.7"/>
<path d="M540.0,170.0L554.9,170.5L568.9,172.4L579.1,173.3L586.6,170.0L592.2,169.2L597.7,171.5L602.4,175.2L608.9,177.1L612.3,173.3L614.1,180.8L619.2,180.4L622.0,186.4L619.7,192.0L622.9,198.5L626.0,200.7L629.4,194.7L634.1,188.2L639.6,182.6L648.0,183.6L655.5,185.1L662.9,182.3L670.4,183.6L674.1,186.7L681.6,186.4L689.0,183.6L694.6,180.4L698.3,175.2L696.5,160.3L698.3,158.1L703.9,159.4L708.6,155.6L712.3,153.8L714.1,158.4L718.8,160.3L726.3,155.6L729.0,151.9L722.5,151.3L721.6,149.1L726.3,147.3L732.8,143.5L737.4,137.9L743.0,136.1L747.7,137.9L749.5,130.5L748.6,119.3L743.9,115.6L740.2,114.7"/>
<path d="M568.9,172.4L569.8,178.0L565.1,181.7L566.1,187.3L574.5,188.2L574.5,197.5L575.4,206.9L569.8,210.6L574.5,217.1L580.0,218.0L588.4,214.3L597.7,215.2L601.5,220.3"/>
<path d="M777.5,130.9L782.1,132.4L790.5,135.1L800.8,137.9L801.7,143.5L797.0,149.1L789.6,156.6L782.1,164.0L773.7,171.5L770.0,180.8L768.2,188.2L762.6,199.4L761.6,206.9L766.3,210.6L768.2,220.3"/>
<path d="M800.8,137.9L808.2,140.2L814.7,143.5"/>
<path d="M790.5,135.1L800.8,135.1L808.2,133.3L814.7,130.5"/>
<path d="M814.0,143.5L821.5,146.3L828.5,150.0L825.2,155.6L817.7,162.2L814.0,169.6L815.9,180.8L819.6,192.0L823.3,190.1L828.9,188.2L834.5,192.0L841.0,193.8L846.6,191.0L847.5,184.5L844.7,177.1L846.6,171.5L851.3,172.4L855.9,177.1L860.6,184.5L868.0,188.2L872.7,193.8L877.3,199.4L882.9,204.1L890.4,207.8L897.8,210.6L902.5,212.1L899.7,216.2L894.1,218.0L888.5,220.3"/>
<path d="M997.5,110.0L1000.3,112.8L997.5,117.5L999.3,121.2L997.5,124.9L1005.8,126.8L1015.2,129.6L1024.5,132.4L1031.0,134.2L1037.5,137.9L1042.2,141.7L1048.7,145.4L1056.1,147.3L1059.9,150.0L1062.6,156.6L1065.4,163.1L1066.4,165.9L1061.7,168.7L1059.9,173.3L1063.6,178.9L1064.5,184.5L1061.7,188.2L1052.4,190.1L1044.0,192.9L1040.3,196.6L1042.2,201.3L1040.3,204.1L1045.0,206.9L1051.5,211.5L1046.8,215.2L1042.2,217.1L1040.3,220.3"/>
<path d="M1059.9,150.0L1058.0,153.8L1052.4,154.7L1050.5,151.9L1047.7,155.6L1042.2,160.3L1034.7,166.8L1027.3,171.5L1024.5,177.1L1018.9,182.6L1012.4,185.4L1010.5,189.2L1013.3,194.7L1011.4,201.3L1006.8,205.0L1002.1,209.6L999.9,212.4L1002.1,217.1L1004.0,220.3"/>
<path d="M1066.4,165.9L1072.0,166.8L1076.6,165.9L1077.6,163.1L1082.2,164.0L1088.7,165.9"/>
<path d="M1088.7,142.6L1085.9,147.3L1086.9,154.7L1083.1,157.5L1079.4,159.4L1082.2,164.0"/>
<path d="M1088.0,151.0L1088.0,138.9L1092.7,141.7L1099.2,140.7L1104.8,136.1L1112.2,137.9L1119.7,140.2L1127.1,139.8L1133.6,142.6L1142.0,142.6L1142.9,150.0L1146.7,154.7L1145.7,160.3L1150.4,163.1L1156.9,164.9L1162.5,166.8L1170.0,170.5L1175.5,174.3L1181.1,178.9L1185.8,181.7L1186.7,185.4L1191.4,188.2L1196.0,192.0L1199.8,193.4L1204.4,192.0L1210.9,194.7L1215.6,199.4L1221.2,196.0L1226.8,197.5L1231.4,202.2L1230.5,206.9L1236.1,207.8L1238.9,213.4L1243.5,220.3"/>
<path d="M1088.0,165.9L1092.7,167.7L1094.5,174.3L1098.2,175.6L1103.8,172.4L1110.4,171.5L1115.9,174.3L1117.8,176.1L1115.0,184.5L1113.1,194.7L1117.8,199.4L1117.8,204.1L1114.1,209.6L1114.1,216.2L1106.6,217.1L1101.0,216.2L1095.5,220.3"/>
<path d="M601.5,220.0L604.3,222.2L611.7,224.7L620.1,222.2L627.5,220.9L632.2,223.7L635.0,228.4L635.9,234.0L639.6,239.6L644.3,244.2L642.4,249.8L645.2,257.3L649.9,267.5L656.4,276.8L664.8,286.1L674.1,289.8L680.6,297.3L687.1,305.7L683.4,308.5L676.9,311.3L680.6,315.0L678.8,319.6L676.0,323.4L678.8,327.1L681.6,330.3"/>
<path d="M692.7,330.3L693.7,318.7L696.5,314.1L702.0,312.2L705.8,309.4L703.9,304.7L711.4,306.6L715.1,311.3L718.8,315.0L723.5,316.9L728.1,314.1L733.7,309.4L740.2,304.7L744.9,302.0L749.5,304.7L752.3,311.3L752.3,320.6L753.3,330.3"/>
<path d="M753.3,257.3L756.1,254.5L763.5,253.2L771.0,254.5L773.7,257.3L778.4,261.9L781.2,268.4L782.1,274.0L785.9,279.6L780.3,281.5L774.7,282.4L772.8,285.2L766.3,282.4L759.8,279.6L754.2,277.7L747.7,279.6L743.9,274.9L750.5,271.2L753.3,264.7L753.3,257.3"/>
<path d="M768.2,220.0L767.2,229.3L769.1,238.6L772.8,247.9L773.7,257.3"/>
<path d="M785.9,279.6L790.5,284.3L793.3,290.8L794.2,298.2L797.0,303.8L793.3,309.4L791.4,315.9L794.2,320.6L798.0,323.4L797.0,330.3"/>
<path d="M886.6,220.0L888.5,222.8L896.0,225.6L901.5,234.0L910.9,232.1L918.3,234.0L922.0,238.6L933.2,245.1L937.9,247.9L942.5,254.5L951.8,253.5L961.1,253.2L968.6,253.2L973.2,257.3L977.9,259.1L981.6,262.8L986.3,261.9L989.1,257.3L986.3,254.5L986.3,249.8L991.9,242.4L992.8,237.7L998.4,234.0L1001.2,228.4L1004.9,225.6L1004.9,220.0"/>
<path d="M989.1,257.3L996.5,261.0L1002.1,265.6L1007.7,269.4L1015.2,272.2L1020.7,275.9L1021.1,270.3L1024.5,267.5L1030.1,271.2L1037.5,275.9L1045.0,279.6L1051.5,284.3L1058.0,287.1L1062.6,289.8L1069.2,291.7L1074.8,296.4L1079.4,302.0L1082.2,309.4L1086.9,307.5L1088.7,305.7"/>
<path d="M1024.5,267.5L1023.5,257.3L1020.7,246.1L1022.6,238.6L1028.2,232.1L1035.6,227.5L1039.4,222.8L1040.3,220.0"/>
<path d="M1062.6,289.8L1065.4,285.2L1072.9,277.7L1078.5,272.2L1081.3,266.6L1078.5,257.3L1073.8,254.5L1070.1,255.4L1066.4,252.6L1060.8,250.7L1058.4,247.9L1061.7,245.1L1069.2,247.0L1078.5,249.8L1088.7,250.7"/>
<path d="M1095.5,220.0L1096.4,228.4L1101.0,234.0L1102.9,238.6L1112.2,242.4L1123.4,245.1L1131.8,244.2L1136.4,242.4L1140.2,244.2L1147.6,238.6L1156.9,235.8L1164.4,236.4L1167.2,242.4L1174.6,243.3L1181.1,246.1L1186.7,250.7L1189.5,255.4L1196.0,257.3L1204.4,257.3L1212.8,260.0L1222.1,263.8L1231.4,264.7L1240.7,262.5L1247.2,259.1L1251.0,251.7L1256.6,242.4L1259.4,234.9L1260.3,231.2L1253.8,230.2L1250.0,227.5L1247.2,222.8L1243.5,220.0"/>
<path d="M1101.0,234.0L1095.5,236.8L1090.8,241.4L1090.8,246.1L1094.5,251.7L1099.2,257.3L1102.5,260.0L1100.1,262.5L1097.3,259.1L1093.6,252.6L1088.0,250.7"/>
<path d="M1260.3,231.2L1264.9,226.5L1272.4,224.7L1279.8,221.9L1287.3,222.8L1293.8,225.6L1298.5,233.0L1300.3,238.6L1304.1,244.2L1303.1,249.8L1311.5,253.5L1317.1,257.3L1320.8,262.8L1328.3,265.6L1335.7,269.4L1339.4,274.0L1346.9,276.8L1354.3,277.7L1359.9,274.9L1362.7,274.4"/>
<path d="M1303.1,249.8L1294.7,252.6L1287.3,256.3L1279.8,259.1L1271.5,264.7L1274.3,271.2L1272.4,275.9L1267.7,283.3L1264.0,288.9L1265.9,294.5L1270.5,300.1L1267.7,306.6L1263.1,313.1L1256.6,317.8L1250.0,320.6L1244.5,322.1L1248.2,324.3L1255.6,324.3L1266.8,325.2L1276.1,327.7L1285.4,327.1L1294.7,329.0L1304.1,330.3"/>
<path d="M1176.5,246.1L1171.8,253.5L1162.5,259.1L1153.2,265.6L1147.6,272.2L1138.3,273.1L1135.5,277.7L1136.4,283.3L1132.7,286.1L1133.6,292.6L1139.2,296.4L1141.1,301.0L1137.4,305.7L1142.0,312.2L1147.6,316.9L1147.6,322.4L1142.0,326.2L1134.6,327.1L1128.0,330.3"/>
<path d="M1222.1,263.8L1219.3,269.4L1212.8,272.2L1207.2,274.9L1205.3,279.6L1203.5,283.3L1206.3,288.9L1210.9,293.6L1217.4,299.2L1222.1,300.1L1229.6,302.9L1237.0,307.5L1245.4,310.3L1251.9,314.1L1254.7,317.8"/>
<path d="M1217.4,299.2L1212.8,303.8L1210.9,311.3L1208.1,316.9L1210.0,321.5L1203.5,325.2L1196.0,330.3"/>
<path d="M1362.7,302.9L1354.3,309.4L1348.8,315.0L1343.2,324.3L1341.3,330.3"/>
<path d="M1328.3,330.3L1332.0,328.0L1335.7,330.3"/>
<path d="M1354.4,278.1L1359.0,275.9L1362.8,272.2L1366.5,270.7L1372.1,273.1L1375.4,274.9L1373.9,279.6L1370.2,283.3L1368.4,288.9L1368.7,294.5L1373.9,296.4L1381.4,298.2L1388.8,297.3L1394.4,296.7L1401.9,297.3L1408.4,299.2L1413.1,295.4L1414.9,294.5L1415.8,299.2L1421.4,304.7L1428.0,308.5L1431.7,315.0L1434.5,321.5L1436.3,327.1L1441.0,328.0L1445.6,324.3L1443.8,316.9L1444.7,311.3L1451.2,307.5"/>
<path d="M679.7,330.0L687.1,331.1L695.5,331.9L697.4,330.0"/>
<path d="M753.3,330.0L751.4,335.6L749.5,341.2L752.3,343.0L757.0,339.3L762.6,337.5L760.7,333.7L765.4,334.7L772.8,332.8L778.4,330.9L782.1,330.0"/>
<path d="M778.4,330.9L780.3,339.3L782.1,348.6L786.8,357.9L794.2,365.4L800.8,370.0L804.5,376.6L800.8,382.2L798.0,387.7L804.5,391.5L811.0,393.3L811.9,396.1L804.5,399.8L796.1,402.6L788.6,406.4L786.8,410.1L789.6,412.9L797.0,408.2L804.5,404.5L811.9,400.8L814.7,398.9"/>
<path d="M814.7,392.4L811.0,393.3"/>
<path d="M789.6,440.3L797.0,437.1L804.5,433.4L814.7,426.9"/>
<path d="M814.0,400.8L821.5,400.8L832.6,402.6L840.1,398.9L849.4,399.8L851.3,403.6L847.5,406.4L855.0,406.4L864.3,408.2L873.6,412.0L884.8,411.0L894.1,413.8L900.6,418.5L904.3,423.1L907.1,430.6L911.8,436.2L911.8,440.3"/>
<path d="M814.0,426.9L821.5,423.1L830.8,419.4L838.2,416.6L839.1,412.0L843.8,408.2L847.5,406.4"/>
<path d="M1128.0,330.0L1142.0,330.9L1151.3,336.5L1162.5,342.1L1168.1,344.0L1177.4,343.0L1186.7,341.2L1188.6,336.5L1197.0,335.6L1195.1,331.9L1192.3,330.0"/>
<path d="M1186.7,341.2L1188.6,348.6L1190.4,356.1L1196.0,357.9L1207.2,359.8L1218.4,360.7L1225.8,363.5L1230.5,368.2L1235.1,369.1L1237.9,364.5L1238.9,360.7L1246.3,358.9L1255.6,359.8L1264.9,362.6L1272.4,365.4L1276.1,369.1L1277.0,361.7L1281.7,360.7L1288.2,358.9L1292.9,356.1L1295.7,350.5L1302.2,346.8L1307.8,344.0L1315.2,343.0L1319.0,337.5L1316.2,334.7L1311.5,333.7L1309.6,330.0"/>
<path d="M1276.1,369.1L1278.0,374.7L1281.7,380.3L1283.6,387.7L1288.2,393.3L1291.0,398.9L1294.7,402.6L1300.3,404.5L1303.1,412.0L1309.6,413.8L1316.2,419.4L1315.2,422.2L1304.1,422.2L1294.7,421.3L1291.9,426.9L1285.4,428.7L1280.8,431.5L1282.6,435.2L1291.0,438.0L1294.7,440.3"/>
<path d="M1292.9,356.1L1298.5,359.8L1304.1,364.5L1307.8,367.3L1317.1,368.2L1328.3,370.0L1333.9,374.7L1336.6,382.2L1334.8,389.6L1337.6,393.3L1345.0,394.3L1352.5,397.1L1358.1,401.7L1362.7,403.6"/>
<path d="M1304.0,330.3L1311.5,333.7"/>
<path d="M1334.8,330.0L1337.6,335.6L1345.0,341.2L1348.8,343.0L1356.2,342.1L1362.7,341.2"/>
<path d="M1368.7,294.5L1363.7,299.2L1362.7,302.9"/>
<path d="M1319.9,337.5L1327.4,331.9L1331.1,330.0"/>
<path d="M1334.8,330.0L1335.8,335.6L1340.4,339.3L1347.9,343.0L1357.2,342.1L1368.4,341.2L1376.7,343.0L1379.5,348.6L1381.4,356.1L1387.0,359.8L1394.4,362.6L1400.9,365.4L1396.3,369.1L1397.2,371.9L1400.9,374.7L1401.5,382.2L1398.2,387.7L1394.4,395.2L1392.6,402.6L1388.8,408.2L1388.8,412.0"/>
<path d="M1400.9,365.4L1409.3,367.3L1416.8,364.5L1423.3,362.6L1425.2,357.9L1429.8,352.4L1434.5,346.8L1439.1,339.3L1441.0,332.8L1440.1,330.0"/>
<path d="M1360.9,404.5L1368.4,406.4L1373.9,405.4L1375.8,411.0L1383.3,413.8L1388.8,412.0L1396.3,409.2L1403.7,407.3L1411.2,408.2L1415.8,412.9L1416.8,419.4L1420.5,425.0L1425.2,426.9L1431.7,423.1L1439.1,421.3L1446.6,425.0L1451.2,425.9"/>
<path d="M1451.2,399.8L1448.8,402.6L1449.4,408.2L1451.2,412.0"/>
<path d="M789.6,440.0L782.1,443.7L776.5,449.3L767.2,453.0L759.8,456.8L752.3,462.4L744.9,467.9L739.3,473.5L733.7,476.3L726.3,479.1L720.7,484.7L717.9,491.2L718.8,499.6L721.6,507.1L726.3,513.6L733.7,518.2L741.2,521.0L750.5,522.0L759.8,521.0L767.2,519.2L772.8,514.5L780.3,512.6L784.0,516.4L783.1,523.8L786.8,529.4L784.0,535.9L778.4,537.8L769.1,536.9L756.1,540.6L746.7,544.3L744.9,548.0"/>
<path d="M612.6,548.0L616.4,543.4L623.8,542.4L630.3,541.5L628.5,548.0"/>
<path d="M911.8,440.0L910.9,445.6L905.3,450.2L904.3,454.9L901.5,460.5L903.4,465.1L899.7,472.6L896.0,480.0L891.3,485.6L887.6,491.2L888.5,496.8L882.0,499.6L871.7,502.4L862.4,504.3L855.9,508.9L852.2,515.4L855.0,522.0L858.7,529.4L859.6,536.9L857.8,544.3L856.8,548.0"/>
<path d="M880.1,548.0L879.2,540.6L876.4,533.1L872.7,525.7L871.7,522.0L876.4,516.4L882.0,514.5L885.7,517.3L887.6,511.7L890.4,507.1L893.2,509.8L894.1,513.6L897.8,508.9L900.6,506.1L901.5,511.7L905.3,513.6L904.3,520.1L899.7,524.7L897.8,529.4L899.7,533.1L903.4,528.5L909.0,525.7L910.9,530.3L915.5,532.2L921.1,533.1L925.8,531.3L929.5,524.7L931.3,519.2L933.2,522.0L930.4,526.6L933.2,529.4L936.9,524.7L941.6,523.8L937.9,531.3L935.1,536.9L933.2,539.6L937.9,541.5L941.6,538.7L944.4,535.0L950.9,533.1L958.3,534.1L966.7,535.9L971.4,533.1L972.3,528.5L977.9,526.6L984.4,522.0L990.9,518.2L998.4,514.5L1004.9,514.5L1007.7,522.0L1011.4,526.6L1015.2,531.3L1009.6,536.9L1004.0,540.6L1005.8,544.3L1010.5,542.4L1014.2,545.2L1018.9,543.4L1017.9,537.8L1022.6,540.6L1028.2,539.6L1026.3,535.9L1032.8,537.8L1039.4,535.0L1045.9,531.3L1049.6,531.3L1047.7,536.9L1045.9,544.3L1050.5,548.0"/>
<path d="M1072.0,548.0L1073.8,542.4L1077.6,536.9L1082.2,534.1L1088.7,534.1"/>
<path d="M1299.4,440.0L1300.3,444.7L1294.7,449.3L1286.4,452.1L1285.4,456.8L1291.0,462.4L1296.6,467.9L1304.1,474.5L1315.2,476.3L1324.5,481.0L1332.0,485.6L1332.9,489.4L1328.3,493.1L1320.8,493.1L1314.3,489.4L1310.6,491.2L1310.6,495.9L1306.8,497.7L1303.1,494.9L1302.2,490.3L1296.6,490.3L1289.2,495.9L1279.8,503.3L1270.5,510.8L1259.4,518.2L1248.2,523.8L1238.9,529.4L1236.1,535.0L1236.1,541.5L1238.9,548.0"/>
<path d="M1088.0,536.9L1095.5,535.0L1094.5,532.2L1101.0,531.3L1102.9,536.9L1106.6,541.5L1114.1,542.4L1121.5,544.3L1126.2,548.0"/>
<path d="M523.0,148.0L527.0,153.5L509.2,164.2L498.0,166.8L483.0,171.8L479.2,185.5L473.0,203.0L461.8,220.5L450.5,234.2L448.0,241.0L428.0,250.0L406.8,260.5L399.2,268.0L393.0,284.2L385.5,295.5"/>
<path d="M527.0,153.5L521.0,168.0L543.0,170.5"/>
<path d="M385.5,295.5L376.0,308.0L367.5,322.2"/>
<path d="M735.9,96.1L740.8,98.8L741.9,96.7L743.5,97.7L744.1,101.0L741.9,102.6L742.4,105.9L743.5,107.5L739.2,107.5L734.8,108.6L733.7,110.8L735.9,112.4L738.6,113.5L744.6,115.7L747.9,119.5L749.5,124.4"/>
<path d="M744.1,101.0L749.0,104.8L756.6,109.4L763.1,111.9L767.5,114.6L768.6,117.9L766.4,123.3L768.6,126.6L774.0,129.8L780.5,132.6L787.1,134.0"/>
<path d="M813.2,91.8L813.7,93.4L817.0,92.9L814.3,95.6L816.4,99.4L814.8,102.6L813.2,105.9L811.0,110.3L813.2,113.5L812.6,116.8L814.8,120.1L813.2,123.3L815.9,125.5L818.6,126.6L817.0,129.3L813.2,131.5L806.6,134.0"/>
</g>
<path d="M631.3,75.2L632.7,79.5L637.2,79.5L633.6,82.1L634.9,86.4L631.3,83.8L627.7,86.4L629.0,82.1L625.4,79.5L629.9,79.5Z" fill="#000"/>
<text class="city" x="635.6" y="79.3">Punjab</text>
<path d="M740.2,105.7L741.6,110.0L746.1,110.0L742.5,112.6L743.8,116.9L740.2,114.3L736.6,116.9L737.9,112.6L734.3,110.0L738.8,110.0Z" fill="#000"/>
<text class="city" x="745.0" y="109.5">Chandigarh</text>
<path d="M688.6,233.0L690.0,237.3L694.5,237.3L690.9,239.9L692.2,244.2L688.6,241.6L685.0,244.2L686.3,239.9L682.7,237.3L687.2,237.3Z" fill="#000"/>
<text class="city" x="692.4" y="236.8">Haryana</text>
<path d="M765.7,259.4L767.1,263.7L771.6,263.7L768.0,266.3L769.3,270.6L765.7,268.0L762.1,270.6L763.4,266.3L759.8,263.7L764.3,263.7Z" fill="#000"/>
<text class="city" x="769.8" y="263.6">Delhi</text>
<path d="M786.8,273.0L788.2,277.3L792.7,277.3L789.1,279.9L790.4,284.2L786.8,281.6L783.2,284.2L784.5,279.9L780.9,277.3L785.4,277.3Z" fill="#000"/>
<text class="city" x="790.4" y="276.5">Noida</text>
<path d="M941.6,286.1L943.0,290.4L947.5,290.4L943.9,293.0L945.2,297.3L941.6,294.7L938.0,297.3L939.3,293.0L935.7,290.4L940.2,290.4Z" fill="#000"/>
<text class="city" x="945.6" y="288.9">Bareilly</text>
<path d="M665.7,396.1L667.1,400.4L671.6,400.4L668.0,403.0L669.3,407.3L665.7,404.7L662.1,407.3L663.4,403.0L659.8,400.4L664.3,400.4Z" fill="#000"/>
<text class="city" x="669.4" y="398.9">Jaipur</text>
<path d="M833.6,376.3L835.0,380.6L839.5,380.6L835.9,383.2L837.2,387.5L833.6,384.9L830.0,387.5L831.3,383.2L827.7,380.6L832.2,380.6Z" fill="#000"/>
<text class="city" x="837.2" y="379.4">Agra</text>
<path d="M846.6,407.1L848.0,411.4L852.5,411.4L848.9,414.0L850.2,418.3L846.6,415.7L843.0,418.3L844.3,414.0L840.7,411.4L845.2,411.4Z" fill="#000"/>
<text class="city" x="850.3" y="410.1">Gwalior</text>
<path d="M1055.2,400.7L1056.6,405.0L1061.1,405.0L1057.5,407.6L1058.8,411.9L1055.2,409.3L1051.6,411.9L1052.9,407.6L1049.3,405.0L1053.8,405.0Z" fill="#000"/>
<text class="city" x="1059.2" y="404.1">Lucknow</text>
<path d="M1009.6,430.5L1011.0,434.8L1015.5,434.8L1011.9,437.4L1013.2,441.7L1009.6,439.1L1006.0,441.7L1007.3,437.4L1003.7,434.8L1008.2,434.8Z" fill="#000"/>
<text class="city" x="1013.2" y="433.7">Kanpur</text>
<path d="M1239.8,407.1L1241.2,411.4L1245.7,411.4L1242.1,414.0L1243.4,418.3L1239.8,415.7L1236.2,418.3L1237.5,414.0L1233.9,411.4L1238.4,411.4Z" fill="#000"/>
<text class="city" x="1242.5" y="410.5">Gorakhpur</text>
<path d="M1209.4,515.8L1210.8,520.1L1215.3,520.1L1211.7,522.7L1213.0,527.0L1209.4,524.4L1205.8,527.0L1207.1,522.7L1203.5,520.1L1208.0,520.1Z" fill="#000"/>
<text class="city" x="1212.7" y="519.7">Varanasi</text>
<path d="M1373.0,496.2L1374.4,500.5L1378.9,500.5L1375.3,503.1L1376.6,507.4L1373.0,504.8L1369.4,507.4L1370.7,503.1L1367.1,500.5L1371.6,500.5Z" fill="#000"/>
<text class="city" x="1377.0" y="498.7">Patna</text>
</g>
<rect x="1172.1" y="13.5" width="272.6" height="34.8" rx="5.5" ry="5.5" fill="#fff" fill-opacity="0.8" stroke="#808080" stroke-width="1.4"/>
<text class="ts" x="1308.4" y="38.7" text-anchor="middle">01-Feb-2026 23:00 IST</text>
<rect x="75.5" y="9.6" width="1376.4" height="538.4" fill="none" stroke="#000" stroke-width="1.4"/>
<g stroke="#000">
<line x1="75.50" y1="548.0" x2="75.50" y2="559.3" stroke-width="2.8"/>
<line x1="226.94" y1="548.0" x2="226.94" y2="559.3" stroke-width="2.8"/>
<line x1="378.38" y1="548.0" x2="378.38" y2="559.3" stroke-width="2.8"/>
<line x1="529.82" y1="548.0" x2="529.82" y2="559.3" stroke-width="2.8"/>
<line x1="681.26" y1="548.0" x2="681.26" y2="559.3" stroke-width="2.8"/>
<line x1="832.70" y1="548.0" x2="832.70" y2="559.3" stroke-width="2.8"/>
<line x1="984.14" y1="548.0" x2="984.14" y2="559.3" stroke-width="2.8"/>
<line x1="1135.58" y1="548.0" x2="1135.58" y2="559.3" stroke-width="2.8"/>
<line x1="1287.02" y1="548.0" x2="1287.02" y2="559.3" stroke-width="2.8"/>
<line x1="1438.46" y1="548.0" x2="1438.46" y2="559.3" stroke-width="2.8"/>
<line x1="113.36" y1="548.0" x2="113.36" y2="552.0" stroke-width="1"/>
<line x1="151.22" y1="548.0" x2="151.22" y2="552.0" stroke-width="1"/>
<line x1="189.08" y1="548.0" x2="189.08" y2="552.0" stroke-width="1"/>
<line x1="264.80" y1="548.0" x2="264.80" y2="552.0" stroke-width="1"/>
<line x1="302.66" y1="548.0" x2="302.66" y2="552.0" stroke-width="1"/>
<line x1="340.52" y1="548.0" x2="340.52" y2="552.0" stroke-width="1"/>
<line x1="416.24" y1="548.0" x2="416.24" y2="552.0" stroke-width="1"/>
<line x1="454.10" y1="548.0" x2="454.10" y2="552.0" stroke-width="1"/>
<line x1="491.96" y1="548.0" x2="491.96" y2="552.0" stroke-width="1"/>
<line x1="567.68" y1="548.0" x2="567.68" y2="552.0" stroke-width="1"/>
<line x1="605.54" y1="548.0" x2="605.54" y2="552.0" stroke-width="1"/>
<line x1="643.40" y1="548.0" x2="643.40" y2="552.0" stroke-width="1"/>
<line x1="719.12" y1="548.0" x2="719.12" y2="552.0" stroke-width="1"/>
<line x1="756.98" y1="548.0" x2="756.98" y2="552.0" stroke-width="1"/>
<line x1="794.84" y1="548.0" x2="794.84" y2="552.0" stroke-width="1"/>
<line x1="870.56" y1="548.0" x2="870.56" y2="552.0" stroke-width="1"/>
<line x1="908.42" y1="548.0" x2="908.42" y2="552.0" stroke-width="1"/>
<line x1="946.28" y1="548.0" x2="946.28" y2="552.0" stroke-width="1"/>
<line x1="1022.00" y1="548.0" x2="1022.00" y2="552.0" stroke-width="1"/>
<line x1="1059.86" y1="548.0" x2="1059.86" y2="552.0" stroke-width="1"/>
<line x1="1097.72" y1="548.0" x2="1097.72" y2="552.0" stroke-width="1"/>
<line x1="1173.44" y1="548.0" x2="1173.44" y2="552.0" stroke-width="1"/>
<line x1="1211.30" y1="548.0" x2="1211.30" y2="552.0" stroke-width="1"/>
<line x1="1249.16" y1="548.0" x2="1249.16" y2="552.0" stroke-width="1"/>
<line x1="1324.88" y1="548.0" x2="1324.88" y2="552.0" stroke-width="1"/>
<line x1="1362.74" y1="548.0" x2="1362.74" y2="552.0" stroke-width="1"/>
<line x1="1400.60" y1="548.0" x2="1400.60" y2="552.0" stroke-width="1"/>
<line x1="75.5" y1="546.60" x2="64.2" y2="546.60" stroke-width="2.8"/>
<line x1="75.5" y1="471.00" x2="64.2" y2="471.00" stroke-width="2.8"/>
<line x1="75.5" y1="395.40" x2="64.2" y2="395.40" stroke-width="2.8"/>
<line x1="75.5" y1="319.80" x2="64.2" y2="319.80" stroke-width="2.8"/>
<line x1="75.5" y1="244.20" x2="64.2" y2="244.20" stroke-width="2.8"/>
<line x1="75.5" y1="168.60" x2="64.2" y2="168.60" stroke-width="2.8"/>
<line x1="75.5" y1="93.00" x2="64.2" y2="93.00" stroke-width="2.8"/>
<line x1="75.5" y1="17.40" x2="64.2" y2="17.40" stroke-width="2.8"/>
<line x1="75.5" y1="531.48" x2="72.0" y2="531.48" stroke-width="1"/>
<line x1="75.5" y1="516.36" x2="72.0" y2="516.36" stroke-width="1"/>
<line x1="75.5" y1="501.24" x2="72.0" y2="501.24" stroke-width="1"/>
<line x1="75.5" y1="486.12" x2="72.0" y2="486.12" stroke-width="1"/>
<line x1="75.5" y1="455.88" x2="72.0" y2="455.88" stroke-width="1"/>
<line x1="75.5" y1="440.76" x2="72.0" y2="440.76" stroke-width="1"/>
<line x1="75.5" y1="425.64" x2="72.0" y2="425.64" stroke-width="1"/>
<line x1="75.5" y1="410.52" x2="72.0" y2="410.52" stroke-width="1"/>
<line x1="75.5" y1="380.28" x2="72.0" y2="380.28" stroke-width="1"/>
<line x1="75.5" y1="365.16" x2="72.0" y2="365.16" stroke-width="1"/>
<line x1="75.5" y1="350.04" x2="72.0" y2="350.04" stroke-width="1"/>
<line x1="75.5" y1="334.92" x2="72.0" y2="334.92" stroke-width="1"/>
<line x1="75.5" y1="304.68" x2="72.0" y2="304.68" stroke-width="1"/>
<line x1="75.5" y1="289.56" x2="72.0" y2="289.56" stroke-width="1"/>
<line x1="75.5" y1="274.44" x2="72.0" y2="274.44" stroke-width="1"/>
<line x1="75.5" y1="259.32" x2="72.0" y2="259.32" stroke-width="1"/>
<line x1="75.5" y1="229.08" x2="72.0" y2="229.08" stroke-width="1"/>
<line x1="75.5" y1="213.96" x2="72.0" y2="213.96" stroke-width="1"/>
<line x1="75.5" y1="198.84" x2="72.0" y2="198.84" stroke-width="1"/>
<line x1="75.5" y1="183.72" x2="72.0" y2="183.72" stroke-width="1"/>
<line x1="75.5" y1="153.48" x2="72.0" y2="153.48" stroke-width="1"/>
<line x1="75.5" y1="138.36" x2="72.0" y2="138.36" stroke-width="1"/>
<line x1="75.5" y1="123.24" x2="72.0" y2="123.24" stroke-width="1"/>
<line x1="75.5" y1="108.12" x2="72.0" y2="108.12" stroke-width="1"/>
<line x1="75.5" y1="77.88" x2="72.0" y2="77.88" stroke-width="1"/>
<line x1="75.5" y1="62.76" x2="72.0" y2="62.76" stroke-width="1"/>
<line x1="75.5" y1="47.64" x2="72.0" y2="47.64" stroke-width="1"/>
<line x1="75.5" y1="32.52" x2="72.0" y2="32.52" stroke-width="1"/>
</g>
<text class="tk" x="75.5" y="577.6" text-anchor="middle">68 °E</text>
<text class="tk" x="226.9" y="577.6" text-anchor="middle">70 °E</text>
<text class="tk" x="378.4" y="577.6" text-anchor="middle">72 °E</text>
<text class="tk" x="529.8" y="577.6" text-anchor="middle">74 °E</text>
<text class="tk" x="681.3" y="577.6" text-anchor="middle">76 °E</text>
<text class="tk" x="832.7" y="577.6" text-anchor="middle">78 °E</text>
<text class="tk" x="984.1" y="577.6" text-anchor="middle">80 °E</text>
<text class="tk" x="1135.6" y="577.6" text-anchor="middle">82 °E</text>
<text class="tk" x="1287.0" y="577.6" text-anchor="middle">84 °E</text>
<text class="tk" x="1438.5" y="577.6" text-anchor="middle">86 °E</text>
<text class="tk" x="58.8" y="553.5" text-anchor="end">25 °N</text>
<text class="tk" x="58.8" y="477.9" text-anchor="end">26 °N</text>
<text class="tk" x="58.8" y="402.3" text-anchor="end">27 °N</text>
<text class="tk" x="58.8" y="326.7" text-anchor="end">28 °N</text>
<text class="tk" x="58.8" y="251.1" text-anchor="end">29 °N</text>
<text class="tk" x="58.8" y="175.5" text-anchor="end">30 °N</text>
<text class="tk" x="58.8" y="99.9" text-anchor="end">31 °N</text>
<text class="tk" x="58.8" y="24.3" text-anchor="end">32 °N</text>
</svg></body></html>
